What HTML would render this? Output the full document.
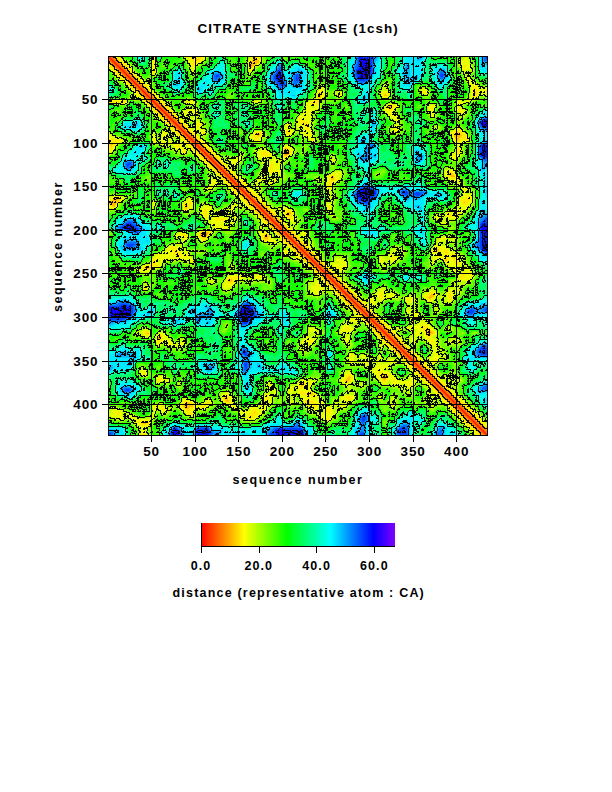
<!DOCTYPE html>
<html><head><meta charset="utf-8">
<style>
html,body{margin:0;padding:0;background:#fff;}
body{width:612px;height:792px;position:relative;overflow:hidden;font-family:"Liberation Sans",sans-serif;font-weight:bold;color:#000;}
.t{position:absolute;white-space:nowrap;line-height:1;}
#title{left:197.5px;top:21.7px;font-size:13.4px;letter-spacing:1.06px;}
.yl{position:absolute;font-size:13.5px;line-height:1;text-align:right;width:60px;letter-spacing:0.9px;}
.xl{position:absolute;font-size:13.5px;line-height:1;text-align:center;width:60px;letter-spacing:0.9px;}
.cl{position:absolute;font-size:12.5px;line-height:1;text-align:center;width:60px;letter-spacing:1.1px;}
#xlab{left:232.5px;top:473.5px;font-size:12.5px;letter-spacing:1.6px;}
#ylab{left:51.5px;top:311.5px;font-size:12.5px;letter-spacing:1.6px;transform-origin:0 0;transform:rotate(-90deg);}
#clab{left:172.5px;top:586.5px;font-size:12.5px;letter-spacing:1.2px;}
svg{position:absolute;left:0;top:0;}
</style></head><body>

<svg width="612" height="792" viewBox="0 0 612 792" shape-rendering="crispEdges">
<g><defs><clipPath id="pc"><rect x="108.0" y="56.0" width="380.0" height="380.0"/></clipPath></defs>
<g clip-path="url(#pc)">
<rect x="108.0" y="56.0" width="380.0" height="380.0" fill="#ff1500"/>
<path d="M490.5 435l-3 0l-125 -125l-253.5 -253.5l0 -3l16.5 -1l235 0l130 0l1 1l0 351l-1 30.5zM486.5 439l-381 0.5l-1 -1l0 -352l1 -29.5l3 0l378.5 378.5l-0.5 3.5z" fill="#ff4000" fill-rule="evenodd"/>
<path d="M490.5 434l-3 0l-12 -12l-365.5 -365.5l0 -3l380.5 -1l1 1l0 175l-1 205.5zM485.5 438.5l-375 1l-6 -1l1 -380.5l3 0l377.5 377.5l-0.5 3z" fill="#ff6a00" fill-rule="evenodd"/>
<path d="M490.5 432l-3 0l-42 -42l-333.5 -333.5l0 -3l378.5 -1l1 1l0 175l-1 203.5zM483.5 438.5l-373 1l-6 -1l1 -378.5l3 0l366.5 366.5l9 9l-0.5 3z" fill="#ff9500" fill-rule="evenodd"/>
<path d="M490.5 430l-3 0l-3 -2.5l-39 -39l-332 -332l0 -3l377 -1l1 176l-1 201.5zM481.5 438.5l-306 1l-71 -1l1 -377l3 0l332 332l39 39l2.5 3l-0.5 3zM251.5 65.5l0.5 -2l-1.5 0l0 2.5l1 -0.5zM390.5 107.5l0 -1.5l-2 0.5l0 1l2 0zM287 154.5l1 -2l-2.5 -2.5l-1 3.5l1 1.5l1.5 -0.5zM118 199.5l0 -1l-1.5 -0.5l-1.5 1.5l3 0zM206 235.5l1 -2l-1.5 -1l-3.5 1l1.5 2.5l2.5 -0.5zM429.5 334.5l1.5 -3l-3.5 -1l0 4l2 0zM159.5 338.5l0 -2l-1 0l-0.5 2l1.5 0zM386 378.5l0.5 -3l-4 0l0.5 3l3 0z" fill="#ffbf00" fill-rule="evenodd"/>
<path d="M490.5 428l-3 0l-4 -3l-38 -37.5l-52.5 -54l-258.5 -257.5l-19.5 -19.5l0 -3l36.5 -0.5l1.5 0.5l0.5 7l1 -7l2 -0.5l37.5 0.5l1 6l1.5 1.5l2 -1.5l-2.5 -2l0.5 -4l57 0l0 5l-4.5 5l1.5 5l4 -4l4 -2l0 -2l-3 -3l0 -4l3 0l232 -1l0 375.5zM479.5 438.5l-375 0l1 -232l0 -3l4 0l3 3l2 0l2 -4l4 -4l-5 -1.5l-5 4.5l-5 0l0 -57l4 -0.5l2 2.5l1.5 -2l-1.5 -1.5l-6 -1l-0.5 -37.5l0.5 -2l7 -1l-7 -0.5l-0.5 -1.5l0.5 -36.5l3 0l19.5 19.5l257.5 258.5l54 52.5l37.5 38l3 4l-0.5 3zM475.5 94.5l0 -3l-1.5 2l1.5 1zM321 97.5l0.5 -3l-2 -2l-1 5l1 1l1.5 -1zM386 96.5l1 -1l-1.5 -1.5l-1 1.5l1.5 1zM391.5 108.5l1 -2l-2 -1.5l-2.5 0.5l-1.5 2l2 2l3 -1zM458.5 140.5l1 -3l2.5 -2l-3.5 -4l-4 3l-0.5 2l2.5 4l2 0zM260 135.5l0.5 -2.5l-3.5 -0.5l0 3l3 0zM285.5 156.5l5 -4l-4 -5l-2 1.5l-1 3.5l0.5 3l1.5 1zM454.5 176.5l-3 -4l-3.5 0l2.5 4l4 0zM333.5 179.5l0 -3.5l-3 0.5l1 3l2 0zM469 198.5l-1.5 0l1.5 0zM465 202.5l-1.5 -1l0 1l1.5 0zM187 208.5l1 -3l-2.5 -1l-1.5 3l1.5 1.5l1.5 -0.5zM290.5 215.5l0.5 -3l-3 -1l-1.5 2l0 2l2 1l2 -1zM206 237.5l2.5 -5l-5 -1l-4 2l0.5 2l3.5 2.5l2.5 -0.5zM267.5 238.5l1 -2l-1 -2l-2 0l-2 1.5l1 3l3 -0.5zM436.5 251.5l2 -1l-0.5 -2l-3.5 1l0 1.5l2 0.5zM454.5 258.5l0.5 -3l-1.5 -0.5l-0.5 2.5l1.5 1zM447.5 260.5l-1 -3l-2 0l1 3l2 0zM148.5 269.5l2 -2l-1 -1l-5 1l1 1.5l3 0.5zM231.5 281.5l0 -2l-3 -1l-0.5 3l3.5 0zM431 298.5l2.5 -2l0 -3l-2 0l-3.5 4l0.5 1l2.5 0zM430 335.5l2.5 -2l0 -2l-3 -2.5l-3 -0.5l0 6.5l1 1l2.5 -0.5zM148 334.5l0.5 -1l-1.5 -1l-0.5 1.5l1.5 0.5zM160.5 339.5l1 -3l-2 -2l-2 1.5l-0.5 2.5l1.5 2l2 -1zM385 380.5l3 -5l-3.5 -1.5l-4 0.5l1 4l2 2l1.5 0zM348.5 381.5l2.5 -4l-1.5 -1.5l-4.5 4.5l1.5 1.5l2 -0.5zM302.5 386.5l1 -3l-1 -1.5l-2.5 2.5l1 2l1.5 0zM313 395.5l-0.5 -2l-3 -1l0 2l3.5 1zM229 401.5l-1.5 -4l-3 -1.5l-0.5 2.5l1 2l2.5 2l1.5 -1zM310.5 402.5l-1 -1.5l-2.5 0.5l0.5 1.5l3 -0.5zM188.5 409.5l1 -2l3 -1l0.5 -1l-1.5 -2l-4 -1.5l-4 4.5l1.5 2l3.5 1zM255 412.5l-1.5 -1l0 1l1.5 0zM251 416.5l-0.5 -1l0.5 1zM146.5 423.5l-1 -1.5l-2 1.5l3 0z" fill="#ffea00" fill-rule="evenodd"/>
<path d="M490.5 426.5l-3 0l-4 -3l-8 -10l-29 -27l-21.5 -23l-19.5 -18l-11 -13l-19 -17l-9 -10l-6 -5l-5 -6l-35 -33.5l-27 -29l-7 -5.5l-12.5 -14l-13 -12l-3.5 -5l-6.5 -5l-9.5 -10.5l-5 -3.5l-50 -51l-52 -51l-5.5 -7l-12 -11l0 -3l35.5 0l0 18l1 2.5l2 -2.5l-0.5 -18l2.5 -0.5l34 0.5l-1 7l2 8l2 -4l7.5 -5l0.5 -6l49 0l0 5l-3.5 5l2.5 7l4 -4.5l5.5 -3.5l0 -2l-2.5 -3l0 -4l1 0l232 -0.5l0 36l-5 0.5l-1 1l2 3l4 0l0.5 17l-0.5 316zM477.5 438.5l-315 0.5l-17 -0.5l0 -4l-3 -2l-1 1l-0.5 5l-36 0l0.5 -232l0 -1l4 0l3 2.5l2 0l3.5 -5.5l4.5 -4l-7 -2.5l-5 3.5l-5 0l0 -49l6 -0.5l5 -7.5l4 -2l-8 -2l-7 1l-0.5 -34l0.5 -2.5l18 0.5l2.5 -2l-2.5 -1l-18 0l0 -35.5l3 0l11 12l7 5.5l51 52l51 50l3.5 5l10.5 9.5l5 6.5l5 3.5l12 13l14 12.5l5.5 7l29 27l33.5 35l6 5l5 6l10 9l17 19l13 11l18 19.5l23 21.5l27 29l10 8l3 4l-1 3zM465.5 68.5l1 -3l-2 -1l-1 3l1 1.5l1 -0.5zM477 96.5l1.5 -6l-3 -4l-2 -1l-1.5 11l1.5 1l3.5 -1zM318.5 106.5l-0.5 -5l4.5 -5l-1 -6.5l-3.5 2.5l-1.5 7l-5.5 2l-2 2l6.5 1l2 2l1 0zM426.5 93.5l-1 -3l-2.5 0l0.5 2.5l3 0.5zM341.5 94.5l-1 -2.5l-2.5 1.5l1.5 1.5l2 -0.5zM387 97.5l1.5 -2l-0.5 -2l-4.5 -1.5l-1 1.5l1 3l3.5 1zM256 102.5l0.5 -1l-1.5 0l1 1zM461 103.5l0 -2l-2.5 0l0 2l2.5 0zM193 102.5l-1.5 0l1.5 0zM390.5 110.5l7 -4l-7 -2.5l-3 1l-2 2.5l0 2l2 2l3 -1zM431.5 109.5l2.5 -2l0 -2l-4.5 1l0 2l2 1zM461.5 111.5l-1.5 -3l-2.5 0l1 3l3 0zM309.5 130.5l-1 -7l-9 -5.5l-1 2.5l1 3l4 2l3 4.5l3 0.5zM199 128.5l0.5 -4l-2 -1l-1 4l2.5 1zM459.5 142.5l3 -3.5l4 1.5l1 -1.5l-1 -2.5l-6 -6l-3 -1l-5.5 4l3.5 8l2 1.5l2 -0.5zM289.5 134.5l1 -2l-4 -3l-1 1l1 3l2 1.5l1 -0.5zM204.5 133.5l0 -2l-3.5 0l1.5 2l2 0zM258 139.5l4.5 -5l-2 -3l-4 0l-5 5l3 3l3.5 0zM308.5 135.5l-1.5 0l1.5 0zM154.5 140.5l0 -1l0 1zM313.5 140.5l-2 -1l2 1zM181 146.5l-2.5 -2.5l-3.5 2.5l6 0zM286 157.5l6.5 -5l-3.5 -5l-2.5 -1.5l-2.5 1.5l-1 5l0.5 4.5l1 1l1.5 -0.5zM455 157.5l5.5 -6l-1 -3.5l-1.5 0.5l-1.5 5l-3 2.5l0 1.5l1.5 0zM185.5 152.5l0 -2l-2 -1.5l0 3.5l2 0zM269.5 155.5l1 -1l-5 -4l-4.5 2l0.5 3l8 0zM233.5 163.5l-1 -1.5l1 1.5zM271.5 173.5l2 -3l-0.5 -6l-1.5 -2l-2 2l0 7l1 2l1 0zM456 178.5l-0.5 -3l-3 -4l-3 -1l-3 0.5l0 3.5l2 3l4 1.5l3.5 -0.5zM330 188.5l1.5 -6l4.5 -3l-2 -5l-2.5 0l-3 2l1 4l-2 3l0 3l1 2.5l1.5 -0.5zM215.5 181.5l-1.5 -1l1.5 1zM466.5 206.5l1.5 -4l3 -2l-0.5 -4.5l-4 0l-2 3l-4 1.5l0.5 3l5.5 3zM188 209.5l4 -5l-2.5 -5l-5.5 4l-0.5 2l1 4.5l3.5 -0.5zM154 204.5l0.5 -1l-1 -0.5l0.5 1.5zM330 208.5l0 -3l-1.5 -1l-1 3l1 1.5l1.5 -0.5zM207 218.5l0.5 -9l-2 -1l-2 1.5l-1 3.5l4.5 5zM291.5 218.5l1.5 -6l-2 -2l-3.5 -0.5l-3 3.5l0 1.5l4 3.5l3 0zM451.5 217.5l0 -4.5l-3 -0.5l-1 2l0.5 2l3.5 1zM223.5 221.5l2 -2l-1 -1.5l-10 0.5l1 2l8 1zM206 239.5l4 -6l-0.5 -2l-6 -0.5l-5 2l-0.5 1.5l1.5 2.5l4 3l2.5 -0.5zM268 240.5l2.5 -1l0.5 -2l-3.5 -5l-2 0l-3.5 3l0.5 3l2 2.5l3.5 -0.5zM305 235.5l1 -2l-3 0l2 2zM185 238.5l1.5 -1l0 -2l-4 -2l-1 1l3.5 4zM182.5 257.5l-0.5 -3l-4.5 -3l-2 -4l-3 -1l-2.5 1l5.5 9l7 1zM438 252.5l3 -2l0 -2l-3.5 -1.5l-4 1.5l-1 2l1 2.5l4.5 -0.5zM448 263.5l1.5 -2l-1.5 -10l-1.5 -2.5l-2 -0.5l-1.5 2l1.5 4l-2 3l3 4.5l2.5 1.5zM287.5 253.5l-0.5 -2l-1.5 -0.5l-0.5 2.5l2.5 0zM459.5 264.5l0.5 -2l-3 -2l0 -6l-4.5 -1.5l-2 2.5l1.5 4l4.5 5.5l3 -0.5zM188 256.5l-0.5 -1.5l0.5 1.5zM149 270.5l4.5 -4.5l5 0.5l-2 -2.5l-1 -7l-2 2l-2 5.5l-7 1.5l-2.5 3.5l7 1zM394 260.5l1.5 -2.5l-3 -1l-1 2.5l2.5 1zM192.5 260.5l-1 -1l0 1.5l1 -0.5zM340 268.5l-1.5 -2.5l-4 -0.5l3.5 3l2 0zM472.5 276.5l0 -2.5l-2.5 -1.5l-0.5 4l1 1l2 -1zM465 278.5l-0.5 -4l-3 -0.5l-1.5 1.5l0.5 3l4.5 0zM232.5 283.5l2 -4l6 -1.5l0.5 -1.5l-4.5 -1l-4 2l-4 -1l-2 3l0 3l4 1.5l2 -0.5zM261 277.5l-2.5 -2l-2 1l2 2l2.5 -1zM321 287.5l-3.5 -5l1 4.5l2.5 0.5zM146.5 289.5l0.5 -2l-1.5 -1.5l-1 3.5l2 0zM381.5 299.5l1.5 -3l-2.5 -5l-2 4l1 3l2 1zM431 300.5l4.5 -5l-1 -3l-2 -1.5l-8 5.5l4 4.5l2.5 -0.5zM451.5 299.5l0.5 -3l-1.5 -4l-1 0l-1.5 2l0.5 4l1 1.5l2 -0.5zM408.5 301.5l1.5 -2l-2.5 -1.5l-1 2l2 1.5zM373 303.5l-0.5 -3.5l-2 0l0 2l2.5 1.5zM355.5 320.5l-1.5 -2l-2 0l0.5 2l3 0zM428.5 338.5l6.5 -5l-0.5 -2l-7 -5.5l-6 -0.5l-0.5 2l3.5 3l2 7l2 1zM350 330.5l1.5 -2l-2 -1.5l-3 -0.5l-3 2l6.5 2zM149 335.5l0.5 -2l-1 -2l-4 -1l-1 2l1.5 3l4 0zM159.5 344.5l4 -8l-2 -3l-3 0.5l-2 3.5l1.5 7l1.5 0zM311 343.5l1.5 -3l-3 -1l-0.5 3l2 1zM432.5 343.5l1.5 -1l-0.5 -2l-4 0l1 2l2 1zM352 357.5l1.5 -2l-2.5 -1l-1 2l2 1zM437 360.5l0.5 -3l-2 0l-1 3l2.5 0zM385.5 382.5l5 -7l-8 -3l-3 -3.5l-2 0.5l1 7l5 6l2 0zM145.5 374.5l-0.5 -3l-2.5 -0.5l0 2.5l3 1zM347.5 383.5l3 -2l2.5 -4l-4.5 -5l-5.5 8l1.5 2l3 1zM160 381.5l1.5 -3l-3 -1l-1 4.5l2.5 -0.5zM395 381.5l-0.5 -3l-2 -1l0 4l2.5 0zM303 388.5l2.5 -6l-3 -2l-3 2l-0.5 3l1.5 3.5l2.5 -0.5zM412 385.5l0.5 -3l-3 1l0 2l2.5 0zM315.5 396.5l-0.5 -2l-5.5 -4l-3 2l-4 -1.5l-2 1.5l0.5 2l2.5 1.5l3 -0.5l6 2l3 -1zM231 403.5l-1.5 -7l-3 -2l-3.5 0l-0.5 3l1 3l4 3l3.5 0zM269.5 399.5l-1 -3.5l-2 -0.5l-2 1l0.5 3l4.5 0zM351.5 399.5l0.5 -2l-1.5 -1l-4 -0.5l-2 1.5l0 1l4 1.5l3 -0.5zM316.5 407.5l0.5 -3l-4.5 -4l-4 -1.5l-3 0.5l-0.5 2l1.5 3.5l6 0l2 3l2 -0.5zM191.5 415.5l1 -1l-1.5 -4l3.5 -3l0.5 -2l-3 -3l-6.5 -2.5l-4 5.5l0 2l7 7l3 1zM205 407.5l1.5 -2.5l3 -2l0 -1.5l-1.5 0l-2.5 3l-5.5 2l1.5 2l3.5 -1zM163.5 409.5l0 -3l-3 -1l0.5 3l2.5 1zM154.5 409.5l1.5 -2l-1.5 -1.5l-1.5 1.5l1.5 2zM330 413.5l0.5 -5l-3 -0.5l-1.5 1.5l0.5 3l3.5 1zM253.5 418.5l1 -2.5l4 -1.5l-3 -5l-2 -1l-2.5 4l-3 2l-0.5 3l2 1.5l4 -0.5zM119.5 414.5l1 -2.5l-3 -0.5l-0.5 3l2.5 0zM329 420.5l0.5 -2l-1 -1l-4 0.5l1.5 2.5l3 0zM144 426.5l4.5 -1.5l0.5 -4.5l-11.5 1l3 4l3.5 1z" fill="#eaff00" fill-rule="evenodd"/>
<path d="M490.5 424.5l-3 0l-5 -3.5l-6 -8l-8 -6.5l-5 -6.5l-27 -25l-11 -12.5l-20 -18l-10 -13l-20 -17l-7 -10l-7 -4l-5 -7l-4.5 -3l-12.5 -14l-18 -16l-10.5 -12l-1.5 -4l-5.5 -2l-10.5 -12.5l-6.5 -4.5l-9.5 -9.5l-2.5 -4.5l-4.5 -3l-9 -9l-3 -5l-7 -5l-9 -11l-5 -2.5l-50 -51.5l-9 -7.5l-27 -26.5l-3 -5.5l-14 -11.5l-3.5 -6l-11.5 -10l-1 -4l33.5 0l-0.5 18l2 4l2 -1.5l1 -2.5l-1 -18l2 -0.5l28.5 0.5l-0.5 4l5 7l2 8l3 -7l7 -4l2.5 -3l0.5 -5l44.5 0l0 4l-2.5 5l1.5 9l1.5 1l4 -5l6 -4l0.5 -3l-1.5 -3l0 -4l231 -0.5l0 35l-10 1l-12 -12l-1 -0.5l-1 2l4.5 7l-0.5 13.5l7 -1.5l4 -5.5l5 3l4 0.5l0.5 3l-0.5 326zM471.5 70.5l-1.5 -8l-3.5 -5.5l-3 3.5l-3 1l2 7l2 2.5l3 -1l4 0.5zM476.5 438.5l-326 0.5l-3 -0.5l-0.5 -4l-3 -5l5.5 -4l1.5 -7l-13.5 0.5l-7 -4.5l-2 1l0.5 1l12 12l-1 10l-35 0l0.5 -231l4 0l3 1.5l3 -0.5l4 -6l5 -4l-1 -1.5l-9 -1.5l-5 2.5l-4 0l0 -44.5l5 -0.5l3 -2.5l4 -7l7 -3l-8 -2l-7 -5l-4 0.5l-0.5 -28.5l0.5 -2l18 1l2.5 -1l1.5 -2l-4 -2l-18 0.5l0 -33.5l4 1l10 11.5l6 3.5l11.5 14l5.5 3l26.5 27l7.5 9l51.5 50l2.5 5l11 9l5 7l5 3l9 9l3 4.5l4.5 2.5l9.5 9.5l4.5 6.5l12.5 10.5l2 5.5l4 1.5l12 10.5l16 18l14 12.5l3 4.5l7 5l4 7l10 7l17 20l13 10l18 20l12.5 11l25 27l6.5 5l6.5 8l8 6l3.5 5l0 3zM386 85.5l-0.5 -1l-1 1l1.5 0zM315 141.5l0.5 -2l-3.5 -3l0.5 -3l-1.5 -10l1 -10l1.5 -3l6.5 -3l0 -6l4 -6l0 -7l-1.5 -2l-5 5l-1.5 7l-5.5 2l-4 3l-1 9l-5 2.5l-3.5 4.5l0.5 8.5l3 -1.5l2 0l1.5 3l-1.5 3l2.5 4l4 2l2.5 3l3.5 0zM427 94.5l1 -2l-1 -2l-2.5 -2l-2.5 1l0.5 4l4.5 1zM388.5 97.5l1 -3l-1.5 -3l-3.5 -2l-3 2l-0.5 2l2.5 4.5l3 0.5l2 -1zM341.5 95.5l1.5 -2l-1.5 -2l-2 0l-3 2l2 2.5l3 -0.5zM255.5 103.5l4 -2l-5 -1l-1 2l2 1zM462.5 114.5l2 -1l0.5 -2l-5 -5l4 -4l-5.5 -2l-1.5 2l1 3l-2 3l0.5 2l4 3.5l2 0.5zM468.5 101.5l1 -1l-1 -0.5l-3.5 1.5l3.5 0zM195 103.5l-0.5 -2l-2 -1l-7.5 1l5.5 2.5l4.5 -0.5zM397.5 132.5l1.5 -2l-1.5 -14.5l-1 -1.5l-4 1l0 -3l1.5 -3l4 -2l0.5 -1.5l-9 -2.5l-4.5 3l-1 4l13 12l-1 4l-3.5 3l1.5 3l3.5 0zM433.5 116.5l1 -2l-1.5 -4l2.5 -5l-5 -1l-2 2l0 4l3.5 6l1.5 0zM312.5 108.5l-1 -2l2 -1l1 2l-2 1zM187 115.5l3.5 -2.5l6 1l0.5 -3.5l-1.5 -1.5l-3 0l-9 2.5l0 3.5l2 1l1.5 -0.5zM195 119.5l0.5 -1l-1 -1l-2.5 1l3 1zM205 134.5l1 -2l-0.5 -2l-5 -2l1 -5l-5 -2.5l-1.5 5.5l1 3l5.5 4.5l3.5 0.5zM289 136.5l4.5 -5l-4.5 -3l1 -4l-1.5 -1l-2 1l-2.5 5l2.5 6l2.5 1zM437 127.5l-3 0l3 0zM455.5 159.5l5.5 -7l-1 -8l2.5 -3l5 0l1 -2l-1 -4l-9 -8l-8 5l4 9.5l3.5 3.5l-2 6l-4.5 5l1 2.5l3 0.5zM259.5 140.5l3.5 -4l0 -4l-2.5 -2l-5 0.5l-5.5 6.5l4.5 3.5l5 -0.5zM165 145.5l1 -1l-0.5 -7l2.5 -3l-2.5 -3.5l-3 1.5l-1.5 9l0.5 3l3.5 1zM155.5 142.5l0.5 -4l-2.5 -5.5l-1 7.5l1 2l2 0zM171 143.5l0.5 -2l-1 -1.5l-1 2.5l1.5 1zM186 153.5l0.5 -3l-5 -6.5l-3 -1l-5.5 1.5l2.5 5l5 -1l2 5l3.5 0zM285.5 159.5l7 -5l1 -2l-3 -6l-4 -1.5l-3 1.5l-1 5l0.5 8l0.5 1l2 -1zM262 158.5l9.5 -1.5l1 -1.5l-6 -6l-6 0.5l-2.5 1.5l-0.5 5l2 3l2.5 -1zM236 165.5l4.5 -5.5l1 -5l-5 4l-6.5 1.5l2.5 4l3.5 1zM280.5 176.5l1.5 -2l-1.5 -7l0.5 -5l-3.5 -0.5l-2 1.5l1.5 -3l-2.5 -2.5l-6.5 4.5l0.5 11l2 2l6 -4l4 5zM334 162.5l0.5 -2l-2 -2l0 4l1 1l0.5 -1zM460.5 184.5l-0.5 -4l-6.5 -10l-5 -1.5l-3 1l-1 4.5l1.5 3l4.5 2.5l5 1l4 4.5l1 -1zM331 190.5l1.5 -6.5l5.5 -3.5l2.5 -3.5l1 -3.5l-1 -2l-4 0l-9.5 5l0 13l2.5 2l1.5 -1zM259 188.5l-1 -5l6.5 -5l-1 -3l-6.5 6l-0.5 5l2.5 2zM208 189.5l4 -1l6 -5l-3.5 -5l-3 0l-0.5 5l-4 6l1 0zM271.5 183.5l4 -2l0.5 -2l-2.5 -0.5l-2 3l-3.5 1.5l3.5 0zM455 219.5l9 -7l8.5 -11l-0.5 -8l-5.5 0.5l-1 -1.5l2 -3l-4 -2l-1 1l1 8.5l-4 1l-0.5 1.5l0.5 5l2.5 3l-2.5 0l-2 1.5l-2 7.5l-1.5 -1l-1.5 -4l-2 -0.5l-3 1l-2.5 3.5l3.5 3.5l6.5 0.5zM187 211.5l6 -5l-0.5 -5l-3 -3.5l-7 6.5l1 6l3.5 1zM154 207.5l1.5 -4l-2 -2.5l-1 3.5l1.5 3zM330 211.5l1.5 -5l-1 -3l-2 -0.5l-1.5 0.5l-0.5 3l1 3l2.5 2zM230.5 212.5l5 -6.5l5.5 0.5l-2.5 -2l-5 0.5l-6 5.5l1 2l2 0zM208 220.5l1.5 -9l2 -4l-3 -2l-5 0.5l-2 3.5l0 4.5l4 5.5l2.5 1zM294.5 223.5l-0.5 -12l-10.5 -5l-1.5 2l2.5 2l-1.5 3l1 2l9.5 8.5l1 -0.5zM439.5 219.5l3 -3l-4 -1.5l-3 0.5l0 3l4 1zM228 229.5l0 -2l-4.5 -3l4 -5l-1 -2.5l-13 -0.5l-3.5 6l2.5 2.5l3 -1.5l-1.5 2l0.5 3.5l13.5 0.5zM233.5 223.5l2.5 -5l-0.5 -2.5l-1.5 3.5l-3 2l0.5 2.5l2 -0.5zM446 223.5l-1.5 -2l-4 1l2 1.5l3.5 -0.5zM204.5 241.5l7 -8l1 -2l-1 -0.5l-9 -0.5l-5 2l-0.5 2l1.5 4l4 3l2 0zM275.5 242.5l0.5 -1l-8.5 -9.5l-2 -1l-3 1.5l-2 -2.5l-2 1.5l5 10.5l12 0.5zM185.5 240.5l3 -4l-2.5 -3l-5.5 -1.5l-5 3.5l1 2.5l3 -1.5l2 1l2 4l2 -1zM306.5 236.5l1 -4l-3 -1l-3 1l1 4l4 0zM439 242.5l1.5 -1.5l4 0l2 -2.5l-0.5 -1l-3.5 -1l-2.5 1l-2.5 4l0 1.5l1.5 -0.5zM454 239.5l0.5 -1.5l-2 -0.5l0 2l1.5 0zM149.5 271.5l4 -3.5l6.5 -0.5l2.5 -6l2 -1.5l11 -1l10 1.5l3 -0.5l4 4l1 -4.5l-3 -2.5l-2 -4l-3.5 -2.5l-3.5 1.5l-3 -1.5l0 -2l1.5 -3l-9.5 0l-3.5 3l-2.5 5l-9 1l-3 4l-2 5.5l-7 1.5l-5 5l4 1.5l7 -0.5zM458 271.5l-0.5 -3l4.5 -5l-0.5 -2l-3.5 -3l1.5 -3l-0.5 -1l-8.5 -4l-6 -5l-3 0.5l-4 -1.5l-4 2.5l-2 3.5l1.5 7l-0.5 4l1 1l4 -3.5l4 0l5 5.5l4.5 3l2.5 4l3 1l1.5 -1zM286.5 255.5l2.5 -2l-0.5 -3l-4 -1l-0.5 5l2.5 1zM395 261.5l2.5 -3l-4.5 -5l3 -3l-1.5 -1l-5.5 6l1.5 6l4.5 0zM383 263.5l2.5 -4l-2.5 -2l-2.5 -0.5l-0.5 4.5l1.5 2.5l1.5 -0.5zM342 272.5l5 -6l-2 -6l-8.5 -2l-0.5 2l2.5 2l-6 0.5l0 2.5l9.5 7zM159.5 262.5l-2 -1l1 -2l2 1l-1 2zM384.5 268.5l0 -2.5l-1 1.5l1 1zM468 281.5l5 -4l1 -2l-2.5 -4.5l-5 -4l-2 1.5l0 3l-6 1.5l0 6.5l1 1.5l8.5 0.5zM226.5 289.5l6 -3.5l3.5 -5.5l6.5 -1.5l1 -1.5l-1 -2l-6 -1l-4 1l-4.5 0l-5 11l0.5 2l3 1zM261 279.5l2 -1l-0.5 -2.5l-5 -1.5l-2.5 1l0 2l1.5 1.5l4.5 0.5zM213.5 282.5l2 -1l-1 -1l-4 0l3 2zM319.5 294.5l5 -5l-6 -8.5l-3 -0.5l-1 6l-3 -2.5l-1.5 2.5l2.5 6.5l5 2l2 -0.5zM146.5 290.5l1.5 -3l-2.5 -3l-2 4l1 2l2 0zM381 301.5l4.5 -4l8.5 -1l0.5 -2l-2 -2l-7 3.5l-1.5 -2.5l0.5 -5l-4 0.5l-4.5 5.5l3 6l2 1zM449.5 302.5l4 -4l0 -6l1 -2l2 3l3 -1l-2 -5l-3 3l-4 -1.5l-3.5 3.5l0 8l2.5 2zM432 301.5l5 -6l-1 -3l-3.5 -3l-5 3.5l-3 1l-1.5 2.5l5.5 5.5l3.5 -0.5zM410.5 302.5l4.5 -2l-0.5 -3l-3 -1l-5.5 1l-0.5 2l1 3l2 1l2 -1zM376 305.5l-3.5 -9l-3.5 3l0 3l1.5 1.5l5.5 1.5zM409.5 312.5l1 -1l-1 -1.5l-3 0l0.5 2.5l2.5 0zM411.5 318.5l6.5 -2l0 -3l-4.5 -1.5l-1.5 1.5l-0.5 5zM358 323.5l-2 -5l-1.5 -1.5l-3 0l-3 3.5l9.5 3zM434.5 363.5l4 -3l1.5 -3l-4 -5l1 -5l-1 -8l-4 -2l4.5 -3l0 -3l-13 -11.5l-6 5l-10 2.5l-0.5 1l2.5 0.5l7.5 -0.5l-2 4l0 4l4.5 0l2 -4.5l2 1l1.5 5.5l8 8l0 10l-4.5 3l4 4l2 0zM348 342.5l1.5 -9l4 -5l-7 -4.5l-4 2.5l-2.5 5l1.5 1.5l4 -1l2.5 1.5l-3.5 7l2 2l1.5 0zM313.5 332.5l2.5 -3l-3.5 -2l-3 0.5l-0.5 1.5l1.5 3l3 0zM451 328.5l-1.5 -1l-1.5 1l3 0zM400 329.5l-1.5 -2l-2 1l1 1l2.5 0zM149.5 336.5l0.5 -5l-4.5 -2.5l-2 0.5l-2 3l2 3.5l3 1.5l3 -1zM138 333.5l-0.5 -1l-1 1l1.5 0zM183.5 346.5l1.5 -3l-1.5 -2.5l-2 -0.5l-3 3.5l-4 1l-6 -5.5l-5 -7l-4 0l-3.5 4l-0.5 3l2.5 7l1.5 -0.5l2 -4l3 -1.5l3 0l-1 4l1.5 1l15.5 1zM320.5 332.5l-1 -1l-1.5 1l2.5 0zM312 344.5l2 -5l-4.5 -2.5l-3.5 0.5l-4.5 5l1 1.5l3 -3l4 4l2.5 -0.5zM415 343.5l-0.5 -6l-2 -1l-1.5 2l0.5 3l2 2.5l1.5 -0.5zM458.5 342.5l1 -1l-2.5 -1l-0.5 1l2 1zM451 342.5l0.5 -2l-2 1l0 1l1.5 0zM382 347.5l-0.5 -2.5l-2 0.5l1 2.5l1.5 -0.5zM441 351.5l-1.5 -1.5l-1.5 1.5l1.5 1l1.5 -1zM353 362.5l2 -7l-4.5 -2.5l-1.5 1.5l-0.5 6l2 3l2.5 -1zM364.5 357.5l0 -2.5l-2.5 -0.5l0 3l2.5 0zM411 387.5l5 -6l-3.5 -4.5l-2 0l-0.5 2.5l-1.5 1.5l-10 0l-8 -8l-6.5 -2.5l4.5 -3l0 -4.5l-4 0l-4 2l0.5 -7.5l-0.5 -2.5l-1 0.5l-2.5 10l-5 6l10.5 12l4 1l3 -4.5l2 4l8 1l5 -1l4 3.5l2.5 0zM368 366.5l2.5 -7l-5 0.5l-1.5 1.5l1 4l3 1zM396 362.5l-3.5 -3.5l-2 0l-2 1.5l1 2l6.5 0zM146 375.5l1 -2l-1.5 -3l-4 -0.5l-1 2.5l1.5 2l1.5 1.5l2.5 -0.5zM348.5 384.5l4 -3l2 -4l-6 -6.5l-2.5 1.5l-1 3l-3.5 5l4 4.5l3 -0.5zM160 382.5l3.5 -2l4 2l1 -2l-6 -4l-3 -0.5l-2.5 1.5l-0.5 4l1 2l2.5 -1zM447 377.5l-1 0l1 0zM459 379.5l-1 0l1 0zM317 409.5l2.5 -3l4 -0.5l1 -1.5l-1 -3l-4 -2.5l-3 -4.5l-5.5 -5l0 -4l3.5 -4l-11 -2l-3 1l-4 5l1.5 8l4.5 5l4 8.5l1 0.5l3 -1.5l3 3.5l3.5 0zM180 384.5l-0.5 -2.5l0.5 2.5zM269 389.5l3 -3l-1.5 -3l-2 -0.5l-1.5 2.5l1.5 5l0.5 -1zM291 394.5l2 -2l0 -4l2.5 -2l-0.5 -1l-2.5 0l-3.5 3l0 4l2 2zM404 388.5l0 -2l-1.5 0l0 2l1.5 0zM276 393.5l0 -3l-1.5 -2l-1 4.5l1 1l1.5 -0.5zM237.5 408.5l-4.5 -5l-1 -6l-3 -4l-2.5 -1l-5 1.5l0 4.5l1 3l10 6.5l5 0.5zM253.5 420.5l11 -8.5l7 -9.5l-0.5 -6l-2.5 -3.5l-4 2l-1.5 3.5l0.5 2l4 1.5l1 1.5l-7.5 2l-1.5 2l0 2.5l-3 -2.5l-5 -0.5l-1.5 0.5l0 3l-1.5 1l-9 -1l2 5l3 -2l1.5 1l-0.5 5.5l8 0.5zM344.5 407.5l1 -3l-3 -2l2 -1l7 -0.5l3 -2.5l-1 -3l-7 -1l-5 3l-0.5 3l1.5 2l-3 3l3 2l2 0zM429.5 394.5l-0.5 0l0.5 0zM380.5 398.5l0 -2.5l-1 1.5l1 1zM394 399.5l0.5 -2l-1 0l-1 2l1.5 0zM193 416.5l1 -2l-1 -3l1.5 -2l3 -2l3 1.5l5 0l6 -5.5l-0.5 -3l-3.5 -0.5l-4 4l-6 2l-3.5 -3.5l-10 -4l-4.5 7l0.5 2l7.5 8l5.5 1zM291 402.5l1 -1l-1.5 -1.5l-1 1.5l1.5 1zM165.5 412.5l0.5 -4l-3.5 -4l-2 -0.5l-3 2l-3 -1l-2 1.5l2 5.5l4 -4l4.5 4.5l2.5 0zM393.5 407.5l1 -2l-2 -0.5l1 2.5zM329 421.5l5 -6l-1 -8l-8 -1l-1.5 6l-4 0.5l-0.5 2.5l5.5 5l4.5 1zM123 418.5l-1 -2l0.5 -5l-8 -3.5l-5.5 6.5l5.5 3.5l8 1.5l0.5 -1zM152.5 417.5l1.5 -2l-0.5 -2.5l-1 4.5z" fill="#bfff00" fill-rule="evenodd"/>
<path d="M486.5 419.5l-3 0.5l-7 -9l-19 -17l-3 -5.5l-6.5 -4l0 -2l1.5 0l6 4.5l0 -3.5l6 -3l-1 -2l-4 -1.5l-4 1.5l-7 -3.5l-5 1.5l-3 -2l-4.5 -7l-0.5 -1l9 -7.5l5 0l0.5 -2.5l-8 -10l-1.5 -15.5l-8 -8.5l-8 -5l-5 -8l1 -10l-2 -3.5l-4 -1.5l-7 3l1 5l4 4l-4 3l-0.5 2l4 4l0.5 4l2.5 4l-1.5 2l-4 1l-2 2l8 3l0.5 2l-4 6l4.5 6.5l2 0.5l2 -7l4 -1l9.5 8l0 8l-3.5 3.5l-1 3l-20 -17.5l-3.5 -5l-3.5 -3l-1.5 -4l2.5 -1l1 -2l-4 -2l-3 1.5l-3 -1l-14.5 -12.5l-3.5 -5l0 -1.5l3.5 -0.5l1.5 -4l3 -0.5l5 -3.5l11 -0.5l1.5 -1.5l-0.5 -2l-5 -4.5l-6 1l-3 -6l-6 3l-6 5l-5 6.5l-5 -1l-4 -7l-6 -3l-2.5 -4l-6.5 -6l-1 -4l2 -5l4 -4l-2 -8l-11 -2l-6 8l-3 -1.5l-4.5 -3.5l-1.5 -5l-8 -6.5l0.5 -5.5l-1.5 -2l-2 -0.5l-3 2l-2 -1.5l0 -1.5l3 -1.5l1.5 -4l-0.5 -2l-4 -0.5l-6 1.5l-4.5 -5l2 -2l0.5 -3l-2 -12l-10 -5.5l-8 4.5l-2 -0.5l-11.5 -10.5l-3.5 -6l1.5 -2l-1 -7l1.5 -1.5l3 0l2 3l4 0.5l7 -4l1 -3.5l4 -0.5l0.5 -5l-1 -7l6.5 -7.5l5 -3.5l1.5 -4l-1 -2l-4.5 -3.5l-5 -0.5l-2 3l-1 10l-1 2l-6 -3l-8 -8l-5 -0.5l-6 2.5l-1 2l3 6.5l4 3l1.5 3.5l-3.5 11l-6 7l2 5l-2 0.5l-9.5 -10.5l-5.5 -3.5l-6.5 -7.5l4.5 0l5 -7l2 -6l-1 -2l-2 0.5l-4 4.5l-9 1l0 4l-4 -2.5l-21.5 -22.5l0 -1l4.5 -2l0.5 -3l-5 -4l2 -4l-5 -4l0.5 -5l-2 -5.5l-2 -1.5l-5 0.5l-7 2l-1.5 2.5l1 3l3.5 2.5l2 3.5l6 0.5l-0.5 4.5l-1.5 1l-5 -5.5l-9 -6.5l-12 -14l-6.5 -4l-8 -8l-1 -3l0.5 -4l-2 -4l-3 3l-10 -7.5l-4 -6.5l-11.5 -10l-1 -4l31.5 0l-0.5 19l1 3l1.5 0.5l2 -1l1.5 -3.5l-1 -5l-0.5 -13l2 -0.5l26.5 0.5l0 4l3 3l5.5 14.5l1.5 -1.5l2 -7l8.5 -5.5l2 -2.5l0 -5l2 0l40.5 0l0 4l-2.5 5l3 12.5l6 -7.5l6 -4l0.5 -3l-1 -7l202 0l0 4l-4.5 3l0 3l6 11l2 7l3 4l1 6l-2.5 7l-3.5 2l-6 -0.5l-2 1.5l-1.5 8l4 6l-1 5l2.5 0l6 -7.5l0 -2.5l-4.5 -4l1 -2l14.5 -6l4 -3.5l9 1.5l0 3l0.5 305l-0.5 14.5l-4 0.5zM490.5 87l-10 0l-10.5 -10.5l-0.5 -2.5l3.5 -3.5l-1.5 -8l-2.5 -4l0 -5l22 0l-0.5 33.5zM470.5 438.5l-320 0l-2 0l-1.5 -9l3.5 -4l6 -14.5l2 -1l4 4.5l2.5 0l7.5 -6l0 -2.5l-5 1l-6 -4l-8 1.5l-1.5 2l0.5 6l-2 3.5l-7 2.5l-6 -1l-4 -3l-7 -2l-11 -6l-3 0l-3 4.5l-4 0l0 -202l7 1l3 -0.5l4 -6l7.5 -6l-12.5 -3l-5 2.5l-4 0l0 -40.5l0 -2l5 0l2.5 -2l5.5 -8.5l7 -2l1.5 -1.5l-14.5 -5.5l-3 -3l-4 0l-0.5 -26.5l0.5 -2l13 0.5l5 1l3.5 -1.5l1 -2l-0.5 -1.5l-3 -1l-19 0.5l0 -31.5l4 1l10 11.5l6.5 4l7.5 10l-3 3l4 2l4 -0.5l3 1l8 8l4 6.5l14 12l6.5 9l5.5 5l-1 1.5l-4.5 0.5l-0.5 -6l-3.5 -2l-2.5 -3.5l-3 -1l-2.5 1.5l-2 7l-0.5 5l1.5 2l5.5 2l5 -0.5l4 5l4 -2l4 5l3 -0.5l2 -4.5l1 0l22.5 21.5l2.5 4l-4 0l-1 9l-4.5 4l-0.5 2l2 1l6 -2l7 -5l0 -4.5l7.5 6.5l3.5 5.5l10.5 9.5l-0.5 2l-5 -2l-7 6l-11 3.5l-3.5 -1.5l-3 -4l-7.5 -3l-3.5 6l0.5 5.5l8 8.5l3 6l-14 3l-1.5 3l2.5 5.5l3 3l5 -1.5l3.5 -5l7.5 -6.5l7 1l5 -0.5l0.5 -4l3.5 -1l4 -7l-0.5 -4l-3 -2l0 -3l1.5 -1.5l7 1l2 -1.5l6 3.5l10.5 11.5l0.5 2l-4.5 8l5.5 10l12 2l3 -0.5l2 -2l5 4.5l-1.5 6l0.5 4l2 0.5l4 -1.5l1.5 -3l1.5 0l1.5 2l-2 3l0.5 2l2 1.5l5.5 -0.5l6.5 8l5 1.5l3.5 4.5l1.5 3l-8 6l2 11l8 2l4 -4l5 -2l4 1l6 6.5l4 2.5l3 6l7 4l1 5l-6.5 5l-5 6l-3 6l6 3l-1 6l4.5 5l2 0.5l1.5 -1.5l0.5 -11l3.5 -5l0.5 -3l4 -1.5l0.5 -3.5l1.5 0l5 3.5l12.5 14.5l1 3l-1.5 3l2 4l2 -1l1 -2.5l4 1.5l3 3.5l5 3.5l17.5 20l-3 1l-3.5 3.5l-8 0l-8 -9.5l1 -4l7 -2l-0.5 -2l-6.5 -4.5l-6 4l-2 -0.5l-3 -8l-2 2l-1 4l-2 1.5l-4 -2.5l-4 -0.5l-4 -4l-2 0.5l-3 4l-4 -4l-5 -1l-3 7l1.5 4l3.5 2l10 -1l8 5l5 8l8.5 8l15.5 1.5l10 8l2.5 -0.5l0 -5l7.5 -9l1 0.5l7 4.5l2 3l-1.5 5l3.5 7l-1.5 4l1.5 4l2 1l3 -6l3.5 0l-4.5 -6l0 -1.5l2 0l4 6.5l5.5 3l17 19l9 7l0.5 2l-2 5zM389 98.5l1 -6l-3 -4l0 -5l-2.5 -0.5l-4.5 10.5l3 5l6 0zM314.5 142.5l2.5 -2l-3 -4l0.5 -3l-2.5 -5l1.5 -8l-0.5 -6l1 -2l6.5 -4l0.5 -6l4.5 -6l-1 -10l-2 -1.5l-3 1.5l-3 5l-1 6l-6.5 3l-3.5 3l-1 7l-7.5 7l-1 7l-1.5 4.5l-4 -0.5l0.5 -5l-2.5 -1l-3 1.5l-2 4.5l3 8.5l4 0l5.5 -5.5l2.5 -1l5.5 7l4.5 1.5l3 3.5l3 0zM427 95.5l2 -2l-0.5 -3l-3 -2.5l-4.5 0.5l-1 2l1.5 3l3 2l2.5 0zM341.5 96.5l1.5 -2l-0.5 -3l-3 -0.5l-5 1.5l0.5 2l2.5 2.5l4 -0.5zM195 104.5l1.5 -2l-3 -2.5l-6 -0.5l-4.5 2l1.5 2l6 2l4.5 -1zM259 103.5l2 -1l0 -2l-6.5 -0.5l-2.5 1.5l2.5 2.5l4.5 -0.5zM397.5 133.5l3 -2l-0.5 -8l-1.5 -9l-3.5 -3l4 -4l0.5 -2l-2 -1.5l-8 -1l-5.5 3.5l-0.5 5l11.5 11l-0.5 3l-4 3l0 2.5l3 3l4 -0.5zM434 117.5l1.5 -2l-1.5 -5l2.5 -5l-2 -1.5l-5 0l-2 2.5l0 5l4 6l2.5 0zM434.5 129.5l4.5 -1l-0.5 -2l-2 -1l-4 2l0 1.5l2 0.5zM457 160.5l5 -7l0 -9l1.5 -1.5l5 -0.5l1 -2l-1.5 -6l-9.5 -8.5l-9 6.5l7 14l-1 4l-4 3l-1 4l3 3l3.5 0zM260.5 141.5l4.5 -6l-0.5 -3l-2.5 -2l-7.5 0l-5.5 6l0.5 2.5l3.5 2.5l5.5 1l2 -1zM155 144.5l2 -2l0.5 -4l-2 -6l-2 -1.5l-2 6.5l1 5l2.5 2zM334.5 164.5l1.5 -5l-2.5 -3.5l-2 -0.5l-1.5 3l1.5 5l1 2l2 -1zM447 224.5l1.5 -3l7 -0.5l9 -7.5l8 -10l1 -3l-0.5 -9l-10 -6l-1.5 -5l-7.5 -11l-6.5 -1.5l-3 1.5l-1 7l8 6.5l4 0l6 6.5l1 3l-1 3l-3.5 2l0 6l-3.5 5.5l-6.5 1.5l-4.5 3.5l-8 0l-2 2.5l0.5 2l6.5 6l6.5 0zM334 216.5l-1 -6l0.5 -25l9 -8l0.5 -5l-2.5 -2l-5 0l-10 6l0.5 13l2.5 5l-1 5.5l-2 2.5l1 7l4.5 7l3 0zM277.5 178l-4 -0.5l1 -3.5l3 0l0 4zM268.5 180.5l-1.5 -1l1.5 -2l1.5 2l-1.5 1zM321 181.5l-1 -3l-3.5 0l1 3l2 1l1.5 -1zM189 212.5l5.5 -6l-1.5 -6l-3.5 -3.5l-7 5.5l-0.5 2l1.5 7.5l3 1l2.5 -0.5zM154 209.5l2 -6l-0.5 -2l-2 -1.5l-1.5 1.5l0 3l0.5 4.5l1.5 0.5zM291.5 225.5l-3.5 -1l-5.5 -6.5l-4 -2.5l-0.5 -3l3.5 0.5l1.5 3.5l7.5 6l1 3zM231.5 218l-2 -1.5l2 -1.5l1 1.5l-1 1.5zM229.5 226l-4 -1.5l2 -3l2 0l0 4.5zM277.5 239.5l-3 -1l-6 -7.5l-3.5 -1.5l-0.5 -3.5l3 0.5l2.5 4l6.5 5.5l1 3.5zM148.5 273.5l6 -4.5l6 -0.5l4 -6.5l2 -1l6 0.5l8 -1.5l5 2.5l3 -0.5l3 3l2 -0.5l1 -3l-0.5 -3l-3 -2l-1.5 -4.5l-7 -5.5l1 -2.5l5.5 -5.5l0.5 -3l-1 -1.5l-8 -2.5l-4.5 2l-1.5 4l2 1.5l4 -0.5l0.5 4l-4.5 1.5l-7 1l-7 7.5l-8 1.5l-5 9.5l-5 0.5l-7.5 5.5l1.5 3l10 1zM450.5 304.5l6 -8l4.5 -3l0.5 -6l4 -3.5l4 -1.5l5 -5l0 -2l-4 -7.5l-5.5 -4.5l-0.5 -5.5l-3.5 -3.5l-13 -8l-1 -2l1.5 -2l6 2l1.5 -7l-3.5 -1.5l-11 0l-4 2.5l-2.5 6l-4 5l0 15l2.5 0.5l6 -5l3 0.5l9.5 11l5 3l0 6l-10 10l-3.5 5l-3 0.5l-8 -8.5l-9 5l-1.5 4l6.5 6.5l6 -1l4 -3.5l5 4l7 2zM385 270.5l2.5 -5l6 -1.5l6.5 -5.5l0.5 -1l-3 -3.5l6 -1l0.5 -2.5l-1.5 -2l-9 -1l-5 5l-2 3.5l-7.5 0.5l0.5 7.5l4 6.5l1.5 0zM234 268.5l-0.5 -3l-3 -1l0 4l2 1l1.5 -1zM337.5 273l-3 -3l2.5 0.5l0.5 2.5zM229.5 290.5l8 -9l25 -0.5l5 1l1.5 -1.5l-5.5 -5.5l-8 -1.5l-4 2l-5 1l-5 -2.5l-13 -0.5l-6 10l-0.5 4l2.5 3.5l5 -0.5zM215 283.5l2.5 -2l-1 -1.5l-6 -2l-3 1.5l0.5 2l2.5 2l4.5 0zM148 290.5l1.5 -4l-3 -3.5l-2 -0.5l-1.5 5l0.5 3l2 1l2.5 -1zM324.5 286l-2 -1l-0.5 -2.5l2.5 2l0 1.5zM439 312.5l1 -2l-3.5 -7l-1 1l-0.5 8l4 0zM418.5 321.5l-3 1l-1.5 -2l1.5 -1.5l4 -0.5l-1 3zM452 329.5l0 -2l-2.5 -1l-3.5 2l1.5 1.5l4.5 -0.5zM305 351.5l1 -2l-0.5 -3.5l1 -0.5l3 3l1 -0.5l5.5 -6.5l1.5 -6l5 -2l0 -2l-8 -4.5l-6.5 0.5l0 7l-3.5 2l-5 6l1 8l2 1.5l2.5 -0.5zM149.5 337.5l1.5 -2l-0.5 -4l-4 -3.5l-3 0l-3 2.5l-5.5 2l0.5 2.5l5 0l5 3l4 -0.5zM183 348.5l1.5 -1l2 -5l-4 -4.5l-2 0.5l-3 4l-2 0.5l-11 -11l-3 -1l-3 1l-3.5 5.5l1 8l1.5 2l2 -0.5l4 -4l4 4l15.5 1.5zM451 344.5l3.5 -1l4 1l3 -3l-1.5 -2l-5.5 -2.5l-7.5 4.5l1 3l3 0zM371.5 368l-1 -0.5l0 -3l1 -2l2 -0.5l0.5 3.5l-2.5 2.5zM146.5 376.5l1 -2l-0.5 -3l-2.5 -3l-3 -0.5l-2 3.5l1 3l3 2.5l3 -0.5zM329 422.5l5.5 -5l1.5 -4l3.5 -4l6 -0.5l3 -4.5l8 -6l-1 -5l-5 -7l3.5 -4l1.5 -5l-6 -7.5l-5 1.5l-5 9l8.5 8l-0.5 3l-5 3.5l-10 10l-6 0l-3 -5l-11 -9.5l-0.5 -3l5 -6l-0.5 -2.5l-15 0l-5 4l-5 1.5l-3.5 4l-0.5 11l2 4.5l7 -1.5l-2 -6l2 -1.5l2 1l8 13l3.5 3.5l5.5 0.5l6 6.5l7.5 3zM168 383.5l2 -3l-6 -5l-3.5 -0.5l-4 1.5l-0.5 6l1.5 2l5 -2.5l5.5 1.5zM181 386.5l0.5 -5l-2 -1l-2 5l2 1.5l1.5 -0.5zM253.5 421.5l11 -8l9 -11l-0.5 -5l4 -3l0.5 -4l-7 -8.5l-2 -0.5l-2.5 2l0 8l-3.5 4.5l-1.5 6.5l-5.5 3.5l-6 0l-3 4l-4 0l-6.5 -5.5l-1.5 -2l0.5 -3l-6.5 -8l-8 2l0.5 8l11.5 8l5 1.5l6 10l10 0.5zM364 387.5l0.5 -4.5l-8 0.5l-1 1l6 3l2.5 0zM380.5 400.5l1.5 -4l-1.5 -2.5l-2 2.5l2 4zM395 408.5l1.5 -11l-2 -2.5l-2.5 1.5l-3 6l3.5 6.5l2.5 -0.5zM192.5 417.5l2 -1l0.5 -5l1.5 -1.5l9 0l7 -5l0.5 -2.5l-1.5 -3l-2 -1l-3 0.5l-4 4.5l-4 1l-13 -7l-2 0.5l-5 7.5l0 2l8 8.5l6 1.5zM138.5 438.5l-33 0.5l0 -22l5 0l4 2.5l8 1.5l3.5 -3.5l2.5 0.5l10.5 10.5l-0.5 10z" fill="#95ff00" fill-rule="evenodd"/>
<path d="M145.5 79.5l-10 -8l-2 -5l-11 -8.5l-0.5 -4.5l29 0l0 23l-5.5 3zM490.5 418l-7 -0.5l-7 -8l-19 -17.5l-0.5 -1.5l2 -2l-1 -4l4.5 -3l0.5 -2l-6.5 -5l-2 -4l-3 0l-3 4l-7 0l-6.5 -7l5.5 -6l7 -1l2.5 -4l-5 -5l-1.5 -4l-2.5 -2l0.5 -3l-2.5 -5l-0.5 -7l-6.5 -7l0.5 -6l9 -6l-2 -5l1 -2l8 2l3 -1l6 -7.5l5 -4.5l1 -6l3 -2.5l4 -0.5l1.5 -4l3.5 -4l-3 -7.5l-5.5 -6.5l0 -4l-5 -5l-6 -3l-1 -2l2 -4l1 -6l-1.5 -2l-6 -3l-11 2l-3.5 3l-1.5 5l-4.5 6l-1.5 17l5 0l4.5 -5l3.5 -1l4 6.5l6 5.5l4.5 2l1 2l-1.5 3.5l-5 0.5l0 5l-8 7.5l-3 -1l-7 -6.5l-5 4l-3 0l-3.5 4l0 5l12 8l-0.5 11l-2 2l-3 0l-4 -2.5l-4.5 -6.5l0 -12l-2.5 -4l-3 -2l-12 4l-8 -7l-5 0.5l-4 -5.5l-8.5 5l-8.5 8.5l-3 0l-4.5 -7.5l-5.5 -2.5l-8.5 -7.5l-0.5 -8l5 -6l-3 -10l-13 -2.5l-1.5 1.5l-1.5 5l-3 1l-2 -0.5l-2.5 -2.5l-1.5 -5l-7.5 -6l-2 -7l-3.5 -3l0.5 -6l-12.5 -2l0.5 -5l4 -5l-0.5 -1.5l-3 -0.5l-3 -7.5l-10 -5.5l-11 2.5l-6 -5.5l-6 -8l-1 -10l2 -0.5l3 3l5 0l7 -3.5l2 -2.5l3 0.5l2 -0.5l1 -3.5l-4 -8l0 -3l11 -10l3.5 -6l-1 -1l-5 -4l-6.5 -1l-2.5 3l-1 9l-1.5 2.5l-4.5 -2.5l-7 -7l-6.5 -3l-8 4.5l0 3.5l4 7l3.5 3l0.5 4l-4.5 10l-5.5 5.5l-3 -0.5l-3.5 -5l-5.5 -3l-2 -4l1 -4l3.5 -5l3 -7l-0.5 -2l-4 -1.5l-2.5 4.5l-2.5 1l-14 -1l-4 -2.5l-12.5 -14.5l2.5 -4.5l0 -3.5l-2 -3l0.5 -4l-5 -5l1 -3l-5 -9l1 -3l-1 -2l-8.5 -3l-6 2l0 2.5l5 3.5l-5 3l-3 4.5l-5 -4l-5.5 -8.5l-8.5 -5l-7 -7l-1.5 -3l1 -3l-2.5 -6l5 -1.5l2.5 -4.5l-1.5 -5l-0.5 -13l27 0l0.5 5l3 3l4.5 14l1.5 1l2.5 -2l1.5 -7l9 -6l2 -3l0 -5l1 0l39 0l0 4l-2 4l2 6l0 7l2 2l13.5 -14l-0.5 -9l198 0l0 4l-3 3l0 3.5l11.5 22.5l1 5l-1 4l-2.5 3l-3 1.5l-6 -0.5l-2 2l-1.5 8l3.5 5l0 7l1 1l2 -0.5l7 -7.5l0.5 -4l-4 -4l1.5 -2l5 -1.5l12 -6.5l8 2l0 319.5zM490.5 86.5l-10 -1l-9.5 -9l0 -2l2.5 -2l0.5 -2l-1 -8l-3 -4l0 -5l21 0l-0.5 33zM128.5 99l-23 0l0 -29l4.5 0.5l8.5 11l5 2l8 10l-3 5.5zM389 99.5l2 -6l-2.5 -5l0 -6l-1 -1l-5 2l-1 4l-2.5 3l0 3l3.5 5.5l6.5 0.5zM303 153.5l3.5 -6l-3 -5l0.5 -3l3.5 0l2 3l3 0.5l4.5 -0.5l1.5 -2l-3 -4l1 -4l-3 -2.5l-0.5 -2.5l2 -6l-0.5 -7.5l6 -4.5l1.5 -6l4 -4l2 -5l-2.5 -9l-2 -2l-4.5 1l-3.5 8l-1 5l-9.5 5l-1.5 7l-7 7l-3 11l-1.5 0l-0.5 -5l-3 -1l-3 1l-3 5l2 8l2 2.5l4 0l7 -5.5l3.5 3l1 2l-1 4l2.5 7l-2.5 4l0.5 1.5l1.5 -0.5zM427.5 96.5l2 -2l0.5 -3l-2.5 -3.5l-4 -1l-5 1.5l0 3l3 3l4 2.5l2 -0.5zM336.5 101.5l7 -6l0.5 -3l-1.5 -1.5l-8 0l-3 1.5l4.5 5l-2 4l2.5 0zM469.5 438.5l-319 0l-2 -8l6.5 -12l1.5 -5l2 -1.5l4 4l4 -0.5l7.5 -7l0.5 -2l-1 -1l-7 0l-5 -3.5l-8 1.5l-2 2l0.5 6l-1.5 3l-3 2.5l-4 1l-5 -1l-22.5 -11.5l-3.5 0l-3 3l-4 0l0 -198l9 0.5l14 -13.5l-2 -2l-7 0l-6 -2l-4 2l-4 0l0 -39l0 -1l5 0l3 -2l6 -9l7 -1.5l2 -2.5l-1 -1.5l-14 -4.5l-3 -3l-5 -0.5l0 -27l13 0.5l5 1.5l4.5 -2.5l1.5 -5l6 2.5l3 -1l3 1.5l7 7l5 8.5l8.5 5.5l4 5l-4.5 3l-3 5l-3.5 -5l-2.5 0l-2 6l3 8.5l2 1l3 -1l9 5l3 -1l5 5l4 -0.5l3 2l3.5 0l4.5 -2.5l14.5 12.5l2.5 4l1 14l-1 2.5l-4.5 2.5l1.5 4l2 0.5l7 -3l5 -3.5l4 -1l4 2l3 5.5l5 3.5l0.5 3l-5.5 5.5l-10 4.5l-4 -0.5l-3 -3.5l-7 -4l-3.5 0l-4.5 8l3 6.5l7 7l2.5 4.5l-2.5 1.5l-9 1l-3 2.5l1 6.5l4 5l1 1l6 -3.5l10 -11l3 0l8 4l3.5 -1l0.5 -2l-0.5 -3l2.5 -2l3.5 -7l0 -5l-3 -3l0.5 -2l10 1l8 6l5.5 6l-2.5 11l5.5 10l7.5 3l0.5 3l1.5 0.5l5 -4l5 -0.5l2 12.5l6 -0.5l3 3.5l7 2l6 7.5l5 1.5l2.5 2.5l0.5 2l-1 3l-5 1.5l-1.5 1.5l2.5 13l10 3l6 -5l8 0.5l7.5 8.5l2.5 5.5l7.5 4.5l0 3l-8.5 8.5l-5 8.5l5.5 4l-0.5 5l7 8l-4 12l2 3l4 2.5l12 0l6.5 4.5l2.5 4l0 3l-2 2l-11 0.5l-8 -12l-5 0l-4 3.5l0 3l-4 5l6.5 7l1 3l-7.5 8l-5 0l-0.5 5l-3.5 1.5l-2 -1l-2 -4.5l-5.5 -6l-6.5 -4l1 -3.5l5 -4.5l0 -5l-17 1.5l-6 4.5l-5 1.5l-3 3.5l-2 11l3 6l2 1.5l6 -1l4 -2l2 1l3 6l5 5l4 0l6.5 5.5l7.5 3l4 -3.5l4 -1.5l0.5 -4l2.5 -3l6 -1l4.5 -5l7.5 -6l1 -3l-2 -8l2 -1l5 2l6 -9l6 -0.5l7 6.5l7 0.5l5 2.5l3 -0.5l2 2.5l4 1.5l5 5l4 -2.5l1 -7l6 -5.5l7 6.5l0 7l-4 3l0 3l4 2l5 6.5l2 -0.5l3 -4.5l4 1l2 -2l1.5 0.5l17.5 19l8 7l1 2l-1 5zM257 104.5l5.5 -1.5l0.5 -2.5l-6.5 -1l-5 1l1 3l4.5 1zM395 135.5l5.5 -2.5l2 -2.5l-1 -10l-4 -9l2.5 -6l-1.5 -1.5l-8 -2l-7 3.5l-1 6l1 2l10 9l0 2.5l-4 2.5l-1 2l4 5.5l2.5 0.5zM434.5 118.5l2.5 -3l-2 -5l2.5 -5l-2 -2l-7 -1l-2 4l0 5.5l5 7l3 -0.5zM192.5 126l-1.5 -1.5l0.5 -1.5l2 0.5l-1 2.5zM440 129.5l0.5 -2l-3 -3l-6 3l1 2.5l7.5 -0.5zM457 162.5l6.5 -8l0 -10l6 -2l0.5 -2l-1.5 -7l-10 -9l-10 8l6.5 15l-1.5 3l-3 0l-1 8l4 3.5l3.5 0.5zM261 143.5l1.5 -3l4.5 -4l-0.5 -3l-4 -3.5l-8 -0.5l-6 6l-0.5 3l3.5 3.5l9 2.5l0.5 -1zM242 132.5l-1.5 -1l0 1.5l1.5 -0.5zM176.5 141.5l-1.5 -1l0.5 -1.5l2 0.5l-1 2zM333.5 167.5l4 -7l-1 -3l-4 -4l-4 5l3 8.5l1 1l1 -0.5zM448 225.5l2.5 -2.5l4 0l13 -11.5l6.5 -8l0.5 -11l-1 -2.5l-9.5 -5.5l-1 -4l-6 -7l-2.5 -5.5l-7 -1.5l-3.5 2l-2.5 8l6.5 6l2.5 4.5l3 -2.5l2 0.5l5.5 5.5l0.5 3l-4.5 4l-0.5 6l-3 4.5l-6 1.5l-5 4l-7 0l-3.5 2l-0.5 2l9 8l7.5 0zM336 219.5l3.5 -1l-3 -2l-2 -5l2 -15l-1.5 -5l0 -5l7 -6l2.5 -6l0 -3l-4 -2l-7 0l-2.5 3l-5.5 2l-3 3.5l-7 -2.5l-2 1l1.5 4l3.5 3l2.5 0l2.5 -2.5l1.5 11.5l2 3l-1 4l-2.5 3l2 3l0.5 7l6.5 7l3.5 0zM380 175.5l4.5 -4.5l-1 -0.5l-3 2.5l-4 -0.5l-1.5 1l0.5 2l4.5 0zM275.5 176.5l-0.5 -1l1.5 0l-1 1zM291.5 175.5l-1 0l1 0zM185 189.5l-1.5 -1l1.5 1zM189 214.5l7.5 -6l-2.5 -9l-4.5 -3.5l-2 0.5l-6 7l1 8.5l3 2.5l3.5 0zM155 210.5l1.5 -8l-1 -2l-3 -1l-1 3l0 6l1 2.5l2.5 -0.5zM307.5 210.5l-1 -1.5l-2 0.5l1 1.5l2 -0.5zM288.5 223l0 -1l0 1zM227.5 224.5l-0.5 -1l1.5 0l-1 1zM453 229.5l2 -2l-1.5 -2.5l-3.5 2.5l0.5 2.5l2.5 -0.5zM148 275.5l3.5 -1.5l3 -3.5l7 -2l5 -6.5l7 1l7 -2l4 3.5l4 -1l3 2.5l2 0l1.5 -6.5l-0.5 -2l-3 -2l0 -3.5l3 -0.5l3 2.5l2.5 0.5l6.5 -4l-0.5 -1l-2.5 -0.5l-3 2.5l-7 -2.5l-4 1l-2 -1l-3 -3.5l5.5 -7l0 -4l-5.5 -3l-6 -0.5l-4 2.5l-1 4l2 2.5l4 0l0 1.5l-11.5 3l-6.5 7l-7.5 2l-4.5 9l-5 1l-8.5 4l-0.5 3l1 2.5l9 3l2.5 -0.5zM273.5 236l0 -1l0 1zM274.5 237l0 -1l0 1zM228 239.5l-0.5 -1l0.5 1zM451.5 247.5l-2.5 -1l0.5 -2.5l2 0.5l0 3zM385.5 271.5l3 -5l5 -0.5l9.5 -6.5l3.5 -8l-3 -4.5l-10 -1l-8 8.5l-5 0l-2 1l-0.5 3l1 6l3.5 6.5l3 0.5zM263 254.5l-0.5 -2l-1 0l0 2.5l1.5 -0.5zM227.5 292.5l5 -2.5l6 -7l5 0l5 1.5l15 -2l5 2l2 3l1.5 -6l-7 -7l-7.5 -1l-3 -2l-3 2.5l-3 1l-5 -2l-10.5 -1.5l2.5 -2.5l0 -2.5l-3 -3.5l-4 -1.5l-1 2l2.5 7l-3.5 3l-2 5.5l-3 2.5l0.5 9l1.5 2l4 0zM213.5 285.5l6.5 -5l-10.5 -4l-3.5 3l0 2l4.5 3.5l3 0.5zM147.5 291.5l6 -7l0.5 -2l-4.5 1.5l-5 -4.5l-2 10l2 2.5l3 -0.5zM404.5 327l-12 -0.5l-15 -13l-2 -4l3 -1l1 -3l7 -5l7 -1l4 1.5l5 -3l4.5 7.5l-2.5 6l5.5 12l-5.5 3.5zM224 332.5l4 -6l-0.5 -3l-1 -1l-2 1l0.5 5l-2.5 3l1.5 1zM375.5 358l-12 -5.5l-6 2.5l-7.5 -4.5l3 -5l-1.5 -4l1 -7l5 -7l3 -1l1 -3l4 2l13 15l-0.5 5l1.5 6l-4 6.5zM305 354.5l6.5 -4l6.5 -9l0.5 -5l5 -3l0.5 -2l-1.5 -1.5l-8 -4l-5 0l-2.5 1.5l-0.5 6l-8 7l-0.5 2l0.5 8l4 4l2.5 0zM454 330.5l0 -2l-4.5 -3l-3 0.5l-2 2.5l1 2l8.5 0zM149 338.5l2.5 -1.5l0 -5.5l-5 -4.5l-4 0l-8.5 5.5l0 4l5.5 -0.5l5 3l4.5 -0.5zM184.5 349.5l3.5 -8l-5.5 -5l-2 0l-3 4.5l-2 1l-10 -10.5l-4 -1l-4 1l-3.5 6l0 3l2.5 7l3 0.5l4 -2.5l9 4l10 1l2 -1zM406.5 339.5l-7 -6l3 -3.5l4 0l4.5 2.5l-4.5 7zM463.5 333.5l-1 -2l-2.5 1l1.5 1.5l2 -0.5zM475.5 333.5l1.5 -1l-2.5 -0.5l-2 1.5l3 0zM447.5 346.5l11 -0.5l4 -3.5l0 -2l-6 -5.5l-2 0l-9.5 6.5l0.5 4l2 1zM425.5 359l-9.5 -9.5l3.5 -9.5l4 1l7 7l-0.5 5.5l-4.5 5.5zM386.5 358.5l-3 -0.5l-1.5 -4.5l0 -3l2.5 -3l2 0.5l5 6.5l-5 4zM456 365.5l-0.5 -2.5l-2 0l1 3l1.5 -0.5zM403.5 378.5l-4 0l-5 -5l-2.5 -4l0.5 -2.5l9 -3l5.5 4.5l4 5l-7.5 5zM146.5 377.5l2 -2l-0.5 -4l-4.5 -5l-3 0l-1.5 4l0.5 4l3 3l4 0zM159 385.5l3.5 -2.5l5 2l3.5 -3.5l0 -2l-7.5 -5l-8 1l-1 1l1 7l1 1.5l2.5 0.5zM181 388.5l1 -6l-1.5 -3.5l-2 1l-2 5.5l2 2.5l2.5 0.5zM256 421.5l8.5 -6.5l11.5 -13.5l-1 -3l2.5 -3l0.5 -6l-7.5 -9.5l-3 0l-2 3l0 7.5l-4 5l-1.5 6l-4.5 3l-6 0.5l-4 4.5l-3 -0.5l-5.5 -5.5l-0.5 -2l2.5 -3l-4.5 -2.5l-6 -6.5l-9 3l-1 3l1.5 7l5.5 2.5l7 6l4.5 1.5l5.5 9.5l13.5 -0.5zM382.5 402.5l0 -9l-2 -1l-2.5 2l-0.5 3l2 3.5l3 1.5zM394.5 410.5l3.5 -4l0.5 -11l-0.5 -2l-3.5 -1l-4 4l-4 7l5 6l3 1zM194.5 417.5l2 -6l10 0l8 -6l0 -3l-3 -4.5l-9 0.5l0 3l-3 1.5l-14 -6.5l-2.5 1l-6 10l8.5 9l6 1.5l3 -0.5zM299.5 400l-3 -0.5l-0.5 -2l2.5 -0.5l1 3zM280.5 402.5l1.5 -4l-3.5 0l-1.5 3l1.5 1.5l2 -0.5zM418 403.5l-1.5 -2l-2 1l1 1.5l2.5 -0.5zM385.5 411.5l0 -3l-2 0l0 2.5l2 0.5zM137.5 438.5l-32 0.5l0 -21l5 0l4 3l8 1l2 -0.5l2 -2.5l2 0l9.5 10.5l0.5 9l-1 0zM385 424.5l0.5 -4l-1.5 2l1 2z" fill="#6aff00" fill-rule="evenodd"/>
<path d="M145.5 78l-9 -7.5l-2 -4.5l-10.5 -8.5l-0.5 -4l27.5 0l-1.5 22l-4 2.5zM368.5 295.5l-3 0.5l-6 -7.5l-11.5 -8l-1 -8l5 -6l-2.5 -13l-16 -0.5l-2 1.5l-0.5 5l-2.5 1l-2 -1l-2.5 -6l-7 -7l-3 -8l-2.5 -2l1 -3l-1 -2.5l-2 -1.5l-10 -1l0 -4l4 -3l0.5 -2l-5 -6l-1.5 -4l-6 -2.5l-4 -3l-12 1l-6 -4.5l-5 -7l-1.5 -7l0.5 -1l6 1.5l4 0l3 -2l3 1l9 -8l6 -1.5l-0.5 -2l-6.5 -1.5l-2 -1.5l-2 -3l0 -3l5.5 -4l8.5 -10l2 0.5l2 4l2 -0.5l4.5 -6l-0.5 -5l-3 -2.5l1 -2.5l2 0.5l3 3.5l5 0l4 -2l0 -2l-2.5 -3l1.5 -4l-4 -3l-1 -2l3 -5l-1 -8l5.5 -4l1.5 -6l2 -2l4 -0.5l5 2l4 -1.5l6.5 -6l0.5 -4l-1 -2l-9 -0.5l-6 1.5l-1.5 -2l-1.5 -6.5l-3 -1l-5 1l-0.5 5.5l-3.5 5l0.5 3l-9.5 5l-1.5 7l-7.5 7l-1.5 6l-8.5 0l-3.5 6l3.5 11.5l5 -0.5l6 -4.5l2 0.5l2 3l0 9.5l-3 0.5l-6 -4l-7 -0.5l-3.5 3.5l-0.5 8l-1 2l-4 -1.5l-12 -10.5l0 -3l5 -5l-1.5 -5l-4.5 -2.5l-9 0l-6 6.5l-0.5 3l3 4l6 1l2.5 2l-2 2l-4.5 2l-0.5 2l9 15l-1 3.5l-3.5 2.5l0.5 4l-5 5l-2 0.5l-3 -4.5l-7 -4.5l-1 -2.5l1 -4l3.5 -4l3 -10l-5.5 -4l-2.5 6l-2.5 1.5l-15 -2l-13.5 -14.5l1.5 -7l-0.5 -9l-5 -5l0.5 -4l-3.5 -4l-1.5 -9l-10 -4.5l-7 2.5l-1 1l0.5 2l4 4l-6.5 5l-4 -3.5l-2 -6.5l-12 -6.5l-5.5 -5.5l-1.5 -3l1.5 -2l-3 -5l0.5 -1.5l3.5 -1.5l3 -5l-2 -5l-1 -13l26.5 0l-0.5 5l3.5 3l0 5.5l3.5 3.5l1 7l1.5 1.5l4.5 -3.5l0 -5l1.5 -3l9 -5l2 -9l38 0l-0.5 4l-2 4l2.5 5l0.5 10l2.5 1.5l7 -8.5l4 -2l5 -6l-1.5 -8l19 0l0.5 5l2 1.5l1 -0.5l0 -6l2 0l6 0l0 3l0 -3l11 -0.5l153 0.5l-2 12l3.5 4l1.5 6l7 12.5l0.5 4.5l-4 6l-7.5 0.5l-3.5 2.5l-1 8l4 5l0 9l-8.5 7l-0.5 3l3.5 6.5l2 6.5l-4.5 3l-0.5 9l4.5 6l-8.5 1.5l-4.5 10.5l7.5 7l2 5l2 0l4 -2l5 4.5l0 2.5l-3.5 3l-1 6l-3.5 5l-6 1.5l-4 3.5l-6 -0.5l-6.5 3.5l0.5 4.5l9 6l8 1l1 4.5l-2 2.5l-7 0.5l-4 2.5l-1.5 5.5l-5 8l0.5 5l-3 5.5l-3 1l-0.5 1.5l4 5l2.5 0.5l4 -1l6 -6.5l2 0l2 2l1 4.5l6 5l5 2l0.5 2.5l-1.5 1.5l-5 0l-0.5 6.5l-6.5 5.5l-3 -0.5l-7 -7l-4 4l-5 -0.5l-4 6l-7 -2l-5 3.5l-5 0.5l-8 -6l-6 -1l-4 -5l-4 3.5l-6 2l-6 7zM490.5 85.5l-9 -1l-9 -8l2.5 -6l-1 -8l-3 -4l0 -5l20 0l-0.5 32zM164 67.5l0 -3l-1.5 -2l-1 4.5l2.5 0.5zM312 66.5l-0.5 -2l-2 0l2.5 2zM118.5 98.5l-13 0.5l0 -27.5l4 0.5l8.5 10.5l4.5 2l7.5 9l-2.5 4l-9 1zM395.5 136.5l7 -3l1.5 -2l-0.5 -11l-4 -9l1 -7l-9.5 -5l1 -7l-2.5 -5l1 -7l-2 -1l-6 3l-2 4.5l-2.5 2.5l0 5l3.5 5l7 2l-6 4l-1 7l1 2l10 9l-5 4l0 4l5 5.5l3 -0.5zM434.5 119.5l4.5 -4l-3.5 -5l3 -3l0.5 -2l-2.5 -2.5l-6.5 -1.5l-1 -3l1.5 -8l-2 -3l-2 -1.5l-10 -0.5l0 7l9.5 7l-0.5 11l1 4l4 5.5l4 -0.5zM232 98.5l1.5 -1.5l0.5 -2.5l-2.5 -3l-5.5 5l1.5 2.5l4.5 -0.5zM333.5 99.5l-4 0l-0.5 -2l1.5 -2l4 1l0 2l-1 1zM490.5 417l-6 0l-8 -9.5l-18 -16l3 -2l-1.5 -4l4 -4l0.5 -2l-7.5 -7l-0.5 -3l1.5 -5l-1.5 -3l-4.5 0l1 6l-5.5 6l-6 -0.5l-5.5 -5.5l1 -2l4.5 -3.5l5 0.5l4.5 -2l0.5 -5.5l-4.5 -3.5l-0.5 -2l4 -2l8 0l4.5 -4l0.5 -3l-2.5 -4l3.5 -2l0 -3l-15 -6.5l-3 -0.5l-3.5 4l0 2l2.5 1.5l7 -0.5l1 2l-8 5.5l-3 0.5l-3 -3l0.5 -6l-5.5 -6l-0.5 -2l1 -5l7.5 -6l-0.5 -5l9.5 1l7 -8.5l5.5 -4.5l1 -7l2.5 -1.5l5.5 -0.5l0 -4l4 -5l-4 -8l-4 -5l0 -5l-5.5 -6l-6.5 -2l-0.5 -2l3 -4l0.5 -6l-1.5 -2l-6.5 -4l4.5 -4l0.5 -6l4.5 -5l7 -5l6.5 -9l0 -14l-9.5 -5l-1 -4.5l-7 -7.5l-2 -7l3.5 -2l2 -5l3.5 -4l0 -9l6.5 -3l-0.5 -9l-9.5 -9l0.5 -2l8 -9l0 -3l-3.5 -3l0 -2l16.5 -7l8 0.5l0.5 12.5l-0.5 305.5zM260 104.5l4.5 -1.5l0 -3.5l-11 -0.5l-3 1.5l3 4.5l6.5 -0.5zM145.5 416.5l-5.5 0l-12.5 -7l-6 -1.5l-4 -3.5l-12 2l0 -2l-0.5 -151l0.5 -11l3 0l-3 0l0 -6l0 -2l6 0l0.5 -1l-1.5 -2l-5 -0.5l0 -19l8 1.5l6 -5l2 -4l8.5 -7l-1.5 -2.5l-10 -0.5l-5 -2.5l-4 2l-4 0.5l0 -38l9 -2l5 -9l3 -1.5l5 0l3.5 -4.5l-1.5 -1.5l-7 -1l-3.5 -3.5l-5.5 0l-3 -3.5l-5 0.5l-0.5 -25l0.5 -1.5l12 1l6 2l5 -3l1.5 -3.5l1.5 -0.5l5 3l2 -1.5l4 2.5l8.5 10.5l2.5 6l6.5 2l3.5 4l-5 6.5l-4 -4l-2 -0.5l-1 1l-2.5 7l4.5 10l9 1.5l4 3.5l4 -0.5l5 5l9 0.5l7 -1.5l14.5 13.5l2 15l-1.5 2.5l-6 2.5l4 5.5l10 -3l4 -3.5l4 -1l3 1.5l4 6.5l4.5 4l-5.5 6l-4 -0.5l-2.5 3.5l-3.5 1l-15 -9l-2 0.5l-2 4.5l-2 2l-2 -2.5l-1 -6l-4 -3l-3 0.5l-6.5 6l0 9l2.5 4.5l5 1.5l5 -5l3 0l10.5 12l1.5 4l-2 1l-8 0.5l-3.5 3.5l0.5 7l4 6l-0.5 3l-9.5 0l-3 -2l-0.5 -2l4.5 -6l0.5 -5l-11.5 -3.5l-6 3.5l0 8.5l-6 1.5l-7 7.5l-7 1.5l-5 9.5l-3 -0.5l-5 3.5l-5.5 0.5l-1 5l1 3l6.5 1.5l2 1.5l-1.5 6l0.5 9l2 1l4 -0.5l6 -6.5l1.5 -4l-2 -5l0.5 -4l2 -2l6 -1.5l4 -5.5l8 1l5 -3l2 1l3 4l4 -1.5l3 2.5l2 0l2 -4l0 -5l-3.5 -3l-0.5 -2l2.5 -1l2.5 3l5 0.5l6 -4.5l0.5 -2l-4 -2l-0.5 -2l10 -8.5l4 -5.5l3 0l3 2l1.5 2l1.5 6.5l2 0.5l1.5 -6l8 -9l-1 -3l2 -3l0 -4l-1.5 -6l1 -0.5l7 1.5l7 5l4.5 6l-1 12l3 4l2.5 6l4 1.5l6 5l2 -0.5l3 -4l4 0l1 10l1.5 2l2.5 1l3 -1l2 2.5l8 3l7 7l6 2.5l1 2l-1 2.5l-5 0.5l-1.5 2l0.5 16l13 2.5l6 -5l8 1l8 11.5l8 7l-1 2l-7 6l-2 6l-3.5 4l5 4l1 6l6 8l-0.5 5l-3.5 5l2 7l-6 4l0.5 5l-4 4l7 7l0.5 3l-5.5 6.5l-6.5 0.5l0 5l-1.5 1.5l-2.5 -0.5l-2 -5l-5 -6l-4.5 -1l-2 -2l0 -2l6.5 -6l1 -4l-0.5 -2.5l-5 -4l-1.5 0.5l-1 3l-5.5 3l-5 -0.5l-8 5l-5.5 1.5l-2.5 4l-0.5 7l-2.5 2l-4.5 -1l-1 -8l-6 -9l-4.5 -0.5l-3.5 6.5l0.5 6l-3.5 4l-1.5 6l-5 3.5l-6 1l-3 3.5l-2.5 0l-4.5 -5l2 -4l0 -2l-5 -2l-6 -7l-2 -0.5l-9.5 4.5l-1.5 8.5l-6 -4.5l-9 0.5l-3 4.5l-6.5 -2l-6.5 -3.5l-3 0.5l-7 8.5l-9 0l-5 -4l-8 1l-2.5 3.5l-0.5 7.5l-5 3.5zM348 107.5l-1 -3l-2.5 0.5l0.5 2.5l3 0zM421 107.5l-0.5 -3l-2.5 0l-0.5 3.5l3.5 -0.5zM120 111.5l-1.5 -2l-4 1l3 2l2.5 -1zM440.5 130.5l1.5 -1l0 -2l-4.5 -4l-7 4l0 2.5l10 0.5zM242.5 134.5l0.5 -3l-4 -2l0.5 4.5l3 0.5zM429 132.5l-0.5 -1.5l-2 0.5l1 1.5l1.5 -0.5zM335.5 221.5l6 -1.5l1.5 -8.5l-1.5 -2l-4.5 1l0 -8l2.5 -7l-2 -4l0 -5l5.5 -5l3.5 -7l0 -3l-2 -2l-9 -1l0 -2.5l3.5 -3.5l0 -4l-6.5 -6l-5.5 5l3 5l0.5 9l-9 3.5l-8 -1l-7 0.5l-1.5 2l1.5 1.5l5 0l7 6.5l5 0.5l0.5 3.5l-1 4l3 5l-4 5l3 4l0.5 7l7 8l3 0zM381 177.5l5.5 -5l-1.5 -3l-2.5 -1l-9 3.5l-0.5 3.5l1 2l2.5 1l4.5 -1zM149 181.5l2 -5l-2.5 -2.5l-5 5.5l1.5 2l4 0zM186.5 190.5l-0.5 -3l-4.5 -0.5l2 4l3 -0.5zM155 212.5l2.5 -10l-2 -3l-3 -1l-1.5 3l0 9l1.5 2.5l2.5 -0.5zM306.5 212.5l2 -1l-0.5 -3l-2.5 -1l-2.5 1l0 3l3.5 1zM395 215.5l-1.5 -2l-1.5 1l0.5 1.5l2.5 -0.5zM394.5 238.5l1 -3l-1 -1.5l-2 1l-1 2.5l1 1.5l2 -0.5zM468 234.5l-1.5 -1l-0.5 1l2 0zM385 272.5l4.5 -5l5 -0.5l4 -4l5.5 -2.5l3.5 -5l1 -4l-1 -2.5l-4 -3.5l-11 -0.5l-8 8.5l-6.5 1l-1 3l1 8l3.5 6l3.5 1zM263.5 256.5l0.5 -5l-2.5 -1l-2 2l0 2l1.5 2l2.5 0zM227.5 294.5l6 -3.5l5 -5.5l5 0l4 2l7 -2.5l8 0l-1 3.5l1 2l9 -0.5l1.5 -2.5l0.5 -7l-7 -6.5l-9 -1.5l-3 -2.5l-5 4l-5 -3l-4 1l-3.5 -0.5l-0.5 -5l-6.5 -7l0 -5l-1.5 -1.5l-2 1.5l-0.5 7l1 8l-3.5 9l-9 -0.5l-5 -3l-5 5.5l6 6.5l4 0l3.5 -3.5l2.5 0l1.5 10l5.5 1zM118.5 259.5l-2 -2l0 2l1 1l1 -1zM374.5 270.5l-2 -1l-0.5 1l1.5 1l1 -1zM150.5 282.5l-2 0l-1 -2l0 -2l2 -1.5l2.5 1.5l-1.5 4zM160 295.5l-1 -3l-2.5 0.5l0.5 2.5l3 0zM403.5 326.5l-10 -1l-13 -12l1.5 -3l-0.5 -4l5 -5l7 -1l4 2.5l3 -3.5l3 1l2 5l-1.5 7l4 10l-0.5 2l-4 2zM429.5 318l-2 0.5l-2.5 -2l-4.5 -6l-0.5 -6l1.5 -4l3 0.5l6.5 5.5l-0.5 9l-1 2.5zM322.5 322.5l1 -1l-1 -1.5l-1 0.5l1 2zM225.5 333.5l4.5 -7l-0.5 -4l-2 -1.5l-4 1l-3 8.5l2 3.5l3 -0.5zM307.5 355.5l5.5 -4l2 -5l4 -4l0.5 -5l5 -4.5l-1 -3.5l-7 -3.5l-7 -1l-3 1l-1 6.5l-8.5 8l0.5 11l4 4.5l6 -0.5zM184 351.5l5.5 -9l-0.5 -2l-7.5 -5.5l-2 0.5l-4 5l-10 -10.5l-8 0.5l-4 6l-3 -8l-3 -2l-6 -0.5l-2.5 2.5l-4.5 2l-3 6l1 2l7 -1l5 2.5l7 -1l5 9.5l7 -1l9 4l9 1l2.5 -1zM375.5 356l-11 -4l-7 1.5l-6 -3l0 -2l3.5 -3l-2.5 -4l0.5 -6l5.5 -6l4 0.5l3 -1.5l12 13l-0.5 4l1.5 5l-3 5.5zM407.5 336l-5 -1l-1.5 -2.5l2.5 -2l5 1l1 2l-2 2.5zM475 334.5l4 -2l-5.5 -1.5l-3 2.5l1 1.5l3.5 -0.5zM289 343.5l2 -2l-0.5 -2l-2 0l-2 2l0.5 2l2 0zM268 342.5l0 -2l-1.5 -0.5l-0.5 2.5l2 0zM425.5 356.5l-1 0.5l-7 -6.5l3 -8.5l4 1l5.5 5.5l-0.5 4l-4 4zM385.5 357.5l-2 -1l-1 -3l2 -4.5l2 1l2 3.5l-0.5 2l-2.5 2zM168 386.5l4.5 -6l-0.5 -2l-4.5 -3l-5 -2l-11 0.5l-7 -9.5l-7 -0.5l0.5 10.5l3.5 3.5l10 -1l3 2l0.5 5.5l2.5 2.5l2 -0.5l3 -3l5.5 3zM160 368.5l-0.5 -3l-3.5 1l1.5 3l2.5 -1zM403.5 378l-5 -1.5l-4 -5l-0.5 -3l7.5 -3l2 1l5.5 6l-5.5 5.5zM368.5 378.5l-10 0.5l-5.5 -6.5l-0.5 -3l6 -1.5l6 1.5l6 6l-0.5 2l-1.5 1zM185 376.5l-0.5 -2l-1 0l-0.5 2l0.5 1l1.5 -1zM182 389.5l0.5 -10l-1 -1.5l-2 0.5l-4 7l4 4.5l2.5 -0.5zM468.5 438.5l-305 0.5l-12.5 -0.5l-0.5 -8l7 -16.5l2 0l3 3.5l3 0l9 -8l2 -0.5l9 9.5l9 0.5l3 -6.5l9 0l4 -3.5l5 -2l2 -3.5l7 2l7.5 7l4.5 1l5 9.5l14 0l9 -6.5l5 -7l5 -4.5l6 -0.5l4 -4.5l4 6.5l2 1.5l6 -0.5l4 -3l2 0.5l2 6.5l6 5.5l5 0l5 4l8 4l5 -4l4 0l0.5 -5.5l1.5 -2.5l7 -1l4.5 -5.5l8.5 -7l-1 -9.5l5 0.5l6 -7.5l5 -1l2 0.5l6 5.5l6 -0.5l3 3l-0.5 3l-5.5 8l-2 -1l0.5 -7l-1.5 -2.5l-3 1l-3 3.5l6 16l3 1.5l3 -4l5 3l5 -4.5l1.5 -2l-0.5 -8l2 -3l2 0.5l3.5 4.5l5.5 -0.5l1.5 -3.5l0.5 -7l3 -3.5l3 -0.5l4.5 5l0.5 6l-6 5.5l-6 -1l0 4.5l3 1.5l5 -1.5l3 0.5l7 7.5l2 -0.5l4 -4l4 1.5l2 -3l16 18l9.5 8l-0.5 6zM287 415.5l-0.5 -1.5l-1 0.5l1.5 1zM385.5 426.5l1.5 -6l-1.5 -2l-2 1.5l-0.5 2.5l0.5 3l2 1zM137.5 438.5l-32 0.5l0 -20l5 0l4 3l8 1l6 -2.5l8 9l1 3l0 6z" fill="#40ff00" fill-rule="evenodd"/>
<path d="M128.5 59l-3.5 -2.5l0 -3l4 0l-0.5 5.5zM146.5 75.5l-3 -1l-8 -9l-5 -4l-1 -2.5l2 -0.5l1 -5l18 0l-2 21l-2 1zM367.5 294.5l-13 -11.5l-5.5 -3.5l1.5 -8l8.5 0l4 -5l-0.5 -2l-3.5 -2l-4.5 0.5l-2 -1.5l-1 -3l1 -6l-15 -1.5l-5 1l-2 1.5l-0.5 5l-1.5 1l-2 -1.5l-1 -5.5l-6 -6l-3 -11l-5 -6l-11 -2l1 -3l4 -3l-1.5 -7l6 -2l0 -3l-1.5 -2.5l-3 -1.5l-5 2l-6 0l-7 -5l-11 1.5l-7 -5.5l-4 -8l1 -2.5l13 0l4 -4l3 -1.5l2.5 -3l6.5 -1.5l0.5 -2.5l-1 -2l-7.5 -2l-3.5 -3l0 -2l2.5 -2l4 -1l4 4.5l3 -1l3 1.5l5 -2l1.5 -3l-1.5 -2.5l-11 0l-2 -1l0.5 -1.5l4.5 -6l1.5 1l1.5 4.5l3 0l2.5 -4.5l3.5 -2l0 -6.5l7 -1l4.5 -2.5l0 -2l-2.5 -3l1 -5l-5 -4l4 -5l-2 -5l0 -3l6 -4l0.5 -5l1.5 -1.5l10 1l9 -5.5l1.5 -4l-0.5 -5.5l-11 -1.5l-5 1.5l-2 -8.5l-6.5 -1l-1.5 -2l2 -4l5 1.5l0 -3.5l-2 -1.5l-3 1l-2 -1l-4.5 -7.5l-3.5 -2.5l-10 -1.5l1 2l5 2.5l8.5 6.5l-0.5 9l1.5 9l-5 5l0 3l-8 5l-0.5 6l-4 4l-4 2l-3 -1l-1 1l3 1l0 5.5l-7 0l-2.5 1.5l-3 7l4.5 12l-5 6l-1 8.5l-3 -0.5l-7 -7.5l-3 -0.5l-2 -2l0.5 -3l5.5 -6l-2 -5l-6 -2.5l-5 -0.5l-1.5 -1l2 -3l-2.5 -1l-4.5 9l-4 3l-1 5l3.5 4.5l5 0l2 1.5l-1 1.5l-5 1.5l-1 3l5 6.5l1 4.5l3 1.5l1.5 2.5l-1.5 3l-4 2l0.5 5l-4.5 4l-1.5 -2l0.5 -2l-7 -2.5l-3 -3.5l0.5 -3l4 -4l0.5 -5.5l3.5 -5.5l-8.5 -6.5l-2 7.5l-2 1.5l-5 -3.5l-10 1l-1 -1l-10 -12l0.5 -19l-5 -2l0.5 -5.5l-5 -3l-0.5 -8.5l-10.5 -6l-6 2.5l-5 -1l-6 2.5l-4 -1l-12 -9.5l-1.5 -2.5l1.5 -2l-4 -5l4 -3l5 -6.5l4.5 -1.5l-1.5 -9.5l-3.5 2.5l-1 7l-2 -1l-1.5 -14l8 0l0 3.5l1 -0.5l0 -3l16 0l-1 6l-5 0.5l-0.5 1.5l3.5 1l4 -1.5l2 1l0 5.5l3.5 4l0.5 9l1 3.5l2 1.5l1.5 -6l4 -4l0.5 -6l5 -4l5 -2l1.5 -10l20.5 0l-0.5 8l3.5 3l-0.5 5l1.5 1.5l1.5 -0.5l-1 -5l2.5 -4l-1.5 -8l9.5 0l0 3.5l-2.5 5.5l4 5l0 11l-5 5l6.5 1.5l2 -0.5l0 -4l8 -10l2 -0.5l2 2l2 -1l-0.5 -4.5l5 -6l-2.5 -3l-0.5 -4l17.5 0l0 5l4 3l1.5 -1l0.5 -7l3 0l0 4l3 1.5l3 -1.5l0.5 -4l37 0l0.5 4l1 1l0.5 -5l3.5 0l116.5 0l-1.5 11l-2 6l1.5 13l0.5 1l1 -1l2 -8l-2 -4l1 -2l2 2l-1 4l4.5 4l1 6l3.5 3l0.5 4l-3.5 5.5l-7 0l-4.5 2.5l-1.5 9l4.5 5l0 2l-0.5 7l-8 7l-0.5 2l5 12l-4 5l-1 8l2 5l-6.5 3l-1 6l-3 5l8 8l3 5l2 0.5l4 -2.5l4.5 5l-4 4l-0.5 5l-4 5l-6.5 1l-3.5 4.5l-5 -1l-7 1.5l-1 5l1 5l4 0l6 4.5l7 1l1 3.5l-2 2l-12 2l-0.5 6l-5 9l-0.5 5l-1 1l-1 -2l-2 -0.5l-3 1.5l5.5 1l-0.5 3l-4 3l3 7.5l10 0l5 -7.5l2 -0.5l1.5 2.5l0 5l11.5 6l0.5 2l-6.5 0.5l-0.5 7.5l-6.5 3l-5 -3l-0.5 -2l1 -3l-4.5 0l0 -5.5l-2 -0.5l-1.5 2l1 7l-1.5 2.5l-8 -1l0.5 4.5l-1.5 1.5l-7 -1.5l-8 4.5l-2.5 -0.5l-1.5 -3.5l-6 -3l-5 0l-2.5 -5.5l-3.5 -0.5l-4 5l-7 -2l-0.5 5.5l-4.5 5zM486.5 84.5l-3.5 -1l-8.5 -7l1 -5l-0.5 -9l-3 -4l0 -5l19 0l-0.5 27l-3 0l-1 1l4 0.5l0 2.5l-4 0zM328.5 65.5l1 -1l0 -3l-3 -1.5l-2 5.5l4 0zM391.5 66.5l1 -2l-1 -4l-2 4l0.5 2l1.5 0zM172.5 67.5l2.5 -2l-2.5 -3l-4 5l4 0zM110.5 77.5l-5 -0.5l0 -4l3.5 0.5l1.5 4zM119.5 98l-14 0.5l0 -18l5 -1l0.5 -2l2.5 1l14.5 15l-1.5 3l-3 -0.5l-4 2zM166 78.5l-1 0l1 0zM395.5 138.5l2 -2.5l5.5 -1.5l3.5 -3l3 2l1.5 -8l-1.5 -1.5l-3 2l-1.5 -7.5l-3.5 -3l0.5 -13l-4 -1l-1.5 -2.5l-2 0.5l-2 -1l0 -7l-1.5 -5l1 -6l-0.5 -2l-3 -0.5l-6 3.5l-5.5 7l0 8l3.5 5.5l4 -1.5l2.5 1l-1.5 1.5l-4.5 1.5l0.5 12l0 1l4 0l5 5l0 2l-4.5 2l0 4l6.5 8l3 0zM261 87.5l1.5 -3l-3 -2l-1 4l1 1.5l1.5 -0.5zM335.5 84.5l1 -1l-1 -0.5l-2.5 0.5l0.5 1.5l2 -0.5zM427 134.5l4.5 -3l9 0.5l3.5 -2.5l-0.5 -3l-6 -4.5l-4 2.5l-3.5 0l1 -3l3.5 -0.5l3 -3.5l4.5 -1l-5.5 -6l5.5 -3l-5.5 -6l-5 0l0 -12l-3 -4l-12 -1l-1.5 2l1 11l0.5 0.5l2 -2.5l2 0.5l4.5 5.5l0 14l-2 2l1.5 2l3 0l2 7l-1 2.5l-4 -1.5l-1.5 2l2 4l2 1zM235.5 99.5l-1.5 -9l-5.5 -2l-0.5 4l-3.5 1.5l1 4.5l3 2l7 -1zM451.5 95.5l0 -2.5l-1 1.5l0 1.5l1 -0.5zM270.5 105.5l0.5 -3l-2.5 -2l-2 -7l-1 0l-2 4l-14 0.5l-5 1l-0.5 1.5l5.5 1.5l5 4l10 -1.5l3 -2l2 4l1 -1zM332.5 98.5l-1 0l0 -1.5l1.5 0.5l-0.5 1zM214.5 100.5l1 -2.5l-1.5 1.5l0.5 1zM145.5 415.5l-5 0l-3 -3.5l-6 -1l-4 -4.5l-4 1l-2 -2l2 -1l4 2l8 -2l1 -1l-1 -0.5l-13 -1.5l-13 3.5l-4 -0.5l0 -116l0 -3.5l5 -0.5l-1 -1l-4 -0.5l0 -37l4 -0.5l1.5 -3l-1.5 -3l-4 0l0 -3.5l6 0.5l2 -2l-3 -4l-5 0l0 -17.5l4 0.5l3 2.5l6 -5l4.5 0.5l1 -2l-2 -2l0.5 -2l10 -8l4 0l0.5 -2l-1.5 -6.5l-5 5l-11 0l-5 -4l-5.5 2.5l-3.5 0l0 -9.5l8 1.5l4 -2.5l5 1l0.5 -1.5l-1.5 -1.5l-5 0.5l-3 -3.5l-8 0.5l0 -20.5l10 -1.5l2 -5l4 -5l6 -0.5l4 -4l6 -1.5l-1.5 -2l-3.5 -1l-9 -0.5l-4 -3.5l-5.5 0l-1 -2l1.5 -4l-1 -3.5l-1.5 0.5l-0.5 5l-6 1l0 -16l3 0l0.5 -1l-3.5 0l0 -7l0 -1l4 0l10 1.5l1 2l-7 1l-2.5 3.5l9.5 1.5l1.5 -4.5l6.5 -5l3 -4l5 4l2 -1.5l3 2l9 10.5l1 5l-2.5 4l1 7l-2.5 6l6 10.5l8.5 0.5l3 5l5.5 -0.5l2 5l19 -0.5l12 10l1 1l-1 10l3.5 5l-1.5 2l-7.5 2l6.5 8.5l5.5 -3.5l5.5 -0.5l4 -4l3 -0.5l3.5 3l2.5 7l2 -0.5l2 1.5l-4 4.5l-5 -0.5l-2 4l-3 1.5l-2.5 -1.5l-1.5 -3l-4.5 -1l-6.5 -5l-3 1l-1.5 5l-1.5 1l-1.5 -2l0 -5l-4.5 -3.5l-5 1l-3 4l-9 4.5l1 2.5l3 -2l1 1.5l0.5 5l2.5 6l5 2l6 -5.5l3 -0.5l2 2l0.5 3l7.5 7l0.5 3l-8.5 1l-6 5l-12 -4.5l-7 3l-1.5 2.5l0 7l-5.5 0l-1 -3l-1 1l1 3l-2 4l-4 4l-6 0.5l-5 8l-3 0l-5 5l-9 -1.5l-9 0.5l-6.5 -8.5l-2.5 -5l-2 -1l1.5 10l2.5 3.5l7.5 4.5l1 2l-1 3l1.5 2l3.5 0l-1.5 -5l4 -2l2 1.5l1 6.5l8.5 2l-1.5 5l1.5 11l5.5 0.5l4 -1.5l5.5 -9l-1 -10l1.5 -1.5l5 -0.5l4 -6l3 0l5 2l5 -4l4 5l5 -1l3 2.5l2 0l2.5 -4.5l1 -7l6.5 0l2 -3.5l4.5 -2.5l0 -3l-4.5 -1.5l-1 -1.5l6 -4.5l1.5 -0.5l1 2l0 11l2.5 1.5l3 -1.5l2 -5l-1.5 -3l1 -3l-4.5 -4l1 -4l2 -2.5l2 0l3 3.5l2 7.5l2 1l2.5 -0.5l1.5 -6.5l3 -2.5l1.5 -3l4 -4l0 -13l2.5 -1l8 4l5.5 7l-1.5 11l5 7l0 6l-2 5l1.5 3l2.5 1.5l3 0l2 -6l7 1.5l3 -4l3 -1l2 11l6 5l11 3l6 6l5.5 1l1.5 2l-1 1.5l-5 0.5l-1.5 2l-1 5l1.5 15l6 -1l3 1l1.5 2l-0.5 4.5l2 3.5l2 0.5l5 -4l0 -8.5l8 -1.5l8.5 11.5l6.5 6l-5 5.5l-5.5 0.5l2 7l-5 4l0.5 3.5l5.5 2.5l0 5l3 6l3.5 1.5l0.5 2.5l-4.5 8l1.5 7l-1.5 1.5l-4.5 -0.5l1 8l-2.5 1.5l-7 -1l-2 1.5l0.5 2l5.5 0l0 4.5l3 -1l2 0.5l3 5l-3 6.5l-7.5 0.5l-0.5 6.5l-2 -0.5l-6 -11.5l-5 0l-2.5 -1.5l0.5 -2l7.5 -5l0 -10l-7.5 -3l-3 4l-3 0.5l-1 -5.5l-1.5 3l0.5 2l2 1l-1 1l-5 0.5l-9 5l-6 0.5l-2 12l-2 2l-3.5 -1l-1 -7l-4.5 -6l0 -4l-5 -1l-5 1l-1.5 7l1 5l-4.5 3.5l-1 6.5l-5 4l-5 0.5l-3 4l-2 0l-4 -4.5l2.5 -4l-0.5 -2l-5 -3l-8 -8l-5 3l-6 1l-3 6.5l-5 -2l-8 1l-5 4l-12 -5l-2 0.5l-7 8l-7 0.5l-2 0l-5 -4.5l-9 1.5l-2.5 4.5l0 7l-4.5 3zM490.5 416l-6 -0.5l-22.5 -23l1.5 -3l-2 -4l4 -3l2.5 -5l-5.5 -1.5l-4.5 -3.5l0.5 -5l4.5 -4l-3.5 -1.5l-2 -2.5l-4 0l0 -6l-5 -3l3 -2l6 2.5l7 -7.5l0.5 -3l-2 -3l3.5 -3l-1 -3l-6 -4.5l-5 0l-4 -2.5l-1.5 -2l1.5 -4l-1 -1.5l-5.5 2.5l1 5l-3.5 4l-4.5 -3l-1.5 -4l1 -3.5l6 -4.5l3 -4.5l6 1.5l0.5 5l2 0l-0.5 -6l1.5 -4l6 -7l5 -3l-0.5 -6l1 -1.5l6 0l2 -1.5l0.5 -5l4.5 -6l-3.5 -2l-2.5 -7l-3 -3l0 -5l-4 -4l0 -4.5l-2 -0.5l-4 2l-3 -1.5l0 -1.5l4.5 -3l0.5 -8l-2 -2l-7 -3l4 -3l1 -7l4 -5l8 -3.5l1 -4.5l3.5 -3l0.5 -2l1 -15l-5 -4l-4 -1.5l-1.5 -4.5l-3.5 -3l-4.5 -6l0 -3l3 -3l0.5 -5l4.5 -4l-0.5 -9l2 -1.5l3 1l1.5 -1.5l-0.5 -12.5l-9 -8.5l5 -5.5l4 0.5l-1 -9l-3 -3l5 -2l4 -3l6 1l2 -2l3 -0.5l3 0l0 3.5l-8 -1l-1.5 2l2.5 2l7 0l0.5 4l0 216l-0.5 5.5l-5 0l-1 1.5l6 1l0 81.5zM179.5 109l-3 -0.5l-1.5 -2l0.5 -5l2 0.5l5 3.5l-1 2l-2 1.5zM349 118.5l1.5 -9l-2 -6l-3 -1l-2.5 2l0 3l3.5 3l0.5 7l2 1zM419 109.5l3 -2l0.5 -2l-4 -2.5l-2 1l-1 4.5l1 1.5l2.5 -0.5zM334.5 122.5l2.5 -3l1 -7l-2.5 -1.5l-1.5 0.5l-1.5 6l0 5.5l2 -0.5zM270 119.5l0.5 -3l-1 -1l-1 3l1.5 1zM118 122.5l2 -4l-0.5 -2l-5 4l1.5 2l2 0zM449 123.5l1 -1l-1.5 -1l-1 1l1.5 1zM158.5 130.5l-4.5 -5l0.5 -2.5l3 -0.5l3 2l0.5 3l-2.5 3zM275.5 126.5l0 -2l-2.5 -1l-0.5 3l1 1l2 -1zM242 136.5l3 -3l-1.5 -3l-4 -2.5l-6 -0.5l0 3l3 0.5l2 4.5l3.5 1zM225 132.5l-1.5 0l1.5 0zM297.5 146.5l-11 -6l11 -5l1.5 2l0.5 7l-2 2zM427 141.5l0 -2l-2.5 -1.5l-1 1.5l1 2l2.5 0zM237.5 143.5l-1 -3l-2 0.5l0.5 2.5l1.5 1l1 -1zM343.5 147.5l2 -3l-1 -4l-7.5 5l2.5 2.5l4 -0.5zM328.5 144.5l0 -3l-2 -0.5l0 3.5l2 0zM401.5 147.5l0 -4l-2 -1l2 5zM435 146.5l-0.5 -3l-1 -0.5l-1 2.5l1 1.5l1.5 -0.5zM394.5 149.5l0 -1.5l-1 0.5l1 1zM337 222.5l4.5 -0.5l1.5 -1.5l1.5 -9l-1 -3l-4 -1l-1 -2l2.5 -10l-1.5 -9.5l3 -1.5l0.5 4l1.5 0.5l1 -1.5l-0.5 -7l1.5 -1.5l3 0.5l0 -1l-2 -10l-11 -1.5l0.5 -1.5l4 -2l1.5 -3l2 1l0 -7l-1 -1l-3 2.5l-8 -4.5l-7 6l4 6l0.5 6l-1 2l-7.5 1.5l-8 -0.5l-8 1.5l-2 2.5l1 2.5l6 0.5l7 6l5 1.5l0 2.5l-2.5 5l5 2l-0.5 2l-4 3l0 2l3 2l1 2l-1.5 6l8.5 9l5.5 0zM471 153.5l-0.5 -2l-0.5 2l1 0zM467.5 162.5l0 -2l-1 -0.5l0 2.5l1 0zM151.5 163.5l1 -2l-2.5 2l1.5 0zM379 179.5l4 -1l1 -2l3.5 -3.5l-0.5 -2.5l-3.5 -3l-3 0l-8 4l0 6l3 2.5l3.5 -0.5zM432.5 173.5l1 -2l-1 -1.5l-2.5 0.5l-2 2l2.5 1.5l2 -0.5zM185 172.5l-0.5 -1l0 1.5l0.5 -0.5zM151.5 183.5l1 -7l-2 -3l-4.5 -1l-1.5 3.5l-4 0.5l2 5.5l9 1.5zM409 179.5l1 -1l-4 -2l-2.5 -4l-3.5 1l-2 4l2.5 2l8.5 0zM468.5 173.5l-1 0l1 0zM470.5 179.5l1.5 -3l-2.5 -2l1 5zM431.5 184.5l-1 -3.5l-2 -0.5l-1 4l4 0zM186.5 192.5l2 -2l0 -3l-5.5 -3l-0.5 -3l-2 -0.5l-1 0.5l0.5 7l3.5 3.5l3 0.5zM196 185.5l-0.5 -2.5l-2.5 -0.5l-0.5 2l3.5 1zM304 183.5l-2.5 -1.5l-2.5 0.5l3.5 2l1.5 -1zM308 187.5l-1.5 -1l0 1l1.5 0zM157 218.5l1.5 -1l-4 -2l2 -3l1.5 -10l-4 -5l-1.5 -5.5l-1.5 0.5l-1 5l-0.5 14l-4 2l0 1l7 2l1 2l3.5 0zM388 204.5l0.5 -1.5l-2 -0.5l0 2.5l1.5 -0.5zM137.5 210.5l2.5 -2l-0.5 -1.5l-5 0.5l1 2.5l2 0.5zM396 216.5l-0.5 -3.5l-3 -0.5l-2 1l1 3.5l4.5 -0.5zM403 222.5l0 -5l-1.5 -2l-1 6l1 1.5l1.5 -0.5zM171 218.5l0.5 -1.5l-4 0.5l3.5 1zM314 223.5l0.5 -3l-2 -1l-2 3l2 1.5l1.5 -0.5zM178.5 223.5l1 -2l-1 -1l-3 0.5l1 2.5l2 0zM353.5 223.5l1 -2l-2 -1.5l-1 2.5l2 1zM354 238.5l1 -5l-1.5 -1.5l-2.5 0.5l-1.5 2l1 2l2 2.5l1.5 -0.5zM467.5 237.5l2 -4l-4 -1l-2 2l0.5 2l2.5 2l1 -1zM324 235.5l-1.5 -2l-0.5 2l2 0zM335 235.5l0.5 -2l-2 -0.5l-1 1.5l2.5 1zM392.5 240.5l3.5 -2l1 -5l-3.5 0l-2.5 2l-1 4l0.5 1.5l2 -0.5zM197.5 247.5l-8 -0.5l-2 -1.5l5 -11l5.5 10l-0.5 3zM410.5 238.5l-1 -1l-0.5 1l1.5 0zM329.5 239.5l-1.5 0l1.5 0zM356.5 246.5l1.5 -4l-1.5 -1l-2 3l2 2zM386.5 272.5l4 -3.5l4 -0.5l4 -3l5 -1.5l7 3l4 -0.5l-7.5 -6l3 -5l-0.5 -6l-6 -6l-12 -0.5l-2 4.5l-5 4l-13 3l-0.5 3l3.5 -0.5l1 1l2 9.5l-1 1l-5 -1l0 4l2 1l5 -1l5 2l3 -1zM236.5 251.5l-2 -4.5l-0.5 3.5l2.5 1zM231.5 297.5l0.5 -4l7.5 0l1.5 -1l-0.5 -1.5l-4 -0.5l0 -2l2 -1l9 1.5l10 -2.5l2 1l2 4.5l11 -1l1.5 -2.5l1 -8l-9.5 -9.5l-6 1.5l-2 -1l-2 -3l-2 0l-3 4l-2 0.5l-2 -5l-5 2.5l-2.5 0l-1.5 -5l-6 -7l-0.5 -6l-3.5 -1l-1.5 2l-1 6l0 10l-1.5 7.5l-2 1l-6 -0.5l-4 -3.5l-3 -0.5l-4.5 5l-0.5 3l4.5 7l-2.5 3l1 1l7 0l-1 -2l3 -1.5l2 -4l1.5 -0.5l1.5 11l11 2zM418.5 255.5l0.5 -1l-1.5 -2.5l-3.5 3.5l1.5 1l3 -1zM240 255.5l-1.5 -1l0 1l1.5 0zM275 262.5l0.5 -3.5l-2 0l-2 1.5l0.5 2l3 0zM407 271.5l-0.5 -2.5l-4 0l1 2.5l3.5 0zM288 271.5l-0.5 -1.5l-2 0.5l1 1.5l1.5 -0.5zM422 270.5l-2 0l2 0zM116.5 277.5l1.5 -3l-0.5 -2l-5 1.5l0 3l4 0.5zM196.5 276.5l0 -2l-3.5 0l0.5 2l3 0zM291.5 277.5l0 -1.5l0 1.5zM150.5 280.5l-1 0.5l-0.5 -1.5l1.5 0l0 1zM165.5 285.5l7 -1l3 -3l-0.5 -1l-6.5 0l-5 1.5l0 3.5l2 0zM135.5 284.5l1.5 -2l-0.5 -1.5l-2 1.5l1 2zM286.5 283.5l1 -2l-1 -1l-1.5 2l1.5 1zM198.5 292.5l1.5 -4l-2.5 -3.5l-5 7.5l3 1l3 -1zM163 298.5l8 -2l-1.5 -1.5l-7 -0.5l-3 -3.5l-4.5 1.5l0.5 4l7.5 2zM473.5 294.5l2 -1l-1 -2l-2 2l1 1zM289.5 302.5l1.5 -1l-0.5 -2l-5 -1.5l-1 4.5l5 0zM274.5 302.5l1 -2l-2 -1l-1 2l2 1zM403.5 326l-7 -2l-3 0l-9 -7.5l-2 -3l0.5 -6l3.5 -4.5l7 -1.5l1.5 2l-2 5l1.5 0.5l6 -8l3 0.5l-0.5 13l4 8l-3.5 3.5zM297 305.5l2 -1l-1.5 -2l-3.5 1l0.5 2.5l2.5 -0.5zM428.5 317l-2 -0.5l-4 -5l-1 -8l1 -2l7.5 6l-0.5 8l-1 1.5zM319 361.5l-3 -10l1.5 -5l3 -4l0.5 -4l4.5 -6l-2 -6l0.5 -6l-1.5 -2l-3 1l1 5l-2 0.5l-8.5 -1.5l-1 -1l1 -3l-2.5 -0.5l-1.5 1.5l-2.5 12l-4 5l-4.5 2l0 11l5.5 6.5l7 1l5 -3l5 6.5l1 1l0.5 -1zM225 335.5l3.5 -3.5l2 -1l1.5 -5.5l-1.5 -4l-3 -1.5l-5 1l-3.5 8.5l1.5 4l4.5 2zM182.5 358.5l3 -1l-2 -3l3 -3.5l1.5 -5.5l3 -3l-0.5 -2l-8 -6.5l-5 0.5l-2 4.5l-6 -6l0 -3.5l-9 -0.5l-5 0.5l0 3.5l-2 2l-1 -2.5l1.5 -4l-5.5 -3.5l-7 -0.5l-7 5l-4.5 6l0 3l1.5 1.5l7 -1l5 1.5l7 0l1 2l-0.5 2l2.5 1.5l1 4l13 -0.5l3 3.5l7.5 1.5l-1.5 4.5l6 -0.5zM471.5 336.5l7 -2l2 -2l-4 -2l-5 0.5l-2.5 3.5l1.5 3l1 -1zM375.5 354.5l-9 -3.5l-10 1l-4 -1.5l0.5 -2l8 -6l-0.5 -1.5l-5 2l-2 -1.5l0.5 -5l2.5 -3.5l3 -2l6 -0.5l6 5l4.5 6l0 4l2 4l-0.5 3l-2 2zM407.5 335l-3 0l-1.5 -2.5l3.5 -1l2 2l-1 1.5zM445.5 337.5l-2 1l-2.5 -1l-0.5 -2l1 -2.5l4 0.5l4 -1.5l2.5 0.5l-0.5 2l-6 3zM256 336.5l1 -2l-1.5 -0.5l-1 1.5l1.5 1zM117 340.5l1.5 -2l-1 -1l-4 1l-1 1l4.5 1zM269 343.5l0 -4l-3.5 -1l-1 2l0.5 3l1.5 1l2.5 -1zM286.5 345.5l4.5 -2l2 -5l-2.5 -1l-4.5 3l-1 3l1.5 2zM472 340.5l-1 -1l1 1zM201.5 342.5l-1 -1l-0.5 1l1.5 0zM425.5 355l-1 0.5l-5.5 -5l0 -2l3.5 -4.5l3 1l3.5 4.5l-0.5 3l-3 2.5zM231 357.5l1 -8l-1 -3l-1.5 -0.5l-4 2l-1 3.5l4 2.5l2.5 3.5zM200 349.5l-4.5 -2.5l-1 0.5l1 2l4.5 0zM275 350.5l-1.5 -2l-6 1l6 2l1.5 -1zM323.5 354.5l0 -3l-2.5 -1l0 4l1.5 1l1 -1zM386.5 356l-2 0l-1 -1.5l1 -3.5l2.5 1.5l-0.5 3.5zM458.5 354.5l-1 -2l0 2.5l1 -0.5zM290.5 358.5l0 -1.5l-1 0.5l1 1zM307.5 366.5l1 -2l-1 -2.5l-3.5 3.5l2.5 1.5l1 -0.5zM182 391.5l2 -3l-0.5 -8l3 -4l-1 -3.5l-5 -2l-1 1.5l1.5 4l-2.5 1l-7 -2l0 -3l-2 -1.5l-2 2l-14 0l-5.5 -4.5l-0.5 -2l2.5 -2l-0.5 -0.5l-11 -1l-2 1l0.5 11.5l3.5 3.5l12 -0.5l1.5 2l-0.5 4l5 5l1.5 0l2.5 -5l6 5.5l1 -4.5l3.5 -3l0.5 -3.5l3 -1l0.5 2.5l-3 4l0.5 2l4 5l3.5 0zM160.5 369.5l1.5 -4l-0.5 -2l-6.5 2l1.5 4.5l4 -0.5zM446.5 373l-3 -0.5l-4.5 -3l-1.5 -2l0.5 -2l4.5 -2.5l4 2.5l2 -1l2 0.5l0.5 2.5l-4.5 5.5zM403.5 377l-3.5 -0.5l-4 -5l0.5 -1.5l5 -3.5l6 6l-4 4.5zM322.5 369.5l0 -1.5l0 1.5zM367.5 377.5l-8.5 0l-5.5 -7l2 -1l8.5 1l4.5 4l0.5 2l-1.5 1zM192.5 375.5l1 -3l-2 -1l-1.5 2l2.5 2zM236 379.5l1.5 -2l-2 -2.5l-3 2.5l3.5 2zM223.5 381.5l2.5 -2l-1.5 -3.5l-2.5 3.5l0.5 2l1 0zM199 382.5l-2.5 -2l-1.5 1l1.5 1.5l2.5 -0.5zM467.5 438.5l-81 0l-1 -6l-1.5 1l0 5l-5.5 0.5l-216 0l-4 -0.5l0 -7l-2 -2.5l-2 1.5l1 8l-3.5 0l0 -3l0.5 -3l2 -2l-1 -6l3 -4l2 -5l3 3l9 1l-0.5 -4l5.5 -5l8.5 9l12.5 0.5l1.5 -1.5l-1 -3l1.5 -2l9 0.5l4 -4.5l5 -0.5l3 -3l3 0l6 4.5l3 3.5l4.5 1.5l1.5 4l4 5l15 -1l2 -0.5l3 -3.5l4.5 -1l3.5 -8l5 -4l7 -1l3 -4l3 7l2 2l8 -0.5l3 -4.5l1.5 0l1.5 3l-2 4l0.5 2l4.5 0l4 4l5 0l3 3l7 2.5l2 3.5l6 -4.5l5 -0.5l1.5 -2l0 -6l1.5 -1l6 0.5l3 -5l7 -6l4 -1.5l6 0.5l0 -2l-5 -0.5l-1.5 -6l4.5 -3l4.5 -6l3.5 -1l4 1.5l3 4.5l-4 3.5l-5 -1l-2.5 5.5l1.5 1l4 -1.5l2 1.5l2.5 4l0 5l4.5 6l3 1l3 -3.5l3 2l3 -0.5l7.5 -7l-2.5 -6l2 -3l3 5l6 0l0 4l2.5 2l1.5 3.5l4 -4.5l5 -0.5l3.5 4.5l1.5 5.5l5 -2.5l3 -4l4 2l3 -1.5l23 22.5l0 6zM419.5 399l-3 -1.5l1 -3l-2.5 -4l2.5 -4.5l2 -0.5l4 4l1.5 4l-1 2l-4.5 3.5zM386.5 399.5l-2 0.5l-0.5 -1.5l1.5 -5l-1 -3l1 -1.5l3 -0.5l2 3l-4 8zM175.5 397.5l-1 -2l-1 1l2 1zM147.5 399.5l0.5 -1l-1.5 0l-1.5 1l2.5 0zM406.5 406.5l0.5 -1l-2.5 0l2 1zM286.5 417.5l4 -3l-2 -2.5l-2 -0.5l-2 3l0 2l2 1zM214.5 415.5l0 -1l-2.5 0l0.5 1l2 0zM225.5 415.5l0 1l0 -1zM231 419.5l0.5 -1l-5 -1l2 2.5l2.5 -0.5zM385 428.5l4.5 -10l-3 -1.5l-3 1.5l-1 3l0.5 5l2 2zM205 419.5l0.5 -1.5l-2 0.5l1.5 1zM392.5 419.5l-1 0l1 0zM135.5 438.5l-1.5 0l-0.5 -4l-1 1l0 3l-27 0.5l0 -19l5 0l4 3l9 0.5l5 -1l8 10l-1 6zM344.5 423.5l2 -2.5l-2.5 0.5l0.5 2z" fill="#15ff00" fill-rule="evenodd"/>
<path d="M142.5 71.5l-6 -8l-4 -2l1 -8l16.5 0l-1 14l-1.5 2l-3 0l-2 2zM159.5 62.5l-2.5 -4l0 -5l5.5 0l0 5l-3 4zM179.5 58l-3 -1.5l0 -3l4 0l-1 4.5zM211.5 100l-3 -0.5l-3.5 -3l-5.5 3l-6 -2l-1 -8l1 -8l6 -8l3 -1.5l0 -5l7 0l2 -1.5l-1.5 -4l0.5 -8l2 0l1 9.5l2 -2.5l-0.5 -7l9 0l0 4l2.5 1l1.5 4l2.5 3l1 6l5 1.5l2 -4.5l5 -3l1.5 1l0.5 2.5l-2.5 6.5l-3.5 4.5l-2 1.5l-6 -1.5l-2 6.5l-5 4.5l-5.5 0.5l-7.5 8.5zM278.5 154l-6.5 -4.5l0.5 -4l-2 -1l-3 1l-2 -2l6.5 -7l0 -5l5.5 -4l-1 -4l-3.5 -4l0.5 -8l-1.5 -5l0.5 -5l-3 -4l-1.5 -5l-5 -3l0.5 -6l-4 -5l0.5 -4l4.5 -3l0.5 -6l7.5 -7l0.5 -5l1.5 0l7 0l0.5 5l3.5 4l2.5 0l3.5 -2.5l6.5 -0.5l14 10l1.5 3l-0.5 7l2.5 8l-2 3l-4 2l0 4l-2 2l-11 4l2 3.5l2 -1.5l1 1l-4 5l-2 0.5l-4 -1.5l-2 -3l0.5 -4l-1.5 0l-0.5 4l-4 5l1.5 6l-5.5 10l4 13l-4 5l-1.5 8.5zM308.5 59l-5 -0.5l-0.5 -5l7 0l0 4l-1.5 1.5zM363.5 260.5l-5 -3l-4 1l1 -2.5l6 1.5l1.5 -2l-3.5 -4l0.5 -9l-4 -4l0 -7l-9.5 0.5l-2 -6l-7 2.5l-5.5 4l-2 3l-2.5 0.5l-4 -4.5l-4 1.5l-4 -1l-3.5 -4.5l5.5 -7l3 -1.5l7 1l5 4l12 -1l1 -7.5l3.5 4l-1 3l1 1l4.5 1.5l2 -2.5l-0.5 -3l-4 -2l-1.5 -3l-3 -0.5l-1 -10.5l-1.5 0l-1.5 3l-2 -0.5l-0.5 -1.5l3 -13l3.5 -3l1 -6l3.5 -2l0 -7l3.5 -2l-3 -3l-1 -5l-3 -3l-2 -10l1.5 -11l3.5 -3.5l0.5 -5.5l-1.5 -1l-7 0l-6 6l-3.5 -4l3.5 -7l14.5 -4l0.5 -12l-1.5 -6l-3.5 -3l0 -15l-8.5 -7l0 -4l3.5 -2l0.5 -2l-2.5 -2.5l-4 1.5l-3.5 -1l-1 -8l-6.5 -1.5l-0.5 -4.5l8 0l0.5 5l6 7l2 -4l-1.5 -3l-0.5 -5l50.5 0l-1.5 14l-3.5 5l0.5 6l-8.5 9l-1 9l3 4l2 6l0 12l1.5 1.5l3 -1l1 1.5l-2 7.5l-4 1.5l0.5 3l1.5 1.5l2 -3l1 0.5l5 4.5l0.5 2.5l-3.5 1l-5 -3l-2.5 2l0 2l2.5 2l9 -2l3.5 1l-2.5 8l5 5l3 0l4 -5l1 -8l-2 -2.5l-4 -0.5l-0.5 -1l7.5 -1.5l1.5 1.5l0 3l3.5 1l1 -2l1 -15l-1 -1.5l-4 -1.5l-1 -3l1 -2l3.5 -2l-7.5 1l-1 -2l1 -7.5l10 0.5l1 4.5l4 1.5l1 3l7 7l0 4l-4 0.5l-1 2.5l1.5 12l6.5 1.5l1.5 3.5l-0.5 21l-6 3.5l-6 -1l-3 -2l-5 3l-5 -1l-6 1l-3 1.5l-2 3.5l-2 0.5l-2.5 -1l-0.5 -3l-4 -5l-5 -1.5l-3 2.5l-5 1l-1 1l-0.5 6l2.5 3.5l3 2l16 -2.5l9 2l8 -0.5l8 -8l3 0l6 4.5l-1 6l1.5 2l5.5 0.5l4 -3.5l9 2.5l4 5.5l3 1l3 -2l3.5 3l-4 2l-0.5 6.5l-1 1l-4 0.5l0 3l-11.5 -1l-5 2l1.5 3l-0.5 1l-5.5 0l0 13.5l2 1.5l3 -1l1 1l-2.5 2l-1 5l1 10l-6.5 9.5l-4 0l-6 -7l-4.5 -1.5l1.5 -6l-1 -2l-8 2l-1 3l-4 -0.5l-1 -0.5l2 -3l3.5 0l0 -4l-1.5 -1.5l-7 1l-6 4.5l-3 -1.5l-2 0.5l0 3l4 0.5l1.5 2.5l0.5 3l-1 3l-5 2.5l-5 -0.5l3 -7l-1 -2l-5.5 5l1 4l-1 2l-4 2l-2.5 4l-5 3zM453.5 122l-3 -7l-4 -2.5l-2 -7l-5 -2l-3 -4.5l-4 1.5l-0.5 -6l2 -4l-6.5 -7l-12.5 1l-1 14l-1.5 2.5l-11 -1l-4 -3.5l-4 1l0.5 -20l-1.5 -1.5l-4 -0.5l-0.5 -1l2 -5l4 -4l0 -12l39.5 0l0 5l4 0.5l4.5 -1.5l0 -4l5 0l2 8l2.5 2l2 -10l1 8l-2.5 9l1.5 11l-1 4l-4 5l0.5 7l2 5l-1 7l1.5 3l3.5 3l-1.5 6.5zM483.5 80l-4 -1l-3.5 -3.5l0 -13l-3 -5l0 -4l18 0l-0.5 25l-5 0.5l-2 1zM167.5 63.5l-1 -1l1 -1.5l1 1.5l-1 1zM172.5 96.5l-4 0l3 -0.5l0 -3.5l-6 -1l-2 -3.5l-4 -1.5l-2 -3.5l-3 -1.5l-1 -2l6 -4.5l1.5 1.5l-0.5 3l7 1.5l1 -2.5l-2 -4l2 -3l9 -7l4 -0.5l5.5 8.5l-0.5 6l3.5 14l-1.5 1.5l-4 -0.5l-12 3zM143.5 72.5l0 -1l0 1zM238.5 94.5l-2 -0.5l0 -2.5l3 -5.5l10 -0.5l4 -6l1 -0.5l2 2l0.5 5.5l-1.5 3.5l-6 2.5l-9 0.5l-2 1.5zM113.5 97.5l-8 0.5l0 -16.5l8 -1l2 4l8 6l-2 2l-1 4l-7 1zM341.5 87.5l-3 0l2 -1l1 1zM462.5 97.5l-8 -0.5l1.5 -8.5l3 0l-1 4l6.5 1.5l0 2.5l-2 1zM124.5 91.5l-1 0l1 0zM440 97.5l-2.5 -5l-2 -1l0 4l4.5 2zM465.5 93l0 -1l0 1zM260.5 96.5l-6.5 0l6.5 -2.5l1 1.5l-1 1zM226.5 149.5l-6 0.5l-9 -9.5l4.5 -5l-1.5 -2.5l-3 2.5l-1 -0.5l1.5 -14.5l-5 -5l1 -10l7.5 -4l6 -5l6.5 6l-1.5 4l0 11l4.5 7l-1.5 6.5l-6 -0.5l-1.5 1l0.5 2l5 3l-1 13zM423.5 103l-5 -2.5l0 -3l3 0.5l2 5zM144.5 138l-14 -3.5l-6 0.5l-8.5 -5.5l0.5 -4l7 -9l3 -2l4 2l2.5 -1l-1.5 -7l-3 0.5l-1.5 -1.5l4.5 -6l2 1l1.5 3l3.5 2l1.5 4l3.5 2l1 6l3.5 0l0.5 -3l-0.5 8l-2.5 8l0.5 4l-1.5 1.5zM248.5 132.5l-2 0l-6 -5.5l-6 -1.5l-1 -11l4.5 -4l-5.5 -2.5l-2.5 -4.5l0.5 -1.5l12 0l7 1.5l4 4l-5 3l4.5 3l1.5 4.5l3 -1.5l-2 -6l1 -3l6 -1.5l5 3l0.5 1.5l-3 5l-11.5 5l-1 6l-4 6zM447 103.5l-0.5 -2l-1 2l1.5 0zM202.5 110.5l-1.5 -4l2.5 -3.5l1 5.5l-2 2zM339.5 108.5l-2.5 -2l4.5 -3l-0.5 4l-1.5 1zM479.5 272.5l-3 0l-1 -5l1.5 -3l-1.5 -2l-3 1l0 -5l-4.5 -4l-0.5 -5l-3.5 -4l0.5 -3.5l4 -1.5l2 -7l-3 -2l-8 0.5l-0.5 -7.5l3.5 -5.5l2 0l1 2l3 -1.5l4 -5l0 -4l4 -4l1 -16l-4.5 -6l0.5 -9l-8.5 -6l-1 -3l0.5 -1.5l4 -1.5l0.5 -6l4 -4l0 -21l-4 -4l-0.5 -2l1 -4l3.5 -3l0 -7l3.5 -3l-1.5 -3l1.5 -3l3 3l11 1l0.5 13l-0.5 150.5l-7 0l-2 -4.5l-2 -0.5l-1 1.5l2.5 3l-1.5 2zM179.5 106.5l-2 0.5l-1 -2.5l1.5 0l1.5 2zM109.5 110.5l-4 0l0 -5.5l9 1.5l0 1l-5 3zM322.5 136.5l-2 -1l0 -4.5l-4.5 -3.5l8.5 -8l-2 -1.5l-2 2.5l-1 0l-2.5 -4l1 -2l6 -3l0 -5l1.5 -1.5l3.5 1.5l-1 4l3 7l-0.5 11l-5 7l-3 1zM422.5 113l-2.5 -1.5l2.5 -1.5l0 3zM342.5 117l-2 -0.5l-0.5 -1l3.5 -3l0.5 3l-1.5 1.5zM115.5 115.5l-2.5 0l1.5 -1l1 1zM288.5 118l-2 -0.5l2 0.5zM291.5 118.5l-1 0l1 -1l0 1zM253 118.5l-2.5 0l2.5 0zM443.5 124l-2 0l-4.5 -4.5l1.5 -1l5 3l0 2.5zM432.5 123.5l0 -1l1 0l-1 1zM353.5 125.5l1.5 -2l-1.5 -1l0 3zM158.5 127.5l-2 -1.5l0 -1.5l2.5 1l-0.5 2zM109.5 128l-4 0.5l0 -4l3 0l1.5 2l-0.5 1.5zM267.5 126.5l-2.5 0l0 -1l2.5 0l0 1zM446.5 129.5l0.5 -3l3 0l-3.5 3zM429.5 138.5l-2.5 -2l5.5 -4l3.5 1l-6.5 5zM444.5 133.5l0 -1.5l0 1.5zM344.5 136l-1.5 -0.5l0.5 -1.5l1.5 0.5l-0.5 1.5zM297.5 144.5l-6.5 -4l5.5 -3.5l1 1.5l0 6zM338.5 140l-1.5 -0.5l0.5 -1.5l1.5 0.5l-0.5 1.5zM445.5 152.5l-1.5 0l-2 -4l-3.5 -2.5l1 -5.5l2 -1.5l7 0l2 3.5l0 2l-3.5 2l-1.5 6zM120.5 193.5l-3 -2l3 -5l4 -1.5l-0.5 -4.5l-1.5 -1.5l-5 -0.5l-3 -2.5l-4 -1.5l-1 -2.5l-4 0l0 -9l7 0.5l2.5 -2l-9.5 -1l0 -2l8 -0.5l4 1.5l1.5 -2l0 -7l5 0l1.5 -3l7 -5.5l16 -1l3 5.5l-3 6.5l3 3.5l0.5 3l-8.5 7.5l-0.5 5.5l-4.5 5l-6.5 2l1.5 6l-1.5 2l-4.5 3.5l-7 2.5zM247.5 148.5l-2 0.5l-2.5 -1.5l-1.5 -3l1 -2l2 -0.5l3 1.5l1 3l-1 2zM321.5 154l-3 -0.5l-2 -4l-5 -0.5l-1.5 -2.5l12.5 -3l0.5 3l-1.5 7.5zM235.5 153.5l-1.5 -1l-0.5 -5l2 0l1 2l0 3l-1 1zM327.5 152.5l-1.5 -1l2 -3l3.5 -1.5l2 1l0 1.5l-6 3zM161.5 152l-6.5 -0.5l4.5 -2.5l3 1.5l-1 1.5zM307.5 172.5l-3 0l-1 -1l4.5 -7l-1.5 -8l0.5 -2l5.5 1l4 3.5l6 -1.5l1 4l-5.5 6l-0.5 3l-10 2zM180.5 178.5l-5 0.5l-5 -4l-4 -1l-12 2l-6 -6.5l5 -6l3 -6.5l4 -2l8 0.5l4 4.5l14 -1.5l1 1l-2.5 3l2.5 1.5l5 -4.5l9.5 9l0.5 5l-2 1.5l-12 0.5l-3 -5l-2 -0.5l-1 1.5l1 5l-3 2zM438.5 159l-1.5 -0.5l0.5 -2l1.5 1l-0.5 1.5zM248.5 174.5l-3 0l-5 -4l5 -7l0 -5l2 -1l5.5 1l0.5 4.5l5.5 3.5l-1 2l-4 2l-2.5 3l-3 1zM327.5 171l-2.5 -1.5l0 -7l1.5 -0.5l2 2.5l0 5l-1 1.5zM290.5 170.5l-5.5 -2l1 -3l2.5 -1l2 1l1 4l-1 1zM439.5 171l0 -1.5l0 1.5zM300.5 178l-2 -1l0 -2l2.5 0.5l-0.5 2.5zM360 176.5l0 -1l-1.5 -0.5l0 1.5l1.5 0zM162.5 216l-2 -0.5l-2 -3l-0.5 -4l1.5 -4l3 -1l6 2l1.5 -3l-4.5 -1.5l-3 -4.5l-3 5l-4 -4l-2 -17l1 -3l5.5 3l2.5 5.5l4 -4.5l11 1l1.5 6l6 7l-1.5 2.5l-5 2.5l-6 1l-5 11.5l-5 3zM204.5 184.5l-3.5 0l-1.5 -3.5l5 1l1 1.5l-1 1zM140.5 204.5l-6 0.5l-3.5 -2.5l6.5 -4.5l1 -11.5l7 -2l1.5 1l-2 3l-0.5 10l-2 4.5l-2 1.5zM297.5 205.5l-4 0.5l-5 -5l-5 0.5l-2.5 -1l4.5 -2l0.5 -7l5.5 -5l9 -1l8.5 6l0.5 6l-0.5 2l-5.5 5l-6 1zM219.5 207l-2 -0.5l-3 -5l-4 -0.5l-1 -5.5l1 -2l5 0l7 -5l3 3l1.5 4l-1.5 4l-2.5 2l-3.5 5.5zM319.5 191l-2 -0.5l1 -2.5l2 0.5l-1 2.5zM277.5 202l-3 -1l-4 -3.5l-2 -3l-1 -5l11 0l5 -1l-3 12l-3 1.5zM200.5 195.5l-2 1l-3 -1l-1.5 -3l0.5 -2l2 -1l3 1.5l1.5 2.5l-0.5 2zM171 200.5l-0.5 -2l0.5 2zM316.5 210.5l-4 -1l-1 -5l1 -2l3 -2.5l2.5 1.5l-1.5 9zM403 224.5l2 -3l-2 -10l-5.5 -6l-6 -1l-2 -4l-5 0.5l-1 7.5l-4.5 3l1.5 4l0 5l5 1.5l5 3l7 -2l5.5 1.5zM147.5 209.5l-1.5 -1l2.5 -6.5l0 5.5l-1 2zM322.5 210l-2 -1.5l1 -2.5l2 1.5l-1 2.5zM139.5 263.5l-7 -2l-10 -0.5l-5.5 -6.5l-2.5 -5.5l-3 -2.5l0.5 -7l3 -5l-4.5 -4.5l-5 -0.5l0 -8.5l5 -0.5l7 -7.5l6 -0.5l3 -4.5l5 0l4 3.5l6 -0.5l3 5l5 1.5l4 3l5 -0.5l5 1.5l8 -0.5l4 3.5l4 1l4 -5.5l5 0l7 -6.5l2 2l-1 3l1 2l4 -0.5l4 4.5l0 2.5l-7 0.5l-6 4.5l-13 -4l-10 5.5l-6 -1.5l-5 4l-4 0.5l0 1.5l4 -0.5l3 2l1.5 4l-0.5 2l-5 4l-1 -1l1.5 -2l-3.5 -2l-4 11l-2 2l-4 0l-2 4l-3 2zM396.5 211.5l-5 -2l4 -0.5l1.5 0.5l-0.5 2zM440.5 210.5l-1 -1l2 -0.5l-1 1.5zM178.5 215.5l-1.5 -1l1.5 -1.5l0 2.5zM241.5 231.5l-1 0l1 -5l-0.5 -9l1.5 -2l7 3l3.5 4l1 3l-1.5 3l-11 3zM308.5 219l-2 -0.5l-1 -3.5l3 0.5l0 3.5zM396.5 221.5l-5 -0.5l-1.5 -2.5l7.5 0l-1 3zM444.5 232.5l-8 -1l-1.5 -4l10.5 1l1 2l-2 2zM249.5 257.5l-6 -0.5l-4.5 -5.5l-1.5 -4l0.5 -6l5.5 -7.5l7 -0.5l2 -4.5l1 2.5l-0.5 5l4.5 4l0.5 3l-1.5 8l-5 5.5l-2 0.5zM221.5 239.5l-3 -0.5l-2 -1.5l2 -4.5l2 0l2 2.5l0 3l-1 1zM169.5 237l0 -2.5l0 2.5zM170.5 240l-1 -0.5l1 -1l0 1.5zM196.5 245.5l-6 0l-1.5 -1l3.5 -5.5l4 6.5zM332.5 250.5l-8.5 -2l-2 -6l0.5 -3l2 0l2 2l5 2l3 5l-2 2zM347.5 249.5l-3 -0.5l-1 -1.5l1.5 -5l2.5 -2.5l2.5 1.5l1 3l-0.5 4l-3 1zM229.5 249l-2.5 -0.5l0 -2l2.5 0.5l0 2zM460.5 250l-2 -0.5l0.5 -1l2 0l-0.5 1.5zM412.5 251l0 -1.5l0 1.5zM109.5 258l-4 0l0 -7l4 0l1.5 1.5l0.5 3l-2 2.5zM213.5 271.5l-4 -1l1.5 -6l-3.5 -4l-1.5 -5l2.5 -1l8 1.5l7 -4.5l1 3l-2 11l-3 0.5l-6 5.5zM270.5 257l-3 -0.5l-0.5 -3l3.5 1l1 1l-1 1.5zM328.5 258l-1 -3l1.5 1.5l-0.5 1.5zM201.5 270.5l-4 0.5l-2 -1l3 -12l2.5 1.5l0.5 5l4 2l1 2l-5 2zM254.5 266l-2 -0.5l-0.5 -2l2.5 -3l7 0l1 4l-5 0l-3 1.5zM245.5 406.5l-2 0l-1.5 -2l1 -6l-6 -5l-2.5 -9l3.5 -4l-0.5 -5.5l-2 -1.5l-6 1l-4.5 -6l0 -3l8 -8l0.5 -8l-2 -9l2.5 -16l-2 -3l-3.5 -2.5l-6 0.5l-1 1l-1 5l-2.5 3l1.5 5l5 4l3 0.5l1 2.5l-0.5 2l-3.5 2l-1.5 3l-1 6l1 5l-3 5l2 3l1 6l-3.5 6l-21 0.5l-3.5 -1.5l-1.5 -6.5l-12 -1.5l-2.5 1l-0.5 4l-4 0l-7 -7l-3 -1l-1.5 -4l-4.5 -1l-0.5 -10l7.5 -1l2 1l-1 7.5l2 -3.5l2 -1l3 1l1.5 4l1.5 1l15 -1l2 -1l-1 -3.5l-3 0l-1.5 -1.5l1.5 -7.5l1 0.5l0.5 4l2.5 2l8 -1l5 -4l0 -3l-5 -5l-8 2.5l-1 -3.5l2 -9l-2 -2.5l-2 0l-2 2.5l3 5l-1 3.5l-2.5 -0.5l-4.5 -5l-0.5 -1l3 -2l-1.5 -1.5l-3 -0.5l-1.5 4l-7.5 2l-1.5 -1l1 -3l-1.5 -1.5l-12 0l-6 -2l-4 -3l-9 1l-9 8.5l-6 -0.5l-5 3.5l-14 1.5l0 -50.5l5 0.5l3 1.5l4 -2l-7 -6l-5 -0.5l0 -8l4.5 0.5l1.5 6.5l8 1l1 3.5l-1.5 4l2.5 2.5l2 -0.5l2 -3.5l4 0l7 8.5l15 0l3 3.5l6 1.5l12 -0.5l4 -14.5l7 -3.5l4 3.5l-6 6l0 7l1 1.5l5.5 -0.5l3.5 -3.5l11 -1.5l10 2l3 3l5 1l3 3l2 -3.5l7 0l2 -3.5l6 -1l3 -3.5l13 -3l1.5 0.5l0.5 2l-3 1.5l0 1.5l10.5 1l0.5 3l3 1.5l2 4l3 0.5l2.5 -2l-1.5 -4.5l-1 -1l-3 1l-4 -3.5l7 0l1 -2l0.5 -11l-4.5 -6l-0.5 -7l7.5 -7l4 1l2.5 5l-1.5 5l4 3l0.5 2l-7.5 9l-2.5 7l6 2l-0.5 9.5l7 0l4 4l9 -0.5l4 3.5l2 -1.5l-1.5 -6l2.5 -1l-1 4l3 4l-3 6l-4 2.5l-2 4l-2 1l-4 -1l-5 5.5l2 1l7 -3l1 4l-2.5 5l-2.5 2l-3 -0.5l-3.5 -1.5l-0.5 -4l-3 0l-0.5 2l1.5 3l-4.5 6l-1 7l1.5 1.5l4 0l0 -3.5l3 -2l0.5 1l0.5 4l-3 1l-2 8l2 1l6 -1.5l1.5 4.5l7 6l0 4l-9.5 6.5l-10 -1l-5 1l-2 2.5l-1 -1l1 -3l-1.5 -2l-13.5 0l0 5.5l-1 0.5l-3 -1.5l-2 5l1 11.5l-3 0l-0.5 4l-1 1l-6.5 0.5l-1 3.5zM374.5 265l-1.5 -2.5l0.5 -2l1.5 1l-0.5 3.5zM419.5 267l-4 -3.5l1 -2.5l3.5 0.5l0.5 4l-1 1.5zM440.5 266l-0.5 -1.5l1.5 -1l-1 2.5zM180.5 278.5l-11 0.5l-7 -3l-4 1l-1.5 -3.5l1.5 -1.5l5 0l3 -6l2 -1l4 2.5l0 1l-2.5 2l1.5 2l8 -8.5l4 4.5l5.5 1l-1.5 4l-7 5zM367.5 292l-17 -13.5l1 -4.5l9 -2.5l6 -7l3 1l0.5 5l2.5 2.5l12 1l14 -6l0.5 2.5l3.5 2l4.5 0l2.5 -3.5l2 0l8 3.5l6 0l2 2l-1 8.5l-8 1l-3 1.5l-4 -2l-6 1l-4 -1l-6 -4.5l-2 -3.5l-3 4l-10 0.5l-1.5 4.5l-6.5 -2.5l-2 7l-3 3zM241.5 269l-1 -0.5l-0.5 -2l2.5 -1l1 1l-2 2.5zM260.5 271.5l-2.5 -1l0.5 -1.5l3 0l0.5 1.5l-1.5 1zM300.5 282.5l-5.5 -4l-1.5 -4l-2 -2l1 -3l8.5 3l2 7l-2.5 3zM437.5 278.5l-3 -1l0 -3l4 -3l1.5 1l0 3l-0.5 2l-2 1zM221.5 276.5l-6 0l-1.5 -2l0.5 -1.5l7 0l1.5 1.5l-1.5 2zM468.5 332l-9 -6.5l-5 0.5l-4 -2.5l1.5 -5l3.5 -2.5l0 -9.5l7 -7l9 -1.5l5 -3l1 -1.5l-1 -8l1.5 -6l5.5 -6.5l7 0.5l0 57l-8 1l-9 -1.5l-5 2zM200.5 282l-1.5 -1.5l0.5 -2.5l2 -3l3 -0.5l-4 7.5zM309.5 277l-2.5 -0.5l0 -1l2 0l0.5 1.5zM445.5 285.5l-3.5 -3l2.5 -3.5l2.5 4.5l-1.5 2zM393.5 285l-3 0.5l-1.5 -2l3.5 -3l2 2l-1 2.5zM157.5 289.5l-2 0l0 -1l2 -3l2 -0.5l1 3.5l-3 1zM191.5 287l-1.5 -0.5l0.5 -1.5l1 0.5l0 1.5zM139.5 290l-1 -1.5l1 -2l0 3.5zM418.5 289.5l-2 -2l2 0l0 2zM167.5 292l-3 -0.5l2 -3l2 0l0.5 2l-1.5 1.5zM469.5 292.5l-1 0.5l-1 -1.5l1 -2l1.5 1l-0.5 2zM405.5 293l-2 -1.5l2 -1l1.5 1l-1.5 1.5zM187.5 293l-1.5 -0.5l0 -1l1.5 -0.5l0 2zM300.5 298.5l-6 0l-2 -2l0 -2l2 -1.5l6 -1l1 3.5l-1 3zM334.5 375l-8 0.5l-2 -2l0 -6l-3.5 -8l0 -2l3.5 -2.5l0 -3.5l-2 -4.5l-2.5 -0.5l6 -14l-1 -11l-1.5 -3l-6 -1l-1 -2l0.5 -2l6.5 -5l2.5 -9l3.5 -1l2.5 1l2 4l10 12l-3 3l-7 2l2.5 6.5l-4.5 1.5l-0.5 10l-4 3l3.5 2l5 8l-0.5 8l2 4l-3 11.5zM177 302.5l0.5 -1l-3 0l2.5 1zM401.5 305.5l-1 -2l1 -2l1.5 2l-1.5 2zM391.5 321l-6 -5l-1.5 -2.5l1.5 -8l2 -2l3 -1l2 1l-2.5 8l3.5 1l1 2l-3 6.5zM229 307.5l-0.5 -1l-1.5 0l0.5 1.5l1.5 -0.5zM427.5 315l-3.5 -3.5l1.5 -5l2 1l0 7.5zM400.5 312.5l-2 -2l1 -3l1.5 2l-0.5 3zM448.5 314l-3 -0.5l0.5 -2l2.5 0l0 2.5zM404.5 324.5l-3 0.5l-3 -2.5l2 -4.5l2 0l2 2l1 2.5l-1 2zM442.5 326.5l-2 0.5l-2.5 -2.5l-1 -4l1.5 -1.5l5.5 3.5l-1.5 4zM460 321.5l-1.5 -1.5l0 1.5l1.5 0zM316.5 323l-3 0l-1 -1.5l2 -0.5l2 2zM275.5 352.5l1 -3l-1.5 -4l2 -7l-3 -5l-1.5 -5l-5 0l-4 -1.5l-3 4.5l-7 0.5l-1 5.5l4 2l1 6l5.5 5l5.5 2l7 0zM367.5 342.5l-2 0l-2 -4.5l-8 2.5l-1 -2l1 -3l3 -2.5l8 -0.5l6.5 7l-5.5 3zM406.5 333.5l-1.5 0l0 -1l1.5 1zM490.5 415l-5 -0.5l-21 -21l0 -6l4 -3l0.5 -3l7.5 -4l0 -2l-5 1l-8 -1.5l-3 -1.5l-1.5 -3l1 -3l4 -3l-4.5 -5l1 -11l3 -2.5l4 -1l-1 -5.5l4 3l2 -0.5l1.5 -1.5l-0.5 -4l8 -2l9 1.5l0 79zM442.5 336.5l1 -1l-1 1zM169.5 403l-3 -0.5l-2 -3l-3 -1.5l-7 1l-5 -2l-7 -0.5l-5 4l-4 1l-11 -1.5l-9 2.5l-8 -1l10 -2l-2 -2.5l-8 -2l0 -5l4 0l1.5 -4.5l-0.5 -4l-5 0l0 -39.5l12 0l4 -4l5 -2l1 0.5l0.5 4l1.5 1.5l20 -0.5l-1 4l3.5 4l1 11l-2.5 1.5l-14 1l-1 12.5l7 6.5l4 -2l6 0.5l-1.5 4l4.5 3l2 5l7 2l2.5 4l7 3l-4.5 1.5zM335.5 342.5l-3 -2l3 -3.5l2 1.5l-2 4zM272.5 345.5l-2 0l0 -7.5l3 2.5l0 4l-1 1zM262.5 345l-2 -2.5l1 -3l1.5 3l-0.5 2.5zM363.5 349l-4 -1.5l3 -1l2 2l-1 0.5zM374.5 353.5l-3.5 -2l-1 -2l4.5 -3l3 4l-3 3zM425.5 354l-1 0l-5 -4.5l4 -4l5 4l-0.5 2l-2.5 2.5zM356.5 350.5l-3 -1l3.5 -1l-0.5 2zM343.5 355l-1 -1.5l1 -2l1.5 2l-1.5 1.5zM385.5 354.5l-1 -1l1 -0.5l0 1.5zM302.5 361l-1 -0.5l1.5 0l-0.5 0.5zM317.5 368.5l-4.5 -1l0.5 -4l4.5 2l1 2l-1.5 1zM341.5 366.5l-2 0l0 -2l2 2zM445.5 371.5l-6.5 -3l0.5 -3l4 0l3 4l-1 2zM154.5 371.5l-4.5 -2l-0.5 -3l3 0l2.5 4l-0.5 1zM164.5 370.5l-2.5 0l1.5 -2.5l1 2.5zM403.5 376l-3 0l-3 -3.5l0.5 -2l3.5 -3l4.5 5l-2.5 3.5zM366.5 376l-7 -0.5l-1 -2l5 -1.5l3 2.5l0 1.5zM186.5 383.5l-2 -0.5l0 -2.5l4 -5.5l1 0.5l1 3l-4 5zM175.5 381l-1 0.5l0 -1l1 -0.5l0 1zM329.5 387.5l-5 0.5l-1 -1.5l1.5 -3l4.5 -1l1 2l-1 3zM149.5 387.5l-2 -4l-4 0l1 2l5 2zM282.5 394.5l-2 -1.5l-1 -10l3 0.5l1.5 2l0.5 7l-2 2zM175.5 392l-2 -0.5l-2.5 -4l0.5 -2.5l4.5 4.5l-0.5 2.5zM210.5 386.5l-2 -1l2 -0.5l0 1.5zM377.5 391.5l-2 0.5l-2.5 -1.5l-2 -3l0.5 -2l4 0l3 2l0.5 2l-1.5 2zM196.5 398.5l-5.5 -2l0 -6l1.5 -3l5 -1l7.5 6l-1.5 1.5l-5 1l-2 3.5zM222.5 388l-1 -0.5l1 0.5zM233.5 388l0 -1l0 1zM261.5 390l0 -2.5l1 1l-1 1.5zM422.5 395l-5.5 -4.5l1.5 -3.5l2 0l3 5l-1 3zM316.5 390l-1 -1.5l2 -0.5l-1 2zM336.5 395l-5 -1.5l-0.5 -1l3.5 -2.5l3 2.5l-1 2.5zM387.5 391.5l1 -1l-1 1zM184.5 393l1 -0.5l-1 0.5zM155.5 394.5l0 -1l-2 1l1 1l1 -1zM365.5 397l-2.5 -1.5l1.5 -2l1.5 1l-0.5 2.5zM179.5 397.5l-1.5 0l0.5 -2.5l3 -0.5l-2 3zM382.5 438.5l-57 0l-0.5 -6l8.5 -7.5l13 0l3.5 -5.5l1.5 -9l5.5 -6l2.5 -1l8.5 0l2.5 -3.5l4 -1.5l3.5 3l-0.5 6l6.5 8l-2 6l1.5 9l-1 8zM147.5 413l-1.5 -0.5l-1.5 -6.5l-3 1.5l-1.5 -1l1.5 -3.5l4 0.5l3.5 -1l0.5 8l-2 2.5zM374 407.5l-2 -1l0.5 1.5l1.5 -0.5zM322.5 438.5l-161 0l-2 0l-1 -11.5l-3 -2.5l3 -1.5l3 1.5l3 -3.5l7 0l3 -3.5l4 -1l2 0.5l4 4l21 0l4 -4l6 -0.5l1.5 -4l1.5 -0.5l3 1l6 8.5l9 -0.5l6 4.5l16 -1l4 -4l4 0l6 -5l0.5 -2l-2.5 -2l5 -4.5l8 0l1 2.5l-1 6l2 3l7 -2l1.5 -4l3.5 -0.5l4 3.5l5 0.5l4 4.5l5 0l-1 3l2 1.5l3 -1.5l5 1l0.5 2l-1.5 2.5l-4 -2.5l-1.5 1l0.5 2l4.5 2l-0.5 7zM301.5 409.5l-1.5 -1l1.5 -2l0 3zM466.5 438.5l-78.5 0l-1.5 -9l2 -8l4 0.5l1.5 -1.5l0.5 -2l-3 -4l5.5 1l1 -4l2.5 -3l11 -1l5 4.5l3 -4l3 -1l3 1.5l1.5 3l1.5 8l-1 5l2 0l4 -7.5l3 -0.5l3 -4l6 0l21 21l0 5zM344.5 417.5l-2 0.5l-1 -1.5l2 -1l1.5 1l-0.5 1zM130.5 438.5l-25 0.5l0 -18l4 0l5 3l14 0.5l4 6l-2 8z" fill="#00ff15" fill-rule="evenodd"/>
<path d="M146.5 67.5l-8 -3l-4 -5l-0.5 -6l15.5 0l-1 12l-2 2zM159.5 60.5l-2 -2l-0.5 -5l4.5 0l0 4l-2 3zM211.5 98.5l-2.5 0l-3.5 -3l-7 3l-3.5 -1l-1.5 -8l1.5 -8l8.5 -9l1 -4l6.5 -1l4.5 -4l1.5 -3l-1 -7l6.5 0l0 4l3.5 2l3.5 7l0.5 5l5.5 3l0.5 2l-1.5 2l-5 1l-1 6l-4.5 4l-6 1l-6.5 8zM280.5 125.5l-2 0.5l-4.5 -6.5l1 -8l-2 -5l0.5 -6l-3 -3l-1.5 -6l-4.5 -3l-0.5 -5l-3 -5l0.5 -3.5l4 -3.5l1 -6l7.5 -7l0.5 -5l6.5 0l0.5 5l4 5.5l3 0l4 -3l5 -0.5l14 9.5l1 2.5l0 10l2 5l-1 2l-5.5 3l0 4l-1.5 2l-10.5 3l0.5 6l-1 2l-4 -2l-0.5 -6l-3.5 0l-1 5l-3.5 5l-1 11l-1.5 3zM306.5 58.5l-2 -1l0 -4l3.5 0l0 4l-1.5 1zM367.5 256.5l-2 0l-5 -6l0.5 -8l-4 -5l0.5 -6.5l-9 -1l-1 -1.5l1 -3l6.5 0l1.5 -3l-1 -4l-8 -7l0 -8l-4.5 -5l0.5 -5l4.5 -5l0.5 -5l4 -2l-0.5 -7l4.5 -1l-1 -3l-3 -3l-1 -5l-3.5 -3l-1 -10l1 -9l4 -3l0.5 -6l3 -3l1.5 -5l-4 -5l-1.5 -16l-4 -5l0.5 -13l-9 -8l0.5 -2.5l4 -1.5l0.5 -2l-2 -4l0.5 -6l-2.5 -3l0 -4l47 0l-0.5 13l-3 5l-0.5 7l-8 9l-1.5 9l0.5 2l3 3l2 7l0 10l4 5l-0.5 2l-4 4l0.5 5l-2 5l2.5 3.5l3 1l8 -0.5l0.5 8l5.5 4.5l3 0.5l5 -6l1 -7l6 -1l2 -2l0 -17l-5 -3l0 -3l3.5 -2l1.5 -3l3 0.5l2.5 3.5l7 6l-0.5 3l-4.5 2l-0.5 8l2.5 7l5.5 2l1.5 2l-1 11l1 7l-1 3l-4.5 2.5l-9 -3l-5 2.5l-5 -1.5l-14 2.5l-3 -1l-4 -4l-4 -0.5l-4 3l-4 0l-1.5 1.5l-0.5 7l3 6l3 1l4 -1.5l5 0.5l7 -1l9 1.5l10 -2l7 -6.5l2 0l4.5 4l0.5 7l7 2.5l12 -1.5l7 6l2 5l-0.5 2l-6.5 4.5l-8 -1l-5 1.5l-6 5l0 14l2.5 5l-0.5 6l1 8l-1.5 4l-3.5 4.5l-3 0l-6 -6.5l-3 -2l-1 -7.5l-2 -1l-5 1l-2 -4l-3 -1l-7 1l-5 4l-6 -0.5l-1.5 4l-7.5 6l0.5 6l-3.5 2l-3 4zM442.5 104l-2 -0.5l-1.5 -2l0.5 -1.5l3 -1.5l0 -2l-15 -15l-13 2.5l-1 13.5l-2 2.5l-9 -1l-3 -3l-4.5 -1.5l1 -18l-5 -3l-0.5 -2l5 -6l0.5 -12l36 0l-0.5 5l2 1.5l13 -0.5l5 7l-1 4l2.5 10l-1.5 4l-4 5l0.5 9l-3.5 2l-2 3.5zM490.5 77.5l-9 1l-4 -3l-0.5 -14l-2.5 -4l0.5 -4l16 0l-0.5 24zM178.5 94.5l-4 1l-3 -4l-5 -1.5l-7 -6.5l2 -2l7 0l1.5 -2l-1.5 -5l1.5 -3l8.5 -6.5l2 0l4.5 6.5l0.5 7l2 8l-2.5 4l-6.5 4zM110.5 97.5l-5 0l0 -15.5l6 0.5l6.5 7l1.5 6l-9 2zM251.5 91l-10 0.5l-2 -0.5l-0.5 -1.5l1.5 -2.5l10 -0.5l3 -4.5l2 0.5l0 5.5l-4 3zM224.5 147l-3 0l-8.5 -6.5l4.5 -5l-1.5 -4l-3.5 -2l0.5 -9l-4.5 -7l1 -8l12 -7l4 3l-1 13.5l1 4.5l3.5 3l1 3l-1.5 4l-7.5 1l0.5 3.5l4.5 3.5l-1.5 9.5zM248.5 131.5l-7 -5.5l-6.5 -1.5l-0.5 -9l4.5 -5l-1 -2l-4.5 -2l0 -2l1 -1l11 -0.5l5.5 2.5l0 2l-3.5 3l4.5 4l-0.5 2l-3.5 2l4 3l0.5 2l-4 8zM109.5 109.5l-4 0l0 -4.5l6.5 1.5l-2.5 3zM138.5 135.5l-8 -2l-7 -0.5l-6.5 -4.5l0 -2l6.5 -8.5l3 -1.5l5 1.5l2 -1.5l0 -7l2 -2l6.5 7l1.5 5l4 3l-2.5 7l-3.5 5l-3 1zM411.5 112.5l-6 0l-0.5 -3l2.5 -1.5l4 0l1.5 3.5l-1.5 1zM486.5 269.5l-2 -0.5l-2 -3.5l-4 -2l-4.5 -6l-4.5 -3l-1 -5l-3 -5l5 -4l1.5 -7l-3.5 -2.5l-7 -0.5l-1 -3l1 -2l7.5 -5l8.5 -14l0.5 -16l-4 -6l0.5 -10l-9 -7l1 -2l3.5 -2l0 -5l4 -5l-0.5 -22l-3.5 -4l0 -3l4 -5l0.5 -6l5 -5l11 -0.5l0 158.5l0 3l-4 0zM320.5 117.5l-1 0l0 -2l2 -0.5l-1 2.5zM324.5 134l-2 -0.5l-4.5 -6l7 -6l0.5 -6l2 -0.5l2.5 3.5l-1 9l-4.5 6.5zM277.5 152l-4 -2.5l0 -5l-6 -1l2 -4l4 -3l1.5 -5l3.5 -2l2.5 2l2 9l-4.5 5l-1 6.5zM129.5 184l-3 -0.5l-3 -5.5l-5 -0.5l-7 -3.5l-2 -3.5l-4 0l0 -6.5l7 1l3 -1.5l4 -4.5l1 -6.5l4 -1l8 -8l8 -2l8 1l2 4l-3 7l3 3.5l0 2.5l-8 6.5l-1 6l-4 4.5l-6 1l-2 6.5zM245.5 147.5l-2.5 -2l1.5 -2l2.5 2l-1.5 2zM179.5 177.5l-4 0l-4 -4l-5 -1l-12 1l-2 -0.5l-2 -3.5l6 -11l3 -2l7 0l6 4.5l9 -0.5l2 3.5l4 1.5l5 -4.5l7 9.5l-2 2.5l-8 1l-3.5 -4.5l-3.5 -0.5l-1 7.5l-2 1zM309.5 170.5l-1.5 -1l1 -6l-1 -6l1.5 -2l3 1l3.5 6l-2.5 7l-4 1zM248.5 173.5l-3 0l-4 -3l6 -9l2 -0.5l8 5.5l-9 7zM289.5 169l-3 -0.5l0 -2l3 -0.5l1 1.5l-1 1.5zM360.5 177.5l1 -3l-5 -1l1 4l3 0zM176.5 200.5l-3 -0.5l-3 -4l-3 4l-2 -0.5l-3 -4l-3 3.5l-2.5 -0.5l-2 -7l1 -10l2.5 0l2 4.5l2 1l5 -4.5l9.5 1l1 6l5.5 7l-7 4zM139.5 203.5l-4 0.5l-1.5 -1.5l4.5 -4l0.5 -10l3.5 -1.5l1 10.5l-2 5l-2 1zM295.5 204.5l-3 -1l-4.5 -5l-0.5 -6l5 -5l9 -0.5l6.5 5.5l0.5 5l-6 6.5l-7 0.5zM218.5 205.5l-2 -4l-3.5 -3l0 -2l9.5 -7l3 4l0.5 2l-5.5 9l-2 1zM277.5 199.5l-3 0l-4 -3.5l-1 -3.5l0.5 -2l10.5 1l0.5 3l-3.5 5zM198.5 195l-2 -0.5l-0.5 -3l3 1l-0.5 2.5zM404 225.5l2 -3l-2 -12l-5.5 -6l-5.5 -1l-1.5 -4.5l-8 1l-1.5 2.5l0 5l-4 3l0 9l1.5 2l6 2l4 3l14.5 -1zM140.5 262l-9 -2l-9 0l-10 -14.5l0.5 -5l3 -4l0 -3l-5.5 -4l-5 -0.5l0 -6.5l5 -0.5l7 -7.5l6 -1l4 -4.5l3 0l5 3l5 0.5l3 4.5l6 1.5l3 3l6 -0.5l5 2l7 -1l7.5 5.5l-2.5 2.5l-12 1l-5 3.5l-5 1l0 3.5l6 0.5l2 4l-2 1l-6 -0.5l-3 10.5l-2 1.5l-4 0l-4 6zM193.5 231l-9 -1.5l-3 -3l2 -3.5l5 -1.5l3 -4l4 -2l1 6l5 0l2.5 4l-6.5 1l-4 4.5zM247.5 228.5l-3 0.5l-1.5 -1.5l-1 -8l1.5 -2l4 0.5l4 4.5l0 3l-4 3zM328.5 234.5l-4 -4l-8 0.5l-2.5 -1.5l-0.5 -2l6 -6.5l8 0.5l3 3l5.5 2l-1.5 3l-6 5zM220.5 238.5l-2.5 -1l0.5 -3l2.5 1l-0.5 3zM249.5 256.5l-5 -0.5l-5.5 -6.5l0.5 -9l5 -5l6 0.5l6 6.5l-0.5 8l-6.5 6zM384.5 248.5l-2.5 0l-0.5 -2l1.5 -6l2.5 -1l1.5 1l1.5 4l-1 2.5l-3 1.5zM330.5 248l-5 -0.5l0 -4l4 0l1 4.5zM109.5 256l-4 0l0 -3.5l4 0l1 2l-1 1.5zM214.5 264l-6 -3.5l-0.5 -4l7.5 0.5l7 -1l-1 5.5l-7 2.5zM279.5 283.5l-2 -0.5l-1 -4l-3 -3.5l-1 -6l1 -3l6 -5l2 0.5l1.5 2.5l-0.5 8l4 4l-7 7zM173.5 277.5l-5 0l-1.5 -3l6.5 -1.5l5 -6.5l1 -0.5l6.5 5.5l-0.5 2l-5 3.5l-7 0.5zM368.5 289.5l-3 0l-8.5 -8l-4.5 -2.5l-1 -1.5l1 -2.5l8 -2.5l7 -6.5l2 5.5l3 2l10 1.5l7 -2l2 0.5l-0.5 3l-1.5 1.5l-8 0l-5 4.5l-5 -1l-3 8zM167.5 270l0 -2.5l1 -0.5l1 1.5l-2 1.5zM423.5 282.5l-20 0.5l-7 -5l-1 -3.5l2 -1.5l9 0.5l4 -3.5l3 0.5l5 2.5l7 1.5l0.5 6l-2.5 2zM299.5 278.5l-4 -1l0 -4l4 0l0 5zM438.5 277l-2 0.5l-0.5 -3l2.5 -0.5l0 3zM468.5 330.5l-7.5 -5l0.5 -5l-2 -2l-3 0l1 5l-1 1.5l-2 0.5l-2.5 -2l0.5 -4l4 -2l0.5 -11l6.5 -6.5l9 -1l4 -2.5l3.5 0l-2 -7l0.5 -9l6 -5.5l6 0l0 54.5l-8 0.5l-9 -1l-5 1.5zM251.5 401l-6 -1l-7 -7.5l1.5 -12l-2.5 -7l-7 -0.5l-4 -4.5l0 -2l6.5 -7l2 -10l-1.5 -9l1 -7l-0.5 -5l1.5 -4l-1 -3l-6 -3l-7 0.5l-1.5 1.5l0 4l-3 4l0.5 4l4 4l1 3l-2.5 14l1.5 5l-2.5 5l3 9l-2.5 4.5l-3 1l-7 -1l-11 1l-2 -1.5l-2 -5.5l-7 -2.5l-8 0.5l-2 4.5l-3 0.5l-6 -7l-3.5 -2.5l-0.5 -3l3 -1.5l2 -3.5l3 0l3 5l17 0l2 -2l1 -6l7 -1l6 -5l-0.5 -3l-4.5 -5.5l-8 -0.5l0.5 -8l-1 -3l-3.5 -2.5l-5 2l-5 -0.5l-4 4l-2 0.5l-5 -4l-10 0l-7 -2l-3 -3l-2 -0.5l-9 1.5l-9 8l-7 0.5l-5 3l-13 0.5l0 -47l4 0l3 2.5l6 -0.5l4 2l2 -0.5l1.5 -4l2.5 -0.5l8 9l13 -0.5l5 4l16 1.5l5 4l5 -1.5l3 -3l6 -0.5l3 -4l9 -1l10 1l3 3.5l5 1l3 3l3 1l1 -4.5l7 0.5l2 -4l5 -0.5l5 -4.5l5 -0.5l5 4.5l8 0l7 8l3 1l4 -1l0 -7l3 -1l1.5 1l1 9l6.5 -0.5l4 4l10 0l5 4.5l0 2l-4 3l-2 3.5l-6 -0.5l-6 7.5l-4 1.5l0.5 6l-4 5l-1 7l1 3l4 2l-1 5l1 2l7.5 1l2 3l6.5 6l0 3l-4.5 3.5l-4 1.5l-8 -1l-6 0.5l-5 -2.5l-14 0l-5 5.5l-1.5 5.5l1 8l-4.5 6.5zM329.5 338.5l-3 1l-1.5 -1l2 -8l-2 -11l-7 -4l6.5 -7l2 -7.5l3 -1.5l11 13l1.5 3l-1.5 2l-7 2l1 6l-4 3l-1 10zM388.5 309.5l-2 -0.5l-0.5 -2.5l1.5 -2l3 -0.5l0.5 3.5l-2.5 2zM228 309.5l2 -3l-4.5 -2l0.5 4l2 1zM402.5 324.5l-2.5 -2l1.5 -2l3 2l-2 2zM441.5 326l-2.5 -1.5l0.5 -3l3 1l0.5 2l-1.5 1.5zM276.5 353.5l2 -15l-3 -5l-2 -6l-2 -1.5l-9 0l-3 4l-7 1l-1.5 2.5l0 6l4.5 1.5l1 5.5l8 6.5l12 0.5zM296.5 336.5l-4.5 -2l-0.5 -3l8 -2l1 1l0 3l-4 3zM359.5 339l-3 0l-1 -1.5l1 -2l3 -1.5l2 1.5l-2 3.5zM490.5 412.5l-5 0l-20.5 -20l1.5 -4.5l11 -9.5l2 -4l4 -1l0 -4l-3 0.5l-3 3.5l-5 2l-10 -2l-2 -2l0.5 -3l4 -4l-4.5 -5l1.5 -5l-0.5 -5.5l2 -2l4 -0.5l3 -3l3.5 -1l0 -5l2.5 -1.5l6 -0.5l8 1.5l0 75.5zM133.5 400.5l-5 0l-6 -2l-4 1l-7 -5.5l0.5 -12.5l-1.5 -2l-5 0.5l0 -36l12 -0.5l4 -4l3 -1l4 5.5l18 -1l1.5 4.5l3 3l0.5 10l-15.5 2l-2.5 12l1 2.5l14 13.5l2 0l1.5 -3l1.5 -0.5l2 1.5l0.5 2l-3.5 2l-2 3.5l-9 -0.5l-4.5 4l-3.5 1zM333.5 373.5l-4 1l-3 -1l-1.5 -7l-3 -6l0 -2l3.5 -4l-0.5 -9l1.5 -2l3.5 1l5 8l-1 7l1 11l-1.5 3zM425.5 352.5l-4.5 -3l2.5 -2.5l4 2.5l-2 3zM375.5 352l-3 -1.5l0.5 -2l3.5 1l-1 2.5zM163.5 361l-3.5 -1.5l0 -4l1.5 -2.5l2 0l1.5 1.5l-1.5 6.5zM403.5 375l-2 0.5l-2 -2l-0.5 -2l1.5 -2l1 -0.5l3.5 3.5l-1.5 2.5zM328.5 386.5l-2.5 0l0.5 -2.5l3 0.5l-1 2zM376.5 391l-2.5 -1.5l-0.5 -2l1 -1l3.5 2l-1.5 2.5zM381.5 438.5l-54.5 0l-0.5 -5l7 -7l8 -0.5l7 2l4.5 -17.5l5.5 -5.5l11 -0.5l2 -4l3 -1l2.5 2l0 3l-1.5 1l-5 -1l0 2l2 3l5 -0.5l5 6.5l-1.5 6l1 9l-0.5 8zM464.5 438.5l-75.5 0l-1.5 -8l0.5 -6l1.5 -2.5l5 0l1 -3.5l3 -3l0.5 -4l2 -2l5.5 0.5l5 -1.5l5 4.5l4 -4l3 -0.5l2 2l2 10l-2 5l-3.5 3l-0.5 3l4 0l1 -4l4 -2l9.5 -11l4.5 -1.5l20 20.5l0 5zM320.5 438.5l-158 0l-2.5 0l0 -8l0.5 -3l5 -5l6 -0.5l5 -4l3 0l4 3.5l22 0.5l5 -4l5 0l2 -3.5l2 -1l7 9l10 -0.5l6 4l16 -0.5l5 -3.5l4.5 -1.5l5 -4l4.5 -7l3 -1l2 1l0.5 7l2.5 3.5l7 -1.5l4 -5l5 3l5 1l3 4.5l6 4.5l2 4l3.5 2l0.5 6l-1 0zM129.5 438.5l-24 0.5l0 -16l4 -0.5l4 2.5l14 0.5l3 4l-1 9z" fill="#00ff40" fill-rule="evenodd"/>
<path d="M144.5 65l-3 0l-2.5 -1.5l-4 -5l0 -5l14 0l-0.5 6l-4 5.5zM159.5 59.5l-1.5 -1l-0.5 -5l3.5 0l0 4l-1.5 2zM211.5 97.5l-2 0l-4 -3.5l-7 3.5l-2 0l-1.5 -2l0 -9l1 -5l8 -8l2 -4l5.5 -1.5l5.5 -4.5l1 -3l-1 -7l4.5 0l0 5l4 2l4 12l4.5 2l0.5 2l-5 1l-2 7.5l-4 3.5l-6 1l-6 8zM279.5 125l-4.5 -6.5l1.5 -6l-3 -6l1.5 -6l-3.5 -4l-1 -5l-5 -3.5l-1 -5.5l-2.5 -5l0.5 -2l4 -3.5l1 -6l9.5 -8.5l0 -4l2.5 0l0 4l7 8.5l6 -3.5l4 -1l9 5l5 4l1 12l1.5 5l-5.5 4l-0.5 5l-1.5 1.5l-4 0l-8 4.5l-4 -2.5l-2.5 0.5l-1.5 6l-6 9l2 6l-2 3.5zM424.5 250l-2 -0.5l-8 -8l-0.5 -5l-1.5 -2.5l-2 -1l-4 1l-3 -5l-11 1l-4 4l-6 -1.5l-1.5 1l-0.5 4l-4 4l-10 -1.5l-3 3.5l-1 -3l1.5 -2l-0.5 -1l-4 0.5l-1.5 -1.5l0.5 -7l-2 -1l-6 1l-2 -1l1 -2l7 0l2 -8l3.5 5l1.5 -0.5l1 -2.5l-0.5 -2l-4.5 -4l-3 2.5l-2 0l-3 -4l-2.5 -1.5l-1 -2l1 -6l-4.5 -6l0.5 -4l4 -5l0.5 -3.5l3 0.5l1 -1l-0.5 -9l2.5 0l2 3.5l2 0.5l2.5 -2l1 -3l-1.5 -2l-4 -0.5l-4 -5.5l-0.5 -6l-3.5 -1l-1 -2l0 -16l2 -2l3.5 -1l-0.5 -5l3 -3l2.5 -6l-5 -7l-1.5 -17l-3.5 -3l1.5 -4l-1.5 -9l-5.5 -6.5l-3.5 -1.5l0.5 -2l5 -1l0 -4l-2 -4l1 -6l-2 -2l0 -1l2 1l0.5 -4l40.5 0l-0.5 13l-2.5 5l0 6l-8 10l-2 7l0 7l-4 3.5l-7 1l-1.5 1.5l14.5 -1.5l3.5 2.5l0 10l3.5 6l-3 3l-0.5 7l-3 4l6 7l0.5 7.5l4 -1.5l0.5 -2l-1 -3l3.5 -2l1.5 2l-1.5 5l8 5.5l5 1.5l2 -5l6 1.5l-1 -2.5l-2 -1.5l-1 -5l1 -1.5l5 -0.5l3 -2.5l-0.5 -8l1 -7l-1 -5l-3.5 -1l-1 -2l6 -4.5l9.5 8.5l-0.5 2.5l-5.5 2.5l-0.5 8l4 7.5l6 3.5l0 18l-2 4l-4 0.5l-8 -3l-4 2l-2 -0.5l-1.5 -2l4 -3l-0.5 -5l-4.5 5l-0.5 3l-3 2.5l-12 1l-5 -4l-5 -1l-4 3l-5 0.5l-2 7l3 8.5l3 1.5l5 -1l12 -0.5l9 1.5l11 -3l6 -5.5l2 -0.5l3.5 4l0 5l2 2l6.5 2.5l12 -1l6 5.5l1 4l-5 5l-8 -0.5l-7 1.5l-5 6l0 14l2 5l-0.5 10l1.5 5l-1 3l-4 3.5zM445.5 98.5l-18 -19l-13 4l-1.5 4l0 10l-1.5 1.5l-2 0.5l-4 -3l-3 1l-2 -2.5l-4 -1.5l1 -17l-5.5 -5l4.5 -6l2 -12l32 0l-0.5 7l1 1l14.5 -0.5l4.5 5.5l0 5l2.5 7l-1.5 5l-4.5 5l0.5 8l-1.5 2zM490.5 76.5l-9 0.5l-3 -2.5l-2 -21l14.5 0l-0.5 23zM176.5 94.5l-2 0l-2 -3.5l-5 -1.5l-2 -3l-4 -3l5 0.5l3 -2l1.5 -2.5l-1 -6l1 -2l8.5 -5.5l2 1l2.5 4.5l0 7l3 7l-3.5 5l-7 4zM111.5 96.5l-6 0.5l0 -14l5 0l6 5.5l0 5l-5 3zM251.5 89.5l-6.5 0l0.5 -1l6 -1.5l3 -2l-0.5 2.5l-2.5 2zM243.5 89.5l-2 0.5l0 -1.5l2.5 0l-0.5 1zM354.5 95.5l1.5 -2l-3.5 -1l-0.5 2l1.5 1.5l1 -0.5zM405.5 95.5l0 -2l-2 0l2 2zM441.5 102.5l-1 -1l1 -1l1 1l-1 1zM226.5 128.5l-7 -2l-3 2l-2 0l-1 -2l1 -6l-4.5 -6l0.5 -9l10 -4.5l2 0l1.5 1.5l-1 16l1.5 3.5l4 2.5l-0.5 3l-1.5 1zM294.5 108l-2.5 -1.5l1.5 -3l1.5 2l-0.5 2.5zM248.5 129l-3 -0.5l-5 -4.5l-4.5 -0.5l0.5 -2l3 -1l1 -2l-1 -1l-2 1.5l-2 -3.5l4 -2.5l0.5 -3.5l-0.5 -1.5l-4 -1.5l0 -2l10 -0.5l4 1.5l-3.5 5l4.5 5l-3.5 4l4 2l1 2l-0.5 2.5l-3 3zM109.5 109l-4 0l0 -3.5l5.5 1l-1.5 2.5zM410.5 111.5l-3 0l-1 -1l1 -1.5l3 0l1 1.5l-1 1zM490.5 268l-5 0l-2 -3l-5 -3l-4 -6l-4 -2.5l-3.5 -8l4.5 -5l1.5 -7l-2 -2l-7.5 -1.5l-1.5 -1.5l1 -2l6.5 -5l8.5 -14l1 -17l-4 -7l1.5 -12l-2 -1.5l-2 1l-5.5 -3.5l4 -3l0.5 -5l3 -6l0.5 -15l-0.5 -8l-3 -3.5l0 -2.5l2.5 -4l1.5 -6l5 -5l4 -1l6 0l0 3l0 156.5zM138.5 134.5l-3 0l-5 -2.5l-7 0l-4.5 -2.5l-1 -2l5.5 -8.5l2 -1l6 1l2.5 -1.5l2 -3l-0.5 -5l3 4l3 2l1.5 5l4 3l-3 6l-5.5 5zM359 114.5l-1.5 -2l-1 2l2.5 0zM366.5 118.5l1.5 -2l-0.5 -1l-1 3zM328.5 120.5l-1.5 0l0.5 -2.5l1.5 0.5l-0.5 2zM324.5 132l-4.5 -4.5l2.5 -3l4 -1.5l1.5 4.5l-3.5 4.5zM365.5 129.5l1.5 -1l-0.5 -2.5l-3 1.5l-0.5 1l2.5 1zM218.5 133.5l0 -2.5l0 2.5zM276.5 147.5l-1 0.5l-1 -6.5l-2 1l-2.5 -1l1 -2l3.5 -0.5l2 -6.5l2 -2l2 1.5l2 8.5l-1 2l-4 2l-1 3zM223.5 144.5l-5 -0.5l-3.5 -3.5l4.5 -5l5 2l-1 7zM129.5 181.5l-2 1l-3 -5l-12 -4l-2 -4l-5 0l0 -4.5l7 1l3 -1l4.5 -5.5l1.5 -5.5l4 -2l8 -8l7 -1.5l8 1l1 3l-3.5 7l3.5 4l0 2l-8 6l-1 6l-3.5 4l-7.5 2l0 4zM311.5 168.5l-2 -1l1.5 -4l-2 -5l1.5 -1.5l2.5 2.5l-0.5 8l-1 1zM392.5 161.5l0.5 -2l-1.5 -2l-4 0.5l2 4l3 -0.5zM177.5 176.5l-2.5 -1l-1 -3l-2.5 -1.5l-18 0.5l-0.5 -3l3.5 -9l3 -1.5l6 -0.5l7 5l6 -1l2 1l0 2l-2 3l2 7l-3 2zM191.5 172.5l-3 -1l-1 -3l5 -5.5l3.5 3.5l1 4l-1.5 1.5l-4 0.5zM248.5 172.5l-3 0l-2 -3l6 -7l5.5 5l-6.5 5zM185.5 167l-2.5 -0.5l2.5 0.5zM177.5 199.5l-3.5 0l-2.5 -4.5l-4 3.5l-5 -4.5l-5 3.5l-1.5 -4l0.5 -10l2 0l1.5 4l1.5 0.5l3.5 -0.5l2.5 -4l3.5 2l-1.5 2l1 1l2 -1l1 -3l2.5 0l0 4l5.5 7l-4 4zM301.5 202.5l-7 0.5l-4.5 -3.5l-1.5 -6l4 -4.5l9 -1l5.5 5.5l0.5 4l-2 1.5l-3.5 -0.5l0.5 2l-1 2zM141.5 192.5l-1.5 -2l1.5 -1.5l0 3.5zM219.5 203l-5 -5.5l6 -5.5l2 -0.5l2.5 3l-0.5 2l-5 6.5zM277.5 197.5l-3 0.5l-3 -2l-1 -2.5l0.5 -2l4.5 -0.5l4 1.5l0 2l-2 3zM137.5 202.5l3 -9l1 -0.5l0 6.5l-4 3zM392 227.5l5.5 -1l8 0.5l4 -3.5l-2 -3l-1.5 -9l-7.5 -8.5l-4.5 -1.5l0 -3l-1.5 -2l-8 1.5l-3 2.5l-0.5 6l-4 4l-0.5 9l3 3.5l5 1l5 4l2.5 -0.5zM140.5 260.5l-18 -2l-4 -5l-5 -9l1 -4l3.5 -6l-8.5 -7l-4 0l0 -2.5l4 0l8 -9l7 -2l4 -4l11 3.5l4 5l5 1l4 3.5l6 -1.5l6 3l6 -1.5l6.5 4.5l-3.5 2l-6 -2l-9 6l-6 1.5l-0.5 2.5l2.5 4l-4.5 8l0 4l-1.5 1.5l-5 0.5l-3 5zM415.5 223.5l0 -7l-1 -0.5l-4.5 7.5l5.5 0zM192.5 230.5l-8.5 -2l-1.5 -2l2 -2l6.5 -2l0.5 -3.5l2 -1l1 2.5l-1 2l6.5 1l-3.5 2l-2 4l-2 1zM246.5 227.5l-2 0l-1.5 -3l0 -4l1.5 -2l3 1l2.5 3l-0.5 3l-3 2zM328.5 233l-1.5 -1.5l0.5 -3l-10 1.5l-2 -0.5l-0.5 -2l4.5 -5.5l7 0.5l8 5l-6 5.5zM248.5 255.5l-4 -1l-4.5 -6l1 -8l4.5 -4l5 1l4.5 5l-0.5 7l-2 1l-2 -0.5l0 4.5l-2 1zM159.5 243l-4 -1.5l3 -1.5l1.5 1.5l-0.5 1.5zM384.5 247.5l-1.5 -1l-0.5 -2l1 -3l2 -1l2 4l-1 2.5l-2 0.5zM328.5 247l-1.5 -0.5l0.5 -2l2 1l-1 1.5zM367.5 255.5l-6 -6l2 -5l3 1.5l4 -1.5l2.5 3l0 3l-3.5 2l-2 3zM219.5 260.5l-8 0.5l-2.5 -2.5l1.5 -1.5l5 2l4 -1.5l1 1l-1 2zM280.5 282l-2 0l-1 -4l-2.5 -2.5l-1 -6l1 -3l4.5 -3.5l2 0.5l0.5 2l-1.5 10l3 -0.5l1.5 1.5l-4.5 5.5zM179.5 276l-4.5 -1.5l1.5 -4l3 -2.5l5 3.5l-1 2l-4 2.5zM367.5 288.5l-3 -1l-6 -6.5l-5.5 -3.5l0.5 -2l8 -2.5l5 -5l4 5l7.5 1.5l2.5 2l-4 4.5l-5 -0.5l-2.5 7l-1.5 1zM406.5 282.5l-4 -1l-5 -4l0 -3l10 -1l5 -2.5l11 3.5l2 2l0 3l-2 2l-12 -0.5l-5 1.5zM298.5 277.5l-2 -1l1 -2l1.5 1l-0.5 2zM388.5 277.5l-4 0l-1 -1l6 -2.5l0.5 1.5l-1.5 2zM172.5 276.5l-2 0.5l-0.5 -1.5l3 0l-0.5 1zM485.5 328.5l-18 0.5l-5 -3.5l0 -6l-5 -2.5l-0.5 -2.5l1.5 -8l5 -5l19 -4l0 -2l-3 -5l0 -9l5 -5l6 -0.5l0 8l-4 0l-1.5 1.5l2.5 4l-2 2l0 2l5 0l0 35l-5 0zM249.5 399.5l-4 -1l-5.5 -6l1 -12l-2.5 -7l-2 -1.5l-5 0l-4 -3.5l0.5 -2l5.5 -6l3 -11l-1.5 -9l0.5 -12l1 -4l-1 -3.5l-7 -3l-8 0.5l-1.5 2l0 4l-3 3l1 6l4 5l-1 11l-2.5 4l-3 0.5l-5 4.5l5 0.5l3 -4l2 1.5l0.5 2l-2 5l3 8l-1.5 4l-4 1.5l-17 -0.5l-3.5 -6l-7.5 -4l-8 0.5l-2.5 5.5l-1.5 1l-9.5 -10l4.5 -6l2 1l1 3.5l5 1l7 -1l8 0.5l2.5 -3l0.5 -5l1.5 -1l5 1l1.5 2l2.5 1l-1.5 -6l5 -2l-1.5 -5l-5.5 -8l-5 1.5l-2 -1.5l2 -3.5l3 1l2 -0.5l1.5 -4l-7.5 -0.5l-7 -6l-4 3l-7 0.5l-3 3l-6 -3.5l-10 0l-2.5 -3.5l1.5 -14.5l-1.5 1.5l-1 7l-3.5 4l-7 0l-7 2l-10 8l-6 0l-5 2.5l-13 0.5l0 -40.5l4 -0.5l-1 -2l1 0l2 2l6 -1l4 2l4 0l1 -5l2 -0.5l1.5 3.5l6.5 5.5l9 1.5l4 -1.5l3 3.5l17 1.5l7 5l6 -2.5l3 -3l5 0.5l1 -3.5l2 -2l16 0l2 1l1 3.5l6 0.5l5.5 4l0.5 4l2 1.5l3 -1l2 -2.5l-0.5 -2l-3.5 -2l0 -2.5l9 0.5l1 -1l-0.5 -3l3.5 -0.5l5 -4l4 -0.5l6 4.5l6 -1l2 1l1.5 2.5l4 3l0 2l-2.5 3l4 4.5l2 0.5l2.5 -1l0.5 -1.5l-5 -3.5l8 -2l0 -7l2 -1l1 2l-1 6l1 2l7 -0.5l1.5 1.5l-0.5 4l1 0.5l2 -1.5l3 1l-3.5 3l1.5 10l-4 4l-4 0.5l-1 1.5l1.5 6l-4 4l-1 11l5 3l-1 4l1 2l2.5 1.5l5 0.5l8 8l0.5 2l-3.5 4l-3 1l-5 -1.5l-10 0.5l-5 -2l-14 0l-5.5 4l-2 8l1 7l-5.5 6zM146.5 303.5l1.5 -2l-2.5 -2l-1.5 2l1 2l1.5 0zM329.5 328l-2.5 -1.5l-2 -8l-5 -4l4.5 -4.5l2 -7l2 -2l2 0.5l2 4l8 9l-1 2.5l-7 2.5l0.5 5l-3.5 3.5zM167 306.5l-0.5 -2l-2 1l1 1.5l1.5 -0.5zM389.5 308l-2.5 -0.5l1.5 -2.5l1.5 0.5l-0.5 2.5zM302.5 321l-3 0l-3 -2.5l1.5 -4l-1.5 -3l3 -2l3 0.5l5 4.5l-5 6.5zM181 314.5l-0.5 -3l-1 0l-1.5 3l3 0zM170 315.5l0.5 -1l-3 1l2.5 0zM455.5 324.5l-3 -2l2 -3l2 3l-1 2zM441.5 324l-1 -0.5l1 0.5zM276.5 356.5l2.5 -3l-0.5 -9l1.5 -6l-4 -6l-1 -5l-1.5 -2l-2 -1l-9 0.5l-4 4l-5 0l-2.5 1.5l-1.5 3l-0.5 8l4.5 0.5l1.5 4.5l8.5 7.5l9 1.5l3 2l1 -1zM296.5 335.5l-3.5 -1l0.5 -3l4 -1l2 1l-0.5 3l-2.5 1zM328.5 338l-2 0l-0.5 -1.5l2.5 -5l1 3l-1 3.5zM213.5 340.5l0.5 -3l-4 -2l-1 2l1 3l3.5 0zM359.5 338l-2.5 -0.5l0.5 -2l2.5 0l-0.5 2.5zM472.5 374.5l-10.5 -3l0 -2l3.5 -5l-0.5 -2l-3.5 -3l2 -5l-1 -5l13 -7l-0.5 -4l1.5 -1.5l5 -0.5l9 1.5l0 29l-8 1l-10 6.5zM134.5 399.5l-5 0.5l-6 -2l-5 0l-6 -5.5l1.5 -4l-0.5 -10l-8 0l0 -32l12 -2l6 -4.5l5 5.5l17 -1l1.5 4l2.5 2l-1 3l3 4l-0.5 2l-1.5 1.5l-11 0l-3.5 2.5l-3.5 12l19 18l-2 1.5l-8 -0.5l-6 5zM330.5 373.5l-4 -2l-3.5 -11l2.5 -5l0.5 -9l1.5 -1.5l6 5.5l1 3l-1.5 7l1 10l-1 2l-2.5 1zM425.5 351.5l-3 -2l0 -1l3 0l0 3zM148 353.5l-2.5 -2l0 2l2.5 0zM163.5 358.5l-1 1l-1.5 -1l0 -3l1.5 -1l1 1l0 3zM275.5 363.5l0 -5.5l-7.5 4.5l0.5 1l3 0.5l4 -0.5zM403.5 373.5l-3 0l0 -3l1 0l2 3zM490.5 410.5l-5 0l-19.5 -18l1.5 -4l8 -7.5l4 -1.5l0.5 -3l1.5 -1l9 1l0 34zM153.5 390.5l-1 -1l1 -1l1 1l-1 1zM375.5 389.5l-0.5 -1l1 0l-0.5 1zM376.5 403.5l-2 1l-3 -2l3 -2l1.5 1l0.5 2zM379.5 438.5l-34 0l0 -5l-2 0l-2 2l-4 -2.5l-1.5 1.5l0 4l-8 0l0 -5l3.5 -4.5l3 -1.5l9 0l4 3l2 0l4 -19l5 -5l9 -1.5l1.5 0.5l2.5 5l6 0l3.5 5l-0.5 23l-1 0zM418.5 438.5l-28.5 0l-1.5 -9l0.5 -5l1.5 -1.5l4 0.5l7 -13l5 1l5 -2l3 3.5l2 0.5l5 -3.5l3 0.5l2 11l-6.5 9l-1.5 8zM319.5 438.5l-157 0l-2 0l0 -6l1 -4l5 -5l6 -1.5l4 -2.5l2.5 0l3.5 3l8 0.5l15 -0.5l6 -3l5 -0.5l3 -4l3.5 5.5l-1 2l1.5 2l12 -1.5l7 4l17 -1l14 -8.5l5 -6.5l2 -1l1.5 1.5l1.5 7.5l2 2l7 -1.5l5 -4.5l8 3.5l2.5 4l6 4l3 5l3 2l-0.5 5zM462.5 438.5l-34 0l-1 -9l1 -1.5l3 -0.5l1.5 -4l7.5 -8l4 -1.5l18 19.5l0 5zM128.5 438.5l-23 0.5l0 -14.5l21 2l2.5 3l-0.5 9z" fill="#00ff6a" fill-rule="evenodd"/>
<path d="M142.5 64l-2 -0.5l-4.5 -5l0 -5l12 0l0 5l-5.5 5.5zM159.5 58.5l-1 -1l0 -4l1.5 0l-0.5 5zM211.5 96.5l-2 0l-4 -3.5l-8.5 3.5l-2 -9l2.5 -6l7 -7l2 -4l6 -2l6 -5l1 -3l-1 -7l2 0l-0.5 5l4.5 2l3 8l-0.5 14l-3.5 4.5l-6.5 1.5l-5.5 8zM355.5 109.5l-0.5 -10l5 -7l-8 -6l-6.5 -7l2 -11l-2 -5l2 -5l0.5 -5l35.5 0l0 13l-2 10l-8 11l-2 6l-1 7l-4 3.5l-9 1.5l-1.5 1l-0.5 3zM410.5 98.5l-2 -1l-1 -4.5l-1.5 -1.5l-7.5 1l1 -14l-1.5 -4l-4 -2l-0.5 -2l4.5 -5l3 -7l0 -5l28.5 0l-0.5 4l-3 5l1.5 8l-2.5 7l-4.5 3.5l-7 3l-1.5 4.5l0.5 8l-2 2zM490.5 75.5l-9 0l-2 -1.5l-1.5 -5.5l-0.5 -15l13.5 0l-0.5 22zM279.5 113l-5 -6.5l0 -2l2.5 -3l-3.5 -5l-1.5 -5l-6 -5l-2.5 -9l3.5 -5l1.5 -6l3.5 -4l6.5 -3.5l3 1.5l4 8l10 -6l10.5 5l4.5 5l-0.5 8l1 6l-1 2l-4 3l-1.5 5l-3 0l-8 4l-6 -1.5l-4 2.5l-4.5 0l-0.5 1l1 0.5l4 0l1 1.5l-5 8.5zM443.5 94l-10.5 -9.5l-3 -5l0 -11l2.5 -5l12 -1l5 5l-0.5 4l2.5 5l0 4l-6 7l-2 6.5zM177.5 93.5l-2.5 0l-2.5 -3.5l-4.5 -1.5l-0.5 -2l4 -6l1 -9l7 -4.5l3 3.5l1 9l2.5 5l-4 6l-4.5 3zM232.5 76l-2 -0.5l2 0.5zM110.5 96l-5 0l0 -12l5 0l5 4.5l0 3l-5 4.5zM216.5 119l-4 -2.5l-1.5 -3l5.5 -2l0.5 -2l-5.5 -1l-0.5 -2l2.5 -2l7 -1.5l1 2.5l-0.5 10l-4.5 3.5zM245.5 118l-2 0l-2 -4.5l0.5 -7l2.5 -2l3 0.5l1 1.5l-4.5 4l5.5 4l-4 3.5zM109.5 108l-4 0l0 -1.5l4.5 0l-0.5 1.5zM424.5 248.5l-4 -2.5l-4.5 -5.5l0 -3l-3.5 -4.5l-3 -2l-2.5 0.5l4 -4l6.5 -3.5l-0.5 -9.5l-2.5 -1.5l-5 1l-13 -13.5l-3 -5l-8 0.5l-4 2.5l-1.5 3l-0.5 4l-3.5 4l-2 10l-3.5 4l0.5 2l4.5 3.5l2 -0.5l2 -4l5 0.5l2.5 2.5l1.5 4l-8 0.5l-1 5.5l-4 3l-9 -2.5l-6.5 -3.5l0.5 -7l4 -3.5l1 -6.5l-8 -5l-5 -5l-7 -12l1.5 -3l7 -5l2.5 -6.5l4 -1l3.5 -4.5l-1 -4l-4.5 -0.5l-3 -3.5l-0.5 -8l-1.5 -2l-3.5 0l-0.5 -7l1 -3l4.5 -2l1.5 -10l5 -4.5l5 0l2 -2.5l-0.5 -7l1.5 -6l-1 -1.5l-3 1.5l-1 4l1 4l-2 2l-2 0l-5 -7l4 -3l1 -6l10 -2l5 1l1.5 3l-0.5 7l3 5l-3.5 5l0 6l-4 4l6.5 7l1 14l4 1.5l1.5 1.5l-5.5 0l-5 3.5l-5 1l-1.5 8.5l3.5 9l3 1l6 -1l20 1l12 -3l6 -5.5l3 2.5l0.5 5l1.5 2l8 3.5l12 -0.5l5 5l0.5 3l-4.5 4.5l-7 -1l-10 1l-3 10.5l0.5 12l1.5 5l-0.5 9l1.5 6l-4 4zM490.5 266l-5 -0.5l-6 -3.5l-3.5 -6.5l-4.5 -3.5l-3.5 -6.5l4.5 -5l2 -5l-0.5 -2l-1.5 -2l-9 -3l10 -11l5.5 -10l-1 -5l1.5 -12l-3 -7l1 -11.5l-5 -9.5l2.5 -6l2 -17l-2 -11l-2.5 -4l4 -9l5 -5.5l4 -1l5 0l0 2.5l0 154.5zM138.5 133.5l-3 0.5l-5 -3l-7 0l-4 -2l-0.5 -2.5l5.5 -7l7 0.5l8 -4.5l6.5 9l-3 5l-4.5 4zM415.5 118l-1 -0.5l1 -1.5l0 2zM420.5 125.5l-4 -0.5l0 -6l7.5 3.5l0 2l-3.5 1zM247.5 128l-4.5 -3.5l0.5 -3.5l7.5 1.5l0 3l-3.5 2.5zM324.5 130.5l-2 -0.5l-1 -2.5l3 -2.5l2 1.5l-2 4zM279.5 134.5l-1 0.5l0 -2.5l1 0l0 2zM280.5 142.5l-2 0.5l-1.5 -1.5l0 -3l1.5 -2.5l3.5 3.5l-1.5 3zM221.5 143l-3 -0.5l-1.5 -3l3.5 -2l2 0.5l0.5 3.5l-1.5 1.5zM425.5 168l-3 0l-10.5 -3.5l0.5 -5l-2 -11l-3.5 -1l0.5 -2l3 0.5l5 -3l2 -5l3 1.5l1.5 4l4.5 3l1 17l-2 4.5zM129.5 175.5l-9 0l-7 -2.5l-3 -5l-5 0.5l0 -2l7 1l3 -1l5 -6l2 -6l4 -2l8 -7.5l6 -2l7.5 1.5l0.5 2l-3.5 7l3.5 4l0 2l-8 5.5l-1 6l-3 3.5l-7 1zM405.5 160.5l-1.5 -1l0 -2l2.5 -1.5l1.5 2.5l-2.5 2zM165.5 169.5l-10.5 -1l2.5 -8.5l3 -0.5l1 5l1 0.5l1.5 -1.5l1 -4l1.5 0l3 2l1.5 2l-1 3l-1.5 2l-3 1zM400.5 166.5l-8 -0.5l-2 1.5l-2.5 -2l0.5 -1l5 0.5l3 -6l6 3.5l0 3l-2 1zM247.5 171.5l-2.5 -2l3.5 -5l2 0l2.5 3l-5.5 4zM193.5 171l-3 -0.5l-1 -1l3 -5l2.5 3l0 2l-1.5 1.5zM127.5 180.5l0 -2l1 1l-1 1zM295.5 201.5l-3 -0.5l-2 -2.5l0 -6l3 -3l8 0l4 4l0.5 3l-4.5 0l-3 4l-3 1zM167.5 197.5l-2 -1l-3 -4.5l-3 4l-2 0l-1 -4.5l3 -1.5l9 0.5l1.5 2l-2.5 5zM177.5 199l-3.5 -0.5l-1.5 -6l1 -1.5l3 0l2.5 2.5l0.5 3l-2 2.5zM276.5 197l-4 -1.5l-0.5 -3l2.5 -1l3.5 1l0.5 2l-2 2.5zM219.5 201l-2 -1l-1.5 -2.5l3.5 -3.5l3 -0.5l1 3l-4 4.5zM139.5 259l-16 -1l-5 -5.5l-4 -8l1 -4l5 -7l-8 -4l-1.5 -2l0.5 -2l3 -5.5l4 -3.5l6 -1.5l4 -3.5l10 2.5l5 6l5 1.5l5 3.5l3 -2.5l2 0l6 4l0 2l-7 4l-2.5 -1l0.5 -3l-1 -2l-1 0.5l0 4.5l-2.5 4l1.5 6l-4 8l0 3l-5 1.5l-4 5zM355.5 214.5l-1 0l1 0zM246.5 226.5l-2 -0.5l-1 -2.5l0.5 -3l1.5 -1l2 1l1.5 3l-2.5 3zM319.5 228.5l-2.5 -1l2.5 -4l2 -0.5l2.5 1.5l0 2l-4.5 2zM193.5 229.5l-3 0l-2.5 -3l3.5 -1.5l2.5 0.5l1 2l-1.5 2zM186.5 227.5l-2 0l0 -1l2.5 0l-0.5 1zM247.5 254.5l-6.5 -6l0.5 -7l5 -4l5 1.5l2.5 3.5l-1.5 4l-4 3l0.5 4l-1.5 1zM385.5 246l-2 -1.5l2 -2.5l1 2.5l-1 1.5zM371.5 250l-2 -0.5l1 -2.5l1.5 1.5l-0.5 1.5zM364.5 249.5l-1 -1l1 1zM278.5 272l-2 0l-1.5 -3.5l4.5 -3.5l1 3l-2 4zM179.5 274.5l-2 -0.5l-0.5 -1.5l2.5 -3l2.5 1l0.5 2l-3 2zM366.5 287.5l-12.5 -11l8 -3l4.5 -3.5l4 3.5l8 3l-2 3l-6 0.5l-2 6.5l-2 1zM407.5 281.5l-4 -0.5l-4.5 -5.5l13.5 -3l10 3l2 2l-1 3l-2 1l-9 -2.5l-5 2.5zM483.5 283.5l-1.5 0l-0.5 -2l3 -3.5l6 -0.5l0 5l-7 1zM118.5 331.5l-13 0l0 -35.5l5 -0.5l5 -2l5 2l11 -2l7 6.5l6 8l7 -5l10 0.5l-3 0.5l-1 1.5l-1.5 9l-3.5 4l-7 1l-5 1.5l-7 4.5l-4 4l-11 2zM249.5 398l-3 -0.5l-5 -5l0.5 -12l-3.5 -8l-2 -1.5l-5 -0.5l-2.5 -3l5.5 -6l3 -12l-1 -20l1 -6l-1 -3l-9 -3.5l-8.5 1.5l-1 5l-3.5 5l0 5.5l-1.5 -1.5l-1.5 -4l-14 -1l-7 -6.5l-4 4l-6 0l-5 3.5l-5 -3l-7 0.5l-3 -1.5l-1 -5l2 -10.5l6 -0.5l3 -4l7 5l0 2l-2 2l-4 -1l-4 1l-1.5 3l1.5 1l6 -1.5l7 0.5l2.5 -2l0 -5l4.5 -5l10 -1.5l2 -4.5l3 -1l7 0.5l0 3.5l2 1.5l8 0.5l3.5 3l0.5 4.5l4 1l4.5 -3.5l1 -4l6.5 -2.5l5 -7l3 -1.5l12 7l5 5l5 8l6.5 -1l3.5 -4l7.5 0l5.5 15l-3 4l-5.5 1l-0.5 8l-4 -1.5l-2.5 -2.5l-0.5 -5l4 -2l0.5 -2l-3.5 -4.5l-2 -0.5l-4 3.5l-10 2l-4 3.5l-4 0.5l-3 1.5l-2.5 4l-0.5 7l1 2.5l4 1.5l13.5 13l-1 5l1.5 2.5l9.5 0.5l3.5 -6.5l4 -4l-0.5 2.5l2 3l4.5 3.5l3 0l5.5 4.5l2.5 4l-4 4l-6 -1.5l-9 0.5l-5 -1.5l-12 -0.5l-10.5 3l-1 10l1 7l-4.5 4.5zM473.5 327.5l-5 0.5l-4 -2.5l-1 -2l1 -4l-6.5 -3l-0.5 -2l3 -8l5 -5l9 -0.5l8 -2.5l3 -3l5 0l0 31.5l-6 0l-2 -5l-2 -0.5l-1.5 1l-1 4l-4.5 1zM266.5 303.5l0 -1l0 1zM328.5 326.5l-3 -8l-3.5 -4l3.5 -4.5l3 -8l11 12.5l-1 2l-6.5 2l-0.5 6l-3 2zM301.5 312.5l-1 -1l1 1zM301.5 320l-2 -0.5l0 -2l2 0l0 2.5zM454.5 323l-1 -0.5l1 -1l0 1.5zM296.5 334.5l-2 -0.5l-0.5 -1.5l3.5 -0.5l0.5 1.5l-1.5 1zM216.5 350.5l-2.5 0l-3 -6l6 -3l-0.5 -5l1 -0.5l2 2.5l-1.5 2l0.5 8l-2 2zM473.5 373.5l-3 0l-4 -3l-2.5 0l2 -7l-4 -5l3.5 -4l-1.5 -5l4.5 -1.5l3 -3.5l4.5 -1l1.5 -5.5l13 1l0 26l-5 0l-4 2l-8 6.5zM110.5 376.5l-5 1l0 -28.5l5 0l7 -3l6 -4.5l3 4.5l4 1.5l14 -1l-1 7.5l1.5 1.5l4.5 1l1 3l-14.5 2l-3 7l-3.5 4.5l-7 2.5l-8 -1.5l-4 2.5zM330.5 372.5l-3 -1.5l-3 -10.5l2.5 -13l1.5 -1l5.5 7l-3 7l2.5 9l-3 3zM210.5 356l-2 -0.5l-0.5 -2l3.5 -1.5l1 1.5l-2 2.5zM218.5 374.5l-12 1l-8 -1l-3 -4.5l-4 -1.5l-1.5 -3l5 -2l3.5 -8.5l2 0.5l0 3l11 2l5 -0.5l4 11.5l-2 3zM169.5 364l-1.5 -0.5l0.5 -1l1.5 0l-0.5 1.5zM477.5 364.5l0 -2l-2.5 0l0 2l2.5 0zM175.5 372.5l-4.5 -6l0.5 -2.5l4 0l2.5 1.5l-1 6l-1.5 1zM132.5 399.5l-4 0l-5 -2.5l-4 0.5l-4.5 -4l0 -10l1.5 -4.5l6 -1.5l9 0.5l5 3l8.5 8.5l0.5 3l-6 1l-7 6zM490.5 409l-5 0l-9.5 -7.5l-3.5 -9l-4 1.5l-1.5 -1.5l1 -3l8.5 -7.5l5 -0.5l4 -3l5 0l0 30.5zM374.5 403l-1 -0.5l1 -1l0 1.5zM378.5 438.5l-31 0l0 -5l3 -3l2.5 -8l0.5 -9l5 -5l9 -3l4 7l4 -1l2 1l2.5 4l-1 8l-5.5 4l0.5 2l5 2l-0.5 6zM416.5 438.5l-25.5 0l-1 -13l5.5 -1.5l1 -4.5l3.5 -3l1.5 -4.5l5 1.5l4 -3.5l5 4l7 -1.5l0 2l3 4l0 3l-6.5 8l-2.5 9zM317.5 438.5l-154 0l-2.5 0l0 -5l1 -4l5.5 -5l9 -4l4 2.5l11 2l17 -2l6 -2.5l9.5 5l11.5 -1l7 3l12 -1.5l5 1l10 -5.5l11 -10l3 9l2 1.5l2 0.5l5 -2l5 -4.5l6.5 3.5l3.5 4.5l6.5 3.5l3.5 6l0 5zM460.5 438.5l-30 0l0 -5l3 -4l0.5 -5l7.5 -8.5l3 -1l1.5 1.5l-1.5 4l9 3.5l7 8.5l0 6zM416.5 425.5l0 -2.5l-2 0l0 2.5l2 0zM127.5 438.5l-22 0.5l0 -13.5l15 0.5l5.5 1.5l1.5 3l0 8zM333.5 438.5l-4 0l0 -5l3 -3.5l2 -0.5l1.5 1l-1.5 8l-1 0z" fill="#00ff95" fill-rule="evenodd"/>
<path d="M142.5 62.5l-2 0l-3.5 -4l0 -5l9 0l0 4l-3.5 5zM365.5 103.5l-5 0.5l-3.5 -1.5l-0.5 -4l5 -5l0 -3l-4 -1.5l-10 -9.5l1 -3l-0.5 -6l1.5 -3l-1.5 -5l2 -9l32 0l0 12l-1.5 11l-5 5l-5 11l-0.5 7l-4.5 4zM410.5 97.5l-1.5 -1l-1.5 -5.5l-6 -1l-1.5 -1.5l-0.5 -5l2 -4l-2 -5l-4.5 -4l6 -5l1.5 -12l25 0l0 4l-3 5l1 8l-2 6l-3.5 4l-6.5 3l-2 6l0 7l-1 1zM490.5 74.5l-8 -0.5l-2.5 -1.5l-1.5 -5l0 -14l12.5 0l-0.5 21zM294.5 99.5l-8 -1.5l-5 2l-4 -0.5l-2.5 -3l-1 -5l-7.5 -6l-0.5 -9l3 -8l9.5 -8.5l3 1.5l4 9.5l8 -6.5l3 -1l8 4l4.5 5l-1 9l0.5 6l-5.5 7l-8.5 5zM210.5 95.5l-4 -3.5l-9 3l-2 -4.5l0 -3l3 -5l7 -7l2 -4l8 -3.5l6 -7.5l2 0.5l3 8.5l-1 13l-3 3.5l-8.5 2.5l-1 5l-2.5 2zM442.5 90.5l-5 -3l-6 -8l-0.5 -11l2.5 -3.5l10 -1l4.5 3.5l0.5 4.5l2.5 4.5l-0.5 4l-6 6l-2 4zM177.5 92.5l-2 0.5l-6 -6.5l3.5 -7l0 -7l6.5 -4.5l2.5 3.5l0.5 8l2.5 5l-3.5 5.5l-4 2.5zM110.5 93.5l-5 0.5l0 -9l4 -0.5l5 4l0 2l-4 3zM213 88.5l-1.5 -1l-0.5 1l2 0zM218.5 108l-5 0l-1 -1.5l2 -1.5l3.5 -0.5l1.5 2l-1 1.5zM280.5 110.5l-2 0l-3 -3l0 -3l2 -0.5l4.5 1.5l-1.5 5zM246.5 107.5l-2 0.5l-1 -1.5l3 -1l0 2zM425.5 246.5l-2 0l-2.5 -2l-1.5 -6l-7 -8l1 -2l6 -5l-0.5 -9l-3.5 -3l-4 1l-2 -1l-12 -12.5l-2 -3.5l-2 -1l-8 0l-4 2.5l-2.5 3.5l-1 5l-3.5 5l-2 8l-3.5 5l0.5 2.5l5 3.5l3 0.5l2 -3.5l3 -1l2.5 1l0.5 3l-6 1l-0.5 6l-3.5 2.5l-8 -2l-6.5 -3.5l0.5 -4.5l4 -3.5l2 -10l-9 -4l-10.5 -14l-0.5 -2l1.5 -3l5.5 -4l10.5 -13l-1.5 -6.5l-4 0.5l-2 -2l-1.5 -9l-3.5 -4l-1 -4l5 -4l0 -6l2 -4l4 -4l5 0l1.5 -2l0 -10l2 -6l-1.5 -1.5l-3 -0.5l-4 4l-0.5 -5l1.5 -1.5l12.5 -0.5l1 2l-0.5 7l2.5 5l-2.5 5l-0.5 5l-4.5 3l-0.5 2l1 2l6 4l1 12l-0.5 5l-3 2.5l-5 1.5l-2 4l-0.5 6l3.5 9l4 1.5l17 1.5l14 -3.5l9 -0.5l4 -5l2 1.5l0.5 4.5l1.5 2.5l8 4l12 0l4.5 4.5l-0.5 3l-3 2.5l-15 -1.5l-2.5 1l-2 8l0 17l2.5 18l-2 3zM490.5 263l-5 0l-6 -2l-2.5 -6.5l-6.5 -5.5l-1.5 -3.5l4 -4l3 -6l-2 -4l-8 -4l5.5 -5l8 -15l-1 -5l2 -6l0 -5l-2 -8l1.5 -5l-4.5 -14l1 -4l-0.5 -15l3 -6l-2.5 -6l0 -5l-2.5 -4l3 -8l6 -6l2.5 -0.5l5 0l0 1.5l0 151.5zM215.5 117.5l-2.5 -3l6.5 -2.5l0 3.5l-4 2zM245.5 116.5l-2 -1l1 -2.5l3.5 1.5l-2.5 2zM137.5 133l-6 -2.5l-9 -0.5l-2 -1.5l0 -2l4 -5.5l7 0l8 -3.5l5.5 7l-2.5 4.5l-5 4zM361.5 120l-2 0l0 -1.5l2 -1l0 2.5zM422.5 124l-4 0l-0.5 -2.5l4.5 1l0 1.5zM247.5 126.5l-2 -1l-1 -3l3 -0.5l3 1l-0.5 2.5l-2.5 1zM324.5 128.5l-1 0l0 -1.5l1 0l0 1.5zM280.5 141.5l-2 0l0 -3l2.5 1l-0.5 2zM220.5 141.5l-2 -1.5l2 -0.5l0 2zM419.5 142.5l-1 0l0 -2.5l1 2.5zM130.5 174.5l-16 -1.5l-1.5 -1.5l-0.5 -2l7 -5.5l4 -8.5l4 -2l7 -7l5.5 -3l5 1l2.5 2l-3.5 8l3.5 3l0 2l-3 2l-4 0.5l-2.5 8.5l-3.5 3l-4 1zM424.5 167l-11.5 -3.5l-0.5 -15l1 -3l9 0l2 1l-0.5 3l2.5 6l-2 11.5zM141 160.5l-0.5 -1.5l-1 0l0 2l1.5 -0.5zM158.5 167.5l-2 -2l2 -5l1.5 1l0 4l-1.5 2zM167.5 167.5l-2 0.5l-1.5 -1.5l2.5 -5.5l3 2.5l-2 4zM193.5 168.5l-2 0l0.5 -2l1.5 1l0 1zM248.5 169.5l-1 0l0 -2l3 -2l1 2l-3 2zM296.5 199.5l-4 0l-1 -6l3 -3l7 0l2 2l-0.5 2l-6.5 5zM159.5 194.5l-2 0l1 -3l1.5 1l-0.5 2zM167.5 196l-2 -1.5l0 -3l3 1l-1 3.5zM176.5 198.5l-2 -0.5l-0.5 -1.5l0 -3l1.5 -1l2 1l1 2l-2 3zM276.5 196l-3 -1l0 -2.5l4 1l-1 2.5zM220.5 199l-2 0.5l-1 -2l3 -2l1 1l-1 2.5zM139.5 256.5l-16 0l-4 -4l-3 -6l-0.5 -4l7 -9l-9.5 -4l-1.5 -3l7.5 -9l9 -3.5l9 0.5l6 7.5l5 1l3 2.5l0.5 4l-2 5l1.5 8l-5 8.5l-7 5.5zM246.5 225.5l-2 -2l1 -2.5l2.5 1.5l-1.5 3zM160.5 229.5l-3 0.5l-1.5 -4.5l1 -2l2 0l3.5 3l0 2l-2 1zM193.5 229l-2 0l-1 -2.5l3 0l0 2.5zM245.5 251.5l-3.5 -3l0.5 -6l3 -3l4 0l2 1l0.5 3l-6.5 8zM180.5 272.5l-1.5 0l0 -1l1.5 0l0 1zM366.5 286.5l-10.5 -10l10.5 -5l10 4.5l0.5 1.5l-6.5 2l-2 6l-2 1zM420.5 280.5l-8 -3l-7 3.5l-2.5 -1.5l-1.5 -3l6 -1.5l12 0.5l3.5 2l0 2l-2.5 1zM490.5 280.5l-6 0l1 -1l5 0l0 1zM121.5 329.5l-16 0.5l0 -32l9 -2l5 1.5l3 -1.5l6 0.5l3 -1l9.5 10l1.5 4l3 0l5 -5l4.5 1l1 7l-3.5 5l-9 1.5l-10 4.5l-5 5l-7 1zM250.5 395.5l-3 0.5l-4.5 -3.5l0 -13l-4.5 -8.5l-6.5 -1.5l-1.5 -2l5 -4l0.5 -9l3.5 -14l-1.5 -17l-1.5 -4l-9 -3.5l-6 0.5l-4 2l-1.5 5l-2.5 3l-5 0.5l-12 -1l-4 -6l-2 -1l-2 0.5l-3 4.5l-5 0.5l-5 2.5l-5 -2.5l-7 0.5l-2 -1l-0.5 -4.5l1.5 -9l6 0l-4 4l0.5 3l1.5 1.5l6 -2l10 0l2 -1.5l0 -5l4 -4l4 -2l6 0l4 -5l4 1l4 3.5l9 1.5l2 2l-0.5 4l6.5 1.5l13 -10.5l4 -5.5l3 -1.5l2 0.5l14 10.5l4 9l10 -2l3.5 -4l5 0l3 6l2 8l-2.5 3.5l-6 0.5l-1 6l-3 -0.5l-1 -2.5l1 -3l3.5 -2l-0.5 -3l-3.5 -5l-2.5 -0.5l-5 3.5l-8 2l-5 3.5l-5 1l-3.5 2.5l-2.5 4l0 8l1 2l3.5 2l12.5 12l1 2l-1 4l3 3.5l9 0.5l5 -6l2 -1l8 7l6 1.5l2 2.5l0 2l-3 2l-18 -2.5l-17 0l-8 2l-1 2.5l1.5 15l-2.5 3zM473.5 326.5l-5.5 -1l-1.5 -2l0 -4l-8 -4l3.5 -8l4.5 -5.5l9 0.5l7.5 -3l2.5 -2.5l5 0l0 28.5l-5 0l-1 -5l-7 -2l-2 2l1 4l-3 2zM329.5 325l-1.5 -0.5l-4.5 -10l5 -10.5l10 10.5l-1 2l-6 2l-2 6.5zM171.5 309.5l-2 0l1 -2l2 1l-1 1zM473.5 372.5l-2 0.5l-2 -1.5l-2.5 -3l-1 -6l-3 -3l0 -2l4.5 -3l-2.5 -4l6.5 -5l5 -1l4 -5l10 0.5l0 22.5l-5 0.5l-5 2l-2.5 -3.5l-3.5 0l-1 3l5 2l-5 6zM108.5 375.5l-3 0l0 -25l12 -1.5l6 -6l3 4.5l5 2l4 -2l5 0.5l1.5 1.5l1 6l6.5 2l-1 2l-7 0l-6 2l-3 6.5l-4 3.5l-6 2l-8 -1l-6 3zM331.5 371l-3 -0.5l-1 -3l-0.5 -12l1.5 -6l3 1.5l1.5 2.5l-3.5 7l3 6.5l-1 4zM208.5 374.5l-10.5 -3l-1 -8l1.5 -3l18 1l2.5 11l-10.5 2zM175.5 371l-2.5 -3.5l1.5 -2l2 2l-1 3.5zM194.5 367.5l-2.5 -1l2.5 0l0 1zM132.5 398.5l-4 0.5l-4.5 -2.5l-4.5 -0.5l-3.5 -3.5l1 -10l1.5 -2.5l5 -1l9 1l9.5 8.5l0.5 2l-4 2l-6 6zM490.5 407.5l-5 0l-8 -6l0 -4l-6 -8l6 -6.5l5 -1l3 -2l5 -0.5l0 28zM376.5 438.5l-27.5 0l0 -5l2.5 -2.5l3 -7.5l0 -9.5l12 -7.5l2 1l3 7l5 0.5l2 2.5l-1 6.5l-2 1l-4 -1l-1 1.5l2 7l5 1l0 5l-1 0zM414.5 438.5l-22.5 0l-0.5 -10.5l5 -3.5l1 -5l2.5 -2l2 -4l4.5 2l4 -5l5 4l5 0.5l4.5 4.5l-0.5 2.5l-5 4.5l-1 0l-2 -5l-3 1l0 3.5l3.5 2.5l-2 5l-0.5 5zM314.5 438.5l-151 0l-1.5 0l0 -5l0.5 -2.5l6 -6l8 -3l4 2.5l5 0l6 2.5l6 -3l15 0.5l4 -1l14 4.5l5 -1.5l8 2l5 0l6 -2l5 1l15 -8l5 -5.5l4 8l4 2l6 -3l4 -4l5 2.5l4 5.5l5 1.5l2 2l1.5 5l-0.5 5zM458.5 438.5l-27 0l0.5 -5l2 -3l1 -5l6.5 -6l8 6l4 0l6 8l0 5l-1 0zM126.5 438.5l-21 0.5l0 -12.5l14 0l5 1.5l1.5 2.5l0.5 8zM332.5 438.5l-1 0l0 -5l1 -1l0 6z" fill="#00ffbf" fill-rule="evenodd"/>
<path d="M142.5 60.5l-2 0.5l-2 -2.5l-0.5 -5l6 0l-1.5 7zM365.5 102.5l-5 0.5l-2.5 -2.5l0.5 -3l4.5 -4l1 -5l-5.5 -1l-8.5 -9l-1 -7l1.5 -4l-0.5 -5l2.5 -5l0 -4l28 0l0.5 8l-1 14l-6 5l-4 11l-1.5 8l-3 3zM409.5 89.5l-7 -0.5l-1.5 -1.5l-0.5 -3.5l2.5 -4.5l-5.5 -9l5 -4l1.5 -13l22.5 0l-0.5 4l-3 5l0.5 7l-1.5 7l-3.5 4l-5 2l-4 7zM490.5 73.5l-7 -0.5l-3 -2l-1 -3.5l0 -14l11 0l0 20zM295.5 98.5l-3 0.5l-7 -2.5l-4 2.5l-3 0l-2 -2.5l-1 -6l-8 -5.5l0.5 -9.5l2 -6l4.5 -3l4 -5.5l3 1l4 11l11 -8.5l7 3.5l4 4.5l0.5 4l-2 4l0.5 7l-4 5.5l-3 1.5l-4 4zM201.5 93.5l-4 0l-1.5 -3l0.5 -3.5l11 -10.5l2 -5l7 -3l5 -6l2 0l0 7l2 8l-1 4l-4 4l-7 -1l-4 1l-2 5l-3 0.5l-3 2.5zM441.5 88l-3 -1l-4 -6.5l0 -4l-2 -6l1 -3l8 -2.5l5 2.5l4 11l-1 2.5l-8 7zM178.5 91l-2 0.5l-5 -5l2.5 -8l0 -6l5.5 -3l2 3l0.5 8l2 4l-3 5l-2.5 1.5zM110.5 91.5l-5 0.5l0 -6l4 0l3.5 2.5l-0.5 2l-2 1zM211.5 93.5l-2 0l0 -2l2 0l0 2zM279.5 109l-2 -1.5l-0.5 -2l3 1l-0.5 2.5zM374.5 134l-4.5 -0.5l-0.5 -12l1 -3l3.5 -4l-1 -3l1.5 -0.5l1 7.5l3 5l-3 4l-1 6.5zM490.5 260.5l-7 1l-3 -1l-1.5 -2l0 -4l-8.5 -7l-0.5 -2l6.5 -7l0.5 -3l-2.5 -5.5l-6.5 -2.5l1.5 -2l4 -1l2.5 -9l4.5 -8l-1 -5l2.5 -6l-1 -10l1.5 -8l-3.5 -6l-1 -6l1 -4l-2.5 -8l0.5 -10l4.5 -5l-3.5 -6l-0.5 -5l-2.5 -5l2.5 -5.5l5 -3.5l1 -3l2 -1l5 1l0 149zM216.5 116l-1.5 -0.5l2.5 -1l-1 1.5zM137.5 131.5l-5 -1.5l-8 -0.5l-2.5 -1l-0.5 -2l3 -4.5l6 0l8 -2.5l5 5l-2 4l-4 3zM249.5 124.5l-2 1l-1 -2l2 -0.5l1 1.5zM366.5 170.5l-3 -5l-3 -1l-7 -13l5 -5l-1 -5l1 -3l6 -4.5l4 1l1 5.5l7 3l1.5 3l-0.5 13.5l-8 4.5l-3 6zM131.5 173.5l-4.5 0l-5.5 -2l-6 0.5l-1.5 -1.5l6 -5l4.5 -9l4 -1l10.5 -11l4.5 0l2.5 2l0 2l-3 4l-0.5 3l-4 1l-1.5 2l0.5 10.5l-6 4.5zM421.5 165l-7.5 -1.5l-1 -12l1.5 -5l7 2l4 5l-0.5 6l-3.5 5.5zM145.5 159.5l-2 0l0 -2.5l2 0.5l0 2zM167.5 165l-1 -0.5l1 -1.5l0 2zM425.5 245l-4 -1.5l-0.5 -6l-4.5 -3l-2 -3l6.5 -7l1 -9l-6.5 -5.5l-4 0l-2 -4.5l-4 0l-10 -11.5l-9 -1.5l-4 1.5l-4 5.5l-1.5 5l-5.5 7l-2 1.5l-5 0.5l-5 -3l-6 -7l-4 -7l0.5 -4l4.5 -3l3 -4l4 -2l5 -6.5l4 7.5l4 2l13 1.5l5 1.5l4 -2.5l10 -2l10 2l3 -5l1.5 4.5l9.5 5l9 -0.5l4 1l2.5 4.5l-1.5 3l-9 -0.5l-5 -1.5l-4.5 1l-0.5 5l-2 3l0 9l2.5 27l-0.5 2.5zM295.5 198.5l-2.5 -1l1 -5l3.5 -1.5l3.5 0.5l0 3l-5.5 4zM275.5 195l-1 -1.5l1 0l0 1.5zM176.5 197.5l-1.5 -1l0.5 -2l2 1l-1 2zM129.5 256l-6 -1l-3.5 -3.5l-3 -6l0.5 -3l7.5 -9l-9.5 -3.5l-2.5 -2.5l8.5 -9.5l6 -2l9 -1l6 8.5l6 1l2.5 2l0 3l-2.5 4l2.5 9l-6 8l-4.5 3.5l-8 0l-3 2zM246.5 224l-1 -1.5l1 0l0 1.5zM160.5 228l-2 0l-1 -3l2 0.5l1 2.5zM383.5 228.5l-2 0.5l-1 -1.5l2 -0.5l1 1.5zM376.5 237l-9 -1l-5 -2.5l-0.5 -3l2.5 -1.5l7 -0.5l6 3l0.5 4l-1.5 1.5zM245.5 250l-2.5 -1.5l0.5 -5l2 -2l4 -0.5l1 1.5l-0.5 2l-4.5 5.5zM366.5 285.5l-7.5 -9l7.5 -4l8.5 4l0 1l-5.5 2l-3 6zM407.5 280l-3 0l-1.5 -2.5l0.5 -1l5 -1l1 2l-2 2.5zM420.5 279l-3 -1.5l3 -0.5l0 2zM115.5 328.5l-10 0l0 -28l4 0l5 -2.5l5 0.5l4 -1.5l7 1l9 8.5l1 5.5l6 -2l4 -4l4 1l0.5 5.5l-3.5 4l-8 1.5l-11 4l-5 6l-12 0.5zM250.5 393.5l-3 0l-3.5 -2l-1 -4l0.5 -9l-5 -9.5l-4.5 -1.5l5 -3l-2 -10l2 -10l2.5 -4l-4 -21l-8.5 -5l6.5 -5l2 -4l4 -3l2.5 -4l3.5 -1.5l14 9.5l4 7l-0.5 4l-3 3l-5.5 4.5l-5 1.5l-5.5 4l-1.5 4l1.5 9l11.5 10l0 4l4.5 2l0 4l5.5 6.5l9 -1l7 -6.5l3 2l3 4.5l5 0.5l2.5 3l-1.5 1.5l-12 -0.5l-6 -2l-18 0l-4 2l-5 0.5l-1 4.5l2.5 12l-1.5 3zM473.5 325l-4 -0.5l-1 -5l-8.5 -4l0 -2l7.5 -10l3 -0.5l5 1l3 -2.5l7 -2.5l5 -0.5l0 19.5l-6 -1l-8 0l-2.5 2.5l0.5 4l-1 1.5zM211.5 326l-15 -0.5l-4 -8l-5.5 -1l0 -6l5.5 -5l6 1l5 -5l9 4.5l4 2.5l2 3.5l4 2.5l-6 3l-2.5 6l-2.5 2.5zM329.5 323l-1 0l-4 -8.5l4 -7.5l9 7.5l-6 3l-2 5.5zM287.5 326l-4 -0.5l-3 -6l0.5 -7l1.5 -2.5l3 0.5l2.5 5l1 8l-1.5 2.5zM176.5 326l-8 -3l-4 0.5l-1.5 -2l3.5 0.5l6 -4l13.5 0.5l-0.5 4.5l-6 0.5l-3 2.5zM280.5 332l-1.5 -1.5l0.5 -2l1.5 1l-0.5 2.5zM473.5 371.5l-3 0l-3 -8l-4 -5l5 -3l1 -2l-1.5 -3l4 -4l4.5 -1l5 -4.5l9 0l0 19l-6 0l-3 2.5l-4 -2l-4 0.5l-2 3.5l4 4l-2 3zM110.5 373.5l-5 1l0 -22.5l13 -1.5l4 -5l9 5.5l5 -2.5l4 1l1 8l-7 4l-4 7l-8 3l-8 -0.5l-4 2.5zM330.5 357l-2 0.5l-1 -1.5l0.5 -3.5l1.5 -1.5l3 2.5l-2 3.5zM209.5 373.5l-4 0l-5 -4l-2 -6l1 -2l16 0.5l1.5 7.5l-7.5 4zM330.5 369.5l-1.5 -2l0.5 -2l2 2l-1 2zM132.5 397.5l-4 0.5l-10 -4.5l-1.5 -4l2.5 -8l4 -1l5 2l4 0l7.5 5l0 2l-7.5 8zM490.5 405.5l-5 0.5l-2 -1.5l-9 -15l3.5 -5l7.5 -3.5l5 -0.5l0 25zM369.5 438.5l-19 0l0.5 -5l2.5 -7l2.5 -3l-1 -5l0.5 -3l11 -8l5 9l5 1l1 2l-1 2.5l-5 0l-2.5 2.5l0.5 14zM411.5 438.5l-18.5 0l0 -9l4.5 -5l1 -4.5l4 -4l3 1.5l2 -1l3 -5l5 4l8 3l0.5 2l-3.5 3l-4 -4l-3.5 2l-0.5 4l2 4l-2.5 3l-0.5 6zM312.5 438.5l-149 0l-1 -5l1 -2l3 -1l3.5 -5l5.5 -2.5l5 2.5l5 0.5l6 3.5l5 -4.5l10 -0.5l8 2.5l4 -1l6 1l6 3.5l8 -1.5l10 1l6 -2.5l5 1l8 -4.5l9 -2.5l1 -4l2 -1.5l2.5 6.5l5.5 2.5l3 -0.5l7 -6.5l2 0.5l7 8.5l4 0l2 1.5l1 3l-1 7zM457.5 438.5l-25 0l0.5 -5l3.5 -7.5l5 -3.5l15 9l1.5 2l-0.5 5zM125.5 438.5l-20 0l0 -11l14 0l3.5 1l2 3l0.5 7z" fill="#00ffea" fill-rule="evenodd"/>
<path d="M141.5 58l-1 -0.5l-0.5 -4l1.5 0l0 4.5zM363.5 86.5l-3 0l-4.5 -3l-6 -11l2 -9l2 -3l0 -7l25 0l0 8l-2.5 3l0.5 10l-4 4l-1.5 6.5l-4 -1l-4 2.5zM409.5 87l-3 -1l-3 1.5l-2 -2l2.5 -6l-3.5 -8l5.5 -11l-0.5 -7l19.5 0l0 4l-4 6l-0.5 13l-2 3l-5.5 3l-3.5 4.5zM490.5 72.5l-7 -1l-3 -2.5l-0.5 -15.5l10.5 0l0 19zM295.5 97.5l-3 0.5l-7 -4l-2 0.5l-2 3l-3 0l0 -4l-1.5 -3l-4.5 -5l-3.5 -2l1.5 -12l4 -2.5l4 -6.5l3 1l2 8l3 5l1 -0.5l1 -4.5l5 -2.5l3 -3l6 2.5l4.5 6l-0.5 3l-2 2l-0.5 9l-3.5 3.5l-5 -1.5l1 5l-1 2zM441.5 86l-2.5 -1.5l-4.5 -13l1.5 -2l5.5 -3l4 2l3.5 9l-0.5 2l-7 6.5zM219.5 84.5l-7.5 -2l-1.5 -9l1.5 -2l7.5 -2l4.5 5l0.5 5l-5 5zM179.5 88.5l-6 -2l-0.5 -2l2.5 -6l-0.5 -5l3.5 -2.5l1.5 1.5l1 3l-1.5 13zM200.5 93l-3 -1l-0.5 -4.5l9.5 -8l1 2l-2 3l0.5 3l-3 1l-1 3l-1.5 1.5zM109.5 89.5l-4 0l0 -1.5l4.5 0.5l-0.5 1zM363.5 102.5l-3.5 -1l-0.5 -3l4.5 -4l2.5 -6l2 -0.5l-0.5 10.5l-4.5 4zM490.5 199.5l-4 -0.5l-3.5 -5.5l1 -15l-4 -7l0.5 -8l-3.5 -9l0.5 -10l6 -6l-1 -3.5l-3 -3.5l-3 -9l2 -4l7 -4.5l5 0.5l0 55l-4 0l-2 2l1 1.5l5 0.5l0 26zM373.5 132.5l-2.5 -1l-0.5 -10l1 -3l2 -0.5l4 5.5l-3 4l-1 5zM133.5 128.5l-8 0l-2 -1l0 -2l2 -2.5l5 0.5l5 -2.5l3 0.5l2 6l-7 1zM366.5 163.5l-4 -0.5l-3 -2l-4.5 -8.5l1 -2l5.5 -4l-3 -4l0.5 -3l5.5 -3.5l2.5 1.5l1 4l7.5 2l1.5 3l-0.5 13l-10 4zM133.5 155.5l-2 -1l7.5 -9l2.5 -1l3.5 2l-0.5 3l-4 1.5l-0.5 2.5l-3.5 0l-3 2zM419.5 164l-3 0l-2 -1.5l-0.5 -11l1.5 -3.5l4.5 1.5l5 6l-1 4l-4.5 4.5zM363 152.5l-0.5 -1.5l0.5 1.5zM130.5 172.5l-4 -0.5l-5 -4.5l3 -8.5l7 0l3.5 1.5l1.5 7.5l-6 4.5zM367.5 212l-4 -0.5l-2 -2l2 -2l-0.5 -1l-4.5 0.5l-3 -3l-5 -9.5l7 -8l5 -2l4 -5l4 6l10 2.5l2 2.5l-7 13l-1 1l-1 -2l-1.5 0l1.5 3l-0.5 2l-5.5 4.5zM422.5 211.5l-3 0.5l-6 -4.5l-0.5 -6l-1.5 -2l-4 4l-2.5 -1l-8.5 -11l0.5 -3l10.5 -2l4 3l12 -0.5l7 4l9 -1l3.5 1.5l1 3l-1.5 2l-6 -0.5l-6 -2.5l-6.5 2l0.5 5l-2 3l0 6zM297.5 196l-2 0l-0.5 -2.5l4.5 -1.5l1 1.5l-3 2.5zM483.5 260l-3.5 -1.5l1 -4l-10 -8l6.5 -8.5l-1.5 -14.5l1 -7l5.5 -9l-2.5 -6l3.5 -2.5l1.5 1.5l0.5 8.5l5 0.5l0.5 19l-0.5 30l-5 0l-2 1.5zM128.5 255l-7 -3.5l-3.5 -6l5.5 -9l4.5 -1l0.5 -1l-5 -3l-8 -2l-1.5 -2l7 -5l2.5 -4l12 -1.5l2 3.5l5 4.5l3 1.5l4 0l0.5 2l-3.5 3l-0.5 3l3.5 5l0.5 3l-2.5 2l-5 -1l1.5 5l-2.5 3l-3 1l-7 0l-3 2.5zM423.5 235.5l-6 -3l0.5 -3l2.5 -2.5l1.5 0.5l2 4l-0.5 4zM471.5 228.5l-1 -1.5l2 0.5l-1 1zM376.5 235l-9 -0.5l-4 -3l8 -1.5l5 2l0 3zM424.5 243l-2 -1.5l1 -2.5l1 4zM246.5 247.5l-2 1l-1 -2l1 -2.5l2 -1l2 1.5l-2 3zM366.5 283.5l-4.5 -6l4.5 -4l5.5 3l-5.5 7zM407.5 278.5l-2 0.5l-1 -1.5l3 -1l0 2zM113.5 327l-8 0l0 -25l7 0l3 -2l9 -2l10.5 5.5l3.5 6l0 3l-2.5 3l1 4l-6.5 1.5l-4 4l-10 -0.5l-3 2.5zM242.5 330.5l-2.5 -2l-2.5 -10l-6 -4l5 -4l2 -5l6 -6l3 -1l8.5 5l3 3l-0.5 4.5l4 -1l1.5 4.5l-4.5 6.5l-2 0.5l-3 -1.5l0 1.5l2 1l-1 1l-13 7zM472.5 319l-2 0.5l-8 -5l1.5 -5l5.5 -5l2 -0.5l6 2l2 -3.5l2 -1l9 0.5l0 13.5l-13 0l-5 3.5zM210.5 325l-14 -0.5l-2.5 -8l-5.5 -2l-0.5 -3l2 -3l3.5 -2l6 2.5l4 -5.5l8 3l3.5 4l0.5 4l-3.5 9l-1.5 1.5zM144.5 316.5l-4 0.5l0 -2.5l6 -2.5l4 -4.5l3 0.5l1 3.5l-2 3l-3 1.5l-5 0.5zM204.5 310.5l-1.5 0l1.5 0zM328.5 320l-3 -5.5l4 -4.5l6 4.5l-7 5.5zM286.5 325l-2.5 -0.5l-2 -5l1.5 -8l3 4l0 9.5zM176.5 325l-2 0l-4 -2.5l0 -3l3 -1l11 1.5l-1 2.5l-4 0l-3 2.5zM470.5 362l-2 0.5l-3.5 -4l5.5 -2l2.5 -9l3.5 -0.5l5 -4.5l9 -1l0 17.5l-16 0.5l-4 2.5zM249.5 392l-4 -1l-1.5 -2.5l1 -9l-3.5 -6l0 -14l-3 -4l1.5 -10l2.5 -1.5l5 3l7.5 6.5l0.5 2l-3.5 3l0.5 2l7 1l4.5 7l-0.5 2l-6 0l-3 2l-4 -1l-1.5 1l-1.5 6l2.5 6l0.5 6l-1 1.5zM109.5 373l-4 0l0 -19.5l7 0.5l11 -5.5l8 3.5l5 -2.5l2.5 1l-1 4l1 3l-4.5 3.5l-4 6.5l-4 1.5l-12 0.5l-5 3.5zM330.5 355.5l-2 0l1 -3l1.5 1l-0.5 2zM210.5 372.5l-5 -0.5l-4.5 -4.5l-0.5 -4.5l4 -1l11 1l0 5.5l-5 4zM287.5 371.5l-4 0.5l-4 -2l-0.5 -1.5l2.5 -2.5l3 -0.5l3.5 5l-0.5 1zM472.5 369.5l-1 -1l1.5 0l-0.5 1zM294.5 373l-3.5 -1.5l2.5 -1l1.5 1l-0.5 1.5zM481.5 395.5l-4 -2l-1.5 -3l1 -3l2.5 -2.5l6 -3l5 -0.5l0 11.5l-6 0.5l-3 2zM131.5 396.5l-3 0.5l-7 -2.5l-2.5 -3l-0.5 -3l4 -5.5l15 4.5l0.5 2l-6.5 7zM490.5 404l-6 -0.5l-1.5 -3l0.5 -3.5l7 -0.5l0 7.5zM367.5 438.5l-13.5 0l-0.5 -7l1 -4l3.5 -2l-1.5 -8l5 -5.5l4 -1.5l3 2.5l3 6.5l-4 6l0 13zM410.5 438.5l-17 0l1 -9l4.5 -5l0.5 -3.5l9 -2.5l2 -5.5l4 4.5l-3 5l-1 16zM279.5 420.5l0 -2.5l1 1.5l-1 1zM309.5 438.5l-48 0l-0.5 -5l-8.5 -0.5l-1.5 -1.5l2.5 -3.5l6 2.5l9 -5.5l7 -1l14.5 1.5l8.5 -6.5l8 10l4 -1l1.5 1.5l-2.5 9zM421.5 420.5l-1.5 0l0.5 -1l1 1zM250.5 438.5l-25 0l-0.5 -5l-1.5 -1l-2 2l0 4l-55 0l-0.5 -5l4.5 -7l4 -2l9 3l3.5 3l3.5 1l6 -6l10 -0.5l9 3.5l8 -0.5l7 4l15 -1l5.5 3.5l0.5 4l-1 0zM444.5 438.5l-11 0l0.5 -5l2.5 -5.5l4 -3.5l5 1l2 3l-3 10zM123.5 438.5l-18 0l0 -10.5l15.5 0.5l3 4l0.5 6l-1 0zM455.5 438.5l-7 0l0.5 -7l3.5 -0.5l3 1.5l0 6z" fill="#00eaff" fill-rule="evenodd"/>
<path d="M362.5 85.5l-6 -3l-5 -9l1 -8l2.5 -4l0 -8l23 0l0 5l-3 5l0.5 7l-5 11.5l-8 3.5zM410.5 56.5l-1 0l0 -3l1 0l0 3zM420.5 60.5l-2 1l-1.5 -1l0 -7l7 0l-0.5 4l-3 3zM482.5 68l-1 -1.5l-0.5 -13l9.5 0l0 11l-6 0l-2 3.5zM281.5 92l-3 -1.5l-8 -10l0.5 -7l4.5 -4l4 -6.5l2 1.5l6 19l-0.5 3l-5.5 5.5zM410.5 84.5l-1 0.5l-4 -2.5l-2 -8l1.5 -9l2.5 -2.5l2.5 2.5l-0.5 11l2 1l6 -2.5l1 1.5l-1 3l-5 2.5l-2 2.5zM301.5 89l-9 -1.5l-1.5 -2l-0.5 -13l7 -1.5l0.5 -1.5l-0.5 -1l1 -0.5l4.5 3.5l-1 5l-0.5 12.5zM442.5 83l-2 0l-1 -1.5l-2.5 -9l1.5 -3l3 -2l3.5 2l2.5 7l-5 6.5zM218.5 83l-5 -1l-1 -1.5l-0.5 -6l2.5 -3l5 0l4 4l0 3l-5 4.5zM177.5 86l-3 -0.5l-0.5 -2l4 -5l-0.5 -4.5l1.5 2.5l-1.5 9.5zM199.5 92l-2 -2l1 -2.5l2 2l-1 2.5zM293.5 96.5l-1.5 -1l0.5 -0.5l2 0.5l-1 1zM363.5 101.5l-2 0l-0.5 -2l5.5 -4.5l-0.5 3.5l-2.5 3zM490.5 133l-7 -1l-3 -1.5l-3.5 -7l2.5 -4.5l5 -2.5l6 -0.5l0 17zM373.5 126.5l-1 0l-1 -3l1 -4l2 0.5l2 3.5l-3 3zM134.5 126.5l-7 0.5l-1.5 -1.5l4.5 0.5l4 -3.5l3 0l0.5 3l-3.5 1zM364.5 144l-4.5 -1.5l-0.5 -2l2 -2l4 0.5l0.5 2.5l-1.5 2.5zM482.5 171.5l-1.5 -2l1 -7l-4 -7l0 -10l1.5 -2.5l6 -3l5 -0.5l0 28.5l-4 0.5l-4 3zM366.5 161.5l-4 0l-2.5 -2l-2 -7l0.5 -1l2 3l3.5 0l0.5 -7l4.5 -4l4.5 0l2.5 2l0 2l-4.5 2l-1 3.5l2 3.5l2 -2.5l1 0.5l0 3l-1 1l-2 -2l-3 4l-3 1zM142.5 148.5l-2.5 -1l0.5 -2l3 1l-1 2zM419.5 162.5l-3 0.5l-1 -1.5l0 -10l1 -1.5l1.5 0.5l1 3l5 2l-1 4l-3.5 3zM130.5 171.5l-4 -0.5l-3 -3.5l0 -4.5l2 -3l6 0l2.5 1.5l1 5l-4.5 5zM490.5 177l-3.5 -0.5l3.5 -0.5l0 1zM366.5 210.5l-1.5 -1l-1 -4l-5.5 -1l-3 -2l-3.5 -8l5.5 -7l5 -2l4 -4l4 4.5l8 3l1.5 1.5l-3.5 9l-5.5 2l0 6l-4.5 3zM407.5 201l-2 -0.5l-5.5 -5l-1.5 -6l8 -2l5 3l12 -0.5l4.5 2.5l-1 2l-7.5 5l-4 1l-5 -3l-3 3.5zM490.5 193.5l-4 -0.5l-0.5 -2.5l4.5 -1l0 4zM441.5 197l-5 0l-2.5 -2.5l2.5 -1.5l4 0.5l1.5 2l-0.5 1.5zM483.5 203.5l-2 0l0 -2l2 -0.5l0 2.5zM420.5 210l-5.5 -3.5l0 -2l4.5 1l1.5 3l-0.5 1.5zM490.5 256.5l-6 -0.5l-12 -9.5l5.5 -8l-0.5 -16l1.5 -5l3.5 -3l-1 -3l1 -1l2 2l6 0l0 44zM138.5 235l-5 0l-8 -3.5l-9 -2l-1.5 -2l6.5 -4l4 -4.5l8 -0.5l10.5 10l-0.5 2l-5 4.5zM421.5 232.5l-1 -2.5l1.5 1.5l-0.5 1zM125.5 251l-3 -0.5l-2.5 -4l0.5 -1l1 0.5l1.5 -0.5l1.5 -7l14 1l2.5 10l-15.5 1.5zM148.5 242l-1.5 -0.5l0.5 -1.5l1 2zM367.5 279.5l-2 1l-1.5 -3l2.5 -3l3.5 2l-2.5 3zM110.5 326l-5 0l0 -23l8 0l4 -2.5l7 -1.5l10 5.5l3 6l-3.5 8l-10.5 4.5l-9 0.5l-4 2.5zM244.5 327.5l-3 0l-3 -8.5l-5 -4.5l4 -4l2 -5l7 -5.5l8 3.5l2 3l1 5.5l4 1l1 1.5l-3 4.5l-6 0l-1 4.5l-8 4zM471.5 318l-5 -1.5l-2.5 -3l1.5 -4l5 -4l8 2l2.5 -1l0.5 -3.5l9 1l0 10.5l-12 -0.5l-7 4zM209.5 323.5l-3 0l-0.5 -1l2.5 -2l-3.5 -2l-3.5 1l-2 4.5l-2 0l-2 -2.5l0 -4.5l4 -4.5l7 -0.5l0 -3.5l-3 -2l1 -0.5l6.5 1.5l2.5 4l-0.5 5l-4.5 4l2 2l-1 1zM194.5 314l-3 0l-1.5 -1.5l0.5 -3l2 -2l2 0.5l1.5 2.5l-1.5 3.5zM149.5 314.5l-2.5 0l0 -1l3.5 -4l2 -0.5l1 2.5l-4 3zM329.5 317.5l-2 0l-1 -2l0.5 -2l2.5 -1.5l3 2.5l-3 3zM176.5 324l-3 -0.5l-2 -3l2 -1l5 1l-2 3.5zM490.5 357.5l-16 0.5l-1.5 -2.5l1 -5l6.5 -6.5l10 -1.5l0 15zM245.5 376l-3.5 -2.5l-0.5 -8l1 -6l-3 -5l1.5 -7l1.5 -1.5l5 2l5.5 6.5l-3.5 4l3 5l-1 4l-6 8.5zM130.5 366l-3.5 -0.5l2.5 -6l-1 -2l-11 0.5l-2.5 -1.5l0 -2l8.5 -3.5l11 2.5l2.5 4l-6.5 8.5zM108.5 358.5l-3 0l0 -1l3 0l0 1zM210.5 371.5l-3.5 0l-1.5 -4.5l-3 -1l0 -2l12 -0.5l0 4l-4 4zM261.5 369l-4 -1.5l-1 -4.5l2 0l3 3.5l0 2.5zM109.5 371.5l-4 0.5l0 -7l7.5 0.5l0.5 2l-4 4zM284.5 370l-2.5 -1.5l1.5 0l1 1.5zM248.5 390l-2 0l-1.5 -2.5l1.5 -5.5l2.5 2.5l-0.5 5.5zM483.5 392.5l-3 1l-2 -1l-1 -2l1 -3l7 -4.5l5 -0.5l0 9.5l-7 0.5zM128.5 395.5l-8.5 -4l0 -3l2.5 -3l7 0.5l5.5 2.5l0 2l-6.5 5zM490.5 401l-4 0l-1 -1.5l5 -1l0 2.5zM365.5 438.5l-9.5 0l-1 -8l0.5 -1.5l3 0l1 -2.5l-2 -8l4 -5l4 -1.5l3 2.5l1.5 4l-4 7l0.5 13l-1 0zM307.5 438.5l-43 0l0 -6l-2 -2l1 -1l3 1l3 -3.5l5 -1.5l16 0.5l8 -5.5l9.5 12l0.5 6l-1 0zM409.5 438.5l-15 0l1.5 -10l6.5 -6.5l5 -1l2.5 1.5l-0.5 16zM184.5 438.5l-16.5 0l0.5 -6l2.5 -5l4.5 -2.5l7 3.5l2.5 6l-0.5 4zM219.5 438.5l-28 0l0 -3l5 -9l11 -0.5l8 4.5l8 -1l-3 5l-1 4zM443.5 438.5l-9 0l0.5 -5l2.5 -5l4 -3l3 1l1 2l-2 10zM115.5 438.5l-10 0l0 -9.5l14 1l0 1l-3 1.5l0 6l-1 0zM255.5 431.5l-2.5 0l0.5 -2l2 0l0 2zM452.5 438.5l-2 0l1 -5l1.5 1l-0.5 4zM244.5 438.5l-3 0l1 -4.5l2 0l1 1.5l-1 3zM228.5 438.5l0 -3.5l0 3.5z" fill="#00bfff" fill-rule="evenodd"/>
<path d="M362.5 84.5l-6 -3l-3.5 -7l0.5 -8l2.5 -5l0 -8l20 0l0.5 4l-2.5 4l-0.5 11l-4 8.5l-7 3.5zM420.5 59l-2.5 -0.5l0.5 -5l3.5 0l0 4l-1.5 1.5zM490.5 63l-7 -1l-1.5 -8.5l8.5 0l0 9.5zM281.5 89.5l-3 -1l-2.5 -4l-4 -3l-1 -3l0.5 -4l4 -3l4 -7l2 2l5 17l-0.5 3l-4.5 3zM406.5 72.5l-1.5 -4l1 -3l1.5 -0.5l1.5 3.5l-2.5 4zM441.5 80.5l-2 -2l-1 -5l1 -3l2 -1.5l2.5 1.5l2 5l-0.5 2l-4 3zM216.5 82l-3 -1l-1 -4.5l1 -3l4 -1l3 1l2 3l-6 5.5zM298.5 86l-5 0l-1.5 -3.5l1 -8l6.5 -2l1 1.5l0 7.5l-2 4.5zM408.5 81.5l-2 -1l0 -3l2 1.5l0 2.5zM415.5 79.5l-2.5 0l2.5 -2l1 1l-1 1zM176.5 84l0 -1l0 1zM490.5 131l-7 -0.5l-3 -2l-2.5 -5l1.5 -3.5l5 -3l6 0l0 14zM374.5 124l-1.5 -0.5l0.5 -2l1 2.5zM135.5 124.5l0 -0.5l0 0.5zM362.5 142.5l-1 -2l2 -0.5l0.5 1.5l-1.5 1zM485.5 167l-2 -0.5l0.5 -4l-5.5 -6.5l0 -10.5l3 -2.5l9 -1.5l0 22l-3.5 0l-1.5 3.5zM365.5 160.5l-4 -1l-1 -2l5.5 -3l-0.5 -6l4 -4l4 -0.5l1.5 2.5l-5 3l-1 9l-3.5 2zM420.5 160.5l-3 1l0 -4l1 -1.5l4 0.5l-2 4zM129.5 170.5l-3 -1l-2 -3l0 -3l2 -2.5l5 0l2 1.5l0 2.5l-4 5.5zM368.5 207.5l-1 0.5l-4 -3.5l-6 -2l-4.5 -8l5.5 -7l8 -4l4 3.5l7 2.5l1 2l-2 6l-6 3.5l-2 6.5zM416.5 198.5l-6 -2.5l-3 2.5l-2 -0.5l-5 -3.5l-0.5 -4l5.5 -2l6 3.5l6 -1.5l8 1l0.5 2l-1.5 1l-8 4zM490.5 255l-5 -0.5l-5 -2.5l-6 -6.5l4.5 -7l-0.5 -16l2 -4l5 -3.5l5 0l0 40zM137.5 234.5l-19 -5l-2 -2l7 -4l3 -4l6 0l9.5 9l-4.5 6zM134.5 248.5l-9 0l-1 -2l1 -4l3 -2l9 0l0.5 6l-3.5 2zM367.5 278l-2 -0.5l1 -1.5l2 0.5l-1 1.5zM110.5 324l-5 0l0 -20l8 0l5 -2.5l8 -0.5l8 4.5l2 5l-3.5 7l-9.5 4.5l-10 0l-3 2zM244.5 326.5l-3 -1l-2.5 -7l-3.5 -4l4 -8l7 -5.5l7 3.5l3.5 8l3 3l-1.5 2l-5.5 1l-2.5 5l-6 3zM471.5 316.5l-5 -1l-1.5 -3l1.5 -3l4 -3l9 2.5l5 -3l6 -0.5l0 8l-12 -1l-7 4zM193.5 312l-1.5 -0.5l0.5 -2l2 1l-1 1.5zM198.5 323l-2.5 -1.5l0.5 -4l4 -4l6 0.5l3 -5.5l2 1l1 3l-1 3.5l-10 2l-3 5zM328.5 316.5l-0.5 -2l1.5 -1l1 1l-2 2zM175.5 322.5l-2 -1l2.5 0l-0.5 1zM490.5 357l-14 0l-1.5 -2.5l0.5 -4l6 -6l9 -1l0 13.5zM245.5 374l-2.5 -1.5l-0.5 -8l1.5 -5l-3.5 -6l1 -4.5l2 -1.5l3 1l4 6l-2.5 4l2 4l0.5 3l-5 8.5zM121.5 356.5l-4 0l-0.5 -2l3.5 -1.5l3.5 0.5l0 2l-2.5 1zM133.5 357l-3 -0.5l-1 -2l3 0l1 2.5zM130.5 364.5l-1 -2l2 -1.5l0.5 1.5l-1.5 2zM209.5 370.5l-1.5 -1l0.5 -4l5 0l-1 3l-3 2zM109.5 370l-4 0l0 -3.5l5.5 0l0 2l-1.5 1.5zM482.5 391.5l-3 -0.5l0.5 -3.5l5.5 -3.5l5 -0.5l0 8l-8 0zM129.5 393.5l-2 0.5l-4 -1.5l-2 -2l0 -2l3 -2l6.5 1l1.5 2l-3 4zM364.5 438.5l-7 0l0 -5l3.5 -6l-2.5 -8l3 -5l3 -1.5l3 1.5l1 4l-4 8l1 12l-1 0zM306.5 438.5l-39.5 0l0 -5l3.5 -5l4 -2l16 0.5l7 -4.5l5.5 5l3 5l0.5 6zM408.5 438.5l-13 0l1 -9l7 -6l4 0l1.5 1l-0.5 14zM182.5 438.5l-13.5 0l0 -6l3 -5l3.5 -1.5l6 3.5l1.5 5l-0.5 4zM214.5 438.5l-21 0l2 -10l2 -2l10 0l7 5.5l4 -0.5l0.5 2l-3.5 1.5l-1 3.5zM442.5 438.5l-7 0l1 -6l2.5 -4l2.5 -1.5l2 2.5l0 9l-1 0zM114.5 438.5l-9 0l0 -8.5l8.5 1.5l0.5 7z" fill="#0095ff" fill-rule="evenodd"/>
<path d="M363.5 82.5l-2 0.5l-3.5 -1.5l-3.5 -6l0 -8l2.5 -4l-0.5 -10l17.5 0l-1 18l-4.5 9l-5 2zM490.5 61.5l-6.5 -1l-0.5 -7l7 0l0 8zM281.5 88l-2 -0.5l-7 -9l0 -3l4 -4l3 -5.5l1.5 1.5l2.5 11.5l2.5 4.5l-0.5 2l-4 2.5zM442.5 79l-2 -0.5l-1 -3l0.5 -3l1.5 -1.5l2 1l1.5 3.5l-2.5 3.5zM215.5 80.5l-2 -2l1 -4l2 -1l3 0.5l1.5 2.5l-5.5 4zM295.5 84.5l-2 -1l0.5 -7l1.5 -2.5l3 0l1 1.5l0 6l-4 3zM490.5 130l-6 -0.5l-3 -1.5l-2.5 -3.5l0.5 -3l5 -3.5l6 0l0 12zM490.5 161l-6 0l-5 -4.5l-0.5 -10l2.5 -3l9 -0.5l0 18zM372.5 147l-2 0l-0.5 -1.5l2.5 -1l1 1l-1 1.5zM367.5 150.5l0 -1.5l1 0.5l-1 1zM365.5 158.5l-1.5 0l2.5 -1l-1 1zM420.5 158.5l-1 0.5l0 -1.5l1 0l0 1zM128.5 169l-2.5 -1.5l-0.5 -4l2 -1.5l4 0l1 2.5l-4 4.5zM367.5 205l-9 -3.5l-4.5 -7l4.5 -6l8 -3.5l10 5l1 2.5l-1 3.5l-6 3.5l-3 5.5zM406.5 196.5l-5 -2l-1 -2l1 -2l4 -1l3 2l1 3l-3 2zM418.5 197l-4 -0.5l-2 -3l4 -2l7 1l-1 2l-4 2.5zM490.5 254l-5 -0.5l-4 -2l-4.5 -6l2.5 -8l0 -15l6 -6l5 0l0 37.5zM137.5 233.5l-16 -4l-3.5 -2l5.5 -3l4 -4l4 0l8.5 8l-2.5 5zM132.5 247.5l-6 0l-0.5 -4l2.5 -1.5l7 -0.5l1 1l-0.5 3l-3.5 2zM120.5 321.5l-15 0.5l0 -17.5l10 0.5l4 -2.5l7 -0.5l7 4l1.5 4.5l-2.5 6l-12 5zM245.5 325.5l-3.5 -1l-5 -10l3.5 -8l6 -4.5l7 4.5l3.5 9l-4.5 2.5l-3.5 5.5l-3.5 2zM490.5 312.5l-6 -0.5l-2 -1.5l3 -3.5l5 0l0 5.5zM470.5 315.5l-3.5 -1l-0.5 -3l6 -4l4 4l-6 4zM209.5 314.5l1 -2.5l-1 2.5zM202.5 316l-1.5 -0.5l1.5 0.5zM198.5 321l-1 0.5l-1 -2l2 -1.5l0 3zM490.5 356l-12 -0.5l-1.5 -2l0.5 -3l4 -5l9 -1l0 11.5zM245.5 357.5l-4 -4l2 -5l3 1l2 4l-0.5 2l-2.5 2zM245.5 371.5l-1.5 -1l-0.5 -6l1 -3.5l2 -0.5l2.5 4l-1 4l-2.5 3zM210.5 368.5l-1 0l1 -1.5l0 1.5zM490.5 390.5l-6 0l-2.5 -1l0 -1l3.5 -3l5 -0.5l0 5.5zM128.5 392.5l-4.5 -1l-0.5 -3l3 -1l4 1l0.5 2l-2.5 2zM363.5 424.5l-2 -1l-2 -4l2.5 -4l2.5 -1.5l2.5 1.5l0.5 3l-4 6zM305.5 438.5l-37 0l0 -5l6 -6l15 0l8 -2.5l6 4.5l2 4l0 5zM407.5 438.5l-11 0l1 -9l6 -4.5l3 0.5l1.5 2l-0.5 11zM181.5 438.5l-11.5 0l0 -6l3.5 -5l3 -0.5l4 3l1.5 4.5l-0.5 4zM212.5 438.5l-17.5 0l0.5 -9l3 -2.5l10 0.5l4.5 5l-0.5 6zM364.5 438.5l-5.5 0l0 -5l3.5 -3l1.5 2l0.5 6zM441.5 438.5l-4.5 0l0.5 -5l3 -3.5l1 0l1 2.5l0 6l-1 0zM112.5 438.5l-7 0l0 -7l7 0.5l1 3.5l0 3l-1 0z" fill="#006aff" fill-rule="evenodd"/>
<path d="M361.5 81.5l-3.5 -1l-2 -6l0 -5l2.5 -4l-1 -12l14 0l1 17l-4.5 9l-6.5 2zM490.5 59.5l-5 -0.5l0 -2.5l5 0.5l0 2.5zM284.5 85.5l-4 0.5l-6.5 -7.5l0 -2l5.5 -8l2 3l1.5 9l2 3l-0.5 2zM441.5 77.5l-1 -2l1 -2.5l2 2.5l-2 2zM215.5 78.5l0 -3l3 -0.5l0 1.5l-3 2zM297.5 81l-1 0.5l-1 -4l0.5 -2l1.5 -0.5l1.5 2.5l-1.5 3.5zM490.5 129l-8 -1.5l-2.5 -3l0.5 -3l4 -2.5l6 0l0 10zM490.5 159l-6 0.5l-4 -3l-0.5 -10l1.5 -2.5l9 -0.5l0 15.5zM128.5 166.5l-1.5 0l-0.5 -2l2 -1.5l2 0.5l-2 3zM366.5 203.5l-7 -3l-4 -6l4 -6l7 -2l9 4l1 3l-10 10zM406.5 195l-4 -1l-0.5 -2.5l2.5 -1l2.5 1l1 2l-1.5 1.5zM418.5 195.5l-3 0l-1.5 -2l3.5 -1.5l3.5 1.5l-2.5 2zM490.5 253l-6 -1l-4.5 -3.5l0 -24l5.5 -6l5 -0.5l0 35zM137.5 232.5l-2 0.5l-3 -2l-9 -1.5l-3 -2l8 -5.5l2 0l7.5 6.5l-0.5 4zM131.5 246.5l-4 0l-0.5 -2l2.5 -1l4 1l-2 2zM245.5 324.5l-3 -1l-4 -9l2 -7l6 -4l6 4l3 7l-10 10zM123.5 320l-18 -0.5l0 -14l12 1l4 -2.5l4 0l7 2l1 2.5l-1.5 7l-8.5 4.5zM490.5 311.5l-5 0l-1 -2l1 -1l5 -0.5l0 3.5zM471.5 313.5l-3 0.5l-1 -1.5l1 -2l3 -1.5l2.5 2.5l-2.5 2zM490.5 354.5l-9.5 0l-2 -2l0.5 -3l2.5 -3l3.5 -0.5l2 4l3 0l0 4.5zM245.5 356l-3 -2.5l0.5 -3l1.5 -1l2.5 3l0 2l-1.5 1.5zM246.5 368.5l-1.5 0l-1 -3l0.5 -2l2 -1.5l1 2.5l-1 4zM127.5 391.5l-2.5 -1l1 -2l3.5 1l-2 2zM490.5 388.5l-4 0l4 -1l0 1zM363.5 422l-2.5 -2.5l1.5 -3l2 -1l1.5 3l-2.5 3.5zM406.5 438.5l-4.5 0l0 -3l-4 -2l0.5 -3.5l3 -2.5l3 -0.5l2 2l0 9.5zM180.5 438.5l-9.5 0l0 -6l2.5 -4l3 -0.5l3 2.5l1.5 5l-0.5 3zM210.5 438.5l-15 0l1 -9.5l9 -1.5l3 1l3 4l-1 6zM304.5 438.5l-34.5 0l0.5 -5l6 -5.5l24 0l3.5 4.5l0.5 6zM362.5 438.5l-2.5 0l0.5 -5l1 -1l2 1l0 5l-1 0zM110.5 438.5l-1.5 0l-0.5 -5l2 -0.5l1 2.5l0 3l-1 0zM440.5 438.5l-1 0l1 -4l0 4z" fill="#0040ff" fill-rule="evenodd"/>
<path d="M360.5 80l-2 -1l0.5 -3.5l-2 -3l0.5 -3l3 -3l-2 -13l4 0l0.5 4l1.5 0.5l2 -0.5l0 -4l1.5 0l-0.5 4l2.5 3l1 10l-3.5 7.5l-7 2zM280.5 82l-3 -1.5l-1.5 -3l3.5 -7l2 4.5l0 5.5l-1 1.5zM282.5 84.5l0 -1.5l1 0.5l-1 1zM490.5 128l-7 -1l-2.5 -2.5l0 -2l3.5 -2.5l6 0l0 8zM490.5 156.5l-6 1l-3 -1.5l-1 -1.5l1.5 -4l-0.5 -5l9 -0.5l0 11.5zM366.5 202l-5 -1.5l-5 -6l3.5 -5l6.5 -2l8 4l1 2l-6 4.5l-3 4zM404.5 193.5l-1 -1l1.5 0l-0.5 1zM490.5 252l-5 -0.5l-4 -3l1 -4l-1.5 -17l1.5 -4.5l8 1.5l0 27.5zM132.5 229.5l-6 0l-4 -2l8 -3l3 3l-1 2zM135.5 231.5l0 -1.5l1 0.5l-1 1zM123.5 318.5l-10 -0.5l-4 -2.5l-4 0.5l0 -1.5l4 0l0.5 -2l-0.5 -1.5l-4 -0.5l0 -4l13 2l5 -3.5l4 2l4 0l-1 8l-7 3.5zM246.5 323l-3 -0.5l-4 -8l2 -6.5l5 -3.5l4.5 3l3.5 6l-8 9.5zM245.5 352.5l-1 0.5l0 -1.5l1 1zM179.5 438.5l-7.5 0l0 -6l2.5 -3.5l2 0l2.5 2.5l0.5 7zM208.5 438.5l-11.5 0l0.5 -9l5 0.5l4 -1.5l1.5 1l1.5 3l-1 6zM303.5 438.5l-27 0l-1.5 -8l4.5 -1.5l17 1.5l4 -1l3 4l0 5z" fill="#0015ff" fill-rule="evenodd"/>
<path d="M366.5 77l-4 -0.5l-3.5 -4l0.5 -2l4 1l1.5 -1l-4.5 -7l0 -3.5l5 0l2.5 1.5l-0.5 12l-1 3.5zM279.5 78.5l-1.5 -2l1.5 -3.5l1 2.5l-1 3zM490.5 126l-7 -0.5l-1 -3l2 -1.5l6 1l0 4zM490.5 148.5l-4 -1l4 -1l0 2zM360.5 197l-2 -1.5l0 -2l4.5 -4l4 0l-0.5 1.5l-4 1.5l-2 4.5zM365.5 200l-1 -0.5l1 -1l0 1.5zM484.5 233l-2.5 -2.5l0.5 -5l8 0.5l0 5.5l-6 1.5zM127.5 228.5l-2.5 -1l3.5 -1.5l2 1.5l-3 1zM490.5 250.5l-4 0l-2.5 -2l1.5 -2l5 -0.5l0 4.5zM242.5 315l-1.5 -1.5l0.5 -2.5l4 -4.5l2 0l1 3l-4 1l-2 4.5zM126.5 315.5l-13 0.5l-1.5 -2.5l0 -5l3.5 0l7 4.5l1 -1.5l-1 -4l2 -0.5l4.5 4.5l0 3l-2.5 1zM251.5 314l-1 -1l1 -0.5l0 1.5zM177.5 438.5l-3.5 0l-1 -6l1.5 -2l2 0l1.5 2l-0.5 6zM283.5 438.5l-5.5 0l-0.5 -8l4 -0.5l3.5 1.5l-1.5 7zM301.5 438.5l-3.5 0l0.5 -5l2 -1.5l2 3.5l0 3l-1 0zM200.5 438.5l-2 0l1 -4l1 4z" fill="#1500ff" fill-rule="evenodd"/>
<path d="" fill="#4000ff" fill-rule="evenodd"/>
<path d="M112 56h2m5 0h3m10 0h1m4 0h1m6 0h1m4 0h5m1 0h2m4 0h1m11 0h2m2 0h2m1 0h1m2 0h1m9 0h1m1 0h1m9 0h1m3 0h1m1 0h1m1 0h2m7 0h1m18 0h2m5 0h1m5 0h1m6 0h1m4 0h3m3 0h1m1 0h1m6 0h1m6 0h2m11 0h3m3 0h7m5 0h5m1 0h7m6 0h2m8 0h2m5 0h1m19 0h1m5 0h1m5 0h1m5 0h2m7 0h1m14 0h1m1 0h3m5 0h1m3 0h1m7 0h4m3 0h2m2 0h2m2 0h1m6 0h3m3 0h3m2 0h3m3 0h1m3 0h1m-370 1h3m5 0h2m9 0h1m4 0h1m4 0h1m1 0h1m4 0h1m1 0h3m1 0h2m4 0h1m16 0h2m3 0h1m8 0h4m9 0h1m3 0h2m3 0h2m6 0h2m1 0h1m21 0h1m5 0h2m6 0h1m10 0h3m6 0h1m6 0h2m13 0h1m3 0h1m11 0h5m1 0h5m7 0h3m7 0h4m4 0h1m16 0h1m2 0h1m4 0h1m5 0h1m5 0h3m7 0h1m14 0h1m1 0h3m4 0h1m4 0h1m8 0h4m2 0h2m2 0h2m1 0h2m4 0h2m8 0h1m2 0h1m1 0h1m3 0h1m3 0h1m-368 1h2m5 0h2m8 0h1m4 0h1m3 0h2m1 0h1m4 0h5m1 0h2m4 0h1m21 0h3m6 0h2m11 0h1m3 0h3m2 0h2m7 0h3m13 0h1m7 0h1m5 0h2m1 0h1m4 0h1m9 0h2m8 0h2m5 0h2m5 0h1m1 0h1m5 0h2m1 0h2m12 0h1m1 0h1m2 0h2m1 0h1m4 0h1m5 0h1m1 0h1m5 0h4m4 0h2m7 0h1m6 0h2m1 0h1m5 0h2m3 0h2m7 0h1m7 0h1m14 0h2m7 0h1m4 0h3m3 0h5m1 0h5m5 0h1m4 0h3m8 0h2m1 0h3m3 0h1m3 0h1m-367 1h1m6 0h1m8 0h1m4 0h1m1 0h1m2 0h1m1 0h1m3 0h2m1 0h3m1 0h2m3 0h1m5 0h2m17 0h1m19 0h1m3 0h1m1 0h1m1 0h1m8 0h1m2 0h3m10 0h2m7 0h1m6 0h3m4 0h1m5 0h1m2 0h1m6 0h1m1 0h2m1 0h2m4 0h2m1 0h9m4 0h4m5 0h1m5 0h4m4 0h2m3 0h2m5 0h3m5 0h1m8 0h1m3 0h6m1 0h2m4 0h1m7 0h1m4 0h1m7 0h1m7 0h1m22 0h1m7 0h4m10 0h1m3 0h4m3 0h1m1 0h1m9 0h1m1 0h4m2 0h1m3 0h1m-375 1h1m7 0h2m5 0h2m1 0h1m3 0h2m5 0h3m1 0h4m4 0h3m3 0h2m3 0h1m4 0h1m1 0h1m17 0h3m16 0h2m3 0h1m1 0h2m7 0h5m2 0h1m2 0h1m7 0h2m6 0h2m5 0h2m6 0h1m4 0h4m6 0h3m1 0h2m1 0h2m3 0h3m8 0h1m6 0h2m4 0h2m2 0h1m2 0h5m7 0h1m1 0h2m3 0h1m1 0h1m6 0h1m7 0h1m3 0h1m5 0h2m1 0h1m4 0h1m7 0h1m4 0h2m6 0h1m5 0h3m22 0h1m21 0h1m2 0h1m3 0h1m3 0h3m9 0h1m4 0h1m2 0h1m3 0h1m-375 1h2m7 0h2m5 0h3m2 0h4m1 0h1m4 0h1m1 0h4m4 0h1m1 0h1m3 0h3m1 0h2m3 0h2m1 0h1m1 0h1m13 0h2m2 0h1m14 0h2m5 0h1m9 0h1m4 0h1m2 0h1m1 0h2m6 0h3m7 0h1m2 0h1m10 0h1m4 0h1m6 0h1m2 0h1m4 0h2m1 0h3m1 0h1m10 0h1m12 0h2m1 0h2m2 0h3m1 0h1m6 0h1m3 0h2m1 0h3m1 0h1m5 0h1m7 0h1m3 0h2m7 0h1m4 0h1m7 0h1m5 0h1m6 0h1m4 0h4m19 0h1m1 0h2m21 0h1m2 0h1m3 0h1m3 0h1m1 0h1m9 0h1m3 0h2m2 0h1m3 0h1m-374 1h1m8 0h4m2 0h4m4 0h4m1 0h1m1 0h2m7 0h1m2 0h1m3 0h1m1 0h2m4 0h7m12 0h3m2 0h1m13 0h2m6 0h4m6 0h1m4 0h1m2 0h1m18 0h1m2 0h3m2 0h1m5 0h2m4 0h1m5 0h2m1 0h1m6 0h1m3 0h2m11 0h2m11 0h2m1 0h2m2 0h4m7 0h3m1 0h2m1 0h5m4 0h2m7 0h1m4 0h2m4 0h1m1 0h1m4 0h1m7 0h1m4 0h2m6 0h1m7 0h1m18 0h3m23 0h1m2 0h3m1 0h1m3 0h3m9 0h3m2 0h1m2 0h1m3 0h2m1 0h3m-379 1h2m10 0h1m5 0h1m5 0h1m1 0h3m10 0h4m3 0h1m1 0h1m6 0h1m1 0h3m5 0h2m2 0h6m3 0h3m8 0h5m3 0h1m2 0h4m4 0h3m4 0h2m1 0h4m2 0h1m1 0h1m1 0h4m1 0h6m1 0h1m1 0h1m1 0h2m5 0h2m1 0h1m1 0h2m3 0h6m2 0h6m2 0h2m4 0h1m1 0h5m1 0h6m1 0h1m8 0h9m6 0h5m1 0h2m1 0h2m2 0h1m2 0h1m7 0h1m4 0h2m3 0h4m4 0h2m6 0h1m3 0h3m5 0h2m3 0h1m1 0h3m1 0h5m3 0h1m8 0h4m5 0h1m2 0h1m1 0h1m1 0h8m2 0h8m3 0h3m10 0h2m2 0h1m2 0h1m3 0h3m-375 1h3m8 0h2m4 0h3m2 0h3m1 0h2m11 0h1m1 0h1m2 0h4m5 0h3m2 0h1m4 0h3m1 0h1m4 0h2m5 0h1m7 0h1m7 0h2m1 0h2m1 0h1m4 0h1m8 0h1m4 0h1m1 0h7m1 0h2m2 0h1m2 0h1m1 0h2m8 0h1m2 0h3m4 0h2m6 0h2m2 0h1m1 0h1m7 0h3m4 0h2m5 0h3m7 0h2m1 0h2m1 0h1m1 0h2m5 0h2m3 0h5m3 0h2m2 0h1m5 0h2m4 0h3m4 0h1m1 0h1m5 0h1m6 0h1m5 0h1m4 0h1m1 0h1m2 0h3m3 0h2m3 0h1m2 0h2m10 0h2m4 0h2m1 0h5m7 0h2m8 0h1m5 0h1m9 0h1m4 0h1m2 0h1m2 0h2m1 0h1m-373 1h2m8 0h1m6 0h1m4 0h4m10 0h2m1 0h1m3 0h1m1 0h2m6 0h1m1 0h1m7 0h3m1 0h1m1 0h3m5 0h2m5 0h2m4 0h6m1 0h3m3 0h2m8 0h1m4 0h2m1 0h1m1 0h7m2 0h2m1 0h1m1 0h2m4 0h4m3 0h3m3 0h3m6 0h2m2 0h1m1 0h2m4 0h1m1 0h2m6 0h4m2 0h3m8 0h7m3 0h1m1 0h4m2 0h3m1 0h2m5 0h1m1 0h1m4 0h1m7 0h2m3 0h2m1 0h1m2 0h1m1 0h3m5 0h1m4 0h2m4 0h3m3 0h2m4 0h1m2 0h2m7 0h1m1 0h1m3 0h4m4 0h7m6 0h5m5 0h2m5 0h2m8 0h1m4 0h1m2 0h1m3 0h3m-372 1h2m7 0h3m4 0h1m1 0h2m2 0h3m1 0h4m6 0h1m1 0h1m3 0h4m6 0h3m6 0h1m3 0h2m3 0h1m6 0h1m4 0h1m5 0h1m5 0h3m4 0h1m10 0h1m5 0h6m3 0h2m3 0h1m1 0h1m1 0h2m3 0h1m7 0h1m1 0h1m2 0h1m8 0h1m4 0h1m2 0h1m3 0h3m11 0h1m1 0h2m1 0h1m7 0h1m1 0h6m2 0h3m1 0h4m1 0h6m4 0h2m1 0h1m4 0h1m6 0h4m3 0h1m1 0h1m1 0h2m3 0h1m5 0h1m5 0h1m3 0h1m5 0h3m3 0h1m4 0h1m6 0h4m6 0h1m3 0h2m5 0h1m10 0h1m5 0h2m6 0h1m8 0h1m3 0h2m1 0h2m3 0h3m-377 1h1m5 0h1m9 0h1m1 0h1m2 0h2m1 0h1m4 0h2m2 0h2m3 0h1m1 0h1m1 0h2m3 0h1m11 0h1m5 0h1m4 0h2m3 0h1m5 0h1m5 0h1m5 0h1m6 0h2m4 0h1m10 0h1m4 0h1m5 0h1m2 0h3m2 0h1m2 0h1m2 0h1m3 0h1m7 0h3m2 0h1m8 0h1m4 0h1m1 0h2m3 0h3m11 0h2m1 0h1m1 0h3m5 0h2m2 0h4m2 0h5m1 0h3m4 0h4m5 0h1m4 0h2m8 0h1m2 0h4m5 0h1m6 0h1m4 0h1m4 0h1m5 0h1m5 0h1m4 0h1m16 0h1m4 0h1m4 0h2m10 0h1m4 0h1m7 0h2m8 0h2m3 0h1m2 0h1m-371 1h1m5 0h1m9 0h4m4 0h1m4 0h2m1 0h4m1 0h3m3 0h1m3 0h2m9 0h2m4 0h1m5 0h3m2 0h1m5 0h1m5 0h1m5 0h2m10 0h1m11 0h1m4 0h1m5 0h3m1 0h2m2 0h1m2 0h1m1 0h2m3 0h1m7 0h3m2 0h1m1 0h1m6 0h1m4 0h1m2 0h1m3 0h1m16 0h1m3 0h2m8 0h4m4 0h1m1 0h5m3 0h2m2 0h2m4 0h1m5 0h1m8 0h2m1 0h2m1 0h1m4 0h1m7 0h1m4 0h1m4 0h1m5 0h1m5 0h2m2 0h2m13 0h1m1 0h1m4 0h3m8 0h1m6 0h1m3 0h1m9 0h1m9 0h2m2 0h1m2 0h1m-371 1h2m4 0h3m10 0h1m4 0h1m10 0h2m5 0h1m2 0h2m1 0h1m13 0h2m3 0h1m1 0h1m2 0h1m2 0h3m3 0h2m4 0h1m6 0h1m7 0h3m12 0h1m4 0h1m7 0h2m1 0h1m2 0h1m2 0h1m5 0h2m9 0h1m2 0h3m6 0h1m4 0h1m1 0h2m2 0h2m16 0h3m2 0h3m6 0h4m4 0h2m13 0h1m4 0h1m5 0h1m9 0h5m5 0h1m6 0h1m4 0h1m5 0h1m3 0h2m7 0h1m1 0h1m14 0h2m1 0h1m6 0h2m6 0h3m5 0h1m2 0h2m9 0h1m10 0h1m2 0h1m2 0h1m-370 1h2m5 0h3m8 0h2m3 0h1m10 0h2m5 0h1m1 0h3m1 0h1m7 0h1m4 0h3m1 0h5m2 0h2m3 0h1m4 0h1m3 0h1m7 0h1m4 0h3m15 0h1m4 0h1m7 0h2m1 0h1m2 0h1m2 0h1m4 0h3m8 0h2m3 0h1m7 0h1m4 0h2m1 0h3m20 0h1m4 0h2m5 0h2m6 0h2m13 0h1m4 0h1m5 0h2m3 0h1m1 0h1m3 0h5m4 0h1m6 0h1m2 0h2m4 0h1m1 0h1m2 0h3m7 0h3m14 0h2m1 0h1m5 0h1m1 0h1m6 0h1m1 0h3m3 0h1m1 0h3m6 0h1m2 0h1m10 0h1m2 0h1m2 0h2m-370 1h3m5 0h1m9 0h2m2 0h1m1 0h1m8 0h2m5 0h1m5 0h1m6 0h2m1 0h2m1 0h1m2 0h1m8 0h1m3 0h1m1 0h1m2 0h2m2 0h1m3 0h1m3 0h1m3 0h1m7 0h5m6 0h2m3 0h2m1 0h2m2 0h1m1 0h3m2 0h1m2 0h1m4 0h1m4 0h1m4 0h3m2 0h1m5 0h1m1 0h1m3 0h1m2 0h1m6 0h1m7 0h2m2 0h1m5 0h1m5 0h1m5 0h2m6 0h2m4 0h1m7 0h2m4 0h1m6 0h1m2 0h4m1 0h2m1 0h2m1 0h1m4 0h1m6 0h4m4 0h3m3 0h2m8 0h1m1 0h1m17 0h1m4 0h3m6 0h1m4 0h2m2 0h1m3 0h1m5 0h2m2 0h3m2 0h1m1 0h1m3 0h1m2 0h1m3 0h1m-368 1h3m3 0h3m8 0h1m2 0h3m7 0h1m1 0h2m4 0h2m4 0h1m3 0h2m1 0h3m1 0h2m3 0h1m6 0h1m1 0h3m1 0h3m3 0h3m3 0h5m3 0h1m6 0h2m4 0h3m5 0h1m4 0h2m1 0h3m3 0h2m2 0h1m2 0h2m2 0h1m3 0h8m3 0h1m4 0h4m3 0h3m1 0h1m5 0h2m2 0h5m1 0h5m4 0h2m4 0h1m2 0h1m2 0h2m1 0h1m4 0h8m1 0h1m1 0h3m6 0h1m4 0h2m3 0h5m3 0h2m1 0h1m4 0h1m1 0h1m5 0h1m1 0h2m2 0h4m4 0h1m7 0h1m1 0h3m16 0h2m3 0h1m7 0h1m6 0h2m1 0h3m1 0h3m2 0h3m1 0h1m2 0h1m1 0h7m3 0h1m3 0h1m-367 1h2m5 0h1m8 0h3m2 0h4m1 0h1m2 0h4m5 0h1m3 0h1m3 0h8m1 0h1m2 0h2m5 0h2m2 0h2m2 0h2m3 0h4m1 0h5m4 0h1m1 0h2m2 0h3m6 0h1m5 0h1m9 0h1m3 0h2m1 0h2m3 0h1m1 0h1m3 0h8m4 0h1m3 0h3m5 0h3m1 0h1m5 0h2m1 0h4m5 0h3m5 0h1m4 0h1m1 0h2m2 0h4m4 0h1m1 0h11m6 0h2m3 0h3m3 0h6m2 0h2m1 0h1m3 0h4m4 0h1m2 0h2m1 0h7m2 0h5m2 0h6m14 0h1m1 0h2m3 0h4m1 0h1m2 0h2m6 0h1m2 0h2m2 0h2m1 0h6m2 0h1m1 0h6m4 0h1m2 0h6m1 0h3m-376 1h3m4 0h2m10 0h2m4 0h3m10 0h2m3 0h1m1 0h1m2 0h1m3 0h1m1 0h3m3 0h1m8 0h1m3 0h1m1 0h1m2 0h3m1 0h1m3 0h3m4 0h4m4 0h1m6 0h2m3 0h1m9 0h2m2 0h5m3 0h2m1 0h1m9 0h2m4 0h1m4 0h2m4 0h1m1 0h2m1 0h2m9 0h2m4 0h1m7 0h1m4 0h2m6 0h1m6 0h2m9 0h2m7 0h1m5 0h2m7 0h1m1 0h4m3 0h1m8 0h1m1 0h3m4 0h1m2 0h1m1 0h1m4 0h1m21 0h3m8 0h3m3 0h1m5 0h2m1 0h3m1 0h2m10 0h2m3 0h1m1 0h1m4 0h1m4 0h1m2 0h2m-371 1h3m3 0h3m9 0h1m4 0h3m11 0h4m1 0h6m1 0h3m6 0h1m8 0h1m3 0h3m4 0h2m3 0h1m5 0h3m6 0h1m8 0h2m2 0h2m8 0h2m3 0h2m1 0h2m3 0h3m2 0h3m3 0h1m3 0h1m1 0h2m3 0h1m5 0h3m1 0h1m2 0h1m8 0h1m6 0h2m6 0h1m5 0h1m5 0h2m1 0h1m4 0h3m3 0h1m2 0h2m5 0h1m3 0h1m5 0h2m6 0h1m3 0h3m3 0h1m8 0h1m3 0h2m2 0h2m1 0h4m4 0h1m4 0h3m9 0h1m4 0h3m6 0h2m5 0h1m7 0h3m1 0h2m1 0h2m6 0h1m3 0h1m2 0h3m3 0h1m1 0h1m3 0h2m2 0h2m-369 1h1m5 0h2m8 0h2m5 0h3m14 0h1m2 0h1m1 0h1m1 0h3m6 0h1m8 0h1m3 0h3m8 0h2m4 0h1m9 0h1m9 0h1m3 0h1m13 0h2m2 0h1m7 0h1m1 0h2m1 0h2m3 0h3m5 0h1m5 0h2m2 0h1m2 0h2m7 0h1m7 0h1m6 0h1m5 0h1m5 0h4m4 0h1m1 0h1m2 0h2m1 0h3m4 0h2m3 0h1m4 0h3m6 0h2m2 0h3m2 0h2m8 0h1m4 0h1m2 0h2m2 0h1m6 0h2m2 0h2m1 0h1m5 0h1m2 0h2m4 0h3m5 0h2m6 0h1m7 0h3m2 0h1m2 0h1m4 0h3m3 0h1m2 0h4m1 0h2m1 0h1m1 0h1m-365 1h1m2 0h4m3 0h3m7 0h2m6 0h1m12 0h3m1 0h4m1 0h3m6 0h1m6 0h1m1 0h1m3 0h4m5 0h4m3 0h1m10 0h1m9 0h1m2 0h2m13 0h2m2 0h1m2 0h1m3 0h8m3 0h3m5 0h1m6 0h1m2 0h3m1 0h1m4 0h1m1 0h1m7 0h3m5 0h1m4 0h2m4 0h7m1 0h4m2 0h1m4 0h1m7 0h2m7 0h1m3 0h1m1 0h1m1 0h1m2 0h3m1 0h3m8 0h1m3 0h2m5 0h2m7 0h1m3 0h1m1 0h3m2 0h6m4 0h1m8 0h1m6 0h1m6 0h1m5 0h2m1 0h2m2 0h2m1 0h2m2 0h3m3 0h1m4 0h4m-367 1h2m5 0h1m5 0h1m8 0h2m1 0h1m2 0h3m4 0h3m3 0h2m4 0h1m1 0h1m1 0h3m1 0h1m4 0h1m5 0h2m1 0h2m3 0h3m4 0h1m6 0h2m9 0h2m6 0h1m1 0h2m3 0h1m5 0h1m1 0h1m3 0h1m1 0h5m1 0h2m2 0h3m4 0h3m2 0h1m1 0h1m1 0h1m2 0h2m5 0h3m1 0h3m1 0h1m3 0h4m8 0h2m5 0h1m5 0h1m3 0h5m1 0h5m1 0h1m1 0h2m4 0h5m2 0h3m7 0h2m1 0h8m1 0h2m1 0h3m5 0h4m3 0h2m6 0h1m1 0h1m4 0h2m1 0h3m3 0h1m1 0h1m3 0h3m4 0h1m7 0h1m1 0h1m5 0h2m5 0h1m6 0h1m2 0h1m2 0h3m1 0h1m4 0h1m3 0h2m3 0h2m1 0h1m6 0h3m-376 1h2m4 0h1m6 0h2m8 0h3m4 0h2m2 0h1m2 0h2m3 0h1m3 0h4m1 0h6m3 0h1m9 0h2m1 0h2m6 0h1m6 0h2m10 0h1m5 0h3m4 0h1m5 0h4m2 0h3m11 0h2m3 0h2m1 0h1m2 0h5m3 0h1m7 0h2m4 0h1m6 0h2m6 0h1m7 0h1m5 0h1m5 0h4m2 0h4m12 0h2m3 0h2m7 0h2m12 0h1m6 0h1m5 0h2m8 0h3m5 0h3m1 0h1m2 0h2m1 0h2m1 0h1m1 0h2m3 0h2m7 0h3m6 0h2m3 0h1m6 0h2m1 0h1m3 0h5m3 0h2m4 0h2m1 0h1m3 0h2m2 0h1m1 0h1m-377 1h4m1 0h2m1 0h1m1 0h7m1 0h3m8 0h1m5 0h1m2 0h5m3 0h1m6 0h5m1 0h2m3 0h1m1 0h3m1 0h2m3 0h2m1 0h2m1 0h1m1 0h3m3 0h3m12 0h1m5 0h2m5 0h2m3 0h5m2 0h4m1 0h1m1 0h1m2 0h1m1 0h2m4 0h4m6 0h2m3 0h1m8 0h4m1 0h3m2 0h1m1 0h2m6 0h4m4 0h1m1 0h1m3 0h1m2 0h1m2 0h4m2 0h9m4 0h1m1 0h1m1 0h1m4 0h1m8 0h1m11 0h1m2 0h1m3 0h2m4 0h1m11 0h1m6 0h3m1 0h1m1 0h3m2 0h2m6 0h1m1 0h1m7 0h3m6 0h2m2 0h2m5 0h3m1 0h7m1 0h3m2 0h3m3 0h3m4 0h1m1 0h2m1 0h2m-372 1h3m7 0h1m3 0h2m7 0h3m3 0h8m2 0h4m14 0h1m1 0h2m1 0h4m4 0h1m2 0h7m2 0h2m14 0h8m6 0h1m4 0h4m3 0h7m1 0h5m6 0h6m1 0h2m3 0h4m1 0h1m3 0h5m3 0h1m1 0h4m8 0h3m4 0h3m3 0h1m1 0h2m2 0h4m2 0h9m3 0h4m1 0h2m3 0h4m4 0h3m8 0h1m1 0h1m1 0h2m3 0h2m4 0h1m4 0h2m4 0h1m1 0h1m4 0h1m3 0h6m1 0h3m1 0h9m6 0h4m1 0h1m2 0h7m4 0h2m4 0h4m1 0h1m1 0h3m4 0h1m2 0h2m1 0h2m3 0h5m1 0h1m-373 1h2m1 0h2m5 0h3m3 0h2m8 0h1m4 0h1m3 0h3m5 0h1m7 0h1m5 0h2m2 0h4m1 0h1m3 0h3m1 0h3m2 0h2m2 0h2m6 0h1m9 0h1m2 0h1m7 0h2m3 0h2m1 0h2m2 0h4m1 0h2m6 0h1m5 0h2m4 0h1m2 0h1m5 0h4m6 0h3m2 0h1m2 0h1m1 0h1m7 0h3m5 0h1m1 0h1m3 0h4m3 0h1m6 0h7m4 0h1m1 0h1m2 0h1m4 0h3m6 0h1m7 0h3m3 0h1m2 0h2m4 0h1m4 0h3m4 0h3m3 0h2m4 0h3m1 0h2m3 0h1m7 0h2m8 0h4m5 0h2m5 0h3m3 0h2m1 0h6m1 0h1m3 0h2m3 0h2m1 0h1m7 0h3m1 0h1m-374 1h2m1 0h2m6 0h1m4 0h2m7 0h6m2 0h3m5 0h2m6 0h2m4 0h1m1 0h1m1 0h1m2 0h4m5 0h1m3 0h1m1 0h3m1 0h2m6 0h2m8 0h2m1 0h2m6 0h1m1 0h1m4 0h6m1 0h1m1 0h2m1 0h1m6 0h1m6 0h1m3 0h2m1 0h2m4 0h5m5 0h4m2 0h1m1 0h4m8 0h2m5 0h3m4 0h3m2 0h2m5 0h2m1 0h5m3 0h4m1 0h1m4 0h5m5 0h5m2 0h4m2 0h2m3 0h1m4 0h1m3 0h3m4 0h2m1 0h1m2 0h3m3 0h7m2 0h1m2 0h6m1 0h6m2 0h5m4 0h3m6 0h1m4 0h3m1 0h1m1 0h1m1 0h3m4 0h1m3 0h2m1 0h1m1 0h1m4 0h2m1 0h3m-373 1h4m6 0h1m5 0h1m10 0h1m6 0h2m5 0h4m9 0h3m1 0h3m8 0h2m2 0h2m3 0h1m2 0h2m10 0h1m3 0h1m10 0h3m2 0h3m1 0h2m2 0h4m1 0h2m7 0h1m5 0h2m4 0h1m2 0h2m7 0h4m8 0h1m4 0h3m2 0h1m1 0h2m6 0h2m5 0h1m5 0h1m1 0h5m1 0h2m8 0h2m3 0h6m3 0h5m1 0h1m3 0h3m10 0h1m2 0h3m2 0h2m2 0h3m3 0h3m4 0h1m12 0h1m1 0h1m5 0h2m5 0h3m4 0h3m7 0h4m2 0h1m1 0h1m2 0h6m7 0h1m6 0h5m3 0h2m-377 1h5m1 0h7m4 0h3m2 0h4m8 0h1m7 0h1m5 0h2m1 0h1m7 0h1m1 0h3m11 0h1m3 0h3m1 0h3m2 0h2m9 0h2m2 0h2m9 0h1m4 0h4m2 0h1m1 0h1m1 0h14m4 0h3m4 0h1m3 0h1m10 0h1m7 0h2m6 0h1m1 0h3m1 0h1m1 0h1m3 0h3m1 0h1m3 0h4m1 0h3m1 0h1m1 0h2m2 0h2m8 0h1m1 0h4m3 0h1m4 0h1m1 0h4m15 0h1m2 0h1m4 0h2m2 0h1m1 0h2m3 0h3m3 0h2m11 0h1m1 0h1m14 0h2m5 0h2m6 0h1m5 0h6m1 0h1m1 0h4m1 0h1m4 0h3m8 0h1m-368 1h1m6 0h2m5 0h2m5 0h1m8 0h2m5 0h2m4 0h9m2 0h4m1 0h1m10 0h2m4 0h6m1 0h1m15 0h2m2 0h8m4 0h4m1 0h6m18 0h2m3 0h2m2 0h2m2 0h2m5 0h2m7 0h2m6 0h9m5 0h3m5 0h2m2 0h6m2 0h3m7 0h7m2 0h2m3 0h5m1 0h1m1 0h1m12 0h2m2 0h1m5 0h1m1 0h4m4 0h1m4 0h3m11 0h1m1 0h1m6 0h1m1 0h4m1 0h5m2 0h3m6 0h1m4 0h10m1 0h1m1 0h3m5 0h2m7 0h5m2 0h3m-377 1h4m3 0h1m6 0h4m4 0h3m7 0h3m4 0h1m5 0h3m1 0h1m2 0h1m5 0h3m9 0h3m3 0h3m1 0h3m1 0h1m2 0h1m11 0h1m1 0h1m1 0h2m10 0h1m3 0h1m2 0h1m3 0h1m17 0h3m4 0h1m3 0h1m1 0h1m1 0h1m6 0h2m5 0h1m11 0h2m9 0h1m6 0h2m2 0h3m3 0h2m2 0h1m9 0h1m4 0h3m1 0h1m7 0h5m11 0h1m3 0h1m5 0h1m5 0h1m4 0h1m6 0h1m11 0h1m1 0h1m5 0h3m3 0h1m5 0h1m4 0h2m4 0h2m3 0h1m1 0h1m3 0h1m1 0h6m2 0h1m4 0h2m10 0h1m1 0h3m-371 1h1m3 0h1m1 0h1m7 0h1m1 0h1m4 0h1m9 0h2m3 0h3m3 0h5m2 0h1m7 0h2m8 0h1m4 0h1m2 0h4m2 0h1m1 0h2m9 0h1m1 0h3m2 0h1m9 0h1m3 0h2m1 0h2m2 0h1m19 0h2m3 0h1m4 0h6m6 0h1m1 0h1m2 0h1m22 0h2m6 0h2m2 0h3m4 0h1m1 0h2m8 0h2m3 0h5m8 0h6m1 0h1m8 0h1m3 0h1m5 0h1m4 0h3m3 0h1m1 0h1m4 0h4m7 0h1m2 0h1m5 0h3m3 0h3m3 0h4m2 0h2m4 0h1m3 0h3m2 0h6m1 0h2m1 0h2m5 0h1m9 0h2m2 0h2m-375 1h1m1 0h2m4 0h3m7 0h3m4 0h1m10 0h2m4 0h3m8 0h3m6 0h3m1 0h2m2 0h2m3 0h2m1 0h1m1 0h1m1 0h2m1 0h1m1 0h2m6 0h1m1 0h4m1 0h1m1 0h1m4 0h7m10 0h2m12 0h1m3 0h2m5 0h2m1 0h3m4 0h2m1 0h1m3 0h5m20 0h5m4 0h2m3 0h1m7 0h1m1 0h2m8 0h1m1 0h1m1 0h1m4 0h2m12 0h3m7 0h2m2 0h1m4 0h3m6 0h1m1 0h1m1 0h3m7 0h8m3 0h1m4 0h1m8 0h2m5 0h3m1 0h5m4 0h1m5 0h8m8 0h1m4 0h1m-366 1h5m4 0h3m3 0h2m4 0h2m3 0h4m8 0h1m6 0h1m9 0h2m5 0h1m2 0h4m1 0h1m5 0h5m3 0h1m1 0h1m8 0h2m1 0h7m4 0h1m17 0h2m11 0h2m2 0h3m6 0h5m5 0h4m6 0h1m19 0h4m2 0h1m1 0h2m4 0h1m8 0h1m9 0h8m4 0h1m14 0h1m6 0h1m1 0h1m2 0h2m2 0h1m9 0h3m2 0h2m13 0h2m1 0h3m4 0h1m9 0h1m6 0h2m10 0h1m7 0h4m1 0h2m1 0h1m1 0h1m3 0h1m3 0h2m-363 1h2m6 0h4m1 0h1m5 0h3m1 0h1m2 0h2m7 0h2m5 0h1m5 0h6m3 0h3m1 0h1m3 0h3m5 0h2m2 0h4m2 0h1m8 0h2m7 0h1m4 0h1m2 0h2m2 0h1m9 0h1m13 0h2m2 0h1m1 0h1m1 0h6m2 0h2m5 0h4m5 0h2m6 0h1m15 0h1m1 0h3m6 0h1m5 0h1m2 0h1m8 0h1m7 0h1m2 0h2m13 0h2m5 0h1m1 0h3m3 0h2m1 0h3m7 0h1m1 0h1m1 0h3m3 0h1m1 0h1m6 0h1m1 0h5m4 0h4m5 0h1m3 0h6m3 0h3m4 0h1m3 0h5m2 0h2m1 0h6m2 0h1m3 0h2m5 0h2m2 0h1m-377 1h6m7 0h5m7 0h3m3 0h1m8 0h3m3 0h3m2 0h18m1 0h2m2 0h1m1 0h3m1 0h1m1 0h4m1 0h3m5 0h6m3 0h2m3 0h2m1 0h3m1 0h2m6 0h1m1 0h3m1 0h4m1 0h20m1 0h3m1 0h1m3 0h4m5 0h2m5 0h2m13 0h3m2 0h2m6 0h1m4 0h2m2 0h1m1 0h1m6 0h1m4 0h1m2 0h1m1 0h3m12 0h3m4 0h2m1 0h3m4 0h1m2 0h2m7 0h3m1 0h3m2 0h4m6 0h7m6 0h2m5 0h2m1 0h8m1 0h4m4 0h1m2 0h6m1 0h1m1 0h1m1 0h6m2 0h1m4 0h1m4 0h3m1 0h2m-365 1h1m3 0h2m7 0h1m5 0h2m9 0h2m4 0h1m6 0h2m7 0h1m7 0h4m2 0h4m3 0h1m3 0h1m1 0h4m5 0h1m2 0h1m4 0h1m14 0h2m3 0h2m3 0h2m1 0h1m17 0h2m2 0h3m6 0h1m24 0h1m1 0h1m4 0h1m7 0h1m3 0h1m1 0h1m3 0h3m5 0h2m3 0h2m2 0h1m3 0h1m14 0h1m6 0h1m6 0h1m2 0h1m11 0h1m3 0h1m18 0h1m5 0h3m6 0h1m4 0h1m3 0h1m9 0h1m7 0h5m1 0h1m1 0h1m4 0h1m4 0h2m5 0h1m-362 1h2m10 0h3m6 0h2m9 0h3m2 0h4m6 0h2m4 0h1m3 0h4m3 0h1m9 0h1m3 0h2m6 0h1m2 0h2m1 0h1m3 0h1m15 0h2m10 0h2m2 0h1m5 0h1m3 0h1m1 0h1m2 0h2m3 0h3m5 0h1m22 0h5m4 0h1m6 0h2m2 0h4m3 0h1m1 0h1m6 0h1m3 0h2m2 0h1m3 0h1m14 0h1m6 0h1m5 0h2m2 0h3m9 0h1m2 0h2m16 0h1m1 0h1m7 0h1m1 0h1m3 0h1m4 0h2m3 0h2m8 0h1m8 0h2m2 0h4m4 0h1m4 0h2m4 0h2m2 0h2m-365 1h1m9 0h1m1 0h2m1 0h1m5 0h3m9 0h2m4 0h1m5 0h1m1 0h1m4 0h2m1 0h1m2 0h2m2 0h2m9 0h1m10 0h2m3 0h2m4 0h1m3 0h1m2 0h1m14 0h1m1 0h1m2 0h2m2 0h2m4 0h2m1 0h5m2 0h2m2 0h1m1 0h2m3 0h1m1 0h1m21 0h2m8 0h1m7 0h1m2 0h2m5 0h3m6 0h3m1 0h1m3 0h1m3 0h1m11 0h3m3 0h1m3 0h1m4 0h3m4 0h1m9 0h1m1 0h3m2 0h1m12 0h2m1 0h1m7 0h7m4 0h4m2 0h1m8 0h1m3 0h1m1 0h1m1 0h1m1 0h1m5 0h1m4 0h1m4 0h2m4 0h4m1 0h2m-375 1h1m2 0h2m1 0h1m1 0h1m10 0h1m1 0h4m7 0h2m9 0h1m4 0h1m5 0h1m1 0h2m2 0h4m7 0h2m9 0h1m8 0h4m8 0h1m2 0h6m13 0h4m1 0h1m1 0h1m2 0h2m4 0h3m1 0h4m2 0h2m2 0h2m4 0h2m1 0h1m22 0h1m8 0h1m7 0h1m2 0h2m5 0h3m8 0h3m1 0h2m3 0h2m10 0h1m5 0h2m3 0h1m6 0h1m4 0h2m7 0h2m1 0h1m1 0h4m1 0h1m10 0h2m1 0h1m4 0h1m12 0h1m1 0h3m1 0h1m9 0h1m2 0h5m1 0h2m1 0h1m3 0h1m4 0h1m9 0h1m6 0h3m-380 1h6m1 0h4m11 0h7m1 0h1m5 0h1m9 0h2m3 0h4m2 0h4m24 0h3m5 0h1m3 0h1m7 0h2m1 0h4m2 0h3m16 0h2m9 0h4m2 0h2m2 0h2m3 0h1m1 0h1m5 0h1m11 0h2m8 0h1m9 0h1m6 0h2m8 0h2m12 0h2m4 0h3m9 0h2m5 0h2m3 0h1m6 0h2m4 0h1m6 0h1m3 0h2m1 0h1m1 0h3m10 0h2m1 0h1m2 0h6m9 0h2m1 0h3m10 0h1m1 0h1m1 0h1m1 0h11m4 0h1m4 0h1m2 0h1m1 0h1m-371 1h1m1 0h1m1 0h1m2 0h1m3 0h1m1 0h4m1 0h1m4 0h4m1 0h5m3 0h2m9 0h2m5 0h2m22 0h1m8 0h3m2 0h1m1 0h1m2 0h1m1 0h2m2 0h4m2 0h1m6 0h2m15 0h2m23 0h1m1 0h3m4 0h2m8 0h2m1 0h4m4 0h2m5 0h1m2 0h2m5 0h1m8 0h4m18 0h3m8 0h3m5 0h2m3 0h2m6 0h1m4 0h8m3 0h4m1 0h3m2 0h1m10 0h1m1 0h3m3 0h1m9 0h6m10 0h5m15 0h2m3 0h2m1 0h4m5 0h1m-377 1h13m3 0h4m12 0h1m4 0h2m9 0h1m6 0h1m1 0h1m18 0h5m1 0h4m3 0h3m1 0h2m1 0h3m1 0h3m5 0h1m8 0h1m4 0h1m2 0h1m7 0h2m11 0h8m4 0h1m1 0h1m1 0h2m4 0h5m1 0h3m6 0h5m4 0h1m1 0h11m7 0h6m9 0h1m7 0h4m9 0h2m4 0h3m4 0h1m6 0h1m20 0h3m1 0h2m4 0h1m2 0h1m2 0h1m1 0h3m2 0h2m9 0h6m10 0h1m2 0h2m5 0h6m1 0h5m3 0h3m8 0h2m-377 1h4m10 0h1m4 0h1m12 0h2m4 0h1m9 0h3m4 0h3m16 0h4m2 0h2m3 0h3m7 0h2m11 0h1m8 0h1m3 0h2m1 0h2m18 0h2m7 0h1m4 0h2m3 0h2m7 0h2m5 0h2m1 0h1m5 0h1m1 0h5m3 0h2m11 0h3m12 0h2m6 0h1m1 0h4m1 0h1m5 0h3m5 0h2m3 0h1m7 0h2m13 0h1m5 0h4m1 0h11m2 0h7m10 0h2m2 0h2m6 0h4m1 0h3m4 0h1m5 0h2m7 0h1m11 0h2m-377 1h4m9 0h2m4 0h1m2 0h1m2 0h1m7 0h1m4 0h2m10 0h2m5 0h2m1 0h1m2 0h1m9 0h3m11 0h2m17 0h3m8 0h1m4 0h1m1 0h2m1 0h1m6 0h1m8 0h1m9 0h1m4 0h2m4 0h1m13 0h1m1 0h3m4 0h3m7 0h3m6 0h1m4 0h3m12 0h2m6 0h2m3 0h3m7 0h1m1 0h1m6 0h1m1 0h1m8 0h2m11 0h2m2 0h1m25 0h2m7 0h1m7 0h2m4 0h1m2 0h4m5 0h1m14 0h1m5 0h1m-361 1h1m4 0h2m4 0h1m1 0h5m7 0h4m2 0h3m9 0h1m6 0h3m1 0h2m9 0h3m12 0h1m5 0h3m5 0h4m4 0h1m6 0h23m1 0h1m1 0h3m4 0h4m6 0h1m3 0h1m8 0h1m4 0h5m4 0h3m4 0h1m2 0h1m7 0h2m4 0h3m18 0h1m7 0h2m7 0h3m5 0h3m8 0h4m8 0h2m1 0h4m8 0h1m8 0h1m8 0h1m6 0h2m8 0h1m4 0h1m1 0h3m3 0h1m2 0h3m9 0h3m1 0h1m2 0h1m1 0h2m-369 1h13m4 0h2m2 0h1m3 0h1m1 0h1m2 0h1m5 0h1m4 0h2m8 0h3m3 0h2m1 0h2m1 0h1m7 0h1m3 0h3m1 0h1m1 0h1m5 0h1m5 0h4m4 0h1m4 0h1m2 0h2m7 0h4m1 0h2m14 0h3m3 0h1m1 0h3m9 0h2m2 0h2m4 0h1m2 0h2m5 0h4m6 0h1m3 0h2m2 0h1m13 0h1m19 0h2m6 0h4m6 0h9m12 0h2m6 0h2m4 0h6m4 0h3m6 0h2m7 0h2m5 0h10m1 0h2m3 0h5m1 0h3m4 0h1m6 0h3m2 0h2m2 0h2m1 0h2m-369 1h6m2 0h1m1 0h1m1 0h5m2 0h3m3 0h8m3 0h3m3 0h3m8 0h1m4 0h2m1 0h3m3 0h6m4 0h8m1 0h2m4 0h5m1 0h3m3 0h9m4 0h3m1 0h4m9 0h6m1 0h3m1 0h2m4 0h10m2 0h2m2 0h10m2 0h4m6 0h6m2 0h1m6 0h2m5 0h1m3 0h7m1 0h1m1 0h1m2 0h1m1 0h3m8 0h2m13 0h1m12 0h4m4 0h1m11 0h1m5 0h3m5 0h3m9 0h2m1 0h3m7 0h1m2 0h1m3 0h7m1 0h1m4 0h1m1 0h1m1 0h3m5 0h1m2 0h10m3 0h1m-372 1h6m7 0h2m8 0h5m5 0h1m5 0h1m8 0h2m2 0h5m1 0h1m2 0h5m1 0h1m11 0h2m1 0h1m3 0h2m3 0h3m1 0h1m2 0h2m6 0h2m5 0h4m1 0h2m8 0h2m4 0h1m3 0h3m3 0h2m2 0h1m3 0h2m1 0h1m1 0h2m2 0h2m7 0h2m3 0h1m10 0h4m2 0h1m5 0h3m5 0h1m2 0h1m2 0h1m1 0h1m1 0h5m1 0h3m1 0h2m7 0h3m12 0h2m14 0h2m3 0h2m2 0h4m5 0h3m2 0h1m2 0h1m4 0h1m2 0h1m8 0h3m2 0h2m6 0h2m2 0h13m4 0h6m5 0h2m1 0h3m1 0h2m1 0h2m1 0h1m2 0h2m-371 1h1m2 0h2m8 0h1m1 0h1m1 0h1m4 0h1m1 0h3m5 0h1m5 0h2m8 0h2m5 0h4m5 0h2m6 0h1m1 0h1m2 0h1m1 0h3m4 0h2m2 0h1m1 0h3m3 0h1m3 0h1m1 0h1m6 0h1m3 0h2m1 0h1m1 0h1m7 0h1m2 0h3m2 0h1m2 0h1m1 0h4m1 0h2m2 0h3m1 0h1m2 0h1m3 0h2m5 0h1m4 0h2m1 0h1m7 0h1m5 0h1m14 0h1m2 0h7m8 0h4m9 0h2m26 0h1m4 0h1m3 0h1m3 0h1m7 0h1m2 0h1m2 0h1m2 0h1m1 0h1m1 0h1m13 0h1m9 0h1m9 0h2m7 0h1m5 0h2m9 0h2m1 0h2m1 0h1m1 0h1m2 0h2m-372 1h1m11 0h1m1 0h5m4 0h3m1 0h1m3 0h1m1 0h4m3 0h3m7 0h2m7 0h1m5 0h2m5 0h4m1 0h2m2 0h4m2 0h2m1 0h2m1 0h2m4 0h2m1 0h4m6 0h3m2 0h1m1 0h3m7 0h1m1 0h1m4 0h2m1 0h7m4 0h6m2 0h1m4 0h1m4 0h1m4 0h1m1 0h3m6 0h2m5 0h2m13 0h1m2 0h8m1 0h1m5 0h2m1 0h1m3 0h1m6 0h1m12 0h1m2 0h1m3 0h1m1 0h2m3 0h3m1 0h2m2 0h4m1 0h1m4 0h4m2 0h1m2 0h6m1 0h2m9 0h1m2 0h1m8 0h2m3 0h1m5 0h2m1 0h1m1 0h1m2 0h1m7 0h1m9 0h2m1 0h4m1 0h3m1 0h4m-377 1h3m10 0h4m1 0h1m1 0h1m6 0h3m2 0h2m4 0h1m5 0h1m8 0h2m5 0h2m5 0h2m4 0h1m1 0h6m1 0h2m2 0h1m1 0h2m3 0h2m1 0h2m4 0h4m1 0h1m7 0h2m1 0h2m1 0h5m4 0h4m4 0h6m10 0h2m1 0h1m1 0h3m2 0h2m1 0h1m2 0h1m3 0h2m1 0h4m6 0h1m6 0h1m13 0h1m1 0h3m1 0h3m1 0h3m5 0h4m2 0h2m5 0h2m11 0h2m1 0h3m1 0h3m1 0h2m4 0h1m1 0h2m5 0h2m4 0h1m6 0h1m10 0h1m7 0h3m2 0h1m7 0h1m4 0h3m3 0h7m2 0h1m7 0h4m5 0h1m1 0h3m8 0h1m-377 1h3m13 0h2m1 0h6m5 0h1m4 0h2m4 0h1m5 0h3m7 0h2m5 0h2m8 0h4m11 0h2m1 0h7m1 0h1m7 0h2m7 0h1m3 0h2m1 0h2m2 0h3m9 0h2m2 0h7m1 0h1m3 0h3m1 0h1m3 0h1m1 0h1m1 0h3m1 0h2m1 0h4m1 0h2m1 0h4m1 0h2m5 0h3m12 0h2m3 0h6m13 0h2m7 0h1m11 0h2m1 0h1m1 0h1m1 0h3m2 0h1m4 0h2m12 0h2m6 0h1m9 0h2m6 0h4m2 0h1m7 0h1m3 0h4m4 0h4m4 0h1m10 0h3m3 0h3m1 0h1m1 0h1m5 0h3m-361 1h1m6 0h1m5 0h1m4 0h2m4 0h2m6 0h2m7 0h3m4 0h2m6 0h1m16 0h1m9 0h1m16 0h1m11 0h2m8 0h1m9 0h5m1 0h6m3 0h3m3 0h2m2 0h2m5 0h1m4 0h2m6 0h1m12 0h5m5 0h2m1 0h1m13 0h2m7 0h1m10 0h5m1 0h1m1 0h3m2 0h2m2 0h1m1 0h1m13 0h1m6 0h1m10 0h1m6 0h2m4 0h1m7 0h1m3 0h2m6 0h2m1 0h1m4 0h1m12 0h1m4 0h2m1 0h3m4 0h1m2 0h3m-374 1h1m1 0h1m6 0h3m1 0h6m2 0h1m2 0h4m1 0h3m4 0h3m5 0h2m8 0h1m5 0h1m6 0h2m6 0h3m5 0h2m4 0h1m2 0h3m5 0h7m4 0h6m2 0h4m5 0h17m1 0h2m3 0h2m1 0h2m1 0h4m3 0h2m1 0h1m1 0h7m4 0h2m1 0h1m4 0h1m2 0h1m6 0h3m5 0h12m1 0h1m6 0h6m2 0h4m9 0h3m1 0h2m1 0h1m1 0h3m3 0h1m1 0h7m8 0h2m6 0h2m10 0h9m1 0h2m1 0h5m2 0h2m2 0h1m1 0h14m1 0h3m8 0h2m4 0h5m3 0h4m-370 1h4m5 0h11m1 0h2m5 0h5m6 0h1m6 0h2m7 0h4m1 0h5m2 0h3m5 0h4m4 0h5m1 0h2m1 0h3m5 0h1m2 0h1m2 0h2m5 0h5m1 0h1m1 0h1m6 0h3m1 0h3m5 0h6m1 0h2m4 0h1m1 0h5m1 0h1m3 0h4m1 0h7m3 0h6m1 0h3m1 0h2m5 0h4m4 0h1m1 0h1m3 0h1m1 0h1m1 0h5m5 0h7m1 0h5m5 0h1m2 0h2m1 0h1m1 0h6m1 0h1m3 0h1m2 0h2m2 0h2m7 0h6m2 0h3m4 0h4m7 0h7m2 0h1m1 0h2m1 0h15m1 0h5m3 0h1m7 0h3m3 0h3m1 0h1m3 0h2m2 0h1m-371 1h3m1 0h3m5 0h2m1 0h6m8 0h4m2 0h3m1 0h3m1 0h1m1 0h1m2 0h2m9 0h1m5 0h1m1 0h3m1 0h1m5 0h1m1 0h2m5 0h3m5 0h2m4 0h2m1 0h2m1 0h3m4 0h4m1 0h5m7 0h6m4 0h10m3 0h4m2 0h4m7 0h5m2 0h1m7 0h3m12 0h3m1 0h6m2 0h6m1 0h1m1 0h1m4 0h1m1 0h7m1 0h1m1 0h2m4 0h2m3 0h5m4 0h3m2 0h2m1 0h3m1 0h5m6 0h1m1 0h1m1 0h1m4 0h1m3 0h3m1 0h1m6 0h3m1 0h1m4 0h5m4 0h2m4 0h4m1 0h2m1 0h6m1 0h5m2 0h1m1 0h2m5 0h3m3 0h2m1 0h2m1 0h1m-374 1h1m2 0h2m2 0h1m1 0h1m2 0h1m1 0h2m4 0h1m6 0h1m5 0h1m1 0h1m2 0h1m3 0h5m3 0h2m8 0h1m4 0h2m3 0h3m3 0h4m1 0h1m1 0h1m1 0h2m7 0h1m5 0h1m8 0h1m7 0h2m1 0h2m8 0h1m5 0h2m19 0h1m1 0h1m1 0h1m13 0h1m1 0h2m9 0h1m5 0h1m5 0h1m3 0h1m13 0h5m3 0h3m5 0h5m10 0h1m4 0h1m3 0h2m5 0h1m3 0h1m5 0h2m4 0h6m4 0h1m5 0h3m8 0h3m8 0h1m3 0h1m5 0h5m1 0h3m5 0h1m5 0h1m1 0h3m6 0h1m4 0h3m4 0h2m-374 1h5m1 0h4m2 0h2m1 0h1m3 0h3m4 0h2m5 0h1m1 0h4m4 0h1m1 0h2m4 0h1m8 0h3m3 0h2m3 0h2m2 0h3m1 0h10m5 0h1m1 0h2m2 0h2m6 0h1m6 0h2m1 0h2m1 0h1m8 0h3m1 0h2m1 0h1m5 0h5m1 0h3m1 0h1m1 0h3m1 0h3m13 0h1m1 0h2m8 0h1m5 0h2m5 0h2m2 0h2m13 0h2m5 0h8m4 0h3m8 0h5m5 0h1m1 0h1m3 0h1m3 0h1m6 0h1m6 0h2m1 0h3m2 0h3m1 0h3m1 0h1m8 0h3m8 0h1m3 0h1m8 0h2m1 0h5m1 0h1m1 0h1m4 0h4m8 0h2m2 0h4m-365 1h3m7 0h3m4 0h2m5 0h1m5 0h1m3 0h2m3 0h3m1 0h1m4 0h3m8 0h1m4 0h1m1 0h5m3 0h2m9 0h1m5 0h2m1 0h2m2 0h3m1 0h3m6 0h1m6 0h1m10 0h2m1 0h2m2 0h1m2 0h1m3 0h3m2 0h4m1 0h1m4 0h1m12 0h2m1 0h2m7 0h1m14 0h1m3 0h1m6 0h3m3 0h1m13 0h1m7 0h1m18 0h3m2 0h1m3 0h1m7 0h3m8 0h2m4 0h2m2 0h3m8 0h1m1 0h1m8 0h1m3 0h1m11 0h2m2 0h3m1 0h1m3 0h1m3 0h1m9 0h1m3 0h1m1 0h1m5 0h2m1 0h1m-375 1h2m7 0h2m11 0h5m3 0h2m10 0h4m5 0h1m8 0h3m2 0h5m1 0h4m1 0h1m8 0h1m6 0h2m2 0h1m4 0h2m9 0h1m4 0h1m1 0h1m16 0h2m2 0h5m1 0h1m2 0h2m2 0h3m2 0h2m11 0h6m2 0h1m3 0h1m15 0h1m3 0h1m5 0h1m1 0h2m3 0h2m11 0h4m5 0h1m6 0h1m1 0h1m1 0h1m7 0h1m4 0h2m1 0h1m5 0h1m4 0h1m7 0h3m4 0h1m2 0h1m11 0h3m8 0h5m2 0h2m1 0h1m6 0h1m1 0h2m3 0h1m3 0h1m3 0h1m5 0h1m3 0h1m2 0h3m2 0h4m1 0h2m-366 1h2m11 0h1m1 0h2m1 0h1m3 0h2m9 0h1m1 0h1m1 0h1m5 0h1m10 0h4m3 0h8m7 0h5m7 0h4m1 0h2m9 0h1m3 0h2m1 0h3m1 0h1m11 0h9m1 0h2m1 0h3m2 0h3m1 0h5m8 0h7m1 0h2m3 0h1m6 0h1m7 0h4m1 0h4m1 0h5m4 0h1m11 0h4m4 0h4m3 0h6m6 0h2m5 0h1m1 0h1m4 0h2m4 0h1m7 0h8m1 0h2m13 0h1m14 0h5m5 0h9m2 0h2m2 0h2m4 0h2m3 0h1m2 0h1m3 0h1m1 0h1m-361 1h2m2 0h1m7 0h8m1 0h3m3 0h1m4 0h6m1 0h1m3 0h4m10 0h1m6 0h1m1 0h4m10 0h1m10 0h1m12 0h4m4 0h4m10 0h7m9 0h1m4 0h1m4 0h2m7 0h2m11 0h1m6 0h2m8 0h1m1 0h1m4 0h2m1 0h4m3 0h2m12 0h3m2 0h2m1 0h3m4 0h1m2 0h1m8 0h2m1 0h1m1 0h2m1 0h4m1 0h3m3 0h2m1 0h1m7 0h3m3 0h2m10 0h1m2 0h4m12 0h6m1 0h1m2 0h1m3 0h2m1 0h1m1 0h3m1 0h3m9 0h1m2 0h1m3 0h3m1 0h2m-365 1h1m2 0h10m7 0h2m2 0h5m9 0h4m5 0h1m9 0h2m5 0h3m1 0h1m1 0h3m1 0h1m5 0h1m9 0h2m16 0h3m1 0h3m9 0h1m2 0h1m5 0h1m8 0h2m3 0h2m3 0h1m1 0h1m8 0h1m11 0h1m15 0h3m5 0h3m2 0h2m4 0h1m11 0h1m2 0h1m1 0h1m1 0h2m6 0h2m1 0h2m7 0h5m2 0h2m3 0h2m2 0h1m4 0h4m4 0h2m5 0h3m9 0h3m1 0h1m2 0h3m9 0h2m4 0h3m1 0h2m2 0h5m3 0h2m8 0h1m2 0h1m2 0h1m3 0h1m3 0h1m1 0h1m-377 1h1m7 0h1m2 0h1m2 0h1m10 0h1m1 0h2m4 0h1m1 0h2m2 0h2m12 0h2m1 0h1m2 0h3m8 0h1m5 0h5m3 0h3m5 0h1m8 0h3m18 0h3m9 0h8m3 0h1m8 0h2m1 0h2m1 0h1m3 0h4m6 0h1m5 0h1m6 0h3m14 0h1m5 0h2m10 0h2m8 0h1m1 0h1m2 0h3m6 0h1m6 0h4m3 0h1m1 0h6m1 0h2m6 0h1m7 0h3m1 0h3m7 0h1m1 0h2m5 0h1m2 0h3m4 0h1m1 0h1m1 0h4m3 0h2m4 0h2m2 0h1m3 0h3m9 0h1m3 0h2m1 0h1m2 0h2m3 0h1m1 0h1m1 0h1m1 0h4m-380 1h1m6 0h2m1 0h1m3 0h1m9 0h3m1 0h1m4 0h2m1 0h1m3 0h1m8 0h1m4 0h3m4 0h1m8 0h2m4 0h3m7 0h1m5 0h3m6 0h2m20 0h2m1 0h1m6 0h3m5 0h1m3 0h1m7 0h6m1 0h1m2 0h3m1 0h2m5 0h1m4 0h2m1 0h1m5 0h2m13 0h1m5 0h3m11 0h1m1 0h1m4 0h5m10 0h2m5 0h3m1 0h1m2 0h2m1 0h3m2 0h1m2 0h1m6 0h1m9 0h1m1 0h3m7 0h2m1 0h2m3 0h1m4 0h2m4 0h4m3 0h1m4 0h3m3 0h1m1 0h2m2 0h4m8 0h2m3 0h3m2 0h3m2 0h1m1 0h2m1 0h1m-368 1h3m3 0h2m9 0h1m1 0h1m1 0h1m5 0h1m1 0h1m2 0h1m8 0h2m6 0h1m4 0h2m8 0h4m3 0h3m4 0h2m7 0h2m1 0h1m4 0h2m18 0h1m1 0h3m8 0h3m3 0h1m3 0h1m8 0h5m1 0h1m3 0h2m2 0h1m5 0h1m2 0h2m1 0h4m3 0h1m7 0h1m7 0h1m7 0h1m10 0h1m1 0h2m3 0h4m1 0h1m3 0h1m5 0h1m1 0h2m1 0h1m4 0h3m1 0h4m2 0h4m2 0h1m5 0h1m9 0h2m3 0h1m11 0h1m1 0h1m1 0h7m4 0h1m2 0h4m3 0h1m3 0h4m2 0h2m4 0h2m8 0h2m3 0h3m2 0h1m1 0h1m2 0h2m2 0h2m3 0h2m-371 1h1m4 0h1m9 0h4m5 0h2m1 0h1m1 0h1m9 0h2m6 0h1m1 0h1m3 0h1m11 0h1m5 0h1m1 0h1m1 0h3m8 0h3m5 0h1m18 0h1m1 0h3m10 0h1m2 0h2m3 0h1m8 0h2m2 0h1m1 0h1m7 0h2m4 0h1m1 0h1m6 0h1m3 0h1m6 0h2m2 0h1m1 0h1m2 0h2m6 0h1m9 0h1m7 0h4m1 0h1m2 0h3m2 0h2m3 0h3m11 0h1m7 0h1m4 0h2m9 0h1m5 0h4m8 0h3m6 0h2m3 0h2m7 0h4m9 0h1m9 0h1m1 0h1m7 0h3m2 0h3m3 0h1m3 0h1m2 0h1m-378 1h1m7 0h2m3 0h2m10 0h3m5 0h3m2 0h1m9 0h2m6 0h4m2 0h1m1 0h1m9 0h1m5 0h3m1 0h1m9 0h2m6 0h1m19 0h1m2 0h4m8 0h3m4 0h2m8 0h2m1 0h4m8 0h1m3 0h1m1 0h1m5 0h1m1 0h1m2 0h2m9 0h4m3 0h1m3 0h5m1 0h1m1 0h1m4 0h1m8 0h1m1 0h3m2 0h3m1 0h5m1 0h3m11 0h1m6 0h1m4 0h1m1 0h1m7 0h1m1 0h1m7 0h2m9 0h2m9 0h2m1 0h1m1 0h1m4 0h1m3 0h1m8 0h2m8 0h4m8 0h2m3 0h3m2 0h1m3 0h1m1 0h1m-377 1h2m5 0h1m2 0h3m4 0h1m4 0h1m1 0h2m1 0h1m7 0h2m1 0h2m8 0h5m6 0h8m7 0h2m5 0h2m1 0h3m6 0h1m8 0h1m19 0h4m1 0h2m1 0h2m1 0h1m4 0h2m5 0h1m2 0h2m1 0h1m2 0h5m1 0h6m2 0h1m3 0h2m1 0h1m4 0h3m4 0h1m4 0h2m5 0h2m2 0h1m3 0h1m3 0h6m1 0h1m2 0h3m1 0h7m13 0h2m14 0h1m1 0h1m4 0h1m4 0h5m4 0h2m1 0h1m1 0h1m1 0h4m10 0h1m10 0h7m3 0h2m3 0h1m7 0h5m1 0h1m4 0h1m1 0h2m7 0h1m4 0h2m1 0h1m2 0h1m3 0h4m-377 1h1m5 0h1m1 0h4m3 0h2m3 0h2m1 0h4m6 0h3m1 0h2m7 0h2m1 0h3m4 0h1m3 0h1m4 0h2m7 0h2m3 0h7m5 0h2m7 0h1m21 0h7m1 0h3m3 0h3m4 0h2m1 0h5m2 0h1m1 0h3m2 0h5m1 0h2m4 0h1m1 0h1m4 0h1m1 0h2m3 0h1m3 0h4m7 0h2m2 0h1m4 0h3m2 0h3m3 0h3m2 0h1m3 0h1m1 0h1m4 0h1m21 0h4m4 0h1m4 0h2m1 0h2m4 0h8m1 0h1m10 0h2m8 0h2m2 0h5m4 0h1m3 0h1m6 0h3m1 0h4m3 0h6m5 0h2m4 0h4m2 0h2m3 0h3m-378 1h1m6 0h1m4 0h3m18 0h1m3 0h1m10 0h2m6 0h2m2 0h2m5 0h1m8 0h3m14 0h5m3 0h1m20 0h1m10 0h2m7 0h2m10 0h2m2 0h1m1 0h1m4 0h1m2 0h1m3 0h1m2 0h1m4 0h2m1 0h5m4 0h1m1 0h1m8 0h1m2 0h3m4 0h3m5 0h1m2 0h1m1 0h3m1 0h5m2 0h2m4 0h1m17 0h1m5 0h2m3 0h4m5 0h1m7 0h3m2 0h1m8 0h1m7 0h3m5 0h2m3 0h2m1 0h1m1 0h1m7 0h3m6 0h1m5 0h2m5 0h1m1 0h2m4 0h1m3 0h1m-365 1h1m1 0h1m4 0h3m1 0h5m8 0h3m3 0h1m7 0h2m7 0h5m1 0h2m5 0h1m10 0h2m17 0h2m2 0h3m10 0h3m1 0h1m2 0h2m11 0h2m1 0h1m3 0h3m2 0h9m3 0h3m3 0h2m1 0h1m3 0h2m2 0h1m10 0h2m4 0h2m9 0h2m3 0h4m7 0h1m1 0h1m1 0h2m1 0h1m1 0h5m1 0h1m1 0h4m1 0h3m16 0h2m6 0h1m2 0h1m9 0h1m9 0h4m8 0h1m9 0h1m11 0h4m7 0h4m2 0h4m7 0h2m4 0h2m1 0h2m3 0h1m3 0h5m1 0h3m-374 1h4m6 0h2m4 0h2m6 0h2m4 0h2m1 0h2m3 0h3m6 0h1m1 0h2m1 0h5m4 0h4m8 0h1m6 0h1m2 0h2m7 0h1m2 0h3m9 0h2m1 0h3m1 0h3m2 0h1m1 0h1m7 0h3m3 0h1m3 0h1m8 0h1m7 0h5m5 0h5m4 0h1m5 0h5m1 0h2m2 0h1m6 0h1m6 0h1m6 0h4m1 0h8m1 0h6m1 0h5m10 0h1m1 0h2m1 0h3m1 0h1m3 0h2m1 0h4m1 0h3m3 0h1m3 0h1m4 0h1m1 0h3m2 0h1m5 0h1m4 0h1m4 0h1m8 0h1m2 0h1m8 0h1m1 0h4m1 0h1m12 0h1m8 0h1m3 0h1m4 0h1m2 0h2m2 0h1m-380 1h3m2 0h9m2 0h2m5 0h2m1 0h1m2 0h3m5 0h4m3 0h4m5 0h1m3 0h4m1 0h1m7 0h2m7 0h2m4 0h2m1 0h3m6 0h2m1 0h2m2 0h1m8 0h2m1 0h3m1 0h3m1 0h4m7 0h4m1 0h2m3 0h1m8 0h3m4 0h2m10 0h1m2 0h1m3 0h2m4 0h1m4 0h4m1 0h2m5 0h2m1 0h1m4 0h1m1 0h1m5 0h6m1 0h2m1 0h6m2 0h1m1 0h1m13 0h3m1 0h2m3 0h2m4 0h1m2 0h1m1 0h2m2 0h1m3 0h1m2 0h2m3 0h3m4 0h2m4 0h2m3 0h2m4 0h1m7 0h5m4 0h1m2 0h9m12 0h4m5 0h2m2 0h1m3 0h2m1 0h3m1 0h2m-378 1h1m2 0h2m6 0h1m10 0h3m1 0h1m7 0h1m6 0h2m2 0h1m4 0h2m6 0h3m1 0h3m4 0h2m7 0h2m6 0h3m1 0h1m5 0h1m2 0h1m1 0h2m7 0h2m3 0h3m1 0h2m2 0h1m1 0h1m8 0h1m1 0h2m4 0h1m10 0h2m5 0h1m10 0h4m8 0h2m4 0h1m7 0h1m4 0h3m4 0h3m4 0h1m1 0h1m3 0h7m1 0h1m1 0h1m2 0h3m13 0h2m2 0h2m9 0h1m1 0h5m1 0h2m3 0h2m1 0h2m1 0h5m4 0h1m6 0h1m9 0h1m8 0h1m2 0h1m1 0h1m1 0h8m2 0h3m15 0h2m5 0h1m2 0h1m7 0h2m-375 1h3m8 0h4m1 0h4m1 0h1m2 0h3m4 0h4m6 0h2m2 0h2m2 0h1m1 0h1m7 0h6m5 0h1m8 0h3m3 0h2m2 0h2m4 0h1m3 0h8m4 0h1m2 0h4m1 0h2m1 0h4m7 0h5m2 0h3m3 0h1m1 0h1m3 0h3m5 0h2m10 0h1m1 0h1m7 0h2m5 0h1m6 0h2m4 0h3m4 0h1m1 0h1m2 0h5m2 0h10m1 0h10m8 0h2m7 0h2m1 0h1m1 0h2m3 0h1m1 0h3m1 0h1m4 0h6m7 0h2m5 0h2m8 0h2m7 0h1m1 0h14m3 0h2m5 0h1m1 0h1m1 0h1m6 0h2m3 0h2m2 0h1m1 0h2m4 0h2m-373 1h1m11 0h2m1 0h6m7 0h6m4 0h2m4 0h1m1 0h3m6 0h1m1 0h2m1 0h4m4 0h2m9 0h1m9 0h1m1 0h3m4 0h2m1 0h4m4 0h7m2 0h1m2 0h1m1 0h1m1 0h1m6 0h2m3 0h1m5 0h4m4 0h2m6 0h1m9 0h5m6 0h2m5 0h4m10 0h2m4 0h3m1 0h2m1 0h1m1 0h1m4 0h2m3 0h1m1 0h1m2 0h3m1 0h5m8 0h2m6 0h7m3 0h6m1 0h3m1 0h7m2 0h1m1 0h1m2 0h4m4 0h1m7 0h3m4 0h1m1 0h6m1 0h1m2 0h5m1 0h1m2 0h3m1 0h1m2 0h6m7 0h1m4 0h1m2 0h4m5 0h1m-373 1h4m7 0h8m1 0h3m2 0h1m1 0h1m2 0h1m2 0h1m5 0h1m3 0h2m2 0h2m5 0h2m1 0h3m1 0h1m1 0h1m5 0h3m7 0h3m6 0h3m6 0h1m1 0h3m13 0h1m1 0h2m1 0h6m5 0h1m1 0h1m3 0h1m12 0h3m5 0h1m11 0h1m2 0h1m3 0h1m1 0h1m5 0h1m4 0h1m9 0h1m6 0h1m1 0h1m2 0h5m3 0h3m2 0h6m2 0h3m1 0h1m8 0h2m10 0h3m1 0h1m4 0h1m2 0h1m4 0h3m7 0h6m3 0h1m3 0h2m9 0h1m3 0h3m5 0h3m1 0h2m1 0h1m1 0h3m4 0h3m15 0h1m3 0h1m3 0h4m4 0h2m-370 1h1m13 0h2m2 0h2m1 0h4m1 0h2m1 0h2m5 0h2m3 0h1m1 0h3m3 0h1m1 0h3m1 0h4m1 0h3m1 0h1m3 0h2m8 0h1m6 0h1m8 0h1m1 0h3m13 0h7m1 0h1m1 0h2m3 0h3m3 0h1m13 0h3m2 0h2m1 0h1m6 0h1m1 0h2m1 0h2m1 0h6m4 0h4m3 0h1m1 0h2m1 0h1m4 0h1m5 0h4m1 0h12m1 0h7m2 0h5m6 0h4m3 0h2m4 0h5m4 0h2m1 0h2m4 0h3m6 0h4m1 0h2m3 0h3m2 0h1m9 0h1m1 0h3m6 0h2m3 0h7m2 0h2m3 0h1m15 0h1m3 0h1m4 0h1m1 0h1m5 0h1m-370 1h3m1 0h3m10 0h9m1 0h2m1 0h1m6 0h1m2 0h2m3 0h1m2 0h4m1 0h4m5 0h3m4 0h2m7 0h3m4 0h1m8 0h4m14 0h3m1 0h6m1 0h2m1 0h1m1 0h2m3 0h1m12 0h1m4 0h4m6 0h3m1 0h1m2 0h1m10 0h1m3 0h1m3 0h2m1 0h3m3 0h5m1 0h3m1 0h1m1 0h5m1 0h4m1 0h4m1 0h1m1 0h3m1 0h3m7 0h3m4 0h3m5 0h4m5 0h5m4 0h2m5 0h2m2 0h1m2 0h1m3 0h3m1 0h1m10 0h7m1 0h1m1 0h3m2 0h2m4 0h2m1 0h3m3 0h1m15 0h1m1 0h1m1 0h1m3 0h3m5 0h2m-368 1h2m2 0h3m2 0h1m6 0h1m4 0h1m1 0h2m1 0h2m6 0h1m4 0h1m2 0h2m2 0h2m1 0h2m3 0h2m3 0h4m5 0h1m9 0h1m4 0h3m7 0h1m1 0h1m5 0h2m6 0h2m1 0h2m1 0h2m2 0h4m1 0h4m3 0h2m11 0h1m5 0h2m8 0h2m1 0h2m1 0h1m5 0h1m2 0h2m3 0h1m4 0h2m3 0h1m7 0h1m3 0h4m1 0h1m2 0h2m3 0h3m2 0h4m2 0h2m2 0h1m8 0h2m4 0h4m3 0h3m6 0h1m4 0h1m2 0h4m2 0h1m2 0h2m1 0h2m1 0h2m2 0h2m1 0h1m1 0h1m7 0h1m2 0h1m5 0h4m4 0h1m1 0h1m3 0h7m3 0h2m14 0h3m1 0h1m4 0h3m4 0h2m-362 1h4m5 0h2m1 0h1m1 0h4m2 0h2m6 0h1m4 0h1m1 0h3m2 0h3m1 0h1m4 0h1m6 0h1m5 0h3m7 0h2m5 0h2m5 0h3m5 0h1m1 0h2m1 0h1m4 0h1m1 0h2m1 0h2m2 0h2m3 0h4m4 0h1m1 0h1m9 0h1m4 0h1m9 0h1m1 0h1m2 0h1m1 0h1m4 0h2m1 0h3m3 0h1m5 0h1m3 0h1m7 0h1m3 0h6m2 0h2m2 0h1m2 0h1m2 0h2m3 0h3m1 0h1m8 0h3m3 0h1m3 0h1m5 0h1m6 0h1m4 0h3m2 0h2m1 0h4m1 0h5m1 0h1m3 0h3m1 0h1m6 0h3m1 0h1m5 0h4m3 0h3m2 0h1m4 0h2m1 0h1m1 0h1m2 0h1m16 0h1m1 0h1m3 0h2m1 0h1m4 0h2m-376 1h2m13 0h4m4 0h4m1 0h5m1 0h2m6 0h1m4 0h2m7 0h3m4 0h2m2 0h4m7 0h1m8 0h2m5 0h3m5 0h2m3 0h7m3 0h1m14 0h4m4 0h3m1 0h1m7 0h1m4 0h1m9 0h6m1 0h1m4 0h2m1 0h4m2 0h1m4 0h2m3 0h1m7 0h2m4 0h2m8 0h4m2 0h2m7 0h2m9 0h1m3 0h4m5 0h2m1 0h1m4 0h1m5 0h2m3 0h1m1 0h5m1 0h2m3 0h1m3 0h1m3 0h2m5 0h3m1 0h1m14 0h4m3 0h1m1 0h5m2 0h1m16 0h1m1 0h2m5 0h1m4 0h2m-377 1h3m13 0h2m1 0h1m2 0h10m1 0h2m1 0h6m1 0h2m4 0h2m1 0h1m6 0h1m5 0h1m1 0h2m1 0h2m3 0h1m3 0h3m7 0h3m5 0h1m6 0h1m12 0h3m14 0h3m2 0h1m1 0h13m3 0h2m15 0h1m5 0h2m2 0h1m1 0h1m2 0h1m4 0h2m3 0h5m1 0h1m1 0h2m3 0h3m24 0h1m9 0h1m4 0h3m4 0h7m2 0h3m2 0h7m2 0h2m1 0h1m2 0h1m3 0h1m2 0h5m1 0h1m6 0h1m2 0h3m2 0h1m1 0h1m8 0h1m5 0h2m1 0h4m2 0h2m9 0h2m1 0h4m2 0h1m3 0h3m3 0h6m-379 1h1m12 0h2m1 0h2m2 0h1m19 0h1m2 0h1m3 0h1m1 0h3m5 0h2m4 0h5m1 0h2m2 0h2m5 0h1m9 0h2m4 0h4m3 0h2m12 0h2m13 0h1m1 0h5m16 0h3m15 0h1m5 0h2m1 0h4m2 0h1m5 0h1m7 0h4m4 0h4m23 0h1m9 0h2m3 0h4m6 0h1m3 0h2m3 0h3m6 0h1m1 0h5m1 0h2m3 0h2m5 0h2m6 0h2m4 0h6m1 0h1m5 0h2m3 0h1m2 0h1m1 0h4m3 0h2m7 0h1m1 0h2m6 0h1m2 0h1m4 0h2m-374 1h2m8 0h4m7 0h1m5 0h1m2 0h7m4 0h2m1 0h2m1 0h5m7 0h1m17 0h1m3 0h3m8 0h1m7 0h1m4 0h1m11 0h3m2 0h1m2 0h1m7 0h3m3 0h1m5 0h1m10 0h1m4 0h1m11 0h2m2 0h4m5 0h2m1 0h1m4 0h2m12 0h1m1 0h5m23 0h1m10 0h1m12 0h5m1 0h2m3 0h2m6 0h5m9 0h1m12 0h1m4 0h1m4 0h5m6 0h1m2 0h2m1 0h7m4 0h1m6 0h2m9 0h1m2 0h1m3 0h1m4 0h1m-368 1h1m7 0h1m2 0h2m3 0h5m6 0h1m5 0h1m2 0h2m4 0h1m4 0h1m1 0h2m15 0h3m5 0h2m7 0h2m5 0h2m4 0h4m8 0h1m3 0h2m1 0h2m7 0h1m5 0h1m3 0h3m10 0h3m1 0h3m9 0h1m3 0h1m3 0h1m1 0h1m4 0h3m4 0h2m7 0h3m1 0h3m1 0h1m1 0h2m23 0h1m10 0h1m9 0h3m4 0h1m2 0h2m2 0h2m8 0h3m4 0h1m3 0h1m12 0h2m1 0h1m1 0h2m1 0h1m6 0h1m6 0h1m4 0h1m1 0h6m4 0h1m1 0h1m3 0h3m5 0h1m2 0h2m2 0h1m2 0h1m4 0h2m-369 1h2m6 0h2m1 0h3m2 0h3m1 0h2m2 0h2m2 0h3m3 0h2m7 0h3m1 0h2m1 0h2m2 0h1m11 0h3m7 0h2m7 0h2m5 0h2m6 0h1m8 0h4m1 0h4m1 0h1m5 0h1m5 0h2m1 0h6m10 0h1m1 0h1m1 0h1m8 0h1m3 0h1m4 0h3m11 0h2m6 0h1m2 0h2m3 0h7m1 0h1m1 0h2m2 0h2m9 0h4m9 0h2m8 0h1m1 0h2m3 0h3m2 0h1m11 0h4m3 0h2m3 0h1m9 0h14m4 0h2m5 0h1m3 0h7m6 0h3m3 0h3m3 0h3m3 0h1m2 0h1m2 0h1m1 0h1m2 0h2m2 0h1m-373 1h1m7 0h4m5 0h1m6 0h3m4 0h1m4 0h1m9 0h5m1 0h1m1 0h2m11 0h3m8 0h1m8 0h2m5 0h3m3 0h2m1 0h3m5 0h4m1 0h5m5 0h2m5 0h1m1 0h6m10 0h3m1 0h2m6 0h2m3 0h1m6 0h3m16 0h2m2 0h2m6 0h1m1 0h7m1 0h3m8 0h3m1 0h1m8 0h3m8 0h1m2 0h1m2 0h1m1 0h2m2 0h1m12 0h3m2 0h1m1 0h1m3 0h1m8 0h1m7 0h4m1 0h2m5 0h1m4 0h2m5 0h2m1 0h2m8 0h1m2 0h2m4 0h2m1 0h1m2 0h2m2 0h1m1 0h4m1 0h1m1 0h1m1 0h2m-373 1h1m8 0h3m5 0h1m12 0h1m5 0h1m5 0h1m2 0h1m3 0h2m1 0h2m1 0h1m14 0h1m7 0h2m8 0h3m5 0h2m3 0h2m2 0h1m4 0h1m3 0h2m1 0h2m8 0h2m1 0h1m1 0h1m10 0h1m1 0h3m1 0h3m4 0h1m5 0h3m2 0h1m9 0h2m9 0h1m6 0h2m1 0h2m3 0h6m4 0h6m10 0h3m6 0h1m1 0h3m7 0h2m1 0h6m3 0h1m12 0h1m5 0h3m3 0h1m8 0h1m9 0h3m6 0h2m5 0h1m2 0h1m1 0h4m9 0h1m4 0h2m4 0h3m3 0h1m2 0h1m2 0h1m3 0h1m1 0h1m-370 1h1m8 0h3m3 0h2m13 0h1m4 0h1m5 0h6m2 0h2m4 0h1m1 0h3m4 0h1m4 0h2m1 0h4m3 0h3m8 0h1m6 0h1m6 0h1m3 0h1m1 0h1m1 0h1m1 0h2m1 0h4m7 0h5m8 0h4m2 0h2m2 0h1m3 0h3m6 0h1m2 0h1m10 0h2m7 0h2m7 0h1m1 0h2m2 0h5m1 0h2m1 0h2m1 0h1m1 0h3m10 0h3m3 0h1m1 0h3m9 0h3m1 0h1m1 0h2m5 0h2m11 0h1m2 0h1m4 0h1m3 0h1m8 0h1m9 0h1m1 0h2m6 0h1m4 0h5m2 0h4m8 0h1m5 0h1m5 0h2m3 0h1m2 0h1m2 0h1m3 0h1m1 0h1m-371 1h2m2 0h3m3 0h1m4 0h3m13 0h1m3 0h1m1 0h1m3 0h2m1 0h2m1 0h1m8 0h2m2 0h1m3 0h3m5 0h2m2 0h1m5 0h2m7 0h2m5 0h2m5 0h2m1 0h2m1 0h3m1 0h2m1 0h1m2 0h3m8 0h2m7 0h3m4 0h2m2 0h2m4 0h1m6 0h1m2 0h1m2 0h1m1 0h1m6 0h1m7 0h2m7 0h4m3 0h10m1 0h5m4 0h1m4 0h1m1 0h2m2 0h3m13 0h1m2 0h1m9 0h1m10 0h2m1 0h2m3 0h2m1 0h1m1 0h1m8 0h1m9 0h2m1 0h1m6 0h1m7 0h1m4 0h3m7 0h1m6 0h1m4 0h3m2 0h1m3 0h1m2 0h1m3 0h1m1 0h1m-372 1h3m1 0h1m2 0h4m4 0h1m16 0h1m2 0h1m1 0h2m2 0h3m4 0h1m2 0h1m9 0h2m1 0h1m2 0h1m6 0h1m2 0h2m5 0h2m7 0h2m5 0h1m4 0h8m3 0h2m1 0h1m1 0h1m1 0h2m8 0h2m9 0h1m9 0h3m2 0h1m1 0h1m4 0h1m2 0h1m1 0h5m5 0h1m7 0h2m7 0h5m2 0h4m2 0h4m1 0h1m2 0h2m3 0h2m3 0h1m7 0h1m13 0h1m3 0h1m9 0h1m11 0h4m2 0h7m8 0h1m12 0h2m5 0h1m6 0h1m6 0h3m6 0h1m5 0h1m4 0h4m2 0h2m2 0h1m2 0h1m3 0h3m-372 1h1m3 0h1m9 0h1m7 0h1m8 0h1m3 0h1m3 0h1m1 0h3m2 0h1m1 0h1m1 0h2m10 0h3m2 0h1m5 0h1m4 0h2m5 0h2m7 0h2m4 0h3m4 0h3m1 0h2m6 0h6m3 0h1m5 0h1m8 0h1m12 0h2m1 0h4m3 0h1m1 0h1m2 0h3m1 0h1m4 0h1m8 0h2m3 0h1m5 0h1m1 0h1m5 0h1m1 0h5m1 0h1m8 0h1m3 0h1m7 0h1m13 0h2m2 0h1m9 0h1m14 0h7m1 0h2m8 0h1m4 0h1m1 0h1m6 0h2m3 0h2m3 0h1m1 0h1m6 0h4m6 0h1m5 0h3m3 0h3m3 0h1m2 0h1m2 0h1m4 0h3m-374 1h1m4 0h1m9 0h1m6 0h2m6 0h3m2 0h2m2 0h2m1 0h8m14 0h1m3 0h1m5 0h1m5 0h1m6 0h1m8 0h3m4 0h2m2 0h2m11 0h6m2 0h2m1 0h1m2 0h2m6 0h2m14 0h3m2 0h2m1 0h2m1 0h1m2 0h5m4 0h1m3 0h1m5 0h1m2 0h2m4 0h4m2 0h4m1 0h6m8 0h2m3 0h5m3 0h2m13 0h2m1 0h1m9 0h1m16 0h1m1 0h3m11 0h1m3 0h4m7 0h1m4 0h1m2 0h5m1 0h8m3 0h3m8 0h1m2 0h4m3 0h1m2 0h1m1 0h2m3 0h2m1 0h1m-378 1h5m3 0h2m6 0h4m13 0h4m1 0h6m5 0h1m2 0h2m2 0h1m1 0h4m5 0h2m3 0h2m1 0h1m1 0h2m5 0h3m4 0h3m8 0h1m5 0h1m22 0h1m1 0h3m5 0h1m3 0h4m15 0h1m3 0h2m3 0h8m4 0h1m2 0h3m3 0h2m1 0h3m1 0h5m1 0h1m1 0h12m9 0h1m4 0h1m1 0h2m4 0h1m6 0h1m5 0h3m1 0h2m1 0h1m5 0h2m15 0h6m4 0h1m6 0h1m4 0h3m2 0h1m3 0h2m3 0h3m2 0h1m1 0h7m6 0h2m8 0h3m3 0h3m2 0h2m2 0h1m2 0h1m1 0h2m1 0h2m-370 1h3m5 0h1m2 0h1m17 0h1m6 0h1m4 0h4m1 0h1m1 0h3m2 0h2m11 0h4m9 0h1m6 0h2m7 0h3m3 0h4m19 0h1m1 0h2m5 0h2m6 0h1m15 0h1m1 0h4m4 0h1m9 0h1m2 0h1m2 0h1m5 0h1m1 0h3m4 0h2m1 0h6m1 0h6m2 0h2m4 0h2m3 0h5m3 0h4m3 0h2m4 0h1m2 0h1m2 0h3m3 0h1m2 0h1m19 0h2m3 0h2m6 0h1m3 0h7m4 0h1m4 0h2m1 0h3m3 0h4m6 0h2m7 0h1m5 0h4m1 0h1m3 0h2m1 0h6m1 0h1m-368 1h2m3 0h1m2 0h2m10 0h1m3 0h2m1 0h1m5 0h1m5 0h1m1 0h3m2 0h3m1 0h1m26 0h1m1 0h1m5 0h2m8 0h2m5 0h2m5 0h1m11 0h2m2 0h1m4 0h3m6 0h1m15 0h4m5 0h1m7 0h1m2 0h1m2 0h3m6 0h5m4 0h3m3 0h4m7 0h1m1 0h4m8 0h3m6 0h2m7 0h2m1 0h2m1 0h1m5 0h2m2 0h1m19 0h2m11 0h2m5 0h4m3 0h2m2 0h2m5 0h2m1 0h2m8 0h3m7 0h1m7 0h2m1 0h1m4 0h1m2 0h1m3 0h3m-369 1h1m1 0h2m2 0h1m2 0h2m9 0h2m2 0h3m1 0h3m3 0h2m4 0h3m1 0h4m3 0h2m14 0h1m10 0h4m5 0h2m8 0h1m6 0h3m2 0h2m1 0h1m3 0h1m1 0h1m1 0h2m3 0h1m4 0h2m5 0h1m1 0h2m18 0h2m4 0h1m6 0h4m3 0h1m9 0h4m4 0h1m5 0h2m1 0h1m6 0h1m5 0h1m10 0h1m7 0h2m5 0h3m1 0h2m1 0h1m9 0h1m19 0h2m5 0h1m6 0h1m4 0h1m1 0h3m4 0h1m1 0h3m6 0h1m2 0h2m7 0h1m8 0h2m7 0h2m1 0h1m4 0h1m2 0h1m5 0h1m-377 1h12m2 0h1m18 0h2m3 0h2m3 0h1m3 0h1m12 0h3m2 0h2m4 0h7m1 0h3m1 0h1m5 0h2m5 0h1m8 0h2m7 0h1m4 0h2m2 0h5m5 0h1m2 0h6m1 0h3m2 0h2m5 0h1m1 0h1m1 0h5m4 0h1m4 0h2m3 0h1m1 0h1m5 0h4m6 0h1m8 0h12m4 0h1m1 0h1m3 0h1m9 0h2m8 0h1m2 0h1m1 0h1m7 0h1m2 0h1m6 0h1m17 0h1m1 0h1m5 0h3m5 0h1m3 0h1m4 0h1m4 0h1m3 0h1m4 0h2m4 0h5m3 0h1m1 0h1m5 0h1m5 0h2m2 0h3m3 0h1m1 0h1m2 0h1m4 0h2m-376 1h2m3 0h2m1 0h1m3 0h1m17 0h4m4 0h1m3 0h1m2 0h1m15 0h1m1 0h4m1 0h2m2 0h2m2 0h2m2 0h3m6 0h1m5 0h3m7 0h2m5 0h1m1 0h1m2 0h10m5 0h1m1 0h3m3 0h2m2 0h1m3 0h1m4 0h5m2 0h3m4 0h4m2 0h1m2 0h3m6 0h4m6 0h3m1 0h1m8 0h1m3 0h1m2 0h1m4 0h3m3 0h2m7 0h3m8 0h1m1 0h2m1 0h2m4 0h1m1 0h1m1 0h2m6 0h1m16 0h4m4 0h4m4 0h2m2 0h2m4 0h1m4 0h1m3 0h1m3 0h3m7 0h2m3 0h3m5 0h1m4 0h1m1 0h1m2 0h1m4 0h4m2 0h2m3 0h2m-377 1h1m1 0h3m1 0h4m3 0h1m3 0h1m4 0h1m6 0h2m1 0h1m1 0h1m2 0h2m3 0h1m3 0h1m2 0h1m8 0h2m2 0h1m1 0h2m1 0h2m4 0h2m1 0h6m1 0h2m5 0h2m6 0h1m8 0h2m4 0h3m1 0h1m1 0h1m13 0h1m3 0h1m3 0h2m2 0h1m3 0h1m4 0h2m2 0h1m1 0h1m10 0h3m4 0h2m18 0h3m7 0h2m2 0h2m1 0h2m4 0h1m6 0h1m9 0h2m7 0h3m3 0h2m2 0h2m1 0h1m9 0h1m33 0h1m3 0h2m2 0h2m3 0h2m3 0h1m5 0h2m1 0h2m1 0h2m7 0h3m2 0h2m4 0h1m1 0h1m2 0h3m2 0h2m1 0h1m1 0h1m1 0h4m-371 1h1m1 0h2m5 0h1m2 0h2m1 0h7m2 0h7m1 0h1m5 0h1m3 0h1m1 0h4m5 0h1m1 0h2m1 0h2m11 0h3m1 0h4m1 0h3m4 0h3m4 0h2m8 0h2m5 0h1m1 0h4m11 0h2m2 0h2m3 0h2m2 0h1m3 0h4m1 0h2m1 0h4m8 0h1m4 0h2m1 0h1m11 0h1m4 0h1m3 0h3m11 0h2m2 0h1m1 0h1m1 0h3m5 0h1m10 0h1m8 0h2m4 0h2m1 0h3m9 0h2m18 0h2m13 0h1m3 0h2m1 0h1m6 0h1m3 0h1m4 0h1m1 0h5m1 0h1m1 0h1m1 0h1m5 0h5m4 0h3m3 0h2m3 0h1m1 0h3m4 0h1m-375 1h1m2 0h1m8 0h1m3 0h3m6 0h1m1 0h1m6 0h3m4 0h2m3 0h1m1 0h1m2 0h2m3 0h2m2 0h1m16 0h4m5 0h3m4 0h3m3 0h3m7 0h2m4 0h2m3 0h3m8 0h1m3 0h1m9 0h1m1 0h1m4 0h2m1 0h4m1 0h1m7 0h2m3 0h1m1 0h2m4 0h1m6 0h2m3 0h2m2 0h4m15 0h5m1 0h2m3 0h1m7 0h5m7 0h1m1 0h1m5 0h2m1 0h2m8 0h3m6 0h1m10 0h3m1 0h1m2 0h1m7 0h1m3 0h1m2 0h2m6 0h1m3 0h1m3 0h3m4 0h7m13 0h2m1 0h1m1 0h4m2 0h2m1 0h1m6 0h1m-375 1h3m7 0h2m3 0h1m9 0h3m3 0h1m1 0h1m6 0h3m2 0h1m1 0h2m3 0h1m2 0h1m4 0h3m14 0h2m9 0h1m6 0h1m5 0h2m7 0h2m4 0h3m2 0h2m6 0h2m4 0h1m9 0h4m8 0h2m1 0h1m7 0h2m2 0h2m6 0h2m14 0h3m1 0h1m12 0h1m3 0h1m2 0h1m2 0h1m1 0h1m1 0h1m6 0h1m2 0h1m1 0h1m7 0h3m5 0h2m12 0h2m5 0h2m9 0h6m1 0h2m7 0h1m3 0h3m8 0h1m3 0h2m4 0h1m5 0h1m2 0h3m3 0h1m8 0h1m1 0h1m1 0h4m4 0h3m7 0h1m4 0h1m-379 1h2m6 0h1m5 0h1m9 0h1m4 0h3m5 0h2m5 0h1m2 0h1m2 0h2m2 0h1m1 0h1m3 0h2m14 0h2m9 0h1m1 0h1m4 0h2m5 0h2m7 0h2m5 0h5m5 0h1m1 0h1m4 0h1m9 0h2m1 0h3m5 0h3m1 0h1m12 0h1m6 0h2m16 0h3m10 0h3m1 0h3m1 0h2m2 0h4m7 0h1m2 0h3m9 0h1m12 0h1m1 0h1m3 0h1m17 0h2m1 0h2m12 0h1m1 0h1m12 0h1m4 0h1m3 0h2m5 0h1m3 0h2m2 0h2m7 0h9m4 0h4m6 0h1m3 0h2m-372 1h2m5 0h1m9 0h1m1 0h1m2 0h1m6 0h1m3 0h1m1 0h3m2 0h1m1 0h4m1 0h3m2 0h1m16 0h2m5 0h1m3 0h4m4 0h3m4 0h2m7 0h2m7 0h3m1 0h1m2 0h3m3 0h2m3 0h3m1 0h1m6 0h2m3 0h4m1 0h1m11 0h1m5 0h4m7 0h1m7 0h4m9 0h5m1 0h5m2 0h4m3 0h1m1 0h1m1 0h1m1 0h2m1 0h1m9 0h1m11 0h5m1 0h1m21 0h2m1 0h1m2 0h1m7 0h5m10 0h1m4 0h1m1 0h4m4 0h1m16 0h1m1 0h3m9 0h2m1 0h1m6 0h1m2 0h3m-373 1h1m7 0h1m9 0h3m2 0h1m5 0h1m3 0h3m4 0h2m2 0h1m1 0h1m1 0h1m4 0h1m22 0h2m6 0h1m6 0h1m5 0h2m7 0h3m4 0h1m2 0h3m1 0h2m4 0h1m4 0h1m2 0h4m6 0h1m4 0h5m11 0h1m4 0h1m3 0h2m5 0h2m6 0h3m11 0h8m1 0h2m8 0h4m1 0h1m2 0h1m1 0h1m1 0h1m6 0h2m12 0h2m1 0h3m6 0h1m14 0h4m1 0h2m11 0h6m1 0h1m2 0h2m4 0h6m4 0h1m15 0h3m1 0h2m9 0h3m7 0h1m2 0h3m-373 1h1m7 0h2m6 0h3m4 0h1m3 0h3m3 0h2m4 0h3m1 0h3m2 0h1m1 0h1m2 0h1m21 0h1m1 0h1m5 0h1m3 0h1m3 0h1m6 0h2m8 0h2m3 0h2m1 0h6m4 0h1m4 0h1m2 0h2m1 0h1m5 0h1m4 0h4m1 0h1m11 0h1m3 0h1m5 0h1m5 0h2m6 0h3m12 0h4m2 0h4m13 0h3m2 0h5m3 0h3m1 0h1m9 0h3m7 0h7m11 0h2m15 0h2m4 0h5m4 0h1m1 0h1m4 0h2m2 0h1m4 0h4m1 0h1m6 0h4m1 0h3m7 0h4m1 0h1m4 0h1m2 0h3m-375 1h3m8 0h1m5 0h4m4 0h1m2 0h1m5 0h3m6 0h2m5 0h3m1 0h1m22 0h3m5 0h1m1 0h3m1 0h1m1 0h2m6 0h2m8 0h1m4 0h2m1 0h2m1 0h2m4 0h1m4 0h1m1 0h4m6 0h1m4 0h5m12 0h1m3 0h1m4 0h1m15 0h2m1 0h1m9 0h3m1 0h1m2 0h4m22 0h1m5 0h3m1 0h2m5 0h1m8 0h2m6 0h2m26 0h1m1 0h1m12 0h3m6 0h4m3 0h1m3 0h3m1 0h1m5 0h1m1 0h1m2 0h2m10 0h3m4 0h1m1 0h1m-373 1h1m11 0h3m4 0h1m6 0h1m2 0h1m2 0h1m3 0h1m7 0h2m5 0h4m17 0h1m6 0h2m5 0h2m1 0h4m2 0h2m6 0h2m7 0h3m2 0h2m1 0h5m4 0h1m4 0h1m2 0h1m6 0h2m4 0h6m12 0h1m3 0h2m3 0h2m6 0h1m6 0h1m2 0h2m9 0h5m2 0h4m10 0h1m8 0h1m2 0h2m4 0h4m1 0h2m4 0h1m3 0h5m9 0h2m14 0h1m4 0h1m4 0h1m2 0h1m1 0h1m4 0h1m4 0h4m7 0h1m1 0h2m1 0h1m6 0h4m3 0h4m1 0h4m9 0h3m4 0h3m-373 1h1m13 0h2m2 0h1m7 0h1m2 0h1m1 0h2m3 0h1m33 0h5m5 0h1m9 0h2m4 0h1m1 0h2m4 0h2m8 0h1m5 0h2m1 0h1m4 0h1m5 0h1m1 0h1m5 0h2m5 0h7m12 0h2m3 0h4m1 0h1m4 0h3m4 0h1m1 0h1m3 0h1m5 0h1m3 0h5m2 0h4m6 0h7m5 0h2m3 0h1m1 0h1m2 0h2m4 0h1m4 0h1m2 0h1m15 0h2m10 0h1m1 0h2m3 0h2m1 0h1m2 0h1m2 0h3m1 0h4m3 0h3m8 0h1m3 0h1m1 0h1m9 0h1m4 0h3m4 0h1m1 0h1m9 0h2m1 0h1m-373 1h2m1 0h2m14 0h4m6 0h2m2 0h1m1 0h2m2 0h3m31 0h3m2 0h1m4 0h2m8 0h3m4 0h2m1 0h1m5 0h1m8 0h3m3 0h5m2 0h3m4 0h2m5 0h1m8 0h6m13 0h1m6 0h2m4 0h4m3 0h3m3 0h2m1 0h1m2 0h2m1 0h1m1 0h5m2 0h4m5 0h1m6 0h2m4 0h2m2 0h4m7 0h2m4 0h1m2 0h1m16 0h4m2 0h1m3 0h3m1 0h11m2 0h4m1 0h9m8 0h1m1 0h2m2 0h1m4 0h1m4 0h3m1 0h1m1 0h2m4 0h3m1 0h1m8 0h3m-372 1h2m1 0h1m23 0h1m4 0h1m7 0h1m31 0h1m4 0h1m13 0h3m7 0h4m3 0h2m9 0h2m6 0h1m4 0h1m10 0h1m8 0h7m13 0h1m6 0h2m4 0h2m6 0h2m3 0h16m2 0h2m5 0h2m8 0h1m5 0h1m5 0h1m2 0h1m5 0h3m2 0h1m2 0h1m19 0h1m1 0h2m2 0h2m12 0h2m3 0h3m2 0h1m15 0h4m2 0h1m3 0h2m6 0h1m1 0h2m1 0h2m5 0h3m8 0h1m-369 1h1m1 0h4m19 0h2m4 0h1m2 0h1m4 0h2m30 0h3m1 0h2m15 0h2m9 0h2m3 0h3m8 0h1m6 0h1m4 0h1m9 0h3m6 0h1m1 0h7m4 0h1m1 0h3m3 0h1m13 0h5m1 0h3m2 0h2m11 0h4m8 0h1m10 0h1m4 0h8m1 0h2m6 0h2m1 0h2m2 0h1m17 0h1m1 0h1m1 0h2m1 0h3m5 0h1m2 0h3m1 0h2m2 0h7m3 0h2m1 0h1m1 0h1m1 0h1m2 0h1m1 0h4m2 0h1m3 0h2m6 0h1m3 0h1m1 0h4m1 0h5m7 0h1m5 0h1m-376 1h3m3 0h9m2 0h2m1 0h1m1 0h2m1 0h1m1 0h1m3 0h2m1 0h2m5 0h5m1 0h1m1 0h2m1 0h3m1 0h1m2 0h4m10 0h5m6 0h1m1 0h3m1 0h5m4 0h1m2 0h2m1 0h1m5 0h1m8 0h2m5 0h1m4 0h3m1 0h1m2 0h6m6 0h3m1 0h3m1 0h1m3 0h3m2 0h1m3 0h1m12 0h14m11 0h4m2 0h1m1 0h1m1 0h2m11 0h2m4 0h4m5 0h1m1 0h1m3 0h2m3 0h1m1 0h2m7 0h1m8 0h2m1 0h2m1 0h1m1 0h3m4 0h2m1 0h4m1 0h2m2 0h2m3 0h2m2 0h9m1 0h7m2 0h1m4 0h1m1 0h1m4 0h3m1 0h4m1 0h5m1 0h2m2 0h1m3 0h1m4 0h2m-374 1h1m11 0h3m1 0h4m1 0h4m3 0h1m14 0h4m1 0h2m2 0h3m1 0h1m3 0h1m9 0h6m3 0h1m1 0h4m1 0h2m2 0h1m5 0h2m1 0h1m1 0h1m1 0h2m4 0h3m7 0h3m3 0h2m5 0h5m3 0h3m5 0h2m1 0h2m1 0h4m3 0h3m1 0h2m3 0h1m14 0h4m1 0h2m21 0h5m14 0h1m6 0h2m4 0h4m4 0h1m1 0h2m1 0h3m5 0h3m8 0h2m2 0h5m1 0h1m12 0h2m3 0h1m2 0h3m1 0h1m4 0h1m1 0h1m2 0h1m1 0h1m2 0h1m3 0h2m3 0h4m6 0h1m4 0h2m7 0h4m3 0h1m5 0h1m-374 1h5m21 0h2m15 0h4m1 0h2m2 0h3m1 0h1m3 0h1m12 0h8m1 0h3m1 0h2m1 0h2m7 0h4m2 0h1m6 0h1m9 0h1m4 0h5m4 0h2m2 0h4m6 0h1m1 0h5m1 0h1m3 0h1m1 0h1m2 0h1m3 0h1m13 0h2m1 0h5m21 0h3m15 0h1m6 0h2m5 0h5m2 0h1m1 0h3m2 0h2m4 0h2m10 0h2m2 0h7m12 0h2m2 0h1m5 0h3m2 0h5m1 0h4m1 0h2m4 0h1m13 0h1m4 0h2m4 0h1m3 0h1m5 0h1m4 0h2m-370 1h1m20 0h3m15 0h2m1 0h1m5 0h4m4 0h2m9 0h2m4 0h2m7 0h2m9 0h3m1 0h2m1 0h1m1 0h2m3 0h2m8 0h3m6 0h1m16 0h2m2 0h2m2 0h1m1 0h1m2 0h4m1 0h2m1 0h1m1 0h1m14 0h4m19 0h1m4 0h1m7 0h1m9 0h1m7 0h1m5 0h3m1 0h1m2 0h1m1 0h3m1 0h3m20 0h2m17 0h2m2 0h1m5 0h6m7 0h2m6 0h2m13 0h3m7 0h2m3 0h1m5 0h2m-367 1h1m1 0h1m20 0h3m1 0h1m11 0h1m1 0h5m1 0h2m1 0h2m1 0h2m2 0h1m1 0h1m8 0h5m1 0h5m4 0h1m1 0h5m7 0h1m2 0h4m1 0h3m2 0h3m8 0h1m6 0h1m9 0h1m5 0h2m1 0h1m2 0h1m1 0h2m1 0h14m7 0h1m5 0h8m2 0h1m12 0h2m4 0h3m4 0h2m9 0h1m5 0h1m1 0h1m5 0h4m3 0h1m3 0h2m2 0h1m16 0h2m2 0h5m1 0h1m5 0h1m6 0h4m4 0h1m1 0h1m2 0h5m1 0h1m1 0h2m1 0h1m1 0h4m2 0h2m1 0h2m10 0h2m6 0h3m3 0h1m3 0h1m2 0h1m4 0h1m-373 1h2m1 0h3m1 0h5m8 0h1m1 0h1m1 0h5m10 0h4m1 0h1m1 0h4m1 0h3m1 0h1m1 0h2m1 0h2m1 0h4m1 0h9m1 0h2m3 0h3m1 0h4m7 0h1m2 0h4m2 0h2m4 0h2m7 0h2m5 0h3m1 0h1m4 0h2m4 0h5m1 0h5m2 0h1m2 0h2m2 0h1m1 0h1m9 0h2m4 0h3m1 0h5m1 0h2m10 0h4m1 0h1m3 0h2m14 0h1m5 0h4m11 0h1m5 0h1m2 0h1m15 0h3m1 0h1m2 0h5m4 0h2m5 0h2m6 0h4m5 0h11m2 0h1m3 0h4m9 0h3m5 0h4m2 0h2m2 0h2m1 0h1m4 0h2m-368 1h2m4 0h2m6 0h5m9 0h2m7 0h4m7 0h2m6 0h2m3 0h2m8 0h2m7 0h2m10 0h2m5 0h3m7 0h1m8 0h3m5 0h4m7 0h2m10 0h1m1 0h4m4 0h3m9 0h2m6 0h2m16 0h2m3 0h3m2 0h3m14 0h2m7 0h2m10 0h1m5 0h1m2 0h1m19 0h3m3 0h2m12 0h1m5 0h2m1 0h2m3 0h2m2 0h2m6 0h4m3 0h1m2 0h1m11 0h4m9 0h1m1 0h1m3 0h2m1 0h2m-367 1h1m1 0h1m5 0h1m5 0h4m1 0h2m1 0h1m1 0h1m3 0h3m5 0h10m2 0h7m1 0h5m1 0h2m3 0h1m1 0h1m1 0h5m4 0h9m3 0h3m6 0h6m3 0h3m8 0h1m6 0h3m6 0h2m1 0h1m5 0h7m2 0h1m1 0h1m3 0h2m9 0h3m1 0h2m1 0h1m1 0h1m7 0h1m1 0h1m1 0h1m1 0h7m1 0h3m2 0h3m11 0h5m2 0h7m6 0h1m1 0h3m5 0h2m1 0h5m1 0h5m1 0h19m1 0h9m4 0h6m2 0h3m1 0h1m1 0h1m4 0h1m1 0h13m1 0h3m2 0h1m3 0h3m5 0h1m3 0h3m1 0h1m1 0h5m1 0h1m-370 1h4m4 0h1m7 0h10m10 0h4m4 0h3m1 0h1m1 0h1m4 0h3m2 0h5m2 0h10m3 0h6m2 0h2m4 0h2m5 0h7m5 0h1m8 0h3m3 0h4m5 0h1m1 0h3m4 0h1m2 0h5m1 0h4m2 0h1m1 0h1m8 0h11m6 0h9m4 0h1m1 0h1m1 0h1m3 0h2m10 0h1m1 0h1m4 0h4m9 0h5m7 0h4m1 0h4m3 0h2m5 0h1m10 0h1m1 0h2m12 0h3m2 0h2m3 0h6m3 0h10m4 0h6m1 0h2m2 0h4m4 0h2m2 0h2m2 0h4m4 0h2m-369 1h1m1 0h1m4 0h2m5 0h6m2 0h1m5 0h1m9 0h1m3 0h3m2 0h3m4 0h3m1 0h4m1 0h1m3 0h1m1 0h1m1 0h1m1 0h1m8 0h1m1 0h1m1 0h3m3 0h3m7 0h1m1 0h1m1 0h1m5 0h3m8 0h2m5 0h1m4 0h4m4 0h3m1 0h3m1 0h1m5 0h1m1 0h4m7 0h1m2 0h1m7 0h1m8 0h2m9 0h5m2 0h1m8 0h1m2 0h4m5 0h1m1 0h1m10 0h1m1 0h2m5 0h3m1 0h4m1 0h2m3 0h2m4 0h2m9 0h5m9 0h1m3 0h2m1 0h3m2 0h2m9 0h1m1 0h6m4 0h3m1 0h6m4 0h2m5 0h1m2 0h2m3 0h1m1 0h1m5 0h1m-370 1h4m5 0h1m1 0h2m7 0h1m1 0h2m4 0h2m8 0h2m5 0h1m2 0h1m7 0h1m5 0h3m2 0h8m7 0h2m1 0h2m1 0h2m4 0h2m6 0h6m7 0h2m8 0h1m5 0h3m1 0h1m3 0h1m3 0h2m5 0h3m4 0h3m10 0h2m1 0h2m6 0h2m8 0h2m5 0h1m10 0h1m7 0h2m1 0h1m8 0h3m10 0h3m4 0h4m1 0h3m32 0h6m1 0h2m2 0h1m5 0h1m3 0h1m8 0h3m5 0h2m5 0h2m1 0h1m2 0h2m3 0h3m4 0h2m1 0h2m3 0h2m1 0h1m4 0h2m-369 1h5m3 0h4m7 0h2m1 0h1m1 0h3m1 0h2m2 0h1m5 0h1m5 0h2m1 0h1m6 0h2m5 0h3m7 0h1m1 0h3m9 0h4m3 0h1m6 0h6m1 0h5m4 0h1m8 0h2m6 0h3m2 0h3m3 0h1m5 0h4m1 0h3m9 0h5m1 0h2m3 0h1m1 0h5m2 0h1m3 0h2m4 0h2m1 0h2m3 0h1m3 0h1m7 0h4m10 0h1m9 0h4m3 0h1m1 0h4m2 0h1m1 0h3m2 0h1m2 0h1m13 0h2m1 0h1m4 0h1m5 0h2m1 0h4m5 0h1m3 0h2m1 0h1m1 0h7m4 0h5m1 0h1m1 0h4m1 0h5m1 0h3m8 0h2m5 0h1m5 0h1m-372 1h1m1 0h3m2 0h1m2 0h1m7 0h2m1 0h1m1 0h4m1 0h2m2 0h1m1 0h2m5 0h1m6 0h2m16 0h1m6 0h3m1 0h2m9 0h4m3 0h1m5 0h1m1 0h1m9 0h2m3 0h3m7 0h3m3 0h4m4 0h1m2 0h1m9 0h2m11 0h1m3 0h2m1 0h2m2 0h3m4 0h4m3 0h2m3 0h1m1 0h4m2 0h2m1 0h1m1 0h1m7 0h1m12 0h2m8 0h1m6 0h1m5 0h1m2 0h2m2 0h7m1 0h3m3 0h1m3 0h2m1 0h7m7 0h1m10 0h1m4 0h4m5 0h2m8 0h3m10 0h5m9 0h3m3 0h1m4 0h2m-374 1h3m1 0h3m2 0h3m7 0h8m6 0h1m3 0h1m5 0h1m6 0h2m15 0h1m9 0h3m16 0h1m6 0h3m10 0h1m5 0h1m9 0h1m6 0h1m3 0h2m2 0h2m21 0h1m2 0h3m1 0h2m1 0h3m8 0h1m2 0h3m3 0h3m3 0h6m1 0h3m5 0h1m13 0h1m8 0h1m2 0h1m1 0h2m6 0h4m1 0h1m7 0h2m2 0h5m2 0h3m14 0h2m10 0h1m1 0h2m3 0h2m5 0h2m9 0h2m10 0h3m1 0h1m1 0h2m1 0h1m5 0h2m3 0h1m5 0h1m-375 1h4m1 0h1m1 0h1m1 0h1m1 0h3m2 0h1m4 0h4m1 0h2m6 0h1m2 0h2m5 0h1m23 0h2m9 0h2m14 0h3m5 0h1m8 0h1m4 0h1m5 0h2m8 0h3m4 0h3m2 0h1m3 0h1m7 0h1m3 0h1m1 0h1m6 0h1m3 0h3m1 0h3m11 0h1m1 0h2m1 0h1m8 0h1m1 0h2m1 0h2m2 0h2m5 0h1m13 0h1m7 0h1m2 0h3m4 0h1m2 0h1m3 0h3m1 0h1m13 0h1m2 0h1m10 0h3m15 0h2m1 0h3m20 0h1m6 0h1m5 0h1m1 0h2m1 0h3m1 0h1m2 0h4m2 0h2m3 0h2m-370 1h6m2 0h8m1 0h4m1 0h1m6 0h1m9 0h1m24 0h1m24 0h1m7 0h1m8 0h2m4 0h1m6 0h3m8 0h2m5 0h4m3 0h2m5 0h3m1 0h4m3 0h1m2 0h1m2 0h2m3 0h3m11 0h6m7 0h1m1 0h6m1 0h1m7 0h1m2 0h1m7 0h1m2 0h1m7 0h1m2 0h1m5 0h5m5 0h3m13 0h1m1 0h2m8 0h2m2 0h2m19 0h3m18 0h1m5 0h2m1 0h1m3 0h1m6 0h4m4 0h3m1 0h1m-372 1h1m7 0h15m2 0h1m1 0h3m6 0h2m2 0h4m2 0h1m2 0h1m2 0h1m3 0h1m1 0h2m6 0h1m3 0h3m8 0h4m1 0h5m4 0h4m1 0h5m4 0h4m1 0h4m1 0h4m5 0h2m8 0h1m8 0h3m1 0h2m4 0h2m1 0h13m1 0h7m4 0h10m2 0h3m1 0h1m1 0h3m1 0h6m1 0h1m1 0h3m1 0h1m3 0h1m1 0h2m4 0h1m1 0h5m2 0h5m2 0h2m2 0h4m1 0h4m2 0h1m1 0h1m1 0h4m10 0h4m5 0h1m1 0h3m3 0h3m3 0h1m3 0h4m1 0h1m1 0h2m3 0h5m2 0h1m1 0h7m3 0h12m1 0h2m6 0h1m1 0h1m5 0h2m1 0h1m4 0h1m-377 1h1m6 0h1m10 0h1m3 0h1m1 0h3m1 0h2m7 0h1m1 0h1m1 0h3m1 0h2m1 0h5m2 0h3m1 0h1m5 0h2m5 0h2m6 0h1m1 0h4m1 0h1m2 0h2m5 0h3m8 0h1m8 0h1m4 0h1m6 0h1m8 0h2m6 0h5m5 0h3m25 0h1m9 0h1m4 0h9m3 0h4m3 0h3m2 0h2m6 0h4m5 0h1m6 0h1m2 0h2m5 0h2m1 0h1m1 0h4m4 0h1m18 0h3m8 0h2m1 0h2m1 0h2m3 0h4m1 0h3m5 0h5m6 0h1m14 0h1m2 0h2m4 0h2m1 0h1m4 0h1m2 0h2m3 0h2m-370 1h1m9 0h3m2 0h1m2 0h3m1 0h1m6 0h1m1 0h3m5 0h1m1 0h1m3 0h1m2 0h3m1 0h2m4 0h3m5 0h3m1 0h1m1 0h9m3 0h2m3 0h2m4 0h1m2 0h4m8 0h2m3 0h2m1 0h1m3 0h3m7 0h2m8 0h1m5 0h1m2 0h1m6 0h5m11 0h1m1 0h2m9 0h1m2 0h1m1 0h3m2 0h2m1 0h1m2 0h3m1 0h1m3 0h3m3 0h1m9 0h1m4 0h1m5 0h2m2 0h3m5 0h2m1 0h6m4 0h1m18 0h3m3 0h2m4 0h2m1 0h2m12 0h1m11 0h1m4 0h3m1 0h1m10 0h2m2 0h2m2 0h3m1 0h1m1 0h1m2 0h1m3 0h1m3 0h2m-370 1h3m1 0h7m1 0h4m1 0h2m3 0h1m6 0h3m7 0h1m1 0h1m2 0h2m2 0h1m1 0h1m2 0h1m3 0h2m1 0h1m6 0h5m1 0h7m5 0h1m8 0h2m1 0h1m13 0h1m4 0h3m5 0h1m8 0h3m5 0h4m2 0h2m2 0h1m5 0h1m3 0h2m5 0h3m2 0h4m10 0h1m1 0h2m2 0h2m1 0h12m2 0h1m1 0h2m3 0h2m8 0h1m4 0h1m4 0h2m3 0h1m1 0h8m1 0h6m4 0h1m8 0h2m2 0h1m5 0h3m2 0h3m4 0h3m13 0h2m10 0h2m6 0h3m7 0h1m1 0h1m1 0h1m2 0h2m1 0h4m1 0h3m2 0h1m3 0h1m3 0h2m-370 1h1m1 0h2m18 0h1m6 0h1m9 0h1m1 0h1m1 0h1m4 0h3m1 0h1m5 0h1m1 0h3m1 0h1m1 0h3m1 0h3m6 0h1m4 0h2m8 0h4m12 0h2m3 0h4m5 0h2m9 0h1m8 0h1m1 0h1m4 0h1m5 0h1m2 0h3m4 0h4m5 0h1m10 0h1m2 0h1m1 0h2m4 0h1m2 0h1m2 0h2m1 0h1m1 0h5m4 0h1m1 0h1m6 0h1m4 0h1m5 0h1m3 0h4m1 0h6m2 0h4m4 0h1m3 0h1m2 0h2m1 0h1m1 0h2m2 0h1m4 0h1m9 0h1m1 0h1m12 0h3m10 0h4m4 0h3m6 0h5m2 0h1m10 0h1m2 0h1m3 0h1m-368 1h1m1 0h2m14 0h1m2 0h1m3 0h1m6 0h1m2 0h2m5 0h1m1 0h1m1 0h1m4 0h3m1 0h2m4 0h1m3 0h3m3 0h3m8 0h1m5 0h3m1 0h1m3 0h2m7 0h6m3 0h2m3 0h5m4 0h3m7 0h2m6 0h4m4 0h1m5 0h1m4 0h1m6 0h2m3 0h3m10 0h1m1 0h2m1 0h3m2 0h2m1 0h9m2 0h4m2 0h1m1 0h2m6 0h1m2 0h2m5 0h1m4 0h1m2 0h2m3 0h7m1 0h1m3 0h1m3 0h2m1 0h2m2 0h2m1 0h4m4 0h2m8 0h2m11 0h1m1 0h1m10 0h2m3 0h2m5 0h1m1 0h1m4 0h5m2 0h2m9 0h1m2 0h1m3 0h1m-371 1h5m1 0h10m1 0h1m2 0h2m1 0h2m3 0h1m6 0h1m1 0h3m5 0h5m3 0h5m1 0h1m2 0h3m3 0h3m4 0h2m7 0h5m1 0h6m2 0h3m6 0h1m5 0h1m3 0h2m7 0h1m1 0h1m4 0h2m7 0h2m6 0h3m4 0h4m2 0h6m5 0h3m2 0h3m9 0h10m1 0h9m1 0h1m1 0h1m3 0h1m1 0h1m1 0h3m1 0h1m5 0h2m1 0h4m3 0h4m2 0h1m1 0h2m1 0h2m1 0h2m2 0h5m3 0h1m3 0h5m2 0h2m2 0h4m4 0h4m3 0h1m1 0h3m9 0h3m10 0h5m1 0h2m5 0h3m4 0h3m2 0h1m1 0h2m8 0h2m2 0h1m3 0h1m-372 1h1m15 0h4m5 0h1m3 0h1m6 0h1m10 0h1m5 0h1m1 0h1m2 0h2m2 0h2m1 0h1m2 0h1m6 0h1m4 0h3m6 0h2m7 0h2m1 0h1m6 0h1m2 0h1m1 0h1m3 0h1m9 0h3m5 0h2m7 0h3m6 0h1m7 0h1m12 0h1m2 0h1m4 0h2m7 0h1m7 0h3m9 0h5m2 0h3m4 0h3m6 0h1m4 0h1m6 0h1m2 0h2m1 0h2m1 0h2m1 0h1m1 0h1m7 0h1m4 0h1m13 0h2m6 0h1m2 0h3m2 0h4m5 0h2m16 0h2m7 0h1m6 0h1m3 0h3m11 0h1m2 0h1m3 0h1m-366 1h5m1 0h1m6 0h1m4 0h2m3 0h1m4 0h3m9 0h3m2 0h3m1 0h1m5 0h3m1 0h4m4 0h3m2 0h2m2 0h4m11 0h3m1 0h4m3 0h5m4 0h1m10 0h2m6 0h1m9 0h3m4 0h2m1 0h1m4 0h4m5 0h1m1 0h3m1 0h4m3 0h4m1 0h1m1 0h1m8 0h1m11 0h5m2 0h3m3 0h2m1 0h3m4 0h1m3 0h4m4 0h2m1 0h1m4 0h3m1 0h1m1 0h1m3 0h1m1 0h3m2 0h2m7 0h1m1 0h2m4 0h2m5 0h6m5 0h6m7 0h1m1 0h1m1 0h2m1 0h1m1 0h1m8 0h3m5 0h1m3 0h2m10 0h1m2 0h1m2 0h3m1 0h1m-367 1h2m1 0h5m4 0h3m2 0h1m1 0h6m3 0h4m11 0h1m1 0h3m2 0h1m4 0h4m8 0h2m3 0h1m6 0h2m3 0h2m11 0h3m4 0h3m5 0h1m1 0h1m2 0h1m4 0h5m4 0h3m9 0h1m5 0h3m6 0h2m4 0h11m4 0h6m9 0h1m3 0h3m1 0h4m1 0h1m1 0h1m3 0h1m1 0h2m2 0h6m2 0h3m5 0h2m5 0h3m4 0h6m3 0h5m2 0h3m6 0h5m4 0h2m6 0h3m9 0h1m9 0h11m7 0h4m5 0h2m1 0h3m9 0h2m2 0h1m3 0h2m1 0h1m-366 1h2m8 0h1m4 0h3m12 0h1m8 0h2m1 0h2m2 0h1m2 0h1m6 0h2m8 0h2m3 0h1m5 0h3m2 0h3m10 0h1m6 0h2m1 0h1m4 0h4m1 0h2m3 0h1m4 0h1m6 0h2m8 0h2m4 0h1m1 0h1m5 0h3m6 0h2m10 0h4m1 0h2m9 0h1m2 0h2m1 0h2m3 0h5m2 0h3m1 0h1m1 0h3m5 0h3m5 0h1m1 0h1m5 0h1m1 0h1m3 0h1m1 0h1m2 0h2m2 0h6m3 0h2m5 0h1m1 0h1m2 0h1m3 0h3m1 0h1m3 0h4m8 0h2m10 0h3m1 0h4m1 0h2m6 0h4m6 0h1m3 0h1m13 0h1m2 0h1m2 0h1m-357 1h2m4 0h4m12 0h1m2 0h3m2 0h1m1 0h1m2 0h1m1 0h3m1 0h1m1 0h1m4 0h2m5 0h1m1 0h1m4 0h2m7 0h1m2 0h3m10 0h1m7 0h2m4 0h5m5 0h2m4 0h2m6 0h2m8 0h1m4 0h3m7 0h1m1 0h1m3 0h3m13 0h4m9 0h1m2 0h2m1 0h2m3 0h3m3 0h7m2 0h1m6 0h2m5 0h3m5 0h3m3 0h3m1 0h3m1 0h3m6 0h1m6 0h4m1 0h2m5 0h3m5 0h1m20 0h1m1 0h3m1 0h1m1 0h2m1 0h2m1 0h4m6 0h1m3 0h1m3 0h1m13 0h1m2 0h1m2 0h1m4 0h2m-376 1h2m1 0h1m2 0h1m5 0h2m4 0h1m1 0h1m12 0h3m1 0h4m2 0h1m1 0h8m1 0h3m2 0h12m2 0h2m8 0h2m1 0h4m6 0h1m2 0h8m6 0h1m1 0h4m4 0h1m1 0h1m1 0h1m3 0h1m7 0h1m8 0h2m3 0h5m5 0h10m1 0h6m1 0h1m3 0h4m5 0h1m2 0h2m1 0h3m1 0h2m3 0h3m3 0h7m1 0h1m6 0h4m6 0h3m3 0h3m5 0h3m3 0h3m6 0h1m3 0h4m2 0h2m1 0h1m5 0h4m1 0h1m1 0h2m20 0h7m5 0h2m8 0h3m1 0h3m2 0h2m13 0h1m2 0h1m2 0h1m3 0h3m-377 1h5m1 0h2m2 0h5m2 0h1m1 0h3m11 0h2m1 0h1m3 0h2m1 0h1m4 0h1m2 0h3m1 0h3m1 0h1m1 0h2m10 0h1m11 0h1m3 0h2m5 0h2m8 0h2m5 0h1m9 0h6m1 0h1m1 0h1m1 0h1m5 0h2m8 0h2m6 0h1m10 0h1m3 0h2m5 0h3m11 0h2m1 0h3m3 0h1m1 0h2m3 0h3m3 0h1m7 0h1m7 0h3m8 0h1m5 0h1m1 0h2m7 0h1m9 0h1m2 0h1m1 0h2m6 0h1m8 0h3m23 0h1m20 0h1m1 0h3m4 0h3m13 0h1m2 0h1m2 0h1m4 0h2m-374 1h1m5 0h1m6 0h2m1 0h3m2 0h1m4 0h1m1 0h1m1 0h4m2 0h1m1 0h1m1 0h1m3 0h1m2 0h2m1 0h1m1 0h3m1 0h1m1 0h2m8 0h1m1 0h1m4 0h1m6 0h1m3 0h2m2 0h1m2 0h2m2 0h1m4 0h2m6 0h1m9 0h1m1 0h1m2 0h7m6 0h1m9 0h3m4 0h1m9 0h2m10 0h4m11 0h5m2 0h2m6 0h3m3 0h1m7 0h1m6 0h1m6 0h1m4 0h2m4 0h2m1 0h4m4 0h1m9 0h1m2 0h2m1 0h1m5 0h2m8 0h3m23 0h1m7 0h1m1 0h2m9 0h5m5 0h2m12 0h1m3 0h1m2 0h1m3 0h3m-375 1h2m5 0h1m6 0h2m3 0h1m1 0h2m1 0h1m1 0h5m3 0h1m2 0h2m2 0h1m3 0h1m2 0h2m1 0h1m1 0h3m1 0h1m1 0h2m7 0h2m1 0h1m3 0h2m6 0h1m6 0h2m1 0h1m1 0h5m4 0h2m4 0h1m9 0h1m1 0h2m7 0h2m1 0h1m4 0h3m9 0h1m4 0h1m24 0h2m6 0h2m1 0h1m1 0h4m2 0h2m2 0h1m2 0h4m1 0h1m1 0h1m6 0h2m6 0h1m1 0h2m2 0h2m5 0h2m9 0h1m4 0h2m8 0h1m2 0h3m5 0h1m1 0h1m2 0h2m6 0h1m23 0h1m6 0h3m1 0h2m5 0h2m1 0h5m4 0h1m1 0h1m11 0h1m4 0h1m2 0h1m-362 1h1m5 0h3m2 0h13m2 0h2m1 0h3m2 0h1m3 0h1m1 0h3m1 0h5m1 0h3m8 0h2m1 0h1m4 0h1m6 0h1m6 0h3m6 0h4m2 0h1m4 0h1m8 0h2m10 0h4m6 0h3m7 0h2m3 0h5m12 0h3m6 0h7m1 0h3m1 0h4m1 0h3m1 0h2m2 0h6m1 0h2m6 0h2m5 0h2m1 0h1m1 0h3m6 0h2m8 0h4m2 0h1m7 0h2m3 0h2m4 0h2m1 0h3m1 0h3m1 0h1m2 0h2m21 0h1m7 0h7m1 0h3m1 0h5m6 0h3m11 0h1m4 0h1m2 0h1m-362 1h1m6 0h2m2 0h3m1 0h2m9 0h2m2 0h3m1 0h1m2 0h1m2 0h3m1 0h5m1 0h2m1 0h1m8 0h1m1 0h1m3 0h2m6 0h1m5 0h2m11 0h1m2 0h2m1 0h2m8 0h3m4 0h1m1 0h2m3 0h1m1 0h1m1 0h1m6 0h2m7 0h2m6 0h1m11 0h1m2 0h3m22 0h2m1 0h2m1 0h8m1 0h1m7 0h1m8 0h5m7 0h2m10 0h1m1 0h1m7 0h1m4 0h3m5 0h1m3 0h1m3 0h3m3 0h1m14 0h1m5 0h2m6 0h2m1 0h1m2 0h4m4 0h2m7 0h2m11 0h1m1 0h1m2 0h1m1 0h1m2 0h1m-363 1h1m7 0h2m1 0h1m2 0h2m1 0h1m9 0h2m1 0h4m1 0h1m2 0h1m1 0h1m5 0h1m2 0h1m2 0h3m7 0h2m1 0h1m11 0h1m6 0h1m11 0h1m3 0h2m8 0h1m1 0h1m1 0h1m3 0h3m1 0h4m2 0h4m6 0h2m7 0h2m5 0h2m2 0h1m3 0h5m4 0h2m1 0h1m20 0h1m1 0h2m2 0h3m3 0h1m1 0h2m5 0h1m9 0h2m11 0h1m1 0h1m8 0h1m1 0h1m6 0h1m6 0h2m4 0h2m2 0h2m2 0h1m1 0h2m3 0h3m1 0h1m9 0h2m6 0h1m7 0h3m1 0h1m3 0h3m2 0h2m6 0h3m3 0h1m6 0h3m2 0h2m1 0h1m2 0h1m-365 1h2m8 0h3m6 0h1m9 0h2m6 0h1m2 0h1m1 0h1m1 0h1m2 0h5m1 0h1m13 0h1m11 0h1m5 0h1m12 0h2m10 0h4m1 0h2m3 0h1m5 0h2m4 0h2m7 0h1m8 0h3m4 0h7m3 0h2m5 0h5m17 0h2m1 0h2m1 0h4m1 0h1m1 0h1m2 0h1m5 0h1m10 0h2m10 0h3m8 0h2m7 0h1m3 0h3m2 0h1m3 0h2m2 0h2m1 0h8m2 0h6m13 0h1m4 0h1m1 0h3m1 0h1m1 0h2m2 0h1m1 0h1m4 0h1m1 0h1m2 0h4m2 0h2m6 0h1m4 0h3m3 0h1m-371 1h8m8 0h3m6 0h1m1 0h1m2 0h1m1 0h2m1 0h2m6 0h4m1 0h3m3 0h4m1 0h1m2 0h1m3 0h1m6 0h1m7 0h5m5 0h1m13 0h1m7 0h1m1 0h1m1 0h1m7 0h2m10 0h5m5 0h3m8 0h1m10 0h1m3 0h2m9 0h2m17 0h4m2 0h6m3 0h1m5 0h1m11 0h1m12 0h1m8 0h2m6 0h1m3 0h1m1 0h2m1 0h2m4 0h1m2 0h7m3 0h1m5 0h1m1 0h1m3 0h1m9 0h1m3 0h5m1 0h2m2 0h1m1 0h3m4 0h4m1 0h1m13 0h2m4 0h3m3 0h1m-363 1h5m2 0h2m3 0h4m1 0h7m1 0h9m6 0h1m10 0h4m1 0h12m1 0h1m1 0h2m10 0h3m8 0h3m7 0h9m1 0h1m1 0h1m11 0h1m4 0h5m3 0h2m7 0h2m8 0h5m1 0h3m8 0h1m15 0h3m1 0h2m3 0h7m1 0h7m10 0h2m4 0h2m2 0h1m2 0h2m6 0h1m1 0h2m6 0h2m2 0h2m1 0h1m1 0h7m1 0h1m6 0h5m4 0h4m2 0h2m4 0h1m1 0h1m2 0h2m2 0h2m2 0h2m1 0h1m1 0h1m4 0h1m4 0h1m1 0h8m1 0h1m1 0h1m2 0h3m5 0h1m4 0h2m2 0h5m-370 1h3m1 0h2m1 0h2m3 0h3m1 0h1m10 0h1m2 0h5m6 0h1m2 0h1m2 0h1m5 0h11m1 0h1m2 0h6m11 0h2m7 0h5m2 0h1m1 0h7m1 0h5m1 0h1m1 0h1m8 0h2m5 0h1m1 0h2m4 0h2m7 0h3m5 0h2m1 0h1m3 0h3m7 0h3m13 0h5m1 0h2m1 0h3m1 0h1m1 0h2m2 0h1m1 0h4m9 0h3m1 0h1m1 0h3m1 0h2m1 0h6m2 0h2m1 0h2m4 0h1m1 0h2m3 0h6m1 0h4m1 0h7m1 0h4m4 0h5m1 0h4m1 0h4m3 0h1m1 0h16m2 0h16m1 0h4m4 0h3m2 0h1m3 0h6m-369 1h8m4 0h4m1 0h1m1 0h1m5 0h2m1 0h1m11 0h1m1 0h2m1 0h2m4 0h2m5 0h2m2 0h2m3 0h6m5 0h3m2 0h1m10 0h1m2 0h1m1 0h11m1 0h1m2 0h1m1 0h3m7 0h1m6 0h5m5 0h2m8 0h1m6 0h3m2 0h2m11 0h1m11 0h2m3 0h3m1 0h8m3 0h4m2 0h1m11 0h3m13 0h1m10 0h5m2 0h4m2 0h3m2 0h1m6 0h3m1 0h1m1 0h1m8 0h2m3 0h1m7 0h1m1 0h3m15 0h1m9 0h2m7 0h3m2 0h1m2 0h2m2 0h1m4 0h1m2 0h2m-370 1h1m11 0h1m3 0h6m1 0h1m2 0h4m11 0h8m1 0h1m2 0h1m4 0h3m1 0h3m13 0h2m1 0h1m2 0h1m9 0h2m1 0h16m1 0h2m1 0h5m4 0h2m10 0h1m6 0h1m8 0h3m4 0h3m3 0h1m4 0h2m5 0h1m10 0h3m2 0h6m1 0h6m6 0h1m1 0h4m8 0h5m1 0h1m9 0h4m3 0h1m2 0h2m1 0h1m1 0h2m3 0h1m1 0h1m1 0h4m1 0h2m5 0h6m1 0h1m8 0h2m2 0h3m1 0h2m3 0h1m2 0h2m5 0h1m1 0h3m2 0h3m4 0h1m4 0h3m6 0h1m4 0h2m1 0h2m2 0h2m3 0h2m1 0h3m-377 1h1m3 0h4m8 0h4m2 0h3m3 0h10m1 0h2m1 0h4m2 0h10m1 0h1m1 0h2m2 0h9m7 0h1m1 0h4m1 0h6m8 0h24m1 0h2m3 0h8m5 0h5m2 0h3m8 0h1m5 0h2m3 0h2m2 0h3m5 0h1m9 0h21m3 0h7m8 0h7m12 0h1m2 0h2m1 0h8m2 0h4m1 0h7m7 0h6m14 0h4m3 0h5m4 0h3m2 0h1m1 0h5m2 0h2m4 0h2m1 0h1m1 0h5m4 0h3m1 0h1m2 0h2m3 0h3m1 0h5m-380 1h1m2 0h2m5 0h4m1 0h1m16 0h1m4 0h2m1 0h2m2 0h2m1 0h2m2 0h1m2 0h1m2 0h1m1 0h4m1 0h1m4 0h1m3 0h1m6 0h3m7 0h1m2 0h2m6 0h1m2 0h1m4 0h1m1 0h6m1 0h1m5 0h5m2 0h2m6 0h1m9 0h1m4 0h2m7 0h2m3 0h1m1 0h1m4 0h2m8 0h2m8 0h1m6 0h1m3 0h1m6 0h1m2 0h1m17 0h1m18 0h3m11 0h1m5 0h2m3 0h1m2 0h1m6 0h1m2 0h1m1 0h2m14 0h1m7 0h1m2 0h1m5 0h2m1 0h2m2 0h1m2 0h1m7 0h6m8 0h1m2 0h2m2 0h2m3 0h2m1 0h2m-375 1h1m3 0h1m4 0h1m3 0h2m16 0h2m3 0h4m2 0h2m2 0h14m1 0h10m1 0h2m6 0h3m5 0h3m3 0h1m6 0h1m1 0h8m5 0h6m1 0h3m2 0h2m2 0h2m5 0h1m9 0h1m5 0h1m8 0h9m3 0h1m9 0h1m1 0h1m6 0h2m1 0h1m1 0h8m1 0h1m1 0h3m1 0h2m8 0h3m6 0h2m2 0h2m1 0h1m13 0h4m5 0h1m1 0h2m4 0h10m5 0h2m1 0h3m1 0h1m14 0h2m1 0h1m1 0h1m1 0h1m2 0h1m5 0h1m4 0h6m11 0h4m7 0h2m1 0h1m2 0h3m4 0h1m1 0h2m-371 1h1m3 0h2m2 0h2m8 0h1m2 0h1m4 0h1m1 0h1m5 0h2m1 0h2m12 0h2m13 0h2m3 0h1m5 0h1m5 0h2m5 0h2m5 0h2m18 0h3m5 0h1m3 0h1m5 0h3m7 0h1m5 0h3m9 0h1m4 0h2m1 0h4m7 0h3m7 0h4m1 0h1m5 0h10m7 0h4m7 0h1m1 0h5m1 0h1m14 0h1m4 0h3m5 0h2m8 0h1m2 0h2m1 0h2m1 0h1m3 0h2m14 0h5m1 0h1m1 0h1m5 0h2m7 0h1m5 0h1m10 0h1m3 0h2m3 0h3m2 0h3m4 0h3m-371 1h1m3 0h3m7 0h1m1 0h7m1 0h1m2 0h3m9 0h2m5 0h1m2 0h1m3 0h1m1 0h2m2 0h1m7 0h2m2 0h4m1 0h2m7 0h3m1 0h1m2 0h2m4 0h2m18 0h1m1 0h1m1 0h1m2 0h1m3 0h2m7 0h1m1 0h1m5 0h3m5 0h1m9 0h2m4 0h1m4 0h1m7 0h1m9 0h1m2 0h4m1 0h1m2 0h2m1 0h4m2 0h1m1 0h1m1 0h1m13 0h1m7 0h5m11 0h1m4 0h3m4 0h3m7 0h2m1 0h1m1 0h4m1 0h1m4 0h1m14 0h2m4 0h1m1 0h3m4 0h1m1 0h1m3 0h4m3 0h2m8 0h2m3 0h1m1 0h2m1 0h4m2 0h1m5 0h1m-369 1h1m4 0h1m8 0h3m6 0h3m4 0h2m9 0h2m2 0h6m2 0h3m1 0h1m1 0h2m3 0h1m3 0h2m2 0h1m2 0h2m11 0h3m3 0h1m4 0h2m17 0h2m1 0h3m2 0h1m2 0h3m7 0h3m7 0h2m4 0h3m8 0h1m3 0h4m2 0h4m4 0h1m1 0h1m3 0h1m3 0h1m1 0h2m1 0h4m1 0h3m7 0h5m13 0h2m1 0h2m3 0h1m3 0h2m10 0h1m2 0h5m5 0h2m7 0h2m1 0h1m1 0h2m3 0h1m3 0h2m13 0h2m1 0h1m3 0h1m3 0h1m4 0h3m2 0h5m3 0h2m7 0h1m4 0h1m3 0h4m4 0h1m5 0h1m-371 1h3m3 0h2m8 0h3m6 0h3m5 0h4m3 0h1m3 0h5m3 0h11m1 0h4m2 0h2m1 0h2m17 0h8m17 0h6m2 0h1m1 0h2m3 0h2m2 0h4m1 0h5m6 0h1m6 0h2m7 0h2m5 0h1m5 0h1m4 0h3m2 0h2m3 0h4m8 0h1m3 0h1m3 0h6m13 0h4m2 0h2m4 0h1m9 0h2m1 0h4m6 0h4m1 0h5m3 0h1m1 0h2m3 0h1m1 0h1m2 0h1m14 0h3m3 0h2m1 0h2m6 0h1m1 0h5m4 0h2m1 0h7m3 0h1m4 0h4m3 0h1m6 0h1m5 0h1m-376 1h1m3 0h3m7 0h2m9 0h2m6 0h3m2 0h2m13 0h2m1 0h1m4 0h2m1 0h3m2 0h5m20 0h1m3 0h1m16 0h3m1 0h3m1 0h4m3 0h3m1 0h1m3 0h1m5 0h1m6 0h1m7 0h1m8 0h2m4 0h3m3 0h1m4 0h3m1 0h1m5 0h4m7 0h1m3 0h2m8 0h1m12 0h6m1 0h2m3 0h2m8 0h3m2 0h3m9 0h2m1 0h4m2 0h11m2 0h2m12 0h4m1 0h1m2 0h1m1 0h2m6 0h7m4 0h3m10 0h1m2 0h1m1 0h1m5 0h3m1 0h1m3 0h1m4 0h2m-377 1h2m5 0h1m8 0h1m8 0h4m4 0h4m12 0h1m3 0h5m4 0h4m8 0h1m19 0h2m2 0h2m17 0h5m5 0h1m5 0h1m1 0h1m3 0h1m4 0h2m5 0h2m7 0h1m9 0h3m4 0h5m6 0h3m16 0h1m3 0h2m8 0h1m13 0h1m3 0h2m6 0h1m10 0h1m1 0h1m12 0h5m11 0h2m5 0h1m15 0h3m1 0h1m1 0h3m6 0h5m7 0h2m10 0h1m1 0h4m7 0h3m3 0h1m-365 1h2m7 0h1m12 0h1m5 0h9m5 0h3m1 0h1m12 0h2m4 0h1m1 0h1m21 0h2m1 0h3m15 0h1m4 0h1m4 0h1m6 0h1m1 0h1m1 0h1m1 0h1m5 0h1m6 0h1m2 0h1m4 0h3m9 0h1m7 0h2m6 0h1m10 0h1m7 0h1m3 0h2m8 0h6m3 0h1m1 0h1m1 0h4m1 0h4m1 0h1m2 0h1m10 0h3m16 0h3m5 0h1m1 0h4m1 0h1m2 0h1m15 0h4m1 0h1m3 0h1m1 0h2m7 0h2m5 0h3m9 0h7m3 0h1m1 0h2m1 0h2m3 0h1m5 0h1m-373 1h2m4 0h5m4 0h2m1 0h1m5 0h1m1 0h1m11 0h2m4 0h1m1 0h4m12 0h3m1 0h3m8 0h1m1 0h2m11 0h3m1 0h3m2 0h2m9 0h1m1 0h1m1 0h4m1 0h2m6 0h1m1 0h3m1 0h1m5 0h1m1 0h1m4 0h1m1 0h4m1 0h2m1 0h3m7 0h2m5 0h3m2 0h1m2 0h2m5 0h1m1 0h4m4 0h3m4 0h2m1 0h1m11 0h9m2 0h3m2 0h6m8 0h3m1 0h1m2 0h1m8 0h2m5 0h3m2 0h3m3 0h5m14 0h2m2 0h2m1 0h1m3 0h2m1 0h3m1 0h1m4 0h9m8 0h3m7 0h3m8 0h1m4 0h2m-374 1h2m3 0h2m8 0h5m5 0h4m11 0h1m3 0h2m4 0h1m14 0h2m10 0h3m1 0h1m6 0h1m5 0h2m3 0h1m1 0h3m9 0h6m1 0h2m1 0h1m5 0h2m1 0h5m2 0h1m2 0h3m4 0h3m1 0h3m1 0h1m3 0h2m7 0h3m4 0h2m1 0h2m1 0h1m6 0h4m1 0h2m3 0h4m4 0h4m12 0h3m1 0h5m2 0h1m16 0h1m1 0h2m1 0h1m1 0h2m7 0h1m1 0h1m1 0h1m5 0h1m1 0h1m24 0h1m5 0h1m1 0h1m4 0h1m1 0h5m12 0h1m1 0h1m6 0h2m7 0h2m10 0h1m3 0h1m1 0h1m-373 1h1m2 0h3m6 0h2m1 0h1m2 0h2m1 0h1m5 0h3m9 0h1m4 0h1m3 0h5m24 0h4m5 0h2m4 0h1m5 0h1m18 0h6m6 0h1m7 0h2m1 0h2m5 0h1m2 0h7m4 0h2m8 0h1m5 0h1m4 0h1m6 0h2m1 0h4m3 0h2m5 0h4m12 0h5m1 0h1m2 0h1m1 0h2m14 0h6m1 0h4m6 0h8m3 0h3m20 0h1m2 0h2m4 0h5m2 0h5m1 0h2m1 0h6m4 0h4m7 0h1m6 0h3m10 0h1m2 0h2m1 0h4m-377 1h1m3 0h1m7 0h4m4 0h3m7 0h1m9 0h1m4 0h1m5 0h3m16 0h1m6 0h1m3 0h1m4 0h8m5 0h2m16 0h2m11 0h1m8 0h4m5 0h1m2 0h1m5 0h1m5 0h1m8 0h2m3 0h2m3 0h1m6 0h3m1 0h1m1 0h2m2 0h2m5 0h3m1 0h1m14 0h5m1 0h1m3 0h1m13 0h1m10 0h1m1 0h1m3 0h2m6 0h1m25 0h4m10 0h1m6 0h1m1 0h3m5 0h2m13 0h2m5 0h2m12 0h1m1 0h1m-370 1h2m2 0h1m8 0h7m1 0h2m1 0h1m4 0h2m9 0h2m2 0h2m4 0h1m2 0h1m13 0h1m1 0h3m5 0h3m1 0h1m3 0h1m14 0h1m2 0h1m1 0h6m7 0h1m9 0h3m7 0h5m5 0h1m2 0h1m5 0h2m1 0h1m2 0h3m7 0h2m7 0h1m10 0h4m3 0h1m7 0h2m14 0h1m1 0h4m1 0h1m2 0h2m13 0h1m10 0h6m1 0h1m6 0h1m1 0h1m23 0h1m9 0h1m3 0h2m4 0h6m6 0h5m10 0h1m6 0h3m10 0h2m-372 1h3m1 0h2m1 0h8m6 0h2m1 0h4m5 0h1m1 0h2m7 0h1m1 0h3m2 0h3m1 0h2m12 0h3m2 0h3m1 0h1m3 0h3m2 0h1m7 0h3m1 0h3m1 0h1m1 0h3m5 0h9m7 0h2m10 0h2m2 0h2m4 0h3m2 0h1m4 0h3m4 0h2m7 0h2m6 0h2m16 0h1m7 0h2m14 0h6m1 0h1m17 0h1m15 0h2m7 0h3m1 0h1m18 0h1m1 0h1m9 0h2m4 0h1m6 0h4m10 0h1m8 0h2m9 0h1m1 0h2m6 0h1m1 0h1m-370 1h2m1 0h3m6 0h5m2 0h2m1 0h4m5 0h4m6 0h1m4 0h1m1 0h1m3 0h1m2 0h1m5 0h1m1 0h4m5 0h1m1 0h5m4 0h3m3 0h4m2 0h2m2 0h2m1 0h1m23 0h1m4 0h1m3 0h1m2 0h3m3 0h1m3 0h9m4 0h1m5 0h1m8 0h2m6 0h3m3 0h1m1 0h3m1 0h1m1 0h1m2 0h4m4 0h2m13 0h7m1 0h1m3 0h1m4 0h1m1 0h1m5 0h2m18 0h1m1 0h9m9 0h1m1 0h2m4 0h2m1 0h2m8 0h2m4 0h1m5 0h3m1 0h1m7 0h1m1 0h2m7 0h1m1 0h1m7 0h1m1 0h2m1 0h3m4 0h6m4 0h1m-377 1h2m2 0h3m1 0h1m1 0h1m4 0h3m5 0h2m4 0h1m10 0h1m4 0h2m3 0h5m4 0h3m4 0h6m1 0h1m1 0h1m1 0h5m4 0h2m6 0h1m6 0h2m22 0h1m3 0h2m2 0h2m1 0h1m2 0h1m2 0h1m3 0h1m4 0h2m2 0h2m1 0h1m1 0h3m3 0h3m7 0h2m7 0h1m2 0h3m2 0h5m5 0h2m5 0h1m3 0h1m6 0h2m4 0h1m3 0h1m1 0h3m3 0h6m4 0h1m17 0h3m13 0h2m1 0h4m1 0h1m8 0h3m7 0h1m4 0h1m4 0h1m2 0h3m6 0h5m6 0h4m6 0h6m2 0h1m1 0h1m3 0h1m3 0h1m3 0h1m-375 1h2m3 0h6m5 0h5m6 0h1m11 0h1m4 0h2m3 0h1m1 0h3m3 0h2m5 0h1m5 0h5m9 0h1m5 0h4m7 0h1m4 0h3m15 0h1m1 0h4m2 0h4m1 0h2m2 0h1m3 0h1m4 0h2m3 0h3m3 0h1m5 0h2m7 0h3m5 0h1m1 0h2m6 0h3m6 0h2m2 0h3m1 0h3m5 0h3m3 0h2m3 0h6m1 0h1m5 0h1m1 0h1m2 0h1m17 0h1m12 0h3m1 0h4m3 0h1m10 0h2m5 0h2m3 0h1m5 0h2m2 0h3m2 0h4m9 0h5m3 0h3m5 0h2m1 0h3m3 0h1m2 0h2m2 0h1m-373 1h1m8 0h1m9 0h1m4 0h2m11 0h1m9 0h2m1 0h3m2 0h3m4 0h1m10 0h3m6 0h1m5 0h5m4 0h1m1 0h1m4 0h1m2 0h2m13 0h5m1 0h1m2 0h7m2 0h1m3 0h2m10 0h1m3 0h2m5 0h2m8 0h1m5 0h4m7 0h2m6 0h8m2 0h1m4 0h1m6 0h2m3 0h1m2 0h3m1 0h1m5 0h3m2 0h1m17 0h1m11 0h1m7 0h1m1 0h1m1 0h1m11 0h1m10 0h1m4 0h3m1 0h2m1 0h3m15 0h3m2 0h4m6 0h1m3 0h1m3 0h1m3 0h1m1 0h1m-372 1h3m6 0h1m9 0h7m11 0h1m2 0h2m4 0h3m1 0h8m4 0h1m12 0h1m6 0h1m6 0h4m3 0h3m4 0h1m4 0h1m12 0h6m1 0h1m7 0h2m2 0h1m4 0h1m7 0h1m2 0h3m2 0h1m6 0h2m7 0h4m2 0h2m8 0h3m5 0h9m2 0h3m2 0h1m11 0h1m3 0h3m6 0h1m4 0h5m1 0h1m5 0h1m5 0h1m4 0h2m1 0h3m1 0h1m6 0h4m1 0h1m6 0h3m2 0h2m9 0h1m4 0h1m12 0h3m2 0h3m1 0h1m4 0h5m7 0h2m3 0h2m2 0h1m3 0h1m1 0h1m-371 1h2m5 0h1m27 0h1m2 0h1m1 0h3m1 0h1m4 0h2m4 0h2m3 0h1m13 0h1m6 0h1m5 0h2m1 0h2m4 0h2m4 0h1m4 0h1m11 0h1m7 0h1m7 0h2m2 0h1m4 0h2m5 0h2m4 0h1m2 0h1m1 0h1m5 0h2m9 0h1m12 0h3m10 0h2m1 0h1m4 0h1m1 0h1m12 0h1m1 0h2m2 0h1m6 0h1m8 0h3m2 0h1m1 0h2m5 0h1m3 0h1m1 0h2m2 0h2m7 0h2m3 0h1m4 0h2m2 0h1m3 0h3m7 0h1m4 0h1m9 0h3m2 0h3m2 0h5m15 0h1m4 0h1m2 0h1m3 0h1m1 0h1m-377 1h6m4 0h4m2 0h2m4 0h1m2 0h1m1 0h1m8 0h1m4 0h2m1 0h10m1 0h2m1 0h5m2 0h3m2 0h3m2 0h1m4 0h1m2 0h7m4 0h4m2 0h2m4 0h3m4 0h3m6 0h4m1 0h7m2 0h1m2 0h1m5 0h3m3 0h2m4 0h2m4 0h1m2 0h4m1 0h1m3 0h2m8 0h1m7 0h2m1 0h5m6 0h10m1 0h4m1 0h4m3 0h13m4 0h1m9 0h2m1 0h2m1 0h2m5 0h2m1 0h7m1 0h1m6 0h7m3 0h1m4 0h1m4 0h2m7 0h2m3 0h4m5 0h2m5 0h2m1 0h1m1 0h4m5 0h1m2 0h4m1 0h2m3 0h1m1 0h1m2 0h1m3 0h1m1 0h4m-380 1h5m4 0h3m3 0h3m3 0h2m1 0h4m7 0h2m5 0h1m2 0h4m2 0h12m4 0h1m1 0h2m1 0h1m1 0h2m3 0h2m1 0h5m2 0h1m9 0h2m4 0h5m1 0h2m1 0h2m5 0h12m2 0h2m1 0h2m6 0h2m4 0h1m10 0h9m4 0h1m8 0h3m4 0h5m1 0h1m1 0h2m4 0h6m1 0h14m2 0h11m1 0h2m3 0h4m6 0h11m1 0h4m2 0h8m5 0h3m1 0h1m1 0h3m1 0h2m4 0h1m3 0h6m1 0h1m3 0h1m4 0h3m2 0h5m5 0h12m1 0h2m1 0h8m2 0h4m2 0h1m3 0h1m2 0h3m-376 1h1m5 0h2m10 0h1m2 0h1m1 0h1m14 0h1m1 0h5m1 0h3m13 0h2m2 0h2m8 0h1m7 0h3m9 0h1m8 0h2m1 0h2m10 0h2m5 0h2m3 0h1m1 0h3m4 0h3m3 0h2m23 0h3m8 0h2m7 0h4m1 0h2m8 0h2m1 0h1m24 0h2m8 0h1m16 0h2m5 0h1m1 0h4m10 0h5m1 0h2m6 0h1m8 0h3m2 0h1m4 0h1m4 0h1m20 0h2m10 0h2m3 0h1m1 0h1m2 0h1m3 0h3m-374 1h1m4 0h2m7 0h1m3 0h8m13 0h2m8 0h2m8 0h1m4 0h3m1 0h2m6 0h1m3 0h2m1 0h1m3 0h1m9 0h1m24 0h1m4 0h1m4 0h4m1 0h2m1 0h1m3 0h2m3 0h1m16 0h1m8 0h1m9 0h1m7 0h1m2 0h1m2 0h1m8 0h6m18 0h3m1 0h3m7 0h1m1 0h1m19 0h4m3 0h2m1 0h1m5 0h2m1 0h2m1 0h2m1 0h1m6 0h1m7 0h2m4 0h2m3 0h2m3 0h1m11 0h1m7 0h1m11 0h3m2 0h3m3 0h1m4 0h2m-374 1h1m3 0h3m6 0h2m1 0h2m2 0h2m3 0h1m14 0h1m9 0h1m7 0h2m9 0h1m4 0h2m3 0h5m3 0h2m6 0h2m24 0h2m3 0h2m3 0h2m5 0h3m4 0h2m2 0h2m1 0h1m12 0h2m8 0h1m9 0h3m4 0h2m1 0h2m2 0h2m7 0h3m2 0h1m1 0h1m1 0h1m13 0h2m1 0h1m1 0h1m1 0h2m6 0h3m18 0h1m1 0h1m1 0h1m4 0h3m4 0h1m1 0h5m1 0h1m1 0h1m6 0h1m6 0h2m6 0h1m4 0h1m3 0h1m10 0h2m7 0h1m7 0h1m2 0h4m2 0h3m3 0h1m3 0h1m1 0h1m-374 1h1m4 0h1m7 0h3m9 0h3m12 0h1m9 0h1m2 0h1m15 0h1m3 0h3m3 0h3m1 0h1m4 0h2m2 0h3m26 0h2m2 0h3m2 0h1m7 0h3m5 0h1m3 0h3m3 0h1m11 0h3m4 0h4m8 0h2m4 0h4m3 0h1m7 0h3m2 0h5m14 0h1m1 0h3m2 0h1m8 0h2m17 0h4m5 0h2m5 0h2m1 0h2m3 0h3m5 0h1m8 0h2m5 0h1m4 0h1m2 0h2m10 0h2m1 0h1m1 0h1m3 0h1m6 0h2m1 0h3m4 0h1m3 0h1m1 0h1m3 0h1m1 0h2m-375 1h1m3 0h1m8 0h3m11 0h1m12 0h1m9 0h4m12 0h1m2 0h2m1 0h2m4 0h1m2 0h4m4 0h3m6 0h2m11 0h2m1 0h1m4 0h1m2 0h1m3 0h1m3 0h1m7 0h5m3 0h1m5 0h11m3 0h2m2 0h2m6 0h1m9 0h1m4 0h4m3 0h1m7 0h3m2 0h11m8 0h1m6 0h1m1 0h1m5 0h1m1 0h1m16 0h2m1 0h2m6 0h2m8 0h1m4 0h6m1 0h1m9 0h1m5 0h2m2 0h2m3 0h1m3 0h4m3 0h10m4 0h1m1 0h4m5 0h1m3 0h3m4 0h1m2 0h1m-376 1h2m3 0h1m8 0h1m12 0h2m12 0h1m1 0h2m7 0h3m6 0h3m1 0h8m5 0h1m6 0h2m9 0h5m10 0h5m1 0h1m1 0h2m1 0h2m2 0h1m4 0h1m8 0h1m1 0h2m3 0h1m11 0h1m2 0h2m2 0h1m5 0h1m6 0h2m8 0h2m3 0h4m3 0h1m7 0h3m10 0h3m7 0h1m7 0h3m4 0h3m17 0h3m9 0h1m7 0h2m3 0h3m1 0h3m1 0h1m2 0h3m3 0h2m1 0h1m4 0h1m3 0h1m2 0h2m2 0h1m2 0h2m3 0h3m6 0h1m3 0h2m1 0h1m6 0h2m2 0h1m1 0h1m6 0h1m2 0h1m-375 1h1m3 0h1m8 0h1m11 0h4m10 0h1m1 0h3m6 0h1m2 0h1m4 0h2m2 0h2m7 0h1m5 0h1m7 0h1m8 0h1m1 0h1m1 0h2m2 0h1m3 0h2m2 0h2m1 0h8m1 0h1m1 0h2m4 0h1m7 0h5m3 0h1m10 0h2m1 0h6m5 0h5m3 0h3m7 0h2m5 0h1m2 0h1m8 0h1m8 0h1m2 0h1m1 0h1m4 0h1m3 0h1m7 0h4m4 0h2m16 0h1m1 0h2m4 0h2m3 0h1m14 0h7m1 0h4m4 0h3m3 0h1m1 0h1m1 0h1m2 0h3m2 0h1m1 0h1m4 0h2m7 0h2m6 0h1m5 0h1m3 0h3m7 0h1m2 0h2m-377 1h2m3 0h1m7 0h1m13 0h3m7 0h1m1 0h2m2 0h4m2 0h1m1 0h1m1 0h3m2 0h1m4 0h2m7 0h1m4 0h2m1 0h7m7 0h2m1 0h1m1 0h2m1 0h2m2 0h3m1 0h3m1 0h3m1 0h2m1 0h6m4 0h1m8 0h4m3 0h1m16 0h1m10 0h2m5 0h1m8 0h3m2 0h2m2 0h2m7 0h1m1 0h1m1 0h1m3 0h2m2 0h3m3 0h2m3 0h1m8 0h3m3 0h3m15 0h5m3 0h3m2 0h2m4 0h1m7 0h1m2 0h7m1 0h3m4 0h3m3 0h3m1 0h1m2 0h1m4 0h3m5 0h1m1 0h1m6 0h1m6 0h1m1 0h2m1 0h3m2 0h1m1 0h1m7 0h2m1 0h2m-376 1h1m3 0h2m6 0h2m11 0h1m1 0h1m7 0h3m3 0h1m3 0h1m1 0h3m3 0h2m1 0h1m14 0h1m5 0h2m15 0h2m17 0h7m5 0h1m4 0h1m7 0h1m7 0h1m15 0h2m9 0h2m6 0h2m9 0h2m6 0h1m7 0h5m7 0h3m8 0h1m3 0h1m3 0h1m8 0h1m11 0h1m2 0h1m2 0h3m7 0h1m3 0h4m6 0h2m8 0h2m2 0h1m1 0h1m4 0h4m3 0h1m2 0h1m13 0h3m5 0h2m4 0h1m1 0h2m1 0h1m3 0h1m2 0h4m1 0h1m5 0h2m1 0h1m-376 1h4m1 0h2m6 0h1m1 0h2m1 0h1m1 0h2m1 0h1m1 0h3m7 0h1m5 0h1m3 0h2m7 0h2m12 0h1m2 0h5m37 0h7m5 0h2m3 0h1m6 0h1m7 0h1m15 0h1m10 0h3m7 0h3m8 0h1m6 0h2m1 0h1m4 0h7m1 0h1m1 0h5m8 0h6m1 0h2m8 0h1m10 0h2m2 0h1m4 0h1m2 0h1m3 0h2m2 0h1m1 0h6m1 0h2m1 0h1m7 0h3m2 0h4m8 0h2m2 0h1m2 0h1m1 0h1m9 0h5m1 0h1m6 0h2m4 0h3m1 0h2m1 0h2m1 0h4m4 0h4m-373 1h2m1 0h1m6 0h2m1 0h4m1 0h4m2 0h1m6 0h2m4 0h2m3 0h2m6 0h1m13 0h4m1 0h1m2 0h1m38 0h1m1 0h1m1 0h2m6 0h1m3 0h1m5 0h1m8 0h2m13 0h2m6 0h1m2 0h2m5 0h1m5 0h2m7 0h3m1 0h1m3 0h3m6 0h2m2 0h9m9 0h3m1 0h4m7 0h2m11 0h1m2 0h2m3 0h1m1 0h2m2 0h1m3 0h1m7 0h2m3 0h1m8 0h2m5 0h1m1 0h1m5 0h1m1 0h1m1 0h1m2 0h4m13 0h3m5 0h4m5 0h1m2 0h1m7 0h1m4 0h3m1 0h1m-380 1h1m6 0h1m1 0h1m5 0h3m3 0h2m1 0h4m1 0h2m7 0h1m5 0h1m2 0h3m6 0h1m13 0h2m1 0h3m2 0h1m26 0h1m8 0h1m1 0h4m1 0h2m6 0h1m3 0h1m5 0h1m9 0h1m19 0h3m3 0h1m4 0h2m6 0h2m8 0h3m2 0h4m6 0h2m1 0h4m1 0h1m3 0h2m3 0h1m3 0h1m2 0h3m1 0h2m1 0h1m4 0h3m7 0h1m2 0h2m3 0h1m2 0h2m1 0h5m3 0h1m6 0h3m1 0h1m1 0h1m8 0h3m2 0h1m1 0h3m5 0h3m1 0h1m2 0h4m13 0h1m1 0h2m3 0h1m1 0h1m1 0h1m5 0h1m2 0h1m7 0h1m3 0h1m2 0h2m-379 1h1m6 0h1m1 0h3m4 0h2m6 0h2m8 0h1m2 0h2m4 0h2m1 0h4m4 0h3m6 0h1m4 0h1m2 0h2m1 0h2m2 0h5m1 0h2m1 0h3m2 0h4m1 0h1m6 0h2m7 0h7m1 0h2m5 0h12m6 0h1m1 0h2m18 0h4m2 0h1m5 0h2m7 0h1m8 0h5m1 0h8m1 0h14m2 0h2m3 0h4m1 0h6m4 0h5m4 0h2m4 0h4m1 0h5m5 0h3m7 0h4m1 0h4m1 0h1m2 0h4m1 0h2m3 0h4m1 0h2m2 0h2m3 0h1m1 0h1m13 0h2m1 0h3m1 0h5m5 0h6m1 0h1m3 0h2m2 0h3m1 0h2m-380 1h3m4 0h1m3 0h1m21 0h2m1 0h1m5 0h2m9 0h1m8 0h2m3 0h2m12 0h9m1 0h7m16 0h4m14 0h1m6 0h1m5 0h3m11 0h2m8 0h1m4 0h1m6 0h1m2 0h1m4 0h2m11 0h1m5 0h4m6 0h1m1 0h1m32 0h1m9 0h1m1 0h1m1 0h1m10 0h1m9 0h1m1 0h1m1 0h1m2 0h5m4 0h1m8 0h1m1 0h2m3 0h3m2 0h4m18 0h2m11 0h2m2 0h4m3 0h1m1 0h1m-372 1h2m3 0h1m2 0h1m22 0h2m1 0h1m6 0h1m6 0h2m1 0h1m2 0h1m2 0h1m15 0h1m4 0h1m17 0h2m1 0h2m3 0h1m2 0h2m1 0h2m3 0h1m4 0h1m2 0h1m5 0h2m3 0h1m1 0h2m7 0h3m8 0h1m1 0h6m2 0h5m1 0h2m4 0h8m2 0h3m8 0h1m5 0h1m2 0h2m5 0h5m23 0h1m4 0h1m1 0h1m6 0h1m3 0h5m10 0h4m3 0h1m1 0h8m8 0h3m2 0h1m3 0h5m1 0h1m1 0h1m1 0h2m6 0h3m15 0h2m9 0h1m4 0h2m1 0h1m3 0h4m-372 1h1m3 0h7m15 0h1m3 0h4m6 0h1m1 0h5m1 0h3m1 0h2m1 0h2m9 0h1m4 0h2m4 0h2m15 0h1m1 0h2m1 0h1m2 0h2m1 0h4m5 0h1m3 0h2m1 0h2m4 0h4m1 0h5m6 0h4m7 0h2m2 0h1m2 0h2m2 0h1m1 0h1m1 0h1m2 0h1m4 0h1m1 0h1m2 0h3m4 0h1m8 0h2m4 0h5m1 0h1m3 0h3m1 0h1m5 0h1m16 0h2m3 0h5m4 0h2m2 0h2m1 0h3m10 0h4m2 0h5m2 0h1m1 0h2m7 0h4m1 0h2m3 0h2m3 0h4m2 0h1m5 0h4m14 0h5m6 0h2m4 0h4m6 0h2m1 0h3m-378 1h3m3 0h2m3 0h1m14 0h2m2 0h2m8 0h4m22 0h2m7 0h1m3 0h1m14 0h5m1 0h10m4 0h2m7 0h6m1 0h2m5 0h1m5 0h5m6 0h3m1 0h2m1 0h3m2 0h5m1 0h3m1 0h5m1 0h4m1 0h1m2 0h3m7 0h2m4 0h6m4 0h4m4 0h2m16 0h5m1 0h4m7 0h1m1 0h1m1 0h2m10 0h3m7 0h2m1 0h5m9 0h2m3 0h1m1 0h1m1 0h1m1 0h1m2 0h1m3 0h3m2 0h1m1 0h5m17 0h1m7 0h1m7 0h1m7 0h5m-380 1h5m2 0h5m1 0h4m1 0h16m1 0h1m1 0h9m23 0h2m5 0h2m2 0h6m9 0h6m2 0h3m1 0h2m3 0h1m1 0h4m6 0h12m1 0h13m6 0h3m2 0h5m1 0h6m2 0h6m1 0h8m3 0h2m8 0h9m1 0h1m3 0h5m3 0h11m2 0h1m4 0h14m1 0h1m2 0h6m2 0h11m3 0h1m2 0h10m7 0h3m2 0h8m1 0h2m4 0h2m1 0h8m3 0h2m1 0h1m3 0h4m2 0h7m2 0h6m2 0h4m3 0h6m-380 1h1m10 0h1m4 0h2m7 0h1m1 0h1m2 0h1m3 0h3m6 0h1m24 0h3m14 0h1m12 0h3m1 0h7m2 0h5m9 0h1m8 0h7m14 0h1m2 0h1m1 0h1m1 0h1m11 0h8m10 0h3m11 0h1m4 0h3m6 0h1m3 0h2m9 0h4m11 0h1m3 0h5m1 0h1m7 0h3m11 0h2m8 0h1m2 0h1m26 0h1m13 0h5m2 0h5m4 0h1m2 0h2m7 0h1m5 0h1m-371 1h1m10 0h2m11 0h4m1 0h2m4 0h2m6 0h1m41 0h1m4 0h1m6 0h1m17 0h1m8 0h2m7 0h4m1 0h3m4 0h1m3 0h1m4 0h2m2 0h1m1 0h4m17 0h2m11 0h1m1 0h2m8 0h1m4 0h3m5 0h2m4 0h1m8 0h5m10 0h2m2 0h3m1 0h2m1 0h1m9 0h1m19 0h5m13 0h1m13 0h1m14 0h1m13 0h2m1 0h1m2 0h1m5 0h1m6 0h1m-371 1h1m11 0h2m20 0h1m8 0h1m27 0h1m13 0h1m3 0h3m5 0h1m16 0h2m9 0h1m8 0h1m8 0h3m1 0h4m1 0h1m1 0h2m1 0h4m1 0h2m7 0h1m10 0h3m3 0h2m4 0h2m1 0h2m7 0h2m3 0h3m5 0h2m4 0h1m12 0h1m8 0h4m3 0h2m1 0h3m3 0h1m1 0h2m2 0h2m18 0h3m1 0h2m9 0h1m2 0h2m1 0h1m2 0h1m7 0h2m8 0h2m3 0h2m12 0h8m5 0h1m6 0h1m-371 1h1m12 0h1m20 0h1m8 0h1m5 0h1m6 0h1m1 0h2m2 0h1m1 0h1m1 0h3m1 0h4m1 0h1m5 0h1m3 0h2m1 0h1m2 0h4m2 0h1m17 0h1m8 0h2m3 0h2m2 0h2m1 0h1m2 0h1m2 0h17m1 0h1m2 0h1m5 0h6m9 0h4m1 0h3m1 0h1m4 0h2m7 0h2m2 0h3m11 0h1m11 0h2m6 0h6m1 0h2m2 0h4m2 0h3m1 0h2m2 0h1m18 0h1m2 0h3m8 0h2m3 0h6m8 0h1m6 0h2m1 0h3m14 0h3m1 0h1m1 0h3m5 0h1m6 0h1m-371 1h1m3 0h3m6 0h2m3 0h1m2 0h1m11 0h1m9 0h1m4 0h2m5 0h3m1 0h7m2 0h2m3 0h5m1 0h3m4 0h1m1 0h1m4 0h2m1 0h2m17 0h1m8 0h2m2 0h1m1 0h1m2 0h4m1 0h2m2 0h1m10 0h1m1 0h4m1 0h1m1 0h2m4 0h3m3 0h1m16 0h4m4 0h1m8 0h2m3 0h1m11 0h1m10 0h3m5 0h2m3 0h5m3 0h3m2 0h3m2 0h1m2 0h1m10 0h1m5 0h2m14 0h3m1 0h1m3 0h3m8 0h2m3 0h2m5 0h2m15 0h1m1 0h2m7 0h1m7 0h1m-371 1h1m2 0h4m7 0h13m1 0h2m3 0h1m8 0h1m3 0h1m1 0h2m5 0h3m4 0h1m1 0h1m11 0h3m2 0h1m3 0h2m1 0h14m12 0h2m8 0h1m2 0h4m2 0h7m2 0h5m2 0h6m1 0h3m1 0h1m7 0h2m4 0h1m17 0h3m4 0h1m9 0h3m1 0h7m1 0h5m12 0h2m13 0h4m1 0h2m2 0h3m1 0h2m2 0h1m9 0h2m4 0h2m15 0h3m1 0h1m1 0h1m1 0h3m9 0h1m2 0h3m6 0h1m4 0h1m10 0h2m1 0h4m4 0h3m1 0h2m2 0h5m2 0h3m-354 1h2m1 0h1m1 0h2m5 0h1m2 0h1m3 0h2m8 0h3m4 0h2m7 0h2m2 0h4m2 0h1m4 0h1m2 0h6m1 0h1m1 0h2m1 0h1m11 0h3m7 0h2m4 0h1m4 0h1m1 0h1m2 0h1m3 0h4m1 0h8m1 0h4m2 0h1m4 0h2m4 0h2m2 0h1m2 0h1m9 0h4m4 0h4m8 0h1m6 0h4m17 0h1m16 0h2m1 0h2m1 0h6m2 0h1m5 0h1m4 0h1m3 0h1m1 0h1m16 0h1m2 0h3m1 0h1m10 0h1m4 0h2m3 0h2m1 0h2m2 0h2m14 0h3m5 0h3m1 0h1m6 0h4m1 0h1m-375 1h2m1 0h1m1 0h2m5 0h1m7 0h3m1 0h4m4 0h5m12 0h1m3 0h2m10 0h1m1 0h1m8 0h5m2 0h1m5 0h4m1 0h1m1 0h1m13 0h1m7 0h2m3 0h2m2 0h5m1 0h2m2 0h1m12 0h4m1 0h4m1 0h3m7 0h4m1 0h2m12 0h1m1 0h2m1 0h1m2 0h2m7 0h1m5 0h3m1 0h1m17 0h1m15 0h1m1 0h2m1 0h1m1 0h3m2 0h1m2 0h3m2 0h3m1 0h3m2 0h3m3 0h1m4 0h3m5 0h2m2 0h1m3 0h1m1 0h1m8 0h2m2 0h1m3 0h2m1 0h1m2 0h1m17 0h1m1 0h2m4 0h2m1 0h2m8 0h1m1 0h2m-375 1h6m1 0h1m4 0h2m6 0h4m1 0h2m3 0h3m17 0h1m2 0h1m1 0h4m6 0h1m2 0h2m10 0h2m1 0h2m9 0h1m2 0h1m1 0h1m10 0h2m6 0h1m1 0h1m3 0h2m1 0h1m1 0h1m2 0h4m2 0h1m7 0h1m1 0h1m3 0h1m1 0h1m2 0h4m11 0h3m1 0h2m12 0h2m1 0h3m3 0h2m6 0h3m3 0h3m1 0h1m17 0h1m15 0h1m4 0h1m1 0h3m2 0h1m4 0h1m3 0h3m2 0h1m1 0h1m5 0h2m3 0h1m2 0h1m9 0h1m3 0h3m9 0h1m1 0h2m2 0h1m3 0h2m1 0h2m16 0h1m1 0h4m3 0h4m2 0h2m4 0h1m1 0h3m-373 1h1m1 0h2m11 0h1m10 0h1m20 0h1m2 0h1m4 0h1m3 0h1m2 0h1m3 0h1m7 0h1m6 0h1m3 0h1m4 0h2m2 0h3m11 0h1m6 0h1m1 0h3m3 0h1m1 0h2m2 0h1m1 0h2m2 0h1m5 0h6m1 0h4m1 0h2m9 0h1m5 0h2m1 0h2m12 0h2m1 0h3m4 0h2m7 0h2m4 0h1m1 0h1m1 0h1m15 0h1m15 0h1m4 0h1m1 0h4m1 0h1m4 0h2m4 0h1m2 0h2m6 0h2m3 0h3m10 0h2m2 0h3m9 0h2m4 0h2m3 0h1m2 0h1m1 0h1m14 0h2m3 0h1m4 0h7m2 0h4m-370 1h4m10 0h2m6 0h1m1 0h2m5 0h3m12 0h2m2 0h1m4 0h1m2 0h2m2 0h1m3 0h1m6 0h2m5 0h1m1 0h1m1 0h4m1 0h3m2 0h1m6 0h2m1 0h5m5 0h2m3 0h1m3 0h4m1 0h2m1 0h2m2 0h17m2 0h2m7 0h2m5 0h2m1 0h2m12 0h6m5 0h1m8 0h4m1 0h2m1 0h2m15 0h1m15 0h1m4 0h1m1 0h2m1 0h3m5 0h1m4 0h1m10 0h2m17 0h6m16 0h1m1 0h2m3 0h3m14 0h2m3 0h4m1 0h2m1 0h1m1 0h4m1 0h1m-375 1h2m1 0h15m1 0h7m1 0h6m4 0h4m3 0h11m1 0h2m4 0h10m1 0h11m2 0h4m1 0h4m1 0h6m5 0h11m2 0h7m2 0h13m1 0h16m1 0h3m2 0h10m1 0h16m2 0h10m1 0h4m8 0h1m4 0h6m7 0h5m5 0h4m3 0h4m3 0h5m1 0h4m1 0h1m2 0h6m2 0h1m2 0h5m1 0h4m1 0h7m1 0h14m5 0h1m4 0h9m3 0h8m1 0h11m1 0h3m2 0h10m1 0h1m-377 1h8m1 0h19m1 0h4m5 0h1m4 0h4m8 0h1m1 0h1m5 0h2m4 0h3m4 0h1m1 0h1m1 0h1m1 0h2m1 0h3m1 0h1m1 0h4m1 0h6m1 0h2m2 0h11m5 0h2m1 0h1m1 0h3m1 0h7m1 0h11m2 0h2m1 0h3m1 0h3m1 0h7m1 0h3m1 0h5m1 0h6m2 0h2m6 0h1m1 0h4m4 0h1m7 0h4m1 0h5m1 0h1m6 0h3m1 0h1m5 0h5m2 0h4m3 0h2m1 0h10m3 0h5m1 0h2m1 0h7m1 0h12m2 0h3m1 0h8m4 0h2m3 0h4m2 0h4m6 0h10m1 0h15m1 0h2m2 0h4m-377 1h2m1 0h11m3 0h1m2 0h6m2 0h1m1 0h1m5 0h3m4 0h4m5 0h1m2 0h3m4 0h1m1 0h1m5 0h3m2 0h25m1 0h4m1 0h5m1 0h6m4 0h5m3 0h3m1 0h1m1 0h1m1 0h4m1 0h1m5 0h2m1 0h11m6 0h3m3 0h4m1 0h2m1 0h5m1 0h6m2 0h9m2 0h2m9 0h1m5 0h6m4 0h4m4 0h1m9 0h2m2 0h1m1 0h3m1 0h1m9 0h6m2 0h1m1 0h11m1 0h2m3 0h3m1 0h8m1 0h1m4 0h1m1 0h1m1 0h1m1 0h1m2 0h1m1 0h1m1 0h5m2 0h2m1 0h4m5 0h6m7 0h1m3 0h4m1 0h3m-375 1h5m1 0h2m1 0h5m2 0h2m1 0h3m1 0h3m2 0h3m4 0h2m5 0h2m5 0h4m2 0h1m5 0h3m5 0h2m1 0h1m9 0h8m1 0h1m1 0h1m3 0h1m1 0h3m6 0h10m11 0h10m1 0h4m4 0h3m2 0h2m1 0h3m2 0h1m6 0h2m7 0h7m6 0h5m10 0h1m3 0h2m7 0h2m4 0h4m1 0h2m3 0h1m7 0h2m8 0h1m3 0h4m1 0h3m16 0h4m2 0h1m6 0h4m2 0h1m10 0h4m3 0h8m1 0h3m4 0h3m1 0h3m4 0h1m4 0h1m3 0h3m6 0h3m1 0h2m2 0h1m3 0h1m2 0h3m-380 1h2m2 0h2m1 0h2m12 0h2m5 0h1m1 0h1m11 0h2m4 0h1m1 0h4m1 0h1m4 0h1m1 0h2m6 0h1m1 0h1m5 0h1m1 0h2m1 0h1m5 0h5m1 0h4m2 0h1m1 0h1m3 0h1m1 0h1m28 0h4m8 0h3m1 0h2m2 0h1m1 0h2m14 0h1m3 0h2m1 0h1m5 0h3m2 0h1m10 0h1m4 0h1m8 0h2m6 0h4m3 0h1m15 0h1m1 0h1m3 0h8m16 0h2m1 0h1m1 0h2m5 0h2m1 0h2m2 0h1m9 0h5m2 0h3m1 0h1m1 0h1m3 0h3m3 0h2m1 0h1m3 0h1m3 0h3m3 0h4m11 0h1m2 0h1m1 0h2m2 0h2m1 0h1m-370 1h2m12 0h2m5 0h4m9 0h3m4 0h1m1 0h2m1 0h1m1 0h1m1 0h1m2 0h5m4 0h3m5 0h7m5 0h2m1 0h7m2 0h5m1 0h3m8 0h4m1 0h2m1 0h5m1 0h2m3 0h1m6 0h6m4 0h2m2 0h7m11 0h1m3 0h2m1 0h4m4 0h1m1 0h2m10 0h1m4 0h1m1 0h1m7 0h3m4 0h4m3 0h1m1 0h1m11 0h4m3 0h1m4 0h1m2 0h1m1 0h3m2 0h1m8 0h1m1 0h1m1 0h4m6 0h2m1 0h4m11 0h3m1 0h1m1 0h6m5 0h1m3 0h4m2 0h2m5 0h2m4 0h2m11 0h1m2 0h2m1 0h3m1 0h3m-377 1h3m7 0h2m10 0h4m2 0h2m1 0h13m4 0h10m2 0h5m6 0h1m5 0h1m1 0h3m8 0h1m2 0h6m6 0h11m1 0h3m1 0h5m4 0h2m1 0h1m2 0h2m5 0h3m3 0h3m11 0h2m10 0h4m2 0h1m3 0h2m4 0h4m1 0h2m1 0h1m5 0h1m1 0h2m1 0h3m9 0h1m7 0h1m3 0h3m5 0h10m1 0h3m3 0h6m2 0h13m1 0h2m1 0h3m6 0h2m2 0h1m2 0h1m2 0h3m2 0h1m2 0h4m1 0h3m1 0h1m6 0h2m2 0h2m3 0h1m1 0h2m3 0h1m2 0h3m1 0h1m13 0h1m3 0h1m2 0h9m-380 1h3m6 0h3m9 0h5m1 0h1m9 0h1m1 0h2m7 0h1m1 0h6m1 0h1m12 0h2m2 0h1m1 0h6m7 0h2m1 0h7m5 0h2m2 0h1m1 0h6m2 0h2m1 0h5m4 0h2m1 0h3m1 0h2m1 0h6m5 0h4m1 0h1m5 0h3m13 0h1m1 0h2m2 0h3m5 0h8m5 0h4m3 0h1m1 0h1m7 0h3m4 0h2m3 0h1m3 0h1m2 0h3m5 0h2m1 0h2m4 0h2m3 0h1m1 0h2m15 0h5m8 0h6m1 0h4m1 0h2m9 0h3m5 0h1m1 0h1m3 0h1m2 0h5m2 0h2m4 0h3m13 0h5m1 0h5m-375 1h2m1 0h1m6 0h19m1 0h1m1 0h2m2 0h5m7 0h6m1 0h3m15 0h3m1 0h1m1 0h5m6 0h1m1 0h7m6 0h1m1 0h8m2 0h2m15 0h8m1 0h3m8 0h3m6 0h2m13 0h4m3 0h2m2 0h1m1 0h4m1 0h4m1 0h2m2 0h6m1 0h4m8 0h1m5 0h1m1 0h1m1 0h1m2 0h2m1 0h1m1 0h2m3 0h2m1 0h4m2 0h5m2 0h2m1 0h3m12 0h6m3 0h1m1 0h3m5 0h14m4 0h3m1 0h1m3 0h3m2 0h3m1 0h1m1 0h3m1 0h1m1 0h4m1 0h2m16 0h1m4 0h4m1 0h1m-377 1h4m5 0h1m1 0h1m1 0h4m1 0h2m1 0h1m1 0h4m1 0h6m14 0h1m1 0h2m1 0h3m1 0h1m16 0h7m1 0h2m5 0h3m4 0h3m5 0h11m3 0h1m14 0h6m1 0h3m1 0h2m8 0h1m1 0h1m1 0h1m3 0h3m15 0h2m2 0h3m1 0h2m2 0h1m1 0h3m1 0h5m3 0h1m3 0h1m4 0h2m7 0h2m3 0h6m4 0h3m4 0h4m5 0h1m2 0h1m1 0h1m1 0h2m4 0h1m14 0h4m2 0h4m1 0h1m7 0h2m3 0h1m5 0h1m5 0h4m3 0h1m6 0h14m2 0h1m15 0h1m4 0h2m3 0h2m-377 1h2m7 0h4m3 0h2m1 0h4m1 0h4m1 0h2m17 0h2m1 0h2m2 0h4m1 0h2m1 0h1m4 0h3m1 0h4m4 0h2m7 0h7m4 0h5m12 0h1m20 0h2m2 0h4m8 0h5m5 0h4m11 0h3m4 0h1m4 0h4m1 0h4m5 0h5m2 0h1m3 0h1m8 0h3m6 0h1m6 0h1m5 0h3m5 0h4m1 0h1m3 0h2m2 0h1m11 0h1m1 0h1m3 0h2m4 0h3m6 0h1m1 0h5m5 0h1m4 0h1m7 0h1m1 0h2m1 0h2m5 0h2m9 0h1m14 0h1m6 0h1m3 0h2m-377 1h1m4 0h2m1 0h3m1 0h1m3 0h2m6 0h4m21 0h1m2 0h1m2 0h2m1 0h2m1 0h5m1 0h1m2 0h2m3 0h1m4 0h2m9 0h1m1 0h1m5 0h1m2 0h1m1 0h2m11 0h1m26 0h2m8 0h2m2 0h1m8 0h1m9 0h2m2 0h1m4 0h1m4 0h2m1 0h1m10 0h1m4 0h3m3 0h3m8 0h2m5 0h1m6 0h1m7 0h3m6 0h2m1 0h3m1 0h3m5 0h2m3 0h4m5 0h2m5 0h1m6 0h1m5 0h2m4 0h1m4 0h1m7 0h2m1 0h2m4 0h1m12 0h1m15 0h1m5 0h1m4 0h2m-377 1h1m3 0h1m1 0h7m3 0h2m4 0h1m1 0h4m20 0h2m1 0h2m2 0h5m5 0h2m3 0h2m1 0h3m1 0h1m2 0h2m1 0h2m5 0h4m4 0h1m2 0h2m2 0h4m7 0h1m4 0h1m12 0h1m4 0h1m3 0h1m4 0h1m5 0h2m1 0h2m8 0h1m8 0h1m3 0h2m4 0h1m1 0h5m1 0h1m10 0h1m3 0h4m5 0h1m9 0h1m5 0h1m6 0h2m1 0h2m5 0h3m6 0h1m10 0h2m1 0h4m2 0h2m3 0h1m1 0h3m4 0h2m4 0h1m7 0h3m1 0h2m4 0h1m14 0h4m11 0h1m13 0h2m4 0h3m3 0h1m1 0h1m-374 1h1m2 0h2m2 0h3m3 0h2m2 0h3m1 0h4m21 0h1m6 0h1m1 0h1m8 0h1m3 0h7m1 0h4m1 0h1m4 0h6m3 0h2m7 0h2m6 0h1m4 0h2m5 0h10m1 0h2m1 0h3m1 0h5m1 0h8m2 0h1m5 0h1m7 0h2m3 0h2m4 0h2m1 0h4m1 0h1m5 0h1m4 0h1m5 0h2m1 0h1m3 0h3m7 0h2m4 0h1m7 0h2m1 0h2m6 0h1m6 0h1m3 0h1m5 0h3m11 0h4m1 0h1m1 0h1m3 0h1m3 0h1m10 0h4m4 0h1m1 0h1m9 0h8m1 0h1m8 0h1m1 0h1m1 0h1m7 0h2m5 0h1m6 0h1m1 0h2m-376 1h3m2 0h1m3 0h2m2 0h3m1 0h2m3 0h4m9 0h1m10 0h2m5 0h4m7 0h2m2 0h1m3 0h1m1 0h5m1 0h1m1 0h1m4 0h6m4 0h1m6 0h3m6 0h1m10 0h3m7 0h2m1 0h6m4 0h2m6 0h2m1 0h2m5 0h1m7 0h2m3 0h2m4 0h9m4 0h7m5 0h4m5 0h2m7 0h3m2 0h3m1 0h1m7 0h4m2 0h2m6 0h1m2 0h3m5 0h2m10 0h1m2 0h2m1 0h3m3 0h4m3 0h1m9 0h2m4 0h3m8 0h1m4 0h1m2 0h3m6 0h7m6 0h3m5 0h1m6 0h2m1 0h1m-374 1h4m1 0h2m5 0h2m17 0h5m4 0h2m24 0h1m1 0h13m14 0h1m7 0h2m5 0h1m13 0h1m4 0h1m4 0h1m1 0h1m1 0h1m14 0h2m1 0h2m5 0h2m1 0h1m3 0h1m5 0h2m4 0h2m5 0h2m3 0h2m11 0h1m1 0h2m6 0h1m9 0h2m3 0h4m9 0h1m1 0h1m1 0h3m4 0h1m1 0h2m1 0h6m12 0h3m3 0h6m3 0h6m1 0h3m1 0h10m10 0h11m4 0h2m1 0h2m10 0h4m4 0h1m1 0h2m4 0h2m-372 1h6m6 0h1m2 0h1m13 0h1m4 0h1m3 0h3m3 0h1m20 0h3m1 0h4m3 0h1m17 0h4m2 0h2m6 0h1m13 0h2m3 0h2m3 0h6m17 0h2m6 0h3m1 0h3m22 0h3m11 0h6m4 0h2m9 0h3m4 0h1m9 0h3m3 0h1m4 0h2m1 0h1m5 0h2m14 0h1m4 0h1m3 0h2m1 0h1m5 0h2m2 0h2m34 0h3m12 0h5m4 0h2m1 0h1m-363 1h3m5 0h2m1 0h2m13 0h1m4 0h2m7 0h2m20 0h1m1 0h3m1 0h2m2 0h2m20 0h3m8 0h1m12 0h1m14 0h2m25 0h4m1 0h2m24 0h1m13 0h1m1 0h2m5 0h3m9 0h1m4 0h4m6 0h4m2 0h1m2 0h1m1 0h4m11 0h1m8 0h2m3 0h2m4 0h3m5 0h2m2 0h2m23 0h1m11 0h2m11 0h1m9 0h3m-369 1h1m3 0h4m1 0h1m1 0h1m4 0h1m1 0h4m2 0h1m1 0h2m1 0h1m1 0h3m5 0h1m8 0h4m5 0h2m7 0h2m1 0h1m2 0h5m1 0h6m9 0h1m1 0h1m1 0h1m10 0h1m3 0h1m11 0h2m14 0h2m25 0h7m1 0h2m3 0h1m7 0h1m4 0h1m4 0h1m13 0h4m1 0h1m1 0h1m3 0h2m8 0h1m6 0h2m9 0h1m2 0h5m1 0h1m1 0h1m10 0h2m12 0h3m5 0h2m5 0h2m3 0h3m19 0h5m8 0h3m2 0h1m1 0h1m2 0h4m10 0h2m-369 1h2m2 0h9m3 0h3m3 0h1m1 0h9m1 0h1m2 0h5m6 0h1m1 0h3m4 0h3m6 0h5m1 0h9m1 0h3m8 0h6m9 0h2m3 0h1m10 0h1m1 0h1m40 0h2m1 0h8m2 0h2m6 0h2m3 0h2m4 0h1m13 0h8m4 0h1m8 0h3m3 0h5m1 0h1m2 0h1m2 0h3m3 0h2m1 0h3m7 0h1m1 0h6m8 0h4m4 0h3m4 0h3m2 0h4m12 0h4m2 0h6m5 0h6m1 0h4m1 0h3m11 0h2m1 0h1m-370 1h4m1 0h2m1 0h4m4 0h3m3 0h1m2 0h1m1 0h1m2 0h1m2 0h2m1 0h3m2 0h1m5 0h4m1 0h1m3 0h1m1 0h2m6 0h3m1 0h4m1 0h1m1 0h1m1 0h4m26 0h1m2 0h2m10 0h3m7 0h1m8 0h1m1 0h1m1 0h3m18 0h2m1 0h4m5 0h2m17 0h1m20 0h1m4 0h2m9 0h1m7 0h3m1 0h2m4 0h1m5 0h4m6 0h3m5 0h1m16 0h2m11 0h1m1 0h2m10 0h1m3 0h1m12 0h1m12 0h3m5 0h1m4 0h1m1 0h3m-367 1h2m1 0h2m3 0h1m4 0h1m5 0h1m1 0h4m1 0h2m3 0h1m5 0h1m5 0h7m2 0h3m1 0h1m5 0h5m2 0h9m1 0h1m25 0h2m3 0h1m10 0h1m8 0h2m7 0h5m2 0h1m17 0h8m5 0h2m17 0h1m19 0h2m5 0h2m8 0h4m3 0h7m1 0h1m1 0h3m5 0h3m4 0h2m8 0h1m3 0h2m10 0h3m10 0h3m1 0h1m7 0h1m1 0h2m3 0h1m1 0h1m10 0h1m11 0h2m6 0h2m3 0h2m1 0h1m1 0h1m-368 1h2m1 0h3m3 0h2m2 0h1m6 0h2m5 0h2m2 0h2m5 0h1m14 0h3m1 0h1m6 0h1m2 0h1m1 0h2m1 0h2m3 0h3m31 0h2m7 0h3m9 0h1m4 0h1m2 0h5m1 0h1m19 0h2m10 0h2m17 0h1m20 0h1m6 0h1m11 0h1m8 0h4m3 0h2m1 0h1m1 0h1m6 0h1m10 0h2m1 0h1m1 0h2m10 0h2m12 0h2m4 0h1m2 0h3m5 0h3m8 0h3m12 0h2m5 0h2m6 0h3m-358 1h4m4 0h1m2 0h3m1 0h4m1 0h1m1 0h6m4 0h2m7 0h5m1 0h1m1 0h2m1 0h6m2 0h6m1 0h3m1 0h1m6 0h1m3 0h3m1 0h1m7 0h5m3 0h4m1 0h3m1 0h2m8 0h10m2 0h2m1 0h4m3 0h1m3 0h2m1 0h2m1 0h1m1 0h3m1 0h11m2 0h1m2 0h5m1 0h2m4 0h1m1 0h1m10 0h1m1 0h12m1 0h4m8 0h1m7 0h5m4 0h5m6 0h2m8 0h3m1 0h1m2 0h1m9 0h1m1 0h3m11 0h1m3 0h2m2 0h3m7 0h1m7 0h4m5 0h2m5 0h2m4 0h4m1 0h3m1 0h3m2 0h1m2 0h2m-369 1h1m10 0h2m4 0h2m1 0h5m10 0h1m1 0h1m6 0h6m1 0h5m10 0h1m2 0h2m2 0h3m5 0h2m2 0h1m2 0h3m6 0h1m4 0h1m6 0h2m13 0h2m16 0h3m1 0h2m1 0h2m1 0h2m1 0h5m1 0h2m5 0h1m3 0h2m1 0h4m4 0h2m1 0h1m4 0h3m9 0h3m3 0h1m7 0h1m4 0h1m8 0h2m5 0h4m5 0h2m1 0h1m1 0h1m7 0h1m7 0h1m3 0h2m1 0h2m1 0h1m7 0h1m3 0h1m10 0h2m5 0h5m7 0h1m9 0h2m4 0h3m4 0h1m5 0h1m3 0h2m2 0h1m1 0h1m1 0h1m1 0h2m1 0h3m-370 1h2m1 0h1m11 0h1m5 0h1m2 0h2m3 0h1m4 0h4m6 0h2m2 0h3m1 0h1m1 0h3m9 0h2m2 0h2m3 0h2m5 0h4m3 0h1m1 0h2m2 0h1m2 0h1m2 0h1m1 0h1m14 0h1m1 0h1m5 0h1m5 0h1m9 0h2m1 0h7m5 0h2m1 0h1m7 0h2m2 0h3m1 0h1m7 0h2m1 0h1m5 0h2m2 0h1m6 0h3m2 0h2m7 0h2m3 0h3m7 0h2m5 0h3m1 0h1m4 0h3m1 0h1m6 0h1m8 0h1m1 0h4m2 0h3m7 0h1m2 0h2m3 0h1m11 0h2m12 0h1m8 0h1m8 0h1m4 0h1m5 0h1m1 0h7m1 0h3m6 0h1m-368 1h2m10 0h2m5 0h1m2 0h2m2 0h2m3 0h5m10 0h4m2 0h5m2 0h2m2 0h10m7 0h1m1 0h3m2 0h4m1 0h2m2 0h5m14 0h4m1 0h1m3 0h1m4 0h2m8 0h3m5 0h3m2 0h1m1 0h3m1 0h2m1 0h1m1 0h1m2 0h3m1 0h3m1 0h3m5 0h4m5 0h2m1 0h2m6 0h1m1 0h1m5 0h1m6 0h1m5 0h1m8 0h3m5 0h4m5 0h2m2 0h1m1 0h3m9 0h2m8 0h3m5 0h3m4 0h3m1 0h3m5 0h1m12 0h1m1 0h4m4 0h1m8 0h2m4 0h1m5 0h4m3 0h2m1 0h1m1 0h2m4 0h2m-371 1h1m10 0h1m3 0h3m4 0h1m1 0h1m1 0h2m1 0h10m12 0h2m6 0h1m1 0h3m1 0h3m2 0h2m1 0h3m1 0h2m1 0h8m2 0h8m1 0h1m1 0h1m16 0h2m1 0h7m4 0h2m1 0h1m5 0h4m4 0h4m1 0h2m1 0h3m2 0h5m1 0h5m1 0h2m3 0h1m4 0h2m1 0h1m5 0h7m5 0h3m4 0h2m5 0h2m5 0h1m10 0h2m4 0h2m1 0h2m7 0h3m24 0h2m1 0h1m8 0h1m2 0h2m2 0h1m5 0h1m11 0h2m3 0h2m3 0h1m12 0h1m1 0h2m7 0h2m4 0h1m1 0h2m1 0h1m-370 1h20m2 0h3m1 0h5m1 0h2m9 0h2m1 0h1m8 0h1m1 0h1m5 0h2m2 0h2m3 0h10m1 0h2m17 0h8m2 0h2m1 0h1m5 0h1m1 0h3m8 0h3m1 0h3m1 0h2m12 0h2m1 0h2m3 0h4m7 0h3m1 0h6m5 0h4m10 0h7m8 0h1m5 0h3m3 0h4m8 0h1m5 0h1m1 0h2m7 0h3m1 0h4m8 0h1m9 0h5m7 0h2m3 0h1m2 0h1m5 0h1m15 0h1m4 0h4m8 0h4m5 0h2m1 0h1m1 0h1m2 0h7m6 0h4m-380 1h3m22 0h3m17 0h3m1 0h1m5 0h4m4 0h1m10 0h1m2 0h2m1 0h1m29 0h1m1 0h6m3 0h2m1 0h1m9 0h1m6 0h2m1 0h1m10 0h1m2 0h1m2 0h1m4 0h2m10 0h3m1 0h2m8 0h1m1 0h1m24 0h2m7 0h1m1 0h1m4 0h2m7 0h2m3 0h3m9 0h6m1 0h1m7 0h2m8 0h1m2 0h1m7 0h4m2 0h2m2 0h1m5 0h1m14 0h1m7 0h2m7 0h1m1 0h1m6 0h1m1 0h5m1 0h1m12 0h1m-376 1h3m22 0h3m16 0h6m5 0h2m1 0h2m3 0h2m4 0h1m3 0h2m2 0h4m12 0h1m15 0h2m5 0h2m1 0h1m2 0h1m1 0h1m8 0h1m7 0h5m8 0h2m1 0h2m1 0h2m2 0h2m1 0h1m8 0h2m2 0h2m1 0h2m6 0h4m23 0h1m1 0h4m4 0h3m5 0h2m7 0h2m4 0h2m7 0h1m1 0h2m2 0h2m16 0h3m1 0h2m4 0h1m1 0h1m10 0h1m5 0h1m14 0h1m6 0h1m9 0h3m6 0h1m1 0h5m1 0h1m12 0h1m-375 1h2m22 0h3m19 0h4m1 0h1m2 0h3m1 0h1m2 0h1m1 0h1m3 0h2m3 0h2m2 0h2m13 0h5m1 0h1m11 0h1m5 0h9m8 0h1m11 0h1m8 0h2m6 0h4m1 0h2m6 0h1m4 0h2m2 0h5m1 0h5m19 0h1m2 0h3m3 0h2m3 0h3m6 0h1m8 0h2m1 0h1m2 0h2m1 0h1m4 0h1m5 0h2m9 0h1m1 0h5m9 0h2m1 0h1m10 0h3m3 0h1m1 0h1m12 0h1m5 0h2m9 0h3m5 0h2m5 0h2m10 0h1m1 0h1m-358 1h1m9 0h2m1 0h1m19 0h8m1 0h5m4 0h2m2 0h3m2 0h2m14 0h1m2 0h3m11 0h3m1 0h1m1 0h3m4 0h2m8 0h1m5 0h1m5 0h3m13 0h2m5 0h1m5 0h2m11 0h3m4 0h1m4 0h1m13 0h2m2 0h3m4 0h1m5 0h1m1 0h1m4 0h2m8 0h3m3 0h3m2 0h2m7 0h1m8 0h3m3 0h2m12 0h1m11 0h2m3 0h5m9 0h2m4 0h3m10 0h2m4 0h3m13 0h1m2 0h3m-365 1h3m4 0h2m2 0h1m7 0h3m31 0h2m3 0h1m1 0h1m22 0h1m5 0h1m13 0h3m1 0h1m16 0h1m2 0h1m1 0h2m7 0h2m6 0h1m6 0h1m4 0h2m6 0h1m10 0h4m3 0h2m2 0h3m4 0h1m7 0h1m4 0h1m5 0h1m6 0h3m5 0h3m8 0h1m4 0h6m6 0h2m7 0h1m17 0h1m2 0h1m10 0h1m1 0h1m7 0h2m7 0h3m4 0h3m9 0h1m5 0h1m8 0h1m4 0h1m1 0h4m-363 1h1m2 0h4m1 0h5m7 0h1m1 0h1m31 0h2m2 0h1m2 0h2m20 0h2m5 0h2m14 0h1m1 0h1m16 0h1m1 0h3m1 0h1m8 0h2m4 0h2m6 0h1m5 0h1m5 0h2m12 0h2m6 0h4m3 0h2m6 0h2m4 0h1m5 0h2m6 0h2m7 0h2m7 0h3m6 0h2m14 0h1m17 0h2m2 0h1m10 0h3m8 0h1m9 0h2m5 0h1m8 0h1m6 0h1m6 0h4m1 0h3m1 0h1m1 0h2m-363 1h1m5 0h2m2 0h5m5 0h3m34 0h3m2 0h1m21 0h1m6 0h2m12 0h4m14 0h2m2 0h1m3 0h3m7 0h2m11 0h2m1 0h1m2 0h1m6 0h1m5 0h1m16 0h2m3 0h1m7 0h2m4 0h1m2 0h1m3 0h2m4 0h3m2 0h1m5 0h2m8 0h2m17 0h1m1 0h3m5 0h2m3 0h1m7 0h1m2 0h2m10 0h2m8 0h6m5 0h1m4 0h2m3 0h1m3 0h2m5 0h2m5 0h3m1 0h5m1 0h4m-371 1h3m1 0h4m14 0h2m1 0h1m2 0h5m9 0h1m1 0h1m22 0h3m11 0h1m1 0h1m6 0h2m8 0h4m1 0h2m3 0h1m18 0h2m3 0h1m6 0h5m4 0h3m2 0h1m7 0h6m6 0h7m16 0h2m2 0h2m7 0h2m4 0h1m1 0h3m3 0h1m6 0h1m1 0h3m5 0h2m8 0h2m9 0h1m5 0h3m1 0h2m3 0h2m1 0h5m6 0h2m1 0h1m1 0h2m8 0h1m8 0h1m6 0h3m1 0h2m6 0h5m1 0h2m5 0h2m5 0h3m7 0h2m9 0h1m-375 1h2m19 0h3m3 0h1m1 0h2m8 0h4m12 0h1m10 0h2m10 0h4m2 0h1m2 0h3m11 0h2m1 0h1m2 0h2m5 0h1m1 0h4m6 0h1m4 0h1m8 0h1m1 0h2m6 0h1m1 0h2m21 0h1m3 0h1m16 0h2m2 0h2m7 0h2m3 0h2m1 0h3m3 0h1m5 0h6m6 0h1m9 0h3m2 0h1m3 0h2m5 0h3m5 0h2m3 0h3m6 0h5m2 0h1m8 0h3m5 0h2m8 0h6m6 0h7m3 0h3m4 0h4m1 0h1m15 0h2m-362 1h3m4 0h1m2 0h8m7 0h8m8 0h2m4 0h1m1 0h1m2 0h3m10 0h12m6 0h1m3 0h12m1 0h7m3 0h1m1 0h2m2 0h3m1 0h13m3 0h5m20 0h2m3 0h4m2 0h1m1 0h1m3 0h2m2 0h1m1 0h1m1 0h4m11 0h3m1 0h3m2 0h4m1 0h9m1 0h1m1 0h4m9 0h1m1 0h2m4 0h1m1 0h1m1 0h1m2 0h2m4 0h3m2 0h4m5 0h1m1 0h2m1 0h1m2 0h4m2 0h1m3 0h2m3 0h1m2 0h5m3 0h2m1 0h1m1 0h2m5 0h8m4 0h2m2 0h2m1 0h5m3 0h3m6 0h1m2 0h5m-366 1h4m3 0h2m4 0h1m3 0h2m6 0h1m6 0h2m13 0h4m14 0h2m16 0h2m2 0h2m8 0h3m4 0h4m2 0h5m1 0h2m2 0h2m1 0h1m2 0h1m6 0h1m7 0h1m28 0h1m1 0h4m2 0h3m1 0h9m10 0h5m2 0h1m4 0h2m4 0h2m2 0h4m4 0h1m8 0h3m5 0h6m1 0h2m4 0h2m5 0h3m4 0h7m3 0h3m1 0h2m2 0h3m2 0h2m1 0h6m4 0h6m16 0h1m3 0h4m7 0h2m1 0h1m5 0h2m1 0h2m-372 1h2m2 0h1m1 0h1m4 0h3m4 0h1m4 0h1m2 0h3m3 0h1m2 0h1m5 0h3m14 0h1m16 0h2m29 0h3m4 0h3m1 0h1m3 0h1m1 0h2m2 0h1m2 0h4m1 0h1m6 0h1m8 0h1m1 0h1m16 0h1m8 0h3m1 0h8m2 0h3m4 0h1m7 0h1m3 0h2m1 0h1m2 0h2m2 0h3m3 0h3m1 0h2m2 0h2m3 0h2m9 0h3m4 0h1m1 0h4m1 0h1m5 0h1m4 0h2m6 0h2m2 0h1m4 0h1m5 0h1m3 0h2m6 0h2m2 0h1m3 0h2m4 0h1m16 0h1m6 0h1m5 0h1m1 0h2m1 0h2m1 0h1m3 0h1m1 0h2m-373 1h1m1 0h6m3 0h4m3 0h2m4 0h1m4 0h2m1 0h2m2 0h1m7 0h1m8 0h1m1 0h2m1 0h2m1 0h1m1 0h1m10 0h2m22 0h2m9 0h1m6 0h2m3 0h3m3 0h1m2 0h1m2 0h5m5 0h2m7 0h3m13 0h8m6 0h2m7 0h1m1 0h4m3 0h2m6 0h2m1 0h2m2 0h2m3 0h1m1 0h1m2 0h3m6 0h3m1 0h2m3 0h2m10 0h1m3 0h4m2 0h2m6 0h1m5 0h1m6 0h2m1 0h2m3 0h1m5 0h2m2 0h2m6 0h6m4 0h1m4 0h2m15 0h1m5 0h1m4 0h4m4 0h3m2 0h3m-371 1h1m2 0h5m5 0h2m1 0h2m1 0h1m4 0h2m4 0h1m1 0h4m8 0h1m7 0h3m1 0h1m2 0h5m8 0h4m4 0h2m1 0h1m13 0h1m1 0h2m7 0h1m12 0h3m3 0h1m2 0h1m2 0h1m1 0h1m1 0h1m2 0h2m2 0h1m9 0h1m1 0h1m10 0h1m7 0h1m15 0h2m1 0h3m1 0h1m1 0h3m5 0h3m3 0h3m3 0h4m3 0h1m1 0h1m5 0h2m2 0h2m3 0h2m9 0h1m6 0h1m10 0h1m4 0h1m3 0h1m3 0h5m3 0h1m10 0h2m6 0h1m1 0h3m4 0h1m5 0h1m7 0h1m7 0h1m4 0h2m3 0h1m10 0h3m-368 1h1m6 0h3m2 0h1m1 0h2m1 0h3m5 0h1m3 0h3m8 0h1m3 0h1m6 0h2m1 0h1m1 0h1m1 0h2m2 0h3m6 0h3m4 0h2m1 0h3m12 0h2m2 0h2m6 0h2m1 0h1m7 0h3m4 0h1m3 0h1m2 0h2m1 0h1m1 0h2m1 0h1m2 0h1m9 0h3m10 0h1m7 0h1m20 0h4m2 0h1m5 0h3m3 0h1m8 0h1m3 0h3m10 0h2m3 0h1m1 0h1m7 0h2m4 0h2m10 0h1m4 0h1m2 0h2m1 0h5m1 0h1m3 0h1m6 0h1m2 0h3m5 0h1m2 0h3m4 0h1m4 0h1m7 0h2m6 0h2m3 0h1m5 0h1m11 0h1m-367 1h1m8 0h2m1 0h1m6 0h1m5 0h1m11 0h5m2 0h1m1 0h1m2 0h6m1 0h1m5 0h1m1 0h1m7 0h1m4 0h3m1 0h3m11 0h3m3 0h3m5 0h4m1 0h1m1 0h3m6 0h1m3 0h2m2 0h2m1 0h7m1 0h3m5 0h1m3 0h2m8 0h2m7 0h1m20 0h4m2 0h1m1 0h5m4 0h2m2 0h2m4 0h4m2 0h2m1 0h1m6 0h3m3 0h3m8 0h2m4 0h1m9 0h2m4 0h1m2 0h3m1 0h6m3 0h1m5 0h2m3 0h2m5 0h1m4 0h1m4 0h6m4 0h1m1 0h1m1 0h1m1 0h3m2 0h2m3 0h1m5 0h1m2 0h1m7 0h2m-368 1h2m9 0h2m3 0h1m3 0h1m4 0h1m11 0h6m2 0h3m1 0h4m2 0h1m1 0h1m5 0h3m6 0h1m5 0h3m1 0h3m5 0h1m1 0h2m1 0h1m7 0h2m8 0h4m8 0h1m3 0h2m3 0h2m2 0h3m2 0h1m3 0h1m4 0h2m4 0h1m4 0h1m2 0h1m1 0h1m7 0h2m1 0h1m17 0h2m2 0h1m1 0h2m7 0h2m3 0h1m1 0h1m7 0h1m3 0h4m7 0h1m5 0h2m8 0h3m2 0h2m7 0h2m5 0h1m1 0h1m2 0h1m1 0h1m2 0h1m1 0h1m3 0h2m4 0h2m2 0h5m2 0h2m3 0h2m5 0h1m1 0h1m5 0h2m1 0h1m1 0h5m1 0h3m2 0h1m5 0h1m2 0h2m8 0h3m1 0h2m2 0h3m-377 1h2m2 0h1m1 0h1m1 0h11m4 0h2m18 0h2m6 0h5m15 0h3m5 0h2m7 0h3m1 0h3m1 0h2m2 0h2m10 0h2m2 0h2m6 0h2m3 0h8m2 0h1m1 0h2m3 0h1m8 0h1m1 0h1m3 0h2m2 0h3m8 0h3m18 0h5m1 0h2m5 0h3m3 0h1m1 0h1m7 0h1m4 0h1m1 0h1m7 0h1m4 0h1m1 0h1m10 0h1m1 0h1m1 0h4m5 0h2m1 0h1m1 0h2m1 0h10m5 0h1m12 0h2m2 0h6m4 0h4m8 0h3m2 0h2m3 0h1m1 0h3m4 0h2m8 0h3m2 0h2m1 0h3m-373 1h1m1 0h17m2 0h3m8 0h1m8 0h2m5 0h5m10 0h1m7 0h2m12 0h4m3 0h5m1 0h4m12 0h3m6 0h2m3 0h13m4 0h7m1 0h2m1 0h11m7 0h4m12 0h1m2 0h1m1 0h7m1 0h1m4 0h1m1 0h2m2 0h5m5 0h3m2 0h5m5 0h3m2 0h2m1 0h4m7 0h3m4 0h1m6 0h15m1 0h2m1 0h2m1 0h3m2 0h2m6 0h2m4 0h5m3 0h4m2 0h9m1 0h1m1 0h1m2 0h2m2 0h2m5 0h1m7 0h1m-363 1h1m3 0h1m3 0h1m1 0h2m3 0h5m3 0h2m7 0h2m9 0h1m4 0h2m3 0h1m9 0h2m6 0h1m13 0h1m15 0h2m10 0h1m1 0h4m4 0h3m2 0h3m3 0h2m3 0h3m7 0h4m11 0h1m13 0h1m11 0h2m1 0h2m4 0h5m4 0h5m1 0h3m2 0h1m6 0h2m3 0h1m2 0h1m5 0h3m8 0h2m6 0h4m3 0h3m3 0h2m1 0h1m4 0h1m3 0h1m2 0h2m1 0h4m3 0h1m1 0h3m5 0h1m1 0h1m1 0h1m1 0h6m8 0h1m4 0h9m1 0h2m2 0h1m6 0h4m5 0h1m-363 1h10m1 0h4m6 0h2m11 0h6m1 0h2m6 0h5m8 0h3m3 0h1m1 0h2m3 0h1m9 0h2m1 0h7m1 0h5m7 0h7m3 0h4m1 0h1m1 0h3m2 0h4m1 0h1m1 0h2m4 0h3m1 0h2m6 0h1m5 0h1m1 0h5m9 0h2m18 0h2m4 0h6m1 0h1m1 0h3m1 0h3m1 0h6m2 0h1m1 0h4m4 0h2m12 0h2m8 0h2m4 0h2m1 0h1m1 0h9m1 0h7m6 0h2m9 0h6m14 0h5m3 0h2m6 0h2m1 0h6m1 0h1m2 0h7m3 0h2m3 0h1m-354 1h3m10 0h3m5 0h2m12 0h1m1 0h1m3 0h1m1 0h1m2 0h8m2 0h2m1 0h1m1 0h1m2 0h1m2 0h4m5 0h2m9 0h1m1 0h1m7 0h1m1 0h1m3 0h4m2 0h1m4 0h2m1 0h2m4 0h2m2 0h2m7 0h2m4 0h3m4 0h1m8 0h3m16 0h2m11 0h5m1 0h1m4 0h1m4 0h6m5 0h3m15 0h1m9 0h4m2 0h3m9 0h2m6 0h1m5 0h2m15 0h2m27 0h4m1 0h1m4 0h4m8 0h3m1 0h2m1 0h2m3 0h1m-369 1h1m9 0h3m2 0h1m1 0h1m5 0h1m1 0h2m15 0h15m4 0h1m3 0h1m1 0h6m1 0h2m1 0h1m3 0h2m5 0h1m3 0h1m4 0h4m6 0h4m4 0h1m1 0h1m2 0h1m3 0h6m3 0h3m11 0h2m4 0h3m3 0h2m10 0h1m9 0h1m1 0h1m3 0h1m1 0h1m3 0h10m1 0h2m1 0h1m2 0h1m1 0h1m3 0h1m1 0h1m1 0h3m4 0h5m6 0h1m1 0h1m1 0h1m3 0h4m8 0h2m3 0h2m4 0h7m1 0h11m1 0h3m2 0h10m2 0h1m12 0h8m2 0h1m3 0h1m4 0h2m5 0h1m1 0h1m7 0h4m1 0h5m2 0h2m-377 1h1m6 0h2m7 0h5m1 0h4m3 0h6m14 0h5m1 0h1m2 0h1m2 0h4m3 0h2m2 0h2m2 0h10m3 0h2m4 0h2m2 0h2m5 0h3m2 0h19m1 0h7m2 0h4m10 0h1m1 0h1m2 0h5m2 0h5m6 0h3m8 0h4m1 0h5m2 0h19m1 0h1m2 0h8m5 0h4m5 0h6m5 0h2m7 0h4m1 0h5m1 0h14m2 0h1m1 0h2m2 0h2m1 0h11m1 0h7m1 0h2m3 0h3m2 0h4m1 0h2m2 0h2m5 0h3m2 0h6m6 0h10m1 0h3m-379 1h2m14 0h1m12 0h1m21 0h6m1 0h2m3 0h4m9 0h5m3 0h1m1 0h1m2 0h2m15 0h2m3 0h1m11 0h3m2 0h1m1 0h1m2 0h4m1 0h1m1 0h3m11 0h4m1 0h4m8 0h1m5 0h4m12 0h1m1 0h1m2 0h1m3 0h7m2 0h1m4 0h1m1 0h1m1 0h1m2 0h2m11 0h1m2 0h1m9 0h1m1 0h1m1 0h1m2 0h3m10 0h1m5 0h1m7 0h2m1 0h5m1 0h5m1 0h3m1 0h3m2 0h4m6 0h1m1 0h5m4 0h2m1 0h4m6 0h2m4 0h4m7 0h1m5 0h4m3 0h1m2 0h5m-377 1h5m1 0h1m2 0h6m11 0h2m8 0h1m11 0h1m11 0h3m1 0h1m10 0h1m1 0h2m2 0h2m1 0h1m1 0h1m1 0h1m16 0h2m2 0h1m11 0h1m1 0h1m1 0h1m1 0h10m2 0h2m12 0h1m1 0h1m2 0h3m7 0h2m8 0h1m12 0h6m2 0h1m3 0h1m2 0h4m3 0h1m1 0h1m2 0h2m2 0h2m10 0h1m1 0h2m8 0h8m2 0h2m8 0h3m4 0h3m4 0h5m1 0h1m7 0h1m3 0h3m1 0h1m1 0h1m3 0h1m5 0h5m6 0h1m6 0h1m5 0h2m7 0h2m6 0h1m9 0h1m2 0h2m1 0h1m3 0h1m-377 1h1m4 0h3m1 0h1m5 0h1m8 0h1m1 0h1m4 0h2m3 0h2m11 0h2m12 0h1m1 0h1m9 0h3m5 0h1m1 0h4m8 0h1m9 0h1m2 0h1m11 0h3m1 0h1m3 0h1m8 0h3m9 0h6m1 0h1m11 0h1m8 0h2m7 0h3m1 0h1m1 0h4m2 0h2m1 0h2m3 0h3m3 0h1m1 0h2m2 0h1m3 0h1m10 0h1m1 0h4m1 0h1m5 0h2m4 0h2m2 0h2m9 0h1m6 0h2m4 0h2m1 0h3m7 0h1m3 0h1m1 0h2m2 0h1m1 0h2m9 0h2m6 0h1m6 0h1m6 0h1m12 0h3m10 0h1m5 0h1m2 0h2m-379 1h2m7 0h2m5 0h2m6 0h4m3 0h2m1 0h2m1 0h5m10 0h3m2 0h1m2 0h2m1 0h1m1 0h3m4 0h1m1 0h1m2 0h1m7 0h2m2 0h2m7 0h2m8 0h2m2 0h1m11 0h2m2 0h2m1 0h3m7 0h3m7 0h2m1 0h7m11 0h1m9 0h1m6 0h1m2 0h6m5 0h10m3 0h2m1 0h1m2 0h1m3 0h1m6 0h2m1 0h1m2 0h1m1 0h4m4 0h3m5 0h1m3 0h1m1 0h1m7 0h3m5 0h2m3 0h2m1 0h5m5 0h1m3 0h2m1 0h1m2 0h2m10 0h4m5 0h2m5 0h1m6 0h1m11 0h5m9 0h1m5 0h2m3 0h1m-357 1h3m3 0h2m4 0h2m4 0h4m1 0h1m7 0h6m1 0h4m4 0h8m9 0h2m17 0h1m1 0h1m4 0h1m6 0h1m5 0h2m2 0h1m3 0h1m6 0h2m8 0h1m21 0h2m7 0h1m6 0h2m10 0h1m10 0h2m4 0h1m1 0h3m4 0h1m5 0h1m1 0h2m3 0h2m10 0h2m4 0h1m3 0h3m9 0h3m4 0h4m7 0h6m3 0h4m18 0h2m5 0h1m5 0h1m4 0h1m1 0h3m4 0h1m1 0h1m6 0h2m1 0h2m3 0h3m6 0h1m1 0h2m-357 1h1m5 0h1m15 0h3m1 0h1m15 0h2m2 0h1m18 0h2m2 0h2m4 0h1m6 0h3m4 0h1m6 0h2m4 0h3m2 0h1m3 0h1m4 0h2m9 0h1m21 0h1m1 0h1m7 0h1m4 0h2m1 0h2m3 0h1m4 0h2m1 0h1m9 0h1m4 0h1m8 0h2m4 0h1m14 0h2m1 0h1m1 0h1m4 0h3m1 0h3m1 0h1m9 0h1m7 0h1m15 0h1m23 0h2m4 0h2m3 0h1m4 0h4m1 0h8m7 0h2m1 0h1m2 0h1m2 0h1m6 0h2m-355 1h1m5 0h1m5 0h2m1 0h2m6 0h4m1 0h2m3 0h1m1 0h1m3 0h3m1 0h3m6 0h1m1 0h1m1 0h1m1 0h1m1 0h4m2 0h3m1 0h15m4 0h1m6 0h1m5 0h1m3 0h2m3 0h5m4 0h1m1 0h6m3 0h2m1 0h1m1 0h1m3 0h1m1 0h1m5 0h3m2 0h7m2 0h7m2 0h2m4 0h9m3 0h2m3 0h2m6 0h1m1 0h2m3 0h1m14 0h6m7 0h1m3 0h3m9 0h2m6 0h1m2 0h1m1 0h4m2 0h1m2 0h2m15 0h1m9 0h3m3 0h2m1 0h1m4 0h2m2 0h1m4 0h7m5 0h7m1 0h2m6 0h2m-355 1h1m5 0h1m4 0h1m1 0h2m1 0h1m7 0h4m1 0h1m2 0h4m2 0h1m2 0h1m9 0h9m3 0h1m24 0h1m6 0h2m5 0h1m4 0h1m11 0h3m8 0h1m1 0h5m2 0h4m4 0h2m3 0h2m4 0h2m1 0h1m1 0h1m1 0h8m4 0h1m7 0h1m9 0h1m5 0h3m4 0h2m15 0h3m9 0h2m4 0h3m8 0h1m6 0h5m3 0h1m1 0h2m1 0h2m6 0h1m8 0h2m11 0h1m4 0h2m4 0h1m1 0h1m2 0h1m10 0h2m-354 1h2m10 0h3m1 0h6m3 0h2m5 0h1m1 0h2m1 0h3m7 0h2m1 0h3m1 0h5m3 0h1m8 0h1m1 0h1m1 0h1m1 0h1m2 0h1m3 0h2m23 0h1m13 0h1m4 0h1m11 0h3m8 0h2m1 0h2m1 0h1m1 0h5m3 0h1m1 0h1m4 0h1m7 0h4m7 0h1m4 0h1m7 0h3m7 0h1m5 0h3m5 0h1m14 0h1m13 0h2m1 0h1m3 0h1m8 0h3m5 0h1m1 0h2m3 0h2m1 0h1m2 0h2m4 0h2m14 0h1m6 0h3m2 0h2m4 0h3m2 0h1m11 0h3m9 0h1m-367 1h1m1 0h11m2 0h2m7 0h2m3 0h1m1 0h3m6 0h3m10 0h3m7 0h2m4 0h4m1 0h5m1 0h2m4 0h3m21 0h1m13 0h3m1 0h3m7 0h3m5 0h3m1 0h1m1 0h9m3 0h3m1 0h3m3 0h1m5 0h1m1 0h2m1 0h2m5 0h3m4 0h1m9 0h3m1 0h1m3 0h1m4 0h1m7 0h1m15 0h2m13 0h3m3 0h2m9 0h3m1 0h1m1 0h4m6 0h1m3 0h3m17 0h4m6 0h2m6 0h1m1 0h2m1 0h2m13 0h3m2 0h11m1 0h2m2 0h3m-365 1h1m2 0h1m4 0h1m4 0h3m11 0h1m8 0h2m2 0h1m1 0h1m6 0h1m3 0h1m1 0h3m2 0h7m4 0h3m20 0h2m14 0h2m3 0h1m6 0h3m5 0h1m1 0h5m3 0h1m3 0h2m4 0h2m3 0h1m3 0h1m4 0h3m1 0h2m6 0h3m5 0h1m11 0h3m3 0h1m4 0h2m5 0h2m14 0h3m8 0h1m3 0h4m4 0h1m11 0h3m7 0h1m1 0h3m5 0h2m1 0h2m12 0h2m2 0h1m7 0h1m6 0h7m15 0h1m1 0h1m10 0h2m1 0h1m1 0h1m-363 1h5m4 0h1m4 0h1m13 0h1m7 0h3m2 0h3m4 0h2m4 0h3m1 0h1m1 0h1m2 0h2m2 0h3m1 0h1m24 0h1m13 0h1m4 0h1m9 0h1m5 0h2m1 0h4m1 0h3m1 0h2m1 0h1m3 0h1m1 0h1m2 0h2m3 0h1m3 0h1m1 0h3m6 0h1m3 0h1m5 0h1m7 0h1m3 0h3m3 0h1m5 0h1m4 0h3m13 0h1m5 0h1m4 0h3m1 0h1m3 0h1m4 0h3m9 0h1m1 0h1m6 0h3m3 0h3m3 0h2m1 0h1m13 0h1m1 0h2m7 0h1m13 0h1m14 0h3m10 0h2m1 0h1m1 0h1m-363 1h1m1 0h4m1 0h2m4 0h1m2 0h1m11 0h1m6 0h1m5 0h3m3 0h3m3 0h1m2 0h2m2 0h1m1 0h1m6 0h3m20 0h1m3 0h1m13 0h1m4 0h1m8 0h2m5 0h3m4 0h7m1 0h1m3 0h3m3 0h1m3 0h1m3 0h5m5 0h2m3 0h1m5 0h1m6 0h3m2 0h3m3 0h1m5 0h1m6 0h1m4 0h3m2 0h1m2 0h1m5 0h7m1 0h4m2 0h3m4 0h3m7 0h4m4 0h1m5 0h2m1 0h2m5 0h1m8 0h1m4 0h4m7 0h1m9 0h1m1 0h3m15 0h2m10 0h2m1 0h1m1 0h1m-375 1h1m4 0h1m5 0h1m5 0h4m3 0h2m1 0h2m11 0h1m5 0h2m7 0h1m5 0h4m3 0h2m2 0h5m4 0h3m19 0h2m3 0h2m12 0h1m4 0h2m6 0h3m4 0h2m8 0h1m1 0h3m1 0h1m3 0h4m2 0h5m4 0h4m5 0h2m2 0h2m4 0h2m7 0h2m2 0h3m3 0h1m5 0h1m6 0h1m3 0h1m2 0h1m1 0h2m1 0h2m4 0h2m8 0h1m1 0h1m4 0h1m6 0h1m10 0h2m3 0h2m5 0h4m5 0h1m7 0h2m4 0h1m2 0h1m7 0h1m8 0h4m17 0h2m11 0h1m1 0h3m-376 1h4m1 0h2m1 0h1m1 0h2m4 0h1m7 0h4m1 0h1m1 0h1m9 0h1m4 0h1m3 0h1m5 0h2m19 0h1m3 0h1m2 0h1m25 0h2m11 0h1m5 0h1m6 0h1m5 0h2m9 0h7m3 0h2m1 0h1m5 0h2m3 0h1m1 0h4m7 0h1m3 0h5m8 0h6m3 0h1m4 0h1m7 0h5m1 0h1m6 0h1m3 0h3m7 0h4m2 0h1m1 0h2m5 0h2m10 0h1m1 0h1m2 0h2m11 0h2m14 0h4m7 0h1m3 0h1m4 0h2m28 0h1m2 0h3m1 0h2m-377 1h1m3 0h7m5 0h2m7 0h2m1 0h5m9 0h1m4 0h1m2 0h2m6 0h3m17 0h3m1 0h1m2 0h1m26 0h2m8 0h1m1 0h1m1 0h1m3 0h1m5 0h1m5 0h1m1 0h1m9 0h2m2 0h1m1 0h1m3 0h2m1 0h2m3 0h3m3 0h1m1 0h2m1 0h3m4 0h2m2 0h1m1 0h4m7 0h1m8 0h2m4 0h1m10 0h2m1 0h1m5 0h1m4 0h1m10 0h1m1 0h1m1 0h2m2 0h2m5 0h1m10 0h3m3 0h2m1 0h2m6 0h1m18 0h2m7 0h1m2 0h2m12 0h2m17 0h1m1 0h4m2 0h2m1 0h3m-364 1h3m1 0h2m7 0h2m2 0h5m4 0h2m3 0h1m2 0h1m1 0h1m8 0h1m18 0h5m1 0h1m27 0h2m2 0h3m1 0h2m1 0h3m3 0h1m5 0h4m1 0h5m3 0h1m1 0h2m1 0h2m1 0h2m1 0h1m1 0h2m4 0h1m5 0h1m3 0h2m1 0h1m2 0h3m2 0h1m4 0h1m1 0h2m7 0h1m1 0h1m4 0h1m1 0h2m5 0h3m11 0h2m5 0h1m3 0h1m10 0h2m1 0h1m1 0h2m3 0h2m4 0h4m9 0h1m4 0h2m1 0h1m5 0h1m9 0h1m2 0h1m15 0h1m5 0h1m9 0h3m8 0h1m1 0h1m1 0h1m3 0h3m5 0h1m3 0h1m1 0h2m-366 1h7m13 0h1m1 0h1m3 0h1m5 0h1m2 0h1m1 0h2m7 0h4m8 0h5m1 0h10m5 0h1m20 0h1m1 0h4m1 0h2m1 0h1m4 0h5m4 0h2m2 0h1m2 0h1m2 0h16m4 0h3m2 0h2m4 0h3m1 0h2m1 0h4m2 0h3m1 0h2m6 0h6m1 0h7m1 0h1m2 0h2m9 0h4m5 0h1m3 0h2m1 0h1m1 0h1m1 0h6m1 0h1m1 0h2m4 0h1m5 0h1m1 0h1m9 0h2m6 0h1m3 0h3m8 0h2m1 0h2m14 0h2m4 0h2m4 0h10m1 0h1m3 0h6m2 0h2m6 0h2m2 0h2m-362 1h3m15 0h8m4 0h1m3 0h1m2 0h1m10 0h2m5 0h2m4 0h3m8 0h1m1 0h1m1 0h4m19 0h1m9 0h1m8 0h1m3 0h1m3 0h2m1 0h1m2 0h1m17 0h1m4 0h1m6 0h2m12 0h1m8 0h1m8 0h1m4 0h1m2 0h3m1 0h1m10 0h1m9 0h2m3 0h6m5 0h1m1 0h1m1 0h2m4 0h1m4 0h4m10 0h2m5 0h2m1 0h1m12 0h1m2 0h1m15 0h2m8 0h1m9 0h3m12 0h1m1 0h1m5 0h1m3 0h1m-367 1h5m2 0h1m1 0h1m1 0h1m5 0h1m16 0h3m2 0h3m12 0h1m4 0h3m5 0h2m4 0h2m1 0h5m3 0h1m19 0h4m4 0h3m7 0h2m2 0h3m2 0h9m4 0h2m6 0h4m3 0h2m5 0h1m13 0h1m8 0h2m7 0h1m3 0h5m1 0h3m4 0h2m5 0h2m1 0h1m6 0h2m3 0h4m5 0h5m1 0h2m1 0h1m2 0h4m4 0h2m10 0h2m5 0h1m1 0h4m8 0h5m1 0h2m13 0h1m8 0h1m11 0h2m5 0h1m1 0h1m3 0h3m4 0h9m-379 1h1m6 0h2m7 0h7m1 0h9m1 0h2m2 0h4m3 0h2m8 0h1m1 0h1m4 0h2m6 0h1m3 0h4m3 0h9m2 0h2m22 0h5m1 0h2m5 0h4m4 0h2m9 0h1m1 0h3m1 0h1m5 0h1m3 0h1m2 0h1m7 0h1m13 0h2m5 0h1m9 0h1m3 0h3m2 0h5m3 0h1m1 0h1m1 0h1m4 0h4m4 0h1m5 0h4m3 0h2m1 0h2m1 0h8m3 0h3m3 0h3m9 0h1m5 0h1m4 0h1m7 0h2m3 0h2m1 0h3m10 0h1m9 0h1m5 0h2m1 0h1m3 0h1m4 0h4m3 0h3m4 0h1m-372 1h2m5 0h1m1 0h1m9 0h1m3 0h2m1 0h1m1 0h2m3 0h4m1 0h2m1 0h2m3 0h2m7 0h4m5 0h2m2 0h4m2 0h5m4 0h8m1 0h4m19 0h2m1 0h4m1 0h2m4 0h2m7 0h2m9 0h5m1 0h1m5 0h5m1 0h2m7 0h1m13 0h2m4 0h2m8 0h2m3 0h3m1 0h6m2 0h2m1 0h3m7 0h1m4 0h1m4 0h2m5 0h3m1 0h2m2 0h7m3 0h1m1 0h1m5 0h1m9 0h3m2 0h4m1 0h2m6 0h3m8 0h1m9 0h3m6 0h3m4 0h5m2 0h3m3 0h2m1 0h1m3 0h1m1 0h1m3 0h1m5 0h1m-377 1h10m4 0h2m2 0h2m2 0h2m1 0h5m2 0h9m1 0h1m2 0h3m5 0h1m1 0h2m1 0h2m5 0h1m1 0h1m3 0h1m5 0h2m4 0h2m1 0h1m8 0h1m1 0h1m9 0h1m6 0h6m1 0h2m1 0h1m4 0h2m6 0h3m8 0h1m4 0h1m1 0h1m6 0h4m2 0h1m6 0h1m8 0h2m3 0h3m5 0h1m1 0h1m5 0h1m1 0h1m3 0h11m2 0h2m9 0h3m2 0h2m13 0h4m1 0h1m2 0h1m1 0h1m4 0h4m4 0h4m9 0h1m5 0h4m3 0h1m3 0h2m8 0h1m1 0h1m9 0h1m5 0h4m1 0h1m1 0h4m1 0h1m1 0h4m4 0h1m1 0h7m3 0h1m4 0h3m1 0h1m-367 1h5m22 0h3m4 0h1m4 0h3m1 0h4m5 0h3m2 0h2m4 0h3m2 0h2m1 0h3m8 0h3m4 0h1m3 0h2m10 0h2m1 0h2m1 0h1m3 0h1m10 0h2m2 0h1m4 0h2m2 0h2m1 0h1m1 0h1m2 0h3m2 0h1m1 0h1m7 0h2m4 0h1m1 0h1m1 0h1m5 0h1m4 0h4m4 0h3m4 0h3m7 0h5m4 0h1m6 0h1m1 0h1m14 0h1m2 0h4m1 0h6m3 0h3m7 0h2m8 0h2m3 0h5m2 0h2m2 0h1m10 0h3m8 0h1m9 0h4m3 0h4m7 0h3m5 0h1m2 0h2m2 0h1m1 0h1m2 0h2m-366 1h2m2 0h1m22 0h1m6 0h1m3 0h1m4 0h1m1 0h1m12 0h1m4 0h1m3 0h4m6 0h2m2 0h2m1 0h1m3 0h2m2 0h2m9 0h4m1 0h2m1 0h1m3 0h2m10 0h4m5 0h1m1 0h3m1 0h3m1 0h4m2 0h1m1 0h1m8 0h1m3 0h2m1 0h2m6 0h1m1 0h1m1 0h5m4 0h1m6 0h3m8 0h2m5 0h2m6 0h3m1 0h1m12 0h5m1 0h1m1 0h3m1 0h2m2 0h1m5 0h2m4 0h2m8 0h3m4 0h2m1 0h1m1 0h2m1 0h1m7 0h2m3 0h3m5 0h2m9 0h4m12 0h2m2 0h1m3 0h5m3 0h4m-367 1h1m1 0h3m4 0h1m9 0h1m2 0h1m5 0h1m2 0h6m2 0h3m1 0h1m4 0h4m1 0h2m2 0h2m3 0h3m2 0h2m2 0h2m2 0h2m1 0h1m2 0h1m1 0h1m1 0h5m4 0h1m1 0h7m4 0h3m1 0h1m2 0h3m4 0h1m4 0h3m4 0h5m3 0h2m1 0h2m1 0h4m6 0h3m7 0h2m1 0h5m1 0h2m1 0h1m3 0h4m1 0h1m2 0h1m2 0h2m4 0h3m1 0h2m6 0h1m2 0h4m1 0h3m7 0h4m8 0h6m1 0h2m1 0h1m1 0h6m2 0h1m4 0h1m1 0h2m4 0h3m8 0h1m6 0h2m2 0h3m5 0h2m1 0h3m3 0h2m5 0h1m9 0h2m12 0h2m1 0h3m3 0h1m7 0h1m4 0h2m-370 1h4m6 0h1m8 0h2m1 0h2m4 0h2m4 0h4m4 0h1m1 0h1m7 0h4m1 0h3m3 0h1m1 0h1m1 0h3m1 0h3m1 0h5m1 0h15m1 0h7m3 0h6m1 0h4m1 0h1m1 0h2m3 0h4m7 0h2m4 0h5m1 0h3m1 0h9m6 0h6m1 0h6m4 0h5m1 0h2m1 0h2m4 0h5m1 0h1m5 0h2m4 0h6m8 0h1m9 0h7m1 0h4m1 0h3m2 0h1m2 0h1m3 0h2m2 0h2m5 0h1m8 0h2m6 0h2m1 0h3m4 0h3m3 0h1m4 0h1m4 0h4m20 0h2m7 0h2m7 0h1m3 0h3m-372 1h1m2 0h3m6 0h4m1 0h1m2 0h8m3 0h1m3 0h5m4 0h3m7 0h4m1 0h5m1 0h4m1 0h2m2 0h5m10 0h7m5 0h1m2 0h1m3 0h2m9 0h3m2 0h1m4 0h5m4 0h3m3 0h4m1 0h2m1 0h4m4 0h1m2 0h1m5 0h2m2 0h1m1 0h5m6 0h1m2 0h1m1 0h4m1 0h2m8 0h3m6 0h1m3 0h3m11 0h2m8 0h1m1 0h1m2 0h5m1 0h2m1 0h3m2 0h2m1 0h3m2 0h1m3 0h2m4 0h3m7 0h2m6 0h5m4 0h3m3 0h2m2 0h2m6 0h2m11 0h1m8 0h2m6 0h3m5 0h3m5 0h1m-373 1h2m1 0h1m12 0h5m7 0h1m2 0h2m7 0h1m11 0h1m5 0h2m4 0h1m1 0h1m2 0h2m3 0h2m3 0h1m9 0h2m10 0h2m1 0h2m4 0h1m9 0h1m1 0h1m2 0h1m3 0h1m4 0h2m5 0h3m4 0h1m1 0h5m1 0h1m3 0h2m1 0h2m6 0h1m1 0h2m1 0h1m1 0h1m1 0h1m6 0h1m1 0h4m1 0h4m1 0h1m7 0h3m1 0h1m3 0h3m4 0h1m18 0h1m1 0h4m1 0h2m1 0h1m1 0h2m1 0h3m5 0h1m3 0h1m1 0h1m5 0h1m6 0h2m7 0h3m3 0h6m4 0h1m6 0h2m2 0h1m5 0h1m1 0h4m7 0h2m7 0h1m6 0h2m7 0h1m7 0h2m-373 1h2m1 0h1m15 0h2m7 0h1m10 0h1m11 0h2m5 0h2m4 0h2m3 0h2m4 0h2m1 0h1m11 0h2m17 0h1m10 0h3m2 0h1m2 0h2m5 0h1m6 0h2m4 0h1m1 0h2m2 0h2m8 0h1m5 0h1m5 0h4m6 0h1m5 0h4m1 0h3m7 0h7m1 0h1m1 0h1m4 0h1m15 0h1m1 0h13m1 0h2m2 0h1m1 0h1m3 0h1m2 0h1m2 0h1m4 0h1m8 0h1m9 0h5m4 0h1m4 0h1m1 0h1m4 0h2m1 0h1m6 0h2m3 0h3m5 0h2m7 0h1m5 0h3m1 0h1m5 0h1m-368 1h8m9 0h1m4 0h3m7 0h2m8 0h3m2 0h1m1 0h11m2 0h2m4 0h2m2 0h3m4 0h8m1 0h8m10 0h1m2 0h1m2 0h3m10 0h2m2 0h1m2 0h2m2 0h1m2 0h1m5 0h5m2 0h10m1 0h1m4 0h1m5 0h8m1 0h3m1 0h1m1 0h6m1 0h4m1 0h3m4 0h2m2 0h1m1 0h1m1 0h2m1 0h5m2 0h2m4 0h1m1 0h4m3 0h2m5 0h1m1 0h1m8 0h1m2 0h3m3 0h1m1 0h5m1 0h1m2 0h4m2 0h1m2 0h3m9 0h3m4 0h1m4 0h3m3 0h3m1 0h3m6 0h1m2 0h3m2 0h1m3 0h1m1 0h2m3 0h2m4 0h6m3 0h1m1 0h1m4 0h1m2 0h2m-369 1h1m1 0h3m3 0h2m2 0h1m1 0h1m2 0h1m1 0h1m5 0h1m10 0h1m1 0h3m10 0h1m2 0h1m14 0h2m7 0h2m10 0h1m3 0h1m2 0h2m1 0h2m4 0h1m2 0h1m4 0h1m1 0h1m3 0h1m2 0h1m3 0h2m2 0h3m1 0h1m5 0h3m9 0h5m1 0h1m13 0h2m2 0h3m6 0h2m3 0h2m6 0h1m1 0h1m1 0h5m2 0h1m4 0h3m1 0h2m1 0h4m3 0h1m9 0h4m7 0h2m2 0h1m1 0h1m3 0h1m6 0h3m4 0h4m4 0h2m7 0h2m6 0h1m4 0h1m1 0h1m4 0h2m3 0h1m4 0h5m4 0h2m2 0h3m1 0h1m1 0h2m5 0h3m6 0h3m4 0h2m1 0h1m1 0h1m-370 1h3m2 0h4m1 0h1m1 0h9m5 0h1m10 0h1m2 0h2m10 0h4m12 0h4m18 0h2m2 0h2m11 0h1m1 0h2m3 0h2m1 0h1m2 0h1m3 0h1m3 0h2m4 0h3m1 0h1m5 0h1m13 0h2m15 0h7m5 0h2m11 0h1m1 0h1m1 0h6m1 0h1m6 0h1m2 0h7m2 0h1m3 0h6m11 0h2m2 0h3m3 0h1m2 0h1m3 0h1m1 0h1m7 0h1m1 0h1m3 0h2m7 0h3m4 0h3m2 0h3m3 0h1m4 0h1m4 0h3m11 0h10m5 0h2m5 0h3m4 0h2m1 0h3m-370 1h1m6 0h1m1 0h2m1 0h1m5 0h3m5 0h1m10 0h1m3 0h4m8 0h1m3 0h1m9 0h2m2 0h1m3 0h1m2 0h1m14 0h3m11 0h1m9 0h1m2 0h1m3 0h2m8 0h5m5 0h2m28 0h1m4 0h1m1 0h2m4 0h2m11 0h2m2 0h2m3 0h3m6 0h1m1 0h4m3 0h1m1 0h1m3 0h1m5 0h2m4 0h5m5 0h6m2 0h3m2 0h3m4 0h2m1 0h3m4 0h1m9 0h1m6 0h1m4 0h5m4 0h1m6 0h1m1 0h2m2 0h2m9 0h2m2 0h1m6 0h1m5 0h3m8 0h2m-370 1h1m5 0h5m1 0h3m2 0h4m5 0h1m10 0h1m6 0h1m5 0h1m1 0h1m2 0h3m13 0h8m15 0h2m10 0h2m2 0h1m6 0h1m2 0h1m4 0h2m6 0h4m8 0h1m27 0h2m4 0h4m5 0h1m15 0h2m3 0h1m1 0h1m6 0h2m7 0h3m3 0h1m6 0h3m1 0h1m4 0h3m2 0h1m8 0h1m1 0h2m2 0h2m3 0h1m1 0h1m2 0h2m4 0h2m8 0h3m4 0h4m8 0h2m7 0h2m1 0h3m1 0h2m1 0h1m10 0h1m6 0h2m4 0h3m-360 1h1m1 0h1m2 0h1m3 0h2m3 0h1m1 0h3m1 0h1m5 0h1m1 0h2m6 0h2m6 0h1m4 0h2m1 0h1m1 0h6m13 0h2m1 0h1m1 0h1m26 0h3m1 0h2m6 0h1m2 0h1m5 0h1m5 0h3m9 0h2m1 0h2m18 0h1m4 0h1m6 0h4m4 0h2m15 0h2m1 0h3m1 0h1m5 0h1m1 0h1m12 0h2m8 0h2m7 0h1m1 0h3m1 0h1m4 0h1m3 0h1m7 0h1m1 0h1m1 0h4m4 0h1m1 0h1m8 0h3m5 0h1m1 0h1m5 0h3m11 0h1m3 0h3m5 0h1m4 0h1m4 0h4m6 0h2m2 0h1m8 0h1m-373 1h6m8 0h7m5 0h2m1 0h1m7 0h1m5 0h2m4 0h5m5 0h1m13 0h4m1 0h1m28 0h1m1 0h2m6 0h1m2 0h1m5 0h2m5 0h2m10 0h4m17 0h2m4 0h1m6 0h4m21 0h3m3 0h3m3 0h1m2 0h1m11 0h3m8 0h2m7 0h3m1 0h3m3 0h1m4 0h2m5 0h2m1 0h6m4 0h4m9 0h2m4 0h3m4 0h2m12 0h2m3 0h3m4 0h2m4 0h1m3 0h1m11 0h1m1 0h2m1 0h7m-353 1h2m5 0h4m7 0h1m6 0h1m4 0h1m1 0h1m1 0h1m4 0h1m19 0h2m26 0h2m1 0h2m6 0h1m2 0h2m1 0h1m3 0h6m12 0h1m1 0h2m22 0h1m9 0h2m21 0h3m5 0h1m1 0h2m3 0h1m10 0h1m11 0h2m11 0h7m5 0h2m3 0h1m9 0h1m3 0h2m1 0h1m10 0h2m5 0h2m2 0h1m19 0h3m10 0h1m2 0h1m12 0h2m1 0h2m-350 1h2m1 0h1m6 0h1m2 0h2m2 0h3m1 0h2m4 0h3m4 0h5m4 0h2m4 0h1m3 0h1m1 0h1m1 0h1m1 0h4m1 0h1m27 0h1m7 0h1m1 0h1m3 0h3m4 0h2m1 0h2m12 0h4m17 0h2m3 0h1m6 0h5m1 0h1m2 0h1m2 0h1m14 0h2m4 0h3m4 0h2m3 0h1m5 0h2m21 0h1m5 0h1m1 0h2m6 0h1m2 0h1m9 0h3m1 0h3m1 0h3m9 0h1m6 0h1m2 0h1m12 0h6m1 0h3m5 0h1m3 0h2m2 0h1m5 0h1m-353 1h1m12 0h1m1 0h3m3 0h3m2 0h3m1 0h4m2 0h1m2 0h2m17 0h3m1 0h11m3 0h2m4 0h10m2 0h1m2 0h4m5 0h11m2 0h1m6 0h1m1 0h2m1 0h2m14 0h3m13 0h2m1 0h2m2 0h7m4 0h6m1 0h2m1 0h1m3 0h3m1 0h1m3 0h1m5 0h5m4 0h5m6 0h2m1 0h1m9 0h1m1 0h1m2 0h2m1 0h2m3 0h4m1 0h1m3 0h1m1 0h1m3 0h1m8 0h1m2 0h3m5 0h1m9 0h1m6 0h2m1 0h1m1 0h1m9 0h1m5 0h3m6 0h2m2 0h3m2 0h1m4 0h2m-354 1h2m11 0h2m2 0h2m1 0h2m5 0h3m7 0h1m1 0h3m1 0h2m1 0h1m14 0h2m19 0h1m9 0h6m3 0h1m3 0h10m4 0h3m4 0h3m4 0h1m15 0h2m12 0h2m3 0h1m12 0h1m1 0h10m2 0h6m3 0h1m1 0h1m3 0h3m1 0h1m5 0h4m7 0h3m8 0h4m1 0h3m1 0h2m2 0h3m1 0h2m3 0h2m1 0h4m8 0h3m2 0h2m5 0h2m8 0h2m2 0h1m3 0h5m9 0h1m19 0h8m1 0h2m5 0h2m1 0h2m7 0h2m-359 1h1m1 0h1m2 0h1m2 0h15m4 0h2m1 0h5m11 0h3m19 0h1m17 0h2m2 0h1m9 0h1m6 0h1m6 0h1m4 0h1m13 0h2m15 0h1m3 0h2m10 0h3m3 0h2m1 0h4m4 0h2m5 0h3m3 0h3m1 0h1m4 0h1m10 0h1m24 0h4m22 0h5m6 0h1m9 0h4m1 0h1m5 0h1m8 0h1m17 0h1m5 0h2m2 0h1m7 0h1m1 0h2m1 0h1m2 0h1m3 0h1m-357 1h2m2 0h1m2 0h1m26 0h1m33 0h1m18 0h1m1 0h1m10 0h1m6 0h1m5 0h1m5 0h2m11 0h3m15 0h1m4 0h3m8 0h3m21 0h3m5 0h1m1 0h1m4 0h1m10 0h1m24 0h2m25 0h4m6 0h2m11 0h4m3 0h2m1 0h1m6 0h1m16 0h2m6 0h6m5 0h1m4 0h5m1 0h1m-367 1h1m9 0h4m1 0h1m1 0h1m14 0h3m10 0h1m10 0h2m7 0h1m12 0h2m6 0h1m1 0h1m3 0h1m2 0h2m1 0h7m1 0h2m1 0h2m4 0h1m1 0h2m5 0h1m6 0h1m1 0h1m11 0h1m1 0h1m12 0h1m7 0h2m1 0h1m5 0h5m2 0h1m2 0h1m4 0h1m1 0h6m1 0h3m4 0h5m3 0h3m1 0h1m1 0h1m4 0h6m1 0h2m1 0h2m1 0h1m1 0h1m1 0h1m1 0h1m5 0h2m1 0h3m17 0h1m1 0h10m3 0h2m10 0h2m1 0h1m4 0h4m3 0h2m2 0h4m4 0h1m15 0h2m1 0h2m5 0h1m2 0h1m2 0h4m1 0h2m-369 1h2m8 0h5m1 0h1m1 0h1m13 0h4m10 0h1m9 0h1m1 0h1m6 0h2m11 0h3m5 0h4m2 0h4m1 0h1m2 0h1m3 0h6m5 0h3m6 0h1m7 0h3m11 0h3m11 0h2m8 0h3m9 0h1m1 0h2m1 0h2m1 0h1m1 0h3m2 0h1m2 0h3m1 0h1m3 0h3m2 0h2m3 0h6m9 0h2m1 0h2m1 0h9m5 0h3m2 0h1m16 0h3m9 0h1m4 0h4m7 0h3m4 0h1m1 0h1m1 0h1m2 0h1m3 0h1m3 0h1m3 0h2m12 0h1m1 0h1m2 0h2m6 0h1m1 0h2m1 0h1m2 0h3m1 0h1m-378 1h3m7 0h1m14 0h1m1 0h1m13 0h4m10 0h1m1 0h1m6 0h1m2 0h1m15 0h2m1 0h1m2 0h1m6 0h3m1 0h1m2 0h2m1 0h1m2 0h1m2 0h5m6 0h4m6 0h1m7 0h1m9 0h1m5 0h4m2 0h1m1 0h1m2 0h1m10 0h3m8 0h2m6 0h2m3 0h1m1 0h2m3 0h4m1 0h1m3 0h1m3 0h1m2 0h1m2 0h2m1 0h2m1 0h1m6 0h5m1 0h4m1 0h4m5 0h3m1 0h1m14 0h1m1 0h4m9 0h3m5 0h2m8 0h1m4 0h8m3 0h1m3 0h3m2 0h1m11 0h4m3 0h1m6 0h4m1 0h1m1 0h1m2 0h2m-375 1h1m6 0h2m14 0h1m1 0h1m5 0h3m4 0h2m2 0h1m10 0h3m5 0h2m2 0h1m14 0h5m1 0h2m5 0h5m5 0h1m3 0h1m4 0h3m5 0h3m8 0h1m7 0h1m8 0h2m3 0h1m2 0h1m1 0h6m2 0h1m12 0h1m2 0h1m6 0h3m5 0h1m2 0h2m6 0h6m3 0h1m3 0h2m1 0h1m2 0h3m1 0h3m20 0h1m2 0h2m1 0h3m1 0h1m13 0h4m14 0h1m6 0h1m8 0h2m5 0h1m1 0h2m4 0h1m6 0h1m1 0h2m10 0h1m6 0h1m10 0h3m1 0h1m2 0h2m-377 1h2m22 0h2m1 0h1m3 0h2m2 0h1m1 0h1m3 0h1m2 0h1m10 0h7m2 0h2m1 0h1m4 0h1m5 0h1m4 0h2m4 0h2m7 0h3m3 0h2m3 0h1m3 0h1m2 0h1m1 0h1m2 0h2m1 0h1m1 0h1m6 0h2m6 0h1m12 0h2m1 0h2m2 0h2m1 0h2m1 0h1m13 0h1m1 0h3m1 0h1m5 0h1m4 0h2m3 0h15m1 0h1m4 0h1m1 0h1m4 0h2m23 0h3m1 0h1m1 0h4m17 0h1m14 0h1m6 0h1m9 0h3m3 0h2m1 0h3m2 0h2m4 0h1m14 0h2m5 0h3m9 0h4m-373 1h2m21 0h1m1 0h1m1 0h2m1 0h3m2 0h3m3 0h1m1 0h3m1 0h1m5 0h4m1 0h2m1 0h1m3 0h4m2 0h2m4 0h2m9 0h3m7 0h3m2 0h1m5 0h2m2 0h2m1 0h3m3 0h5m7 0h1m5 0h1m14 0h1m1 0h2m1 0h2m1 0h5m5 0h2m1 0h1m4 0h3m1 0h5m2 0h3m1 0h2m1 0h1m3 0h3m2 0h5m1 0h4m1 0h1m3 0h4m23 0h1m6 0h4m1 0h2m13 0h1m3 0h1m1 0h1m6 0h7m1 0h3m3 0h5m8 0h1m7 0h2m3 0h1m4 0h5m10 0h2m7 0h1m8 0h1m-369 1h2m4 0h2m5 0h2m3 0h9m1 0h1m2 0h2m2 0h5m1 0h7m4 0h17m2 0h15m1 0h7m3 0h7m6 0h1m2 0h19m1 0h2m4 0h2m13 0h2m5 0h1m4 0h3m1 0h1m1 0h5m5 0h1m5 0h2m4 0h6m2 0h4m1 0h11m1 0h8m10 0h7m5 0h2m9 0h1m1 0h2m7 0h1m4 0h2m2 0h5m4 0h3m2 0h1m1 0h1m3 0h1m5 0h3m8 0h3m1 0h1m2 0h5m1 0h10m2 0h1m1 0h2m3 0h3m6 0h5m3 0h3m4 0h2m3 0h2m-375 1h3m1 0h1m2 0h3m2 0h4m4 0h3m2 0h1m8 0h1m9 0h1m2 0h2m2 0h1m6 0h1m6 0h1m10 0h1m3 0h1m3 0h3m1 0h1m15 0h2m1 0h3m4 0h2m10 0h1m2 0h1m3 0h2m20 0h2m3 0h6m10 0h2m4 0h4m3 0h1m1 0h1m2 0h1m11 0h2m4 0h1m8 0h1m7 0h1m1 0h1m6 0h1m12 0h1m2 0h2m9 0h2m12 0h1m4 0h3m1 0h5m1 0h3m3 0h2m1 0h3m8 0h3m6 0h1m7 0h1m4 0h5m5 0h1m10 0h1m2 0h1m6 0h3m2 0h3m-374 1h4m8 0h3m6 0h1m2 0h1m7 0h2m8 0h2m1 0h3m1 0h2m6 0h1m5 0h2m9 0h2m3 0h2m1 0h2m1 0h2m17 0h1m3 0h1m3 0h3m9 0h1m2 0h1m5 0h1m30 0h1m19 0h1m3 0h3m1 0h2m11 0h2m3 0h1m9 0h1m6 0h2m1 0h1m5 0h2m4 0h1m1 0h1m1 0h1m1 0h4m2 0h2m1 0h1m19 0h1m4 0h1m8 0h1m3 0h3m2 0h2m2 0h2m7 0h3m6 0h1m6 0h2m7 0h2m4 0h1m10 0h1m3 0h1m7 0h2m-370 1h1m1 0h3m2 0h6m9 0h1m2 0h1m8 0h1m8 0h2m5 0h2m6 0h2m4 0h3m8 0h2m4 0h1m2 0h2m1 0h3m15 0h1m3 0h1m2 0h1m2 0h2m2 0h1m1 0h1m3 0h2m1 0h2m2 0h2m11 0h1m1 0h3m1 0h3m1 0h5m1 0h5m19 0h1m4 0h2m14 0h2m2 0h1m1 0h1m8 0h1m8 0h1m7 0h1m3 0h7m3 0h1m1 0h1m1 0h3m19 0h2m3 0h2m7 0h1m5 0h2m6 0h1m9 0h1m6 0h1m13 0h1m1 0h1m5 0h2m9 0h5m4 0h1m-368 1h3m3 0h3m4 0h2m9 0h1m2 0h3m6 0h1m24 0h1m3 0h1m1 0h2m7 0h3m4 0h1m2 0h2m3 0h2m1 0h1m1 0h1m3 0h1m5 0h1m4 0h1m1 0h2m2 0h2m1 0h6m2 0h1m2 0h1m1 0h2m11 0h3m2 0h2m2 0h2m4 0h2m4 0h3m3 0h5m1 0h2m6 0h1m3 0h1m2 0h1m1 0h1m14 0h4m8 0h1m8 0h1m7 0h2m4 0h4m4 0h3m3 0h1m1 0h1m8 0h1m9 0h1m4 0h1m7 0h1m6 0h1m6 0h3m7 0h2m5 0h1m12 0h4m6 0h1m12 0h2m3 0h2m-370 1h2m24 0h1m4 0h1m6 0h1m8 0h1m1 0h6m1 0h1m6 0h8m6 0h2m1 0h1m3 0h3m7 0h15m3 0h2m1 0h2m1 0h3m1 0h3m2 0h2m1 0h2m1 0h4m4 0h1m1 0h5m7 0h1m1 0h1m2 0h2m3 0h1m5 0h4m4 0h2m1 0h4m1 0h2m2 0h3m1 0h4m13 0h7m1 0h6m6 0h3m8 0h3m2 0h2m1 0h3m2 0h3m3 0h3m7 0h6m5 0h4m1 0h3m2 0h1m1 0h2m3 0h4m8 0h1m8 0h3m3 0h2m5 0h4m1 0h1m1 0h1m1 0h2m1 0h1m3 0h9m1 0h2m3 0h2m1 0h2m-371 1h1m26 0h2m1 0h1m1 0h2m1 0h2m1 0h2m7 0h3m5 0h3m8 0h1m3 0h3m6 0h1m1 0h3m2 0h2m24 0h3m2 0h1m1 0h1m1 0h2m2 0h1m3 0h1m2 0h1m8 0h3m1 0h1m9 0h4m1 0h1m1 0h1m1 0h3m19 0h2m1 0h1m1 0h1m1 0h1m3 0h1m16 0h1m1 0h1m1 0h3m4 0h1m6 0h4m10 0h1m2 0h2m1 0h3m1 0h4m3 0h1m1 0h1m1 0h1m4 0h2m2 0h1m1 0h1m8 0h1m3 0h5m4 0h1m3 0h1m1 0h1m1 0h2m3 0h3m8 0h1m4 0h1m4 0h2m2 0h10m7 0h1m3 0h2m1 0h1m2 0h1m1 0h4m5 0h1m-349 1h3m2 0h2m1 0h2m8 0h4m5 0h1m1 0h1m7 0h2m2 0h4m5 0h1m3 0h2m1 0h3m12 0h1m10 0h4m1 0h4m1 0h2m1 0h2m2 0h3m1 0h2m8 0h4m7 0h7m2 0h7m1 0h1m17 0h2m1 0h3m1 0h3m15 0h8m3 0h2m7 0h3m10 0h1m2 0h11m3 0h5m5 0h1m1 0h2m1 0h2m6 0h3m3 0h4m3 0h2m2 0h5m1 0h1m4 0h2m8 0h3m2 0h3m1 0h3m2 0h5m1 0h4m1 0h1m1 0h1m2 0h2m3 0h2m1 0h6m1 0h1m5 0h2m-369 1h1m1 0h1m1 0h1m2 0h3m2 0h1m1 0h4m2 0h3m14 0h3m7 0h3m8 0h2m7 0h1m1 0h2m2 0h3m3 0h1m11 0h2m9 0h3m4 0h1m1 0h1m2 0h2m1 0h1m3 0h2m2 0h1m7 0h5m6 0h4m12 0h3m19 0h1m3 0h2m6 0h1m9 0h1m1 0h1m1 0h1m3 0h1m11 0h1m13 0h1m11 0h2m3 0h5m5 0h7m8 0h1m9 0h2m7 0h5m1 0h5m8 0h1m4 0h6m2 0h1m1 0h11m8 0h1m1 0h1m1 0h2m1 0h3m6 0h1m-370 1h6m1 0h2m1 0h1m1 0h3m1 0h3m1 0h1m2 0h1m5 0h1m10 0h1m7 0h7m3 0h1m1 0h1m6 0h3m1 0h1m3 0h2m2 0h4m1 0h1m3 0h1m1 0h1m1 0h8m4 0h2m3 0h4m1 0h5m2 0h1m4 0h1m8 0h1m1 0h2m7 0h1m1 0h1m11 0h1m2 0h1m6 0h4m1 0h2m2 0h1m1 0h2m2 0h5m1 0h1m1 0h5m1 0h2m3 0h6m2 0h2m10 0h2m13 0h1m17 0h1m2 0h2m19 0h2m1 0h1m1 0h2m3 0h2m6 0h2m1 0h1m1 0h1m5 0h2m7 0h3m3 0h5m1 0h5m1 0h2m1 0h5m7 0h8m8 0h2m2 0h1m-380 1h3m6 0h1m2 0h2m1 0h1m1 0h1m1 0h1m2 0h6m2 0h3m2 0h2m3 0h4m3 0h1m13 0h1m3 0h1m1 0h1m7 0h1m1 0h2m2 0h1m7 0h10m7 0h5m6 0h1m4 0h1m5 0h1m4 0h1m7 0h3m1 0h1m6 0h2m1 0h1m11 0h4m1 0h1m2 0h3m2 0h2m1 0h5m3 0h1m4 0h4m4 0h2m1 0h3m4 0h1m15 0h1m15 0h2m15 0h2m3 0h2m19 0h4m1 0h1m1 0h2m9 0h4m7 0h1m9 0h1m9 0h2m2 0h2m1 0h2m1 0h1m2 0h1m8 0h1m2 0h2m10 0h4m-377 1h1m5 0h2m3 0h2m2 0h2m6 0h3m4 0h1m2 0h2m1 0h2m1 0h4m2 0h1m8 0h1m4 0h1m3 0h1m1 0h1m2 0h1m1 0h1m2 0h1m1 0h2m1 0h2m15 0h2m10 0h1m6 0h2m1 0h1m1 0h2m5 0h1m4 0h2m6 0h5m4 0h1m1 0h4m5 0h1m6 0h5m1 0h1m1 0h2m2 0h2m8 0h1m7 0h2m9 0h1m3 0h2m15 0h1m16 0h1m1 0h1m1 0h1m11 0h2m4 0h2m23 0h2m13 0h3m1 0h1m4 0h3m7 0h2m8 0h2m3 0h3m1 0h2m2 0h1m7 0h2m1 0h3m10 0h1m1 0h2m-377 1h2m3 0h3m8 0h1m7 0h2m4 0h1m2 0h6m1 0h3m2 0h1m7 0h2m4 0h1m3 0h2m2 0h13m26 0h2m8 0h2m1 0h2m5 0h1m5 0h1m7 0h2m4 0h5m1 0h2m2 0h1m1 0h4m4 0h2m2 0h3m5 0h2m6 0h2m2 0h2m1 0h1m12 0h1m21 0h1m7 0h1m8 0h9m1 0h2m11 0h1m38 0h1m1 0h3m6 0h1m8 0h2m7 0h2m2 0h2m3 0h2m2 0h1m7 0h2m1 0h1m9 0h1m1 0h1m-372 1h1m4 0h2m7 0h2m6 0h4m1 0h1m1 0h2m1 0h2m2 0h5m3 0h1m4 0h5m1 0h4m6 0h1m4 0h1m3 0h1m1 0h1m3 0h1m12 0h1m1 0h1m3 0h1m2 0h1m2 0h2m7 0h1m1 0h2m1 0h1m2 0h1m1 0h2m5 0h1m4 0h1m1 0h4m2 0h3m1 0h1m1 0h1m1 0h1m1 0h3m3 0h1m5 0h7m1 0h1m7 0h1m1 0h2m2 0h5m3 0h1m5 0h1m1 0h2m3 0h1m1 0h2m2 0h5m7 0h4m3 0h2m5 0h1m3 0h1m1 0h1m4 0h4m11 0h3m35 0h2m1 0h3m6 0h3m7 0h2m6 0h2m1 0h3m2 0h1m1 0h3m9 0h1m1 0h1m5 0h1m1 0h5m1 0h1m-374 1h1m3 0h3m1 0h1m16 0h3m2 0h4m2 0h5m3 0h1m1 0h1m1 0h1m4 0h2m10 0h1m3 0h2m2 0h4m2 0h2m11 0h4m2 0h2m1 0h2m1 0h3m6 0h7m1 0h7m2 0h2m3 0h2m2 0h1m1 0h1m3 0h8m2 0h2m2 0h5m1 0h6m1 0h3m4 0h7m3 0h2m1 0h1m2 0h2m4 0h3m4 0h5m1 0h1m1 0h1m2 0h1m10 0h1m9 0h2m2 0h4m4 0h1m1 0h2m13 0h1m34 0h1m5 0h1m8 0h1m8 0h2m5 0h6m1 0h5m9 0h3m5 0h4m4 0h2m-374 1h1m4 0h4m16 0h4m1 0h4m4 0h4m2 0h5m4 0h2m4 0h1m1 0h1m2 0h2m4 0h1m3 0h1m3 0h1m1 0h2m1 0h1m3 0h1m1 0h1m3 0h1m1 0h2m1 0h3m1 0h6m6 0h1m4 0h1m2 0h1m1 0h4m3 0h1m3 0h2m1 0h3m3 0h1m1 0h1m5 0h1m1 0h1m7 0h2m4 0h6m4 0h1m9 0h5m3 0h1m4 0h3m4 0h2m1 0h6m1 0h1m10 0h6m2 0h6m1 0h2m1 0h1m4 0h4m4 0h1m1 0h3m4 0h2m7 0h1m3 0h1m2 0h1m1 0h1m5 0h1m10 0h1m5 0h6m3 0h3m7 0h2m5 0h1m1 0h6m1 0h2m5 0h2m2 0h3m3 0h1m1 0h4m4 0h5m-378 1h1m4 0h1m8 0h2m1 0h4m2 0h1m5 0h2m3 0h3m1 0h1m3 0h2m9 0h2m4 0h5m2 0h5m3 0h2m1 0h4m1 0h9m2 0h3m1 0h2m2 0h2m5 0h2m1 0h5m1 0h1m1 0h6m6 0h1m2 0h2m1 0h1m3 0h2m2 0h3m1 0h2m1 0h2m1 0h1m1 0h1m4 0h3m3 0h1m5 0h2m3 0h1m15 0h3m3 0h1m4 0h2m1 0h3m7 0h2m2 0h2m3 0h1m6 0h1m1 0h1m5 0h2m1 0h3m4 0h1m6 0h3m2 0h3m3 0h10m1 0h2m1 0h4m1 0h2m1 0h2m8 0h2m3 0h2m6 0h3m3 0h2m7 0h2m3 0h3m1 0h1m3 0h2m6 0h1m1 0h3m5 0h3m4 0h4m-373 1h1m4 0h1m7 0h1m1 0h2m3 0h4m6 0h2m4 0h2m5 0h3m5 0h2m1 0h1m4 0h3m1 0h2m8 0h6m3 0h1m7 0h1m1 0h1m1 0h2m6 0h1m6 0h2m2 0h5m1 0h1m1 0h4m6 0h1m1 0h3m1 0h2m3 0h2m2 0h3m1 0h2m1 0h1m1 0h4m2 0h4m3 0h1m6 0h1m3 0h1m5 0h3m6 0h4m3 0h1m3 0h1m1 0h3m10 0h1m1 0h1m1 0h1m2 0h2m6 0h2m9 0h5m1 0h2m3 0h2m1 0h3m4 0h2m11 0h2m1 0h2m3 0h2m1 0h1m1 0h4m4 0h2m3 0h2m1 0h3m6 0h1m4 0h2m7 0h3m1 0h5m11 0h2m8 0h1m5 0h1m-371 1h1m1 0h1m4 0h1m5 0h2m8 0h3m1 0h1m5 0h1m2 0h1m10 0h3m2 0h5m5 0h2m2 0h1m9 0h3m1 0h1m2 0h2m7 0h2m3 0h1m1 0h1m3 0h2m6 0h1m2 0h4m3 0h1m1 0h4m6 0h1m3 0h1m2 0h1m4 0h1m3 0h2m4 0h1m4 0h1m1 0h6m2 0h1m6 0h1m2 0h2m4 0h1m2 0h1m6 0h4m2 0h1m4 0h1m3 0h1m1 0h1m3 0h1m1 0h1m1 0h1m2 0h1m1 0h1m2 0h2m6 0h2m13 0h2m4 0h1m1 0h1m1 0h1m7 0h3m17 0h3m1 0h2m2 0h1m3 0h1m4 0h1m5 0h1m6 0h2m4 0h2m8 0h1m3 0h3m1 0h1m10 0h1m7 0h1m6 0h1m-371 1h3m4 0h1m4 0h2m11 0h3m5 0h1m1 0h2m12 0h1m1 0h3m1 0h2m1 0h1m2 0h3m2 0h2m8 0h5m6 0h1m3 0h2m3 0h5m2 0h2m5 0h3m1 0h4m3 0h6m6 0h1m3 0h3m4 0h1m5 0h1m2 0h1m1 0h1m2 0h1m1 0h1m1 0h4m1 0h2m1 0h1m5 0h1m2 0h3m4 0h1m1 0h2m6 0h4m2 0h2m2 0h1m3 0h4m1 0h5m1 0h1m2 0h1m1 0h1m1 0h3m27 0h1m1 0h1m1 0h1m1 0h1m6 0h2m6 0h1m12 0h1m2 0h1m1 0h1m4 0h1m4 0h1m5 0h1m7 0h2m4 0h2m7 0h2m4 0h4m8 0h2m4 0h1m1 0h1m7 0h1m-371 1h3m4 0h1m5 0h2m10 0h3m5 0h1m1 0h2m12 0h1m2 0h2m1 0h4m4 0h1m3 0h1m7 0h4m1 0h1m1 0h1m3 0h2m1 0h1m6 0h3m1 0h2m2 0h2m2 0h2m2 0h2m10 0h3m1 0h1m4 0h1m4 0h2m4 0h1m4 0h5m1 0h1m1 0h9m2 0h1m1 0h1m5 0h1m2 0h1m6 0h2m10 0h2m3 0h1m2 0h3m1 0h7m2 0h2m2 0h2m1 0h1m2 0h2m12 0h2m13 0h1m1 0h1m1 0h3m5 0h1m7 0h2m12 0h1m2 0h1m1 0h2m1 0h1m1 0h1m4 0h1m5 0h1m6 0h3m5 0h2m7 0h2m6 0h3m7 0h1m3 0h2m1 0h3m5 0h1m-371 1h2m5 0h1m6 0h1m9 0h2m5 0h1m1 0h1m1 0h2m12 0h1m5 0h4m4 0h2m2 0h1m6 0h9m5 0h2m1 0h1m4 0h3m2 0h1m1 0h1m1 0h3m10 0h1m1 0h1m3 0h5m4 0h1m10 0h1m4 0h1m1 0h1m1 0h3m1 0h2m1 0h1m1 0h2m4 0h1m1 0h2m4 0h1m2 0h1m6 0h2m15 0h2m3 0h2m1 0h4m1 0h1m3 0h1m2 0h4m2 0h2m8 0h1m2 0h3m1 0h1m9 0h1m1 0h1m1 0h1m1 0h3m4 0h1m11 0h1m10 0h3m3 0h3m1 0h1m4 0h3m3 0h1m5 0h4m6 0h2m7 0h3m6 0h1m7 0h1m3 0h2m3 0h1m5 0h1m2 0h2m2 0h3m-379 1h2m4 0h1m1 0h1m4 0h2m7 0h3m3 0h4m12 0h5m5 0h5m4 0h2m1 0h1m7 0h3m1 0h4m1 0h2m1 0h1m1 0h4m3 0h3m2 0h1m1 0h3m6 0h10m2 0h2m1 0h2m4 0h3m8 0h1m4 0h1m1 0h2m4 0h2m1 0h1m7 0h1m2 0h2m2 0h2m1 0h1m25 0h3m4 0h6m1 0h3m1 0h3m1 0h1m11 0h2m1 0h7m7 0h2m1 0h2m2 0h7m11 0h2m11 0h2m3 0h1m3 0h1m6 0h1m1 0h3m1 0h1m2 0h5m7 0h1m9 0h2m5 0h1m7 0h1m3 0h2m3 0h3m3 0h3m1 0h3m-375 1h1m4 0h3m5 0h2m1 0h1m2 0h2m5 0h1m15 0h1m2 0h3m5 0h5m3 0h4m4 0h1m1 0h7m2 0h2m1 0h9m1 0h2m4 0h2m2 0h1m5 0h1m9 0h4m3 0h1m6 0h1m6 0h2m4 0h1m7 0h1m1 0h2m8 0h1m3 0h1m1 0h2m2 0h1m21 0h1m1 0h1m3 0h3m8 0h2m1 0h1m2 0h2m1 0h1m7 0h1m2 0h1m1 0h2m6 0h1m1 0h1m8 0h2m2 0h2m9 0h2m11 0h1m6 0h2m2 0h1m4 0h2m5 0h2m1 0h4m2 0h1m2 0h2m7 0h3m8 0h2m4 0h3m5 0h1m3 0h2m5 0h2m3 0h2m-371 1h1m5 0h2m6 0h5m7 0h1m15 0h1m1 0h4m2 0h1m2 0h2m13 0h6m5 0h4m2 0h3m1 0h6m4 0h2m1 0h3m3 0h1m11 0h1m1 0h1m3 0h2m5 0h3m3 0h3m4 0h2m5 0h1m12 0h1m3 0h1m2 0h1m2 0h2m8 0h1m10 0h4m5 0h3m3 0h1m3 0h3m3 0h3m6 0h2m1 0h1m2 0h2m6 0h3m5 0h5m11 0h2m1 0h1m10 0h2m10 0h2m4 0h1m8 0h2m4 0h1m13 0h2m8 0h2m5 0h1m5 0h2m10 0h1m-368 1h3m6 0h1m9 0h2m7 0h1m15 0h17m1 0h1m1 0h1m1 0h2m1 0h7m4 0h3m1 0h7m1 0h5m8 0h3m2 0h1m10 0h2m1 0h1m4 0h2m5 0h2m3 0h3m5 0h3m3 0h1m6 0h4m1 0h2m3 0h1m1 0h2m3 0h3m2 0h8m7 0h2m9 0h1m2 0h2m1 0h6m3 0h2m6 0h3m11 0h3m4 0h1m2 0h4m2 0h1m6 0h1m1 0h3m2 0h2m6 0h2m8 0h1m2 0h6m4 0h1m1 0h1m1 0h2m4 0h3m1 0h6m1 0h2m2 0h2m8 0h1m5 0h1m6 0h1m8 0h2m-367 1h8m1 0h8m1 0h3m5 0h1m1 0h1m2 0h25m1 0h14m1 0h5m1 0h1m1 0h11m3 0h3m7 0h4m2 0h1m4 0h2m1 0h1m2 0h4m1 0h1m1 0h6m1 0h9m2 0h6m1 0h3m2 0h1m2 0h8m1 0h1m1 0h4m3 0h3m1 0h5m2 0h2m8 0h1m5 0h1m2 0h3m1 0h9m2 0h3m4 0h5m10 0h4m3 0h8m1 0h2m5 0h6m1 0h3m3 0h8m4 0h2m3 0h4m4 0h4m1 0h2m5 0h12m3 0h1m8 0h3m3 0h6m1 0h4m4 0h7m-364 1h1m8 0h3m6 0h3m2 0h1m1 0h1m9 0h1m2 0h1m2 0h2m2 0h2m1 0h2m1 0h2m2 0h1m7 0h2m3 0h4m5 0h5m21 0h2m2 0h5m5 0h3m6 0h1m5 0h1m5 0h1m1 0h3m2 0h2m1 0h1m1 0h2m6 0h6m7 0h1m2 0h1m4 0h2m1 0h3m7 0h2m4 0h2m4 0h1m8 0h1m9 0h1m17 0h2m6 0h1m2 0h1m8 0h2m4 0h1m2 0h1m3 0h1m5 0h3m8 0h5m15 0h3m1 0h1m4 0h1m1 0h3m2 0h2m9 0h1m6 0h1m1 0h1m4 0h1m8 0h1m1 0h1m-364 1h1m6 0h1m1 0h4m4 0h3m2 0h4m8 0h2m1 0h2m1 0h3m1 0h7m1 0h1m1 0h2m7 0h2m2 0h6m3 0h6m10 0h4m8 0h1m6 0h1m5 0h5m4 0h1m4 0h2m5 0h5m3 0h3m8 0h1m5 0h1m7 0h1m1 0h2m3 0h2m4 0h1m19 0h1m1 0h1m5 0h2m9 0h1m16 0h3m5 0h2m1 0h2m5 0h1m3 0h1m3 0h2m1 0h2m3 0h1m4 0h3m25 0h1m2 0h1m1 0h4m3 0h3m1 0h2m3 0h2m8 0h3m3 0h2m1 0h2m3 0h3m5 0h2m1 0h1m-371 1h2m2 0h4m5 0h2m4 0h3m1 0h2m3 0h3m5 0h1m3 0h1m1 0h3m2 0h1m1 0h1m2 0h1m2 0h3m1 0h4m1 0h1m1 0h1m4 0h1m1 0h1m5 0h1m17 0h3m2 0h1m4 0h1m2 0h3m4 0h2m6 0h1m1 0h2m4 0h1m10 0h5m3 0h4m8 0h1m4 0h2m7 0h2m1 0h1m4 0h1m4 0h4m16 0h3m4 0h1m1 0h1m9 0h1m16 0h3m5 0h3m1 0h1m3 0h12m1 0h1m4 0h1m5 0h2m3 0h2m1 0h2m16 0h2m1 0h8m1 0h8m3 0h2m9 0h1m7 0h1m4 0h2m6 0h1m1 0h1m5 0h1m-377 1h2m1 0h1m2 0h2m4 0h5m1 0h1m2 0h4m4 0h2m4 0h2m2 0h6m1 0h4m1 0h2m2 0h3m2 0h1m1 0h5m3 0h2m1 0h1m4 0h5m13 0h4m1 0h3m2 0h2m4 0h1m11 0h3m1 0h1m4 0h1m12 0h3m5 0h2m8 0h1m14 0h3m3 0h2m5 0h1m1 0h1m5 0h1m10 0h3m1 0h1m1 0h4m6 0h1m1 0h2m15 0h1m1 0h2m5 0h5m2 0h3m3 0h1m6 0h2m4 0h1m4 0h1m4 0h6m17 0h1m2 0h1m1 0h1m1 0h1m1 0h6m3 0h1m4 0h3m7 0h3m4 0h4m1 0h4m4 0h2m1 0h1m4 0h2m-374 1h1m2 0h2m3 0h1m4 0h4m8 0h3m1 0h1m2 0h2m3 0h1m14 0h3m1 0h2m1 0h6m5 0h1m8 0h4m10 0h1m6 0h1m7 0h2m11 0h5m4 0h1m11 0h1m7 0h3m3 0h1m4 0h1m13 0h4m4 0h1m4 0h3m5 0h2m10 0h5m3 0h2m5 0h5m4 0h1m9 0h2m14 0h1m6 0h2m11 0h1m3 0h2m8 0h2m16 0h10m1 0h1m3 0h1m2 0h2m6 0h1m9 0h1m7 0h1m4 0h2m3 0h4m4 0h2m-376 1h3m3 0h1m1 0h2m5 0h2m1 0h3m1 0h2m1 0h2m1 0h5m1 0h2m2 0h3m15 0h1m4 0h1m1 0h4m5 0h1m11 0h2m9 0h1m6 0h2m7 0h3m9 0h3m5 0h2m7 0h2m2 0h1m6 0h1m1 0h2m1 0h3m4 0h1m11 0h1m2 0h3m4 0h1m6 0h2m4 0h2m10 0h2m2 0h2m2 0h2m5 0h5m3 0h2m1 0h1m2 0h3m1 0h1m11 0h1m2 0h1m1 0h1m7 0h1m10 0h2m2 0h3m7 0h1m1 0h1m3 0h1m2 0h1m9 0h3m2 0h7m2 0h2m3 0h2m5 0h3m7 0h3m5 0h1m5 0h2m2 0h4m5 0h1m-377 1h2m1 0h8m10 0h2m1 0h4m1 0h2m1 0h2m1 0h2m3 0h2m4 0h1m4 0h5m1 0h8m7 0h1m5 0h1m7 0h4m3 0h3m8 0h1m9 0h1m11 0h1m1 0h1m2 0h3m3 0h4m1 0h4m5 0h2m1 0h6m4 0h1m10 0h2m2 0h3m4 0h1m1 0h1m1 0h1m3 0h1m4 0h2m10 0h2m3 0h2m1 0h2m4 0h1m8 0h4m1 0h1m1 0h3m10 0h3m1 0h4m7 0h1m9 0h3m2 0h4m6 0h3m2 0h2m1 0h2m2 0h1m12 0h3m1 0h1m2 0h4m3 0h1m7 0h1m9 0h1m5 0h3m4 0h1m1 0h1m3 0h2m3 0h2m-360 1h1m6 0h2m1 0h2m1 0h8m1 0h1m1 0h1m3 0h2m3 0h1m4 0h1m15 0h1m5 0h2m10 0h1m1 0h2m11 0h1m9 0h4m7 0h4m4 0h1m2 0h4m10 0h3m1 0h4m1 0h2m2 0h2m9 0h4m3 0h1m1 0h8m3 0h2m1 0h1m1 0h2m11 0h1m4 0h1m7 0h2m3 0h1m8 0h5m4 0h1m1 0h9m1 0h2m7 0h2m8 0h3m3 0h1m1 0h1m8 0h2m7 0h2m11 0h5m1 0h2m1 0h1m1 0h1m3 0h4m4 0h3m7 0h2m6 0h1m4 0h3m4 0h1m-356 1h2m6 0h3m1 0h7m2 0h2m1 0h2m2 0h1m1 0h4m5 0h3m5 0h1m5 0h3m6 0h1m9 0h3m12 0h2m12 0h1m6 0h5m3 0h2m3 0h3m2 0h1m3 0h1m1 0h5m1 0h2m2 0h3m1 0h1m10 0h1m1 0h3m3 0h2m12 0h3m13 0h2m4 0h3m2 0h5m2 0h2m7 0h2m7 0h3m12 0h1m1 0h1m4 0h2m10 0h1m2 0h4m7 0h3m23 0h8m7 0h1m6 0h1m8 0h3m3 0h4m2 0h4m3 0h4m-360 1h3m3 0h8m1 0h5m1 0h6m1 0h1m5 0h1m7 0h1m4 0h2m4 0h2m1 0h1m5 0h2m22 0h4m4 0h2m1 0h1m1 0h2m1 0h4m1 0h1m5 0h1m4 0h1m2 0h3m2 0h2m2 0h3m1 0h1m5 0h1m3 0h2m1 0h1m5 0h2m1 0h1m1 0h6m2 0h2m10 0h2m1 0h2m5 0h1m7 0h2m1 0h2m2 0h4m3 0h1m4 0h1m8 0h1m7 0h3m7 0h1m1 0h6m3 0h3m10 0h2m4 0h1m7 0h2m6 0h1m9 0h1m6 0h3m3 0h3m7 0h4m3 0h3m8 0h1m5 0h2m5 0h1m1 0h1m4 0h1m-373 1h6m6 0h4m2 0h5m1 0h1m1 0h2m1 0h1m1 0h3m1 0h1m3 0h1m1 0h1m4 0h2m7 0h1m2 0h5m4 0h3m6 0h1m21 0h1m7 0h6m1 0h1m4 0h3m5 0h3m2 0h3m1 0h2m1 0h10m4 0h2m2 0h1m1 0h2m5 0h6m5 0h1m13 0h1m1 0h1m2 0h1m1 0h1m2 0h2m7 0h3m1 0h1m1 0h2m5 0h2m3 0h2m7 0h1m7 0h1m9 0h3m1 0h1m2 0h3m3 0h2m11 0h1m3 0h1m7 0h1m1 0h1m5 0h3m5 0h4m1 0h2m4 0h2m3 0h1m12 0h1m5 0h1m8 0h3m2 0h4m4 0h4m3 0h2m1 0h3m-379 1h2m1 0h1m1 0h2m9 0h1m2 0h1m1 0h12m1 0h3m2 0h2m1 0h1m5 0h1m7 0h1m1 0h1m4 0h1m3 0h4m5 0h2m11 0h1m7 0h3m6 0h1m1 0h2m1 0h3m1 0h2m2 0h4m1 0h1m3 0h2m4 0h2m2 0h2m11 0h1m2 0h1m2 0h1m5 0h5m9 0h1m2 0h1m5 0h1m3 0h4m2 0h3m1 0h5m5 0h3m1 0h2m8 0h1m6 0h1m2 0h4m5 0h3m3 0h1m3 0h2m1 0h2m1 0h1m2 0h3m2 0h3m10 0h3m1 0h2m5 0h3m1 0h9m4 0h1m1 0h4m1 0h3m1 0h6m13 0h1m1 0h1m3 0h3m8 0h1m5 0h1m7 0h1m4 0h3m-377 1h9m1 0h1m4 0h2m1 0h3m1 0h1m2 0h1m1 0h2m1 0h4m3 0h1m2 0h1m1 0h1m4 0h2m7 0h3m3 0h1m7 0h2m15 0h4m2 0h2m1 0h1m8 0h3m1 0h6m1 0h1m5 0h3m1 0h7m6 0h1m10 0h2m1 0h2m2 0h1m4 0h1m3 0h1m9 0h2m1 0h2m4 0h2m2 0h3m1 0h1m4 0h4m2 0h1m5 0h1m1 0h1m1 0h2m7 0h2m4 0h5m8 0h1m5 0h2m2 0h1m6 0h1m9 0h1m12 0h4m3 0h2m12 0h1m3 0h2m8 0h1m20 0h3m5 0h2m7 0h2m4 0h3m1 0h1m3 0h1m4 0h1m1 0h1m-378 1h1m8 0h7m5 0h7m1 0h2m3 0h5m2 0h1m1 0h1m4 0h3m8 0h1m2 0h2m8 0h2m13 0h3m1 0h3m1 0h1m1 0h1m7 0h1m1 0h3m5 0h3m5 0h7m3 0h2m2 0h3m18 0h1m3 0h1m3 0h2m8 0h3m13 0h3m4 0h1m2 0h3m6 0h4m14 0h3m1 0h2m7 0h2m5 0h2m1 0h2m6 0h1m9 0h2m13 0h2m2 0h3m12 0h2m3 0h1m8 0h1m20 0h1m8 0h1m8 0h3m4 0h4m2 0h2m3 0h2m-377 1h1m14 0h1m8 0h2m1 0h1m2 0h1m1 0h1m2 0h2m1 0h1m2 0h1m1 0h2m3 0h1m1 0h3m5 0h6m2 0h2m5 0h3m10 0h4m5 0h3m4 0h9m1 0h1m3 0h4m3 0h9m2 0h3m1 0h2m15 0h1m1 0h2m2 0h1m3 0h3m8 0h2m3 0h1m3 0h6m8 0h1m1 0h2m1 0h2m1 0h8m14 0h3m8 0h4m4 0h1m1 0h2m8 0h2m1 0h1m3 0h1m3 0h2m16 0h1m11 0h6m1 0h2m8 0h1m1 0h1m8 0h2m1 0h1m6 0h3m1 0h1m4 0h3m8 0h1m5 0h1m1 0h1m3 0h1m-372 1h1m14 0h4m5 0h4m1 0h4m1 0h8m2 0h1m2 0h1m4 0h1m4 0h2m6 0h3m7 0h1m9 0h1m15 0h1m2 0h1m2 0h1m2 0h3m3 0h1m1 0h2m11 0h1m3 0h2m17 0h3m4 0h2m3 0h2m8 0h2m2 0h2m2 0h3m3 0h1m8 0h2m1 0h2m1 0h2m2 0h6m14 0h1m9 0h1m7 0h3m11 0h3m2 0h2m4 0h1m8 0h1m6 0h1m6 0h1m4 0h1m3 0h1m1 0h2m10 0h3m7 0h1m1 0h8m3 0h3m6 0h1m8 0h3m2 0h2m1 0h1m1 0h6m-357 1h4m13 0h2m6 0h1m3 0h1m4 0h1m3 0h1m1 0h1m16 0h1m9 0h2m14 0h7m2 0h3m3 0h2m12 0h1m23 0h3m5 0h6m3 0h1m3 0h1m4 0h2m4 0h1m2 0h1m9 0h2m1 0h2m1 0h4m2 0h2m16 0h1m9 0h3m5 0h3m6 0h2m1 0h3m1 0h1m2 0h2m4 0h2m6 0h2m6 0h2m4 0h2m3 0h1m4 0h1m1 0h2m10 0h1m9 0h2m7 0h3m3 0h1m6 0h3m8 0h2m4 0h2m1 0h1m3 0h2m2 0h1m-363 1h2m3 0h1m1 0h1m10 0h3m6 0h1m3 0h1m4 0h2m1 0h3m17 0h2m9 0h1m3 0h1m3 0h1m1 0h1m1 0h1m7 0h2m4 0h3m2 0h1m4 0h1m7 0h2m4 0h1m17 0h3m6 0h2m5 0h3m1 0h2m4 0h2m3 0h2m2 0h3m9 0h3m1 0h4m2 0h2m15 0h1m6 0h3m2 0h2m4 0h4m3 0h3m1 0h3m1 0h3m2 0h2m5 0h1m7 0h1m2 0h2m1 0h1m1 0h1m3 0h4m2 0h1m4 0h3m1 0h1m1 0h2m6 0h1m10 0h1m9 0h1m3 0h4m5 0h2m8 0h2m6 0h1m4 0h1m1 0h2m-364 1h3m3 0h4m10 0h2m6 0h1m2 0h1m6 0h1m1 0h3m13 0h1m4 0h2m7 0h1m3 0h3m1 0h6m6 0h3m6 0h1m1 0h2m3 0h2m8 0h1m3 0h2m16 0h1m5 0h2m1 0h3m4 0h2m1 0h1m2 0h1m4 0h2m2 0h2m5 0h1m5 0h1m10 0h1m2 0h2m14 0h1m6 0h1m2 0h1m1 0h3m3 0h2m2 0h1m2 0h1m6 0h1m3 0h1m1 0h1m1 0h2m4 0h3m4 0h2m1 0h5m1 0h1m2 0h3m1 0h4m6 0h4m1 0h1m1 0h1m4 0h1m10 0h1m9 0h1m6 0h1m1 0h1m4 0h1m9 0h2m1 0h1m3 0h2m3 0h2m1 0h2m-380 1h1m15 0h2m1 0h2m3 0h1m1 0h1m15 0h2m2 0h1m2 0h1m3 0h2m7 0h1m2 0h4m1 0h4m3 0h6m2 0h1m3 0h1m1 0h13m1 0h3m5 0h5m2 0h3m2 0h1m1 0h1m2 0h3m1 0h3m14 0h3m3 0h2m1 0h5m3 0h3m1 0h4m5 0h1m1 0h3m3 0h1m1 0h4m1 0h4m8 0h3m1 0h1m12 0h3m4 0h3m1 0h3m1 0h2m3 0h2m1 0h2m2 0h1m3 0h1m2 0h2m2 0h2m3 0h3m4 0h3m3 0h1m2 0h1m2 0h2m3 0h3m3 0h2m3 0h2m1 0h2m3 0h3m4 0h3m1 0h1m1 0h2m1 0h2m4 0h4m2 0h3m1 0h1m2 0h3m1 0h1m2 0h3m8 0h3m4 0h1m3 0h2m-377 1h1m14 0h6m3 0h6m1 0h1m5 0h7m2 0h4m11 0h2m1 0h6m3 0h1m8 0h1m2 0h1m2 0h14m1 0h3m9 0h3m1 0h4m1 0h4m4 0h5m5 0h1m7 0h2m4 0h3m2 0h2m4 0h2m5 0h2m4 0h5m3 0h2m4 0h2m3 0h1m10 0h3m11 0h4m3 0h4m1 0h7m1 0h2m5 0h2m2 0h2m3 0h1m8 0h2m3 0h4m2 0h2m1 0h4m4 0h1m2 0h1m7 0h3m8 0h1m5 0h10m3 0h5m4 0h3m4 0h3m4 0h1m8 0h3m4 0h1m1 0h4m-377 1h3m13 0h2m1 0h2m8 0h8m10 0h1m18 0h4m2 0h1m8 0h5m15 0h1m1 0h3m8 0h3m14 0h2m8 0h2m8 0h1m6 0h5m5 0h1m4 0h1m1 0h2m1 0h1m1 0h5m2 0h1m1 0h3m2 0h2m3 0h1m10 0h3m11 0h4m6 0h3m5 0h1m2 0h2m5 0h1m7 0h1m7 0h1m1 0h1m2 0h1m12 0h1m3 0h2m1 0h2m18 0h1m1 0h2m1 0h1m3 0h1m4 0h2m12 0h3m4 0h3m4 0h2m9 0h2m3 0h2m1 0h1m3 0h2m-378 1h5m1 0h4m4 0h3m1 0h3m6 0h2m14 0h2m2 0h1m6 0h1m8 0h1m6 0h2m24 0h3m15 0h2m9 0h1m4 0h5m11 0h3m4 0h1m1 0h1m1 0h1m5 0h1m1 0h1m5 0h2m1 0h4m7 0h1m3 0h4m4 0h1m4 0h2m1 0h1m2 0h3m1 0h1m8 0h1m2 0h2m7 0h2m3 0h2m4 0h1m3 0h2m8 0h1m7 0h3m2 0h1m12 0h1m2 0h3m21 0h2m1 0h1m1 0h5m1 0h3m5 0h2m9 0h2m5 0h3m3 0h2m9 0h1m6 0h1m2 0h1m-372 1h2m3 0h2m3 0h1m5 0h2m1 0h1m18 0h1m3 0h2m2 0h2m1 0h2m1 0h2m4 0h1m8 0h3m1 0h1m1 0h6m3 0h1m1 0h1m2 0h2m2 0h1m19 0h2m3 0h1m2 0h4m7 0h1m2 0h1m7 0h1m6 0h5m5 0h2m1 0h1m6 0h1m11 0h1m7 0h1m4 0h1m1 0h3m1 0h4m3 0h3m8 0h1m10 0h1m1 0h1m2 0h1m5 0h2m2 0h3m8 0h1m9 0h1m2 0h1m7 0h1m4 0h1m1 0h1m27 0h1m3 0h1m1 0h3m6 0h1m1 0h1m10 0h2m6 0h1m4 0h2m8 0h3m4 0h1m2 0h1m-378 1h4m2 0h2m4 0h4m4 0h1m2 0h5m14 0h2m3 0h5m1 0h5m1 0h5m2 0h3m1 0h2m3 0h4m5 0h9m1 0h4m4 0h2m1 0h6m7 0h9m1 0h2m1 0h1m3 0h12m4 0h3m1 0h2m3 0h4m1 0h2m7 0h3m4 0h1m1 0h3m2 0h4m2 0h4m1 0h2m4 0h2m1 0h3m1 0h1m1 0h5m2 0h2m9 0h1m1 0h1m1 0h2m1 0h1m5 0h2m2 0h1m10 0h1m9 0h1m2 0h1m6 0h7m1 0h1m6 0h4m17 0h2m2 0h5m4 0h2m2 0h3m3 0h1m5 0h4m3 0h2m1 0h1m2 0h3m8 0h1m4 0h1m1 0h4m-380 1h1m1 0h2m15 0h2m3 0h1m1 0h2m6 0h2m1 0h3m1 0h3m2 0h3m1 0h6m1 0h1m7 0h2m1 0h4m29 0h10m7 0h1m5 0h1m4 0h3m18 0h4m5 0h3m4 0h2m8 0h1m3 0h5m2 0h2m1 0h2m3 0h3m8 0h7m5 0h1m1 0h1m10 0h2m1 0h6m4 0h4m1 0h3m6 0h3m1 0h1m1 0h1m4 0h2m2 0h1m5 0h2m2 0h2m1 0h3m5 0h5m6 0h5m4 0h4m1 0h4m5 0h2m5 0h1m2 0h2m7 0h2m4 0h3m3 0h2m8 0h3m2 0h6m-380 1h4m1 0h1m4 0h1m12 0h3m7 0h7m3 0h1m4 0h2m2 0h1m2 0h3m6 0h6m1 0h1m26 0h1m3 0h1m3 0h2m1 0h2m6 0h2m4 0h2m4 0h3m20 0h2m3 0h5m3 0h3m7 0h4m2 0h1m1 0h2m3 0h3m3 0h2m1 0h1m7 0h1m1 0h3m1 0h2m1 0h1m3 0h2m10 0h1m8 0h1m7 0h1m3 0h2m4 0h1m3 0h4m3 0h1m3 0h2m6 0h1m1 0h5m1 0h1m6 0h5m4 0h1m4 0h1m3 0h1m4 0h1m1 0h1m1 0h1m6 0h1m5 0h2m1 0h2m6 0h3m3 0h2m4 0h4m9 0h1m-369 1h20m2 0h4m13 0h1m3 0h10m3 0h1m1 0h3m5 0h11m1 0h1m1 0h1m2 0h20m1 0h2m1 0h3m9 0h1m2 0h1m1 0h1m3 0h2m1 0h8m1 0h9m3 0h4m19 0h5m3 0h2m2 0h2m3 0h5m5 0h2m2 0h8m1 0h1m5 0h16m4 0h3m5 0h1m4 0h1m3 0h4m3 0h1m1 0h1m2 0h1m5 0h1m8 0h1m3 0h3m4 0h3m2 0h2m2 0h2m3 0h1m4 0h4m5 0h2m7 0h2m1 0h1m1 0h1m1 0h3m2 0h3m2 0h4m4 0h3m7 0h2m-352 1h2m5 0h1m12 0h2m2 0h4m1 0h2m2 0h1m3 0h4m16 0h6m1 0h1m18 0h1m6 0h2m8 0h2m1 0h4m4 0h2m7 0h2m11 0h1m30 0h2m4 0h1m7 0h1m9 0h1m1 0h1m1 0h1m2 0h3m4 0h1m3 0h3m1 0h1m1 0h2m1 0h1m1 0h2m3 0h2m1 0h1m4 0h3m1 0h1m1 0h1m3 0h10m2 0h1m4 0h2m7 0h1m3 0h1m9 0h1m3 0h1m1 0h4m1 0h2m5 0h1m1 0h1m4 0h3m10 0h7m4 0h1m5 0h1m6 0h1m8 0h3m-365 1h1m9 0h2m5 0h2m13 0h1m5 0h2m1 0h1m1 0h2m3 0h2m1 0h1m4 0h2m9 0h3m1 0h2m2 0h1m4 0h1m5 0h1m1 0h1m4 0h2m5 0h4m11 0h1m6 0h2m7 0h2m11 0h1m18 0h2m11 0h1m3 0h2m7 0h1m8 0h6m1 0h1m7 0h1m2 0h1m1 0h1m1 0h8m1 0h1m4 0h3m6 0h4m3 0h1m2 0h1m9 0h1m5 0h1m7 0h1m3 0h1m8 0h1m3 0h1m5 0h2m5 0h5m5 0h2m10 0h1m4 0h2m3 0h2m4 0h1m7 0h3m8 0h1m-375 1h15m2 0h1m3 0h3m4 0h1m1 0h1m9 0h3m5 0h4m4 0h5m3 0h2m1 0h5m5 0h4m1 0h4m2 0h15m10 0h8m1 0h10m2 0h1m8 0h11m5 0h1m2 0h11m1 0h12m5 0h4m4 0h7m2 0h9m1 0h1m1 0h1m1 0h2m2 0h2m9 0h2m5 0h3m6 0h1m2 0h1m3 0h4m9 0h1m5 0h1m5 0h2m2 0h3m7 0h3m2 0h3m1 0h4m4 0h4m6 0h3m1 0h6m3 0h8m3 0h4m1 0h4m6 0h1m8 0h2m-362 1h4m1 0h1m3 0h3m2 0h3m1 0h1m3 0h1m1 0h2m8 0h1m6 0h3m4 0h2m2 0h1m4 0h3m1 0h1m11 0h1m2 0h1m7 0h1m3 0h2m10 0h1m5 0h2m1 0h2m6 0h12m12 0h1m1 0h5m10 0h3m19 0h3m8 0h1m4 0h2m4 0h6m13 0h1m7 0h1m6 0h1m1 0h1m3 0h2m3 0h3m1 0h1m7 0h4m1 0h1m2 0h1m1 0h2m3 0h1m6 0h2m4 0h1m4 0h2m3 0h1m14 0h1m2 0h1m5 0h2m9 0h3m4 0h3m2 0h4m3 0h3m7 0h2m-360 1h3m5 0h1m4 0h3m2 0h5m8 0h4m3 0h1m5 0h1m1 0h1m1 0h2m6 0h3m10 0h1m2 0h2m6 0h2m4 0h1m9 0h2m9 0h1m29 0h5m2 0h1m9 0h1m2 0h1m21 0h1m8 0h1m4 0h2m1 0h1m2 0h4m14 0h2m6 0h2m5 0h4m4 0h1m4 0h4m8 0h5m1 0h4m3 0h2m5 0h3m3 0h1m5 0h2m1 0h3m2 0h1m10 0h2m2 0h1m5 0h2m11 0h1m6 0h1m5 0h1m5 0h2m7 0h4m-372 1h1m8 0h1m6 0h2m4 0h1m4 0h2m2 0h1m11 0h1m3 0h1m1 0h1m3 0h3m3 0h1m5 0h1m12 0h1m10 0h2m4 0h1m19 0h2m29 0h2m2 0h4m8 0h1m3 0h1m1 0h1m18 0h2m8 0h1m3 0h1m1 0h3m1 0h1m1 0h3m23 0h1m8 0h1m3 0h1m4 0h3m9 0h1m4 0h2m3 0h1m4 0h1m11 0h1m4 0h4m4 0h3m10 0h1m2 0h1m4 0h1m13 0h1m6 0h1m4 0h1m7 0h1m-369 1h11m6 0h1m5 0h3m1 0h1m2 0h2m7 0h1m11 0h1m2 0h4m3 0h1m2 0h7m2 0h1m1 0h1m9 0h1m4 0h5m1 0h1m1 0h2m3 0h10m10 0h2m20 0h1m1 0h1m6 0h2m1 0h1m1 0h2m8 0h2m3 0h9m1 0h6m3 0h2m1 0h2m1 0h1m5 0h2m2 0h11m3 0h3m9 0h1m6 0h1m7 0h2m4 0h2m2 0h4m1 0h3m5 0h5m1 0h1m3 0h1m3 0h2m1 0h1m4 0h2m3 0h1m5 0h3m4 0h3m9 0h2m2 0h1m4 0h2m12 0h3m4 0h2m3 0h6m2 0h3m-365 1h2m1 0h2m6 0h3m5 0h4m2 0h2m3 0h1m1 0h1m4 0h2m4 0h2m2 0h1m4 0h1m2 0h1m1 0h1m6 0h2m1 0h5m1 0h1m1 0h5m2 0h2m4 0h4m1 0h1m1 0h2m9 0h1m4 0h1m1 0h1m2 0h1m2 0h1m1 0h1m1 0h1m1 0h1m2 0h3m7 0h4m6 0h5m6 0h1m2 0h1m13 0h2m5 0h4m1 0h1m2 0h3m6 0h4m2 0h1m3 0h2m2 0h3m2 0h2m7 0h2m1 0h1m2 0h2m6 0h4m5 0h1m5 0h2m2 0h4m6 0h2m2 0h1m1 0h1m2 0h1m2 0h2m1 0h1m1 0h1m1 0h2m2 0h1m7 0h3m9 0h1m1 0h3m2 0h2m6 0h1m7 0h2m1 0h1m3 0h4m2 0h5m4 0h1m4 0h2m-365 1h4m7 0h2m3 0h2m1 0h1m1 0h1m2 0h2m2 0h2m1 0h2m2 0h3m3 0h6m3 0h2m1 0h1m2 0h3m3 0h3m2 0h12m1 0h9m1 0h6m8 0h2m3 0h4m1 0h2m1 0h8m1 0h4m7 0h4m6 0h5m5 0h2m1 0h4m6 0h4m1 0h4m4 0h3m1 0h1m3 0h2m6 0h1m2 0h1m1 0h2m2 0h3m1 0h6m1 0h1m7 0h4m1 0h1m7 0h3m7 0h1m6 0h1m4 0h2m3 0h10m1 0h2m2 0h4m1 0h4m2 0h1m5 0h2m1 0h2m8 0h5m2 0h3m6 0h1m6 0h5m4 0h1m1 0h1m4 0h3m3 0h2m5 0h2m-367 1h1m10 0h1m4 0h1m1 0h4m2 0h1m8 0h2m10 0h1m1 0h2m5 0h2m3 0h1m2 0h1m1 0h2m1 0h1m11 0h1m9 0h2m11 0h3m47 0h1m11 0h1m5 0h1m3 0h2m3 0h5m1 0h3m3 0h3m5 0h4m5 0h1m2 0h1m6 0h2m13 0h1m9 0h1m6 0h1m5 0h3m1 0h1m1 0h1m4 0h1m5 0h1m3 0h1m2 0h2m12 0h1m4 0h1m1 0h2m5 0h1m8 0h2m3 0h1m5 0h1m15 0h3m4 0h1m4 0h4m6 0h1m-367 1h1m10 0h1m4 0h1m4 0h1m2 0h1m9 0h1m10 0h1m2 0h1m6 0h1m3 0h1m1 0h1m5 0h1m1 0h1m9 0h1m4 0h1m16 0h4m47 0h1m11 0h1m4 0h1m4 0h2m6 0h4m1 0h2m2 0h3m5 0h1m1 0h2m5 0h1m2 0h1m21 0h1m9 0h1m6 0h1m4 0h6m1 0h1m4 0h1m5 0h2m2 0h1m3 0h1m12 0h1m3 0h1m8 0h2m8 0h2m3 0h1m5 0h1m15 0h1m5 0h3m2 0h1m2 0h2m6 0h1m-367 1h1m10 0h1m4 0h1m3 0h2m2 0h1m9 0h1m10 0h1m2 0h1m5 0h1m4 0h1m1 0h1m5 0h3m9 0h1m3 0h2m15 0h5m47 0h1m11 0h1m3 0h1m5 0h2m10 0h1m1 0h1m2 0h3m5 0h2m1 0h1m5 0h1m2 0h1m21 0h1m9 0h1m6 0h1m6 0h2m2 0h1m5 0h1m6 0h1m2 0h1m2 0h1m12 0h1m4 0h1m8 0h2m7 0h1m5 0h1m5 0h1m15 0h1m7 0h1m2 0h1m2 0h2m6 0h1" stroke="#000" stroke-width="1" transform="translate(0 0.5)" shape-rendering="crispEdges"/>
</g></g>
<line x1="151.5" y1="56.0" x2="151.5" y2="436.0" stroke="#000" stroke-width="1"/>
<line x1="108.0" y1="99.5" x2="488.0" y2="99.5" stroke="#000" stroke-width="1"/>
<line x1="102.0" y1="99.5" x2="108.0" y2="99.5" stroke="#000" stroke-width="1"/>
<line x1="151.5" y1="436.0" x2="151.5" y2="442.0" stroke="#000" stroke-width="1"/>
<line x1="195.5" y1="56.0" x2="195.5" y2="436.0" stroke="#000" stroke-width="1"/>
<line x1="108.0" y1="143.5" x2="488.0" y2="143.5" stroke="#000" stroke-width="1"/>
<line x1="102.0" y1="143.5" x2="108.0" y2="143.5" stroke="#000" stroke-width="1"/>
<line x1="195.5" y1="436.0" x2="195.5" y2="442.0" stroke="#000" stroke-width="1"/>
<line x1="238.5" y1="56.0" x2="238.5" y2="436.0" stroke="#000" stroke-width="1"/>
<line x1="108.0" y1="186.5" x2="488.0" y2="186.5" stroke="#000" stroke-width="1"/>
<line x1="102.0" y1="186.5" x2="108.0" y2="186.5" stroke="#000" stroke-width="1"/>
<line x1="238.5" y1="436.0" x2="238.5" y2="442.0" stroke="#000" stroke-width="1"/>
<line x1="282.5" y1="56.0" x2="282.5" y2="436.0" stroke="#000" stroke-width="1"/>
<line x1="108.0" y1="230.5" x2="488.0" y2="230.5" stroke="#000" stroke-width="1"/>
<line x1="102.0" y1="230.5" x2="108.0" y2="230.5" stroke="#000" stroke-width="1"/>
<line x1="282.5" y1="436.0" x2="282.5" y2="442.0" stroke="#000" stroke-width="1"/>
<line x1="325.5" y1="56.0" x2="325.5" y2="436.0" stroke="#000" stroke-width="1"/>
<line x1="108.0" y1="273.5" x2="488.0" y2="273.5" stroke="#000" stroke-width="1"/>
<line x1="102.0" y1="273.5" x2="108.0" y2="273.5" stroke="#000" stroke-width="1"/>
<line x1="325.5" y1="436.0" x2="325.5" y2="442.0" stroke="#000" stroke-width="1"/>
<line x1="369.5" y1="56.0" x2="369.5" y2="436.0" stroke="#000" stroke-width="1"/>
<line x1="108.0" y1="317.5" x2="488.0" y2="317.5" stroke="#000" stroke-width="1"/>
<line x1="102.0" y1="317.5" x2="108.0" y2="317.5" stroke="#000" stroke-width="1"/>
<line x1="369.5" y1="436.0" x2="369.5" y2="442.0" stroke="#000" stroke-width="1"/>
<line x1="413.5" y1="56.0" x2="413.5" y2="436.0" stroke="#000" stroke-width="1"/>
<line x1="108.0" y1="361.5" x2="488.0" y2="361.5" stroke="#000" stroke-width="1"/>
<line x1="102.0" y1="361.5" x2="108.0" y2="361.5" stroke="#000" stroke-width="1"/>
<line x1="413.5" y1="436.0" x2="413.5" y2="442.0" stroke="#000" stroke-width="1"/>
<line x1="456.5" y1="56.0" x2="456.5" y2="436.0" stroke="#000" stroke-width="1"/>
<line x1="108.0" y1="404.5" x2="488.0" y2="404.5" stroke="#000" stroke-width="1"/>
<line x1="102.0" y1="404.5" x2="108.0" y2="404.5" stroke="#000" stroke-width="1"/>
<line x1="456.5" y1="436.0" x2="456.5" y2="442.0" stroke="#000" stroke-width="1"/>
<rect x="108.5" y="56.5" width="379.0" height="379.0" fill="none" stroke="#000" stroke-width="1"/>
<defs><linearGradient id="cb" x1="0" x2="1" y1="0" y2="0"><stop offset="0.0000" stop-color="#ff0000"/><stop offset="0.2222" stop-color="#ffff00"/><stop offset="0.4444" stop-color="#00ff00"/><stop offset="0.6667" stop-color="#00ffff"/><stop offset="0.8889" stop-color="#0000ff"/><stop offset="1.0000" stop-color="#8000ff"/></linearGradient></defs>
<rect x="201.0" y="523.0" width="194.0" height="23.0" fill="url(#cb)"/>
<line x1="201.0" y1="546.5" x2="395.0" y2="546.5" stroke="#000" stroke-width="1"/>
<line x1="201.5" y1="523.0" x2="201.5" y2="546.0" stroke="#000" stroke-width="1"/>
<line x1="201.5" y1="546.0" x2="201.5" y2="553.0" stroke="#000" stroke-width="1"/>
<line x1="259.5" y1="546.0" x2="259.5" y2="553.0" stroke="#000" stroke-width="1"/>
<line x1="316.5" y1="546.0" x2="316.5" y2="553.0" stroke="#000" stroke-width="1"/>
<line x1="374.5" y1="546.0" x2="374.5" y2="553.0" stroke="#000" stroke-width="1"/>
</svg>
<div class="t" id="title">CITRATE SYNTHASE (1csh)</div>
<div class="yl" style="left:38.5px;top:93.1px">50</div>
<div class="xl" style="left:121.6px;top:444.6px">50</div>
<div class="yl" style="left:38.5px;top:136.7px">100</div>
<div class="xl" style="left:165.2px;top:444.6px">100</div>
<div class="yl" style="left:38.5px;top:180.3px">150</div>
<div class="xl" style="left:208.8px;top:444.6px">150</div>
<div class="yl" style="left:38.5px;top:223.8px">200</div>
<div class="xl" style="left:252.3px;top:444.6px">200</div>
<div class="yl" style="left:38.5px;top:267.4px">250</div>
<div class="xl" style="left:295.9px;top:444.6px">250</div>
<div class="yl" style="left:38.5px;top:311.0px">300</div>
<div class="xl" style="left:339.5px;top:444.6px">300</div>
<div class="yl" style="left:38.5px;top:354.6px">350</div>
<div class="xl" style="left:383.1px;top:444.6px">350</div>
<div class="yl" style="left:38.5px;top:398.2px">400</div>
<div class="xl" style="left:426.7px;top:444.6px">400</div>
<div class="cl" style="left:171.0px;top:559.5px">0.0</div>
<div class="cl" style="left:228.8px;top:559.5px">20.0</div>
<div class="cl" style="left:286.6px;top:559.5px">40.0</div>
<div class="cl" style="left:344.4px;top:559.5px">60.0</div>
<div class="t" id="xlab">sequence number</div>
<div class="t" id="ylab">sequence number</div>
<div class="t" id="clab">distance (representative atom : CA)</div>
</body></html>
